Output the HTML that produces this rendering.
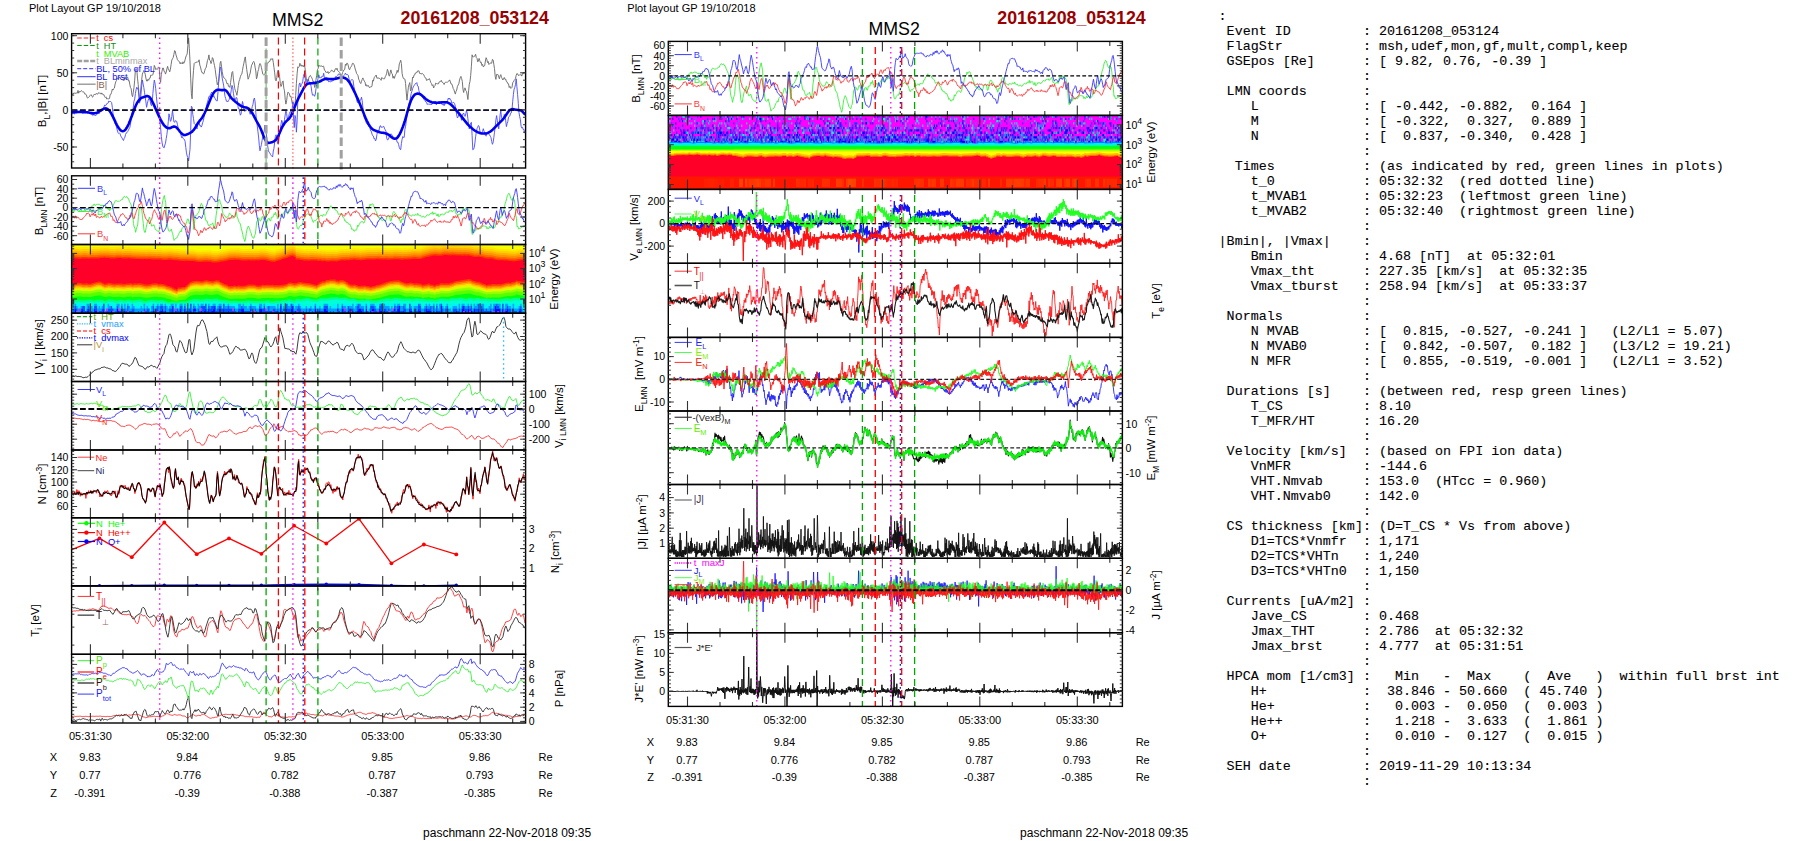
<!DOCTYPE html>
<html><head><meta charset="utf-8"><title>MMS2 20161208_053124</title>
<style>
html,body{margin:0;padding:0;background:#fff;width:1804px;height:841px;overflow:hidden}
body{position:relative;font-family:"Liberation Sans",sans-serif}
pre{position:absolute;left:1218.6px;top:9.1px;margin:0;font-family:"Liberation Mono",monospace;font-size:13.36px;line-height:15px;color:#000;white-space:pre;-webkit-text-stroke:0.1px #000}
</style></head><body>
<svg width="1804" height="841" viewBox="0 0 1804 841" font-family="Liberation Sans, sans-serif" style="position:absolute;left:0;top:0">
<rect x="71.6" y="244.5" width="454.0" height="68.7" fill="#f4ff00"/>
<path d="M71.6 313.2V246.8h2v-.1h2v.2h2v.3h2v.1h2v-.2h2v-.1h2v.1h2v.2h2v-.3h4v.1h2v-.1h2v-.1h2v-.4h4v-.2h2v.2h4v.4h2v.1h2v.1h2v-.4h2v-.1h4v.5h2v-.2h4v-.1h2v.2h2v.3h4v.2h4v.1h2v.1h2v-.1h2v.2h2v-.2h2v.1h2v.2h4v.2h2v-.2h2v.2h2v.3h2v.1h4v-.3h4v.3h2v.2h4v.3h2v.3h2v.1h4v-.1h2v.2h4v.1h2v.1h2v.5h2v.4h2v-.1h2v-.2h2v-.1h4v.1h4v.6h2v.2h4v-.4h2v-.5h2v-.1h2v-.4h2v-.4h2v-.6h2v-.3h4v-.2h2v.1h4v.4h2v.2h2v.1h2v-.1h2v-.1h2v.2h2v-.1h2v.2h2v-.3h2v.1h2v-.4h4v.1h2v.3h2v.6h2v.6h2v.2h2v.1h2v-.9h2v-.5h2v-.6h2v-.8h2v-.6h2v-.6h2v-.7h2v-.6h2v-.5h2v.8h2v2.6h2v.1h2v.5h2v.2h2v.4h2v-.1h2v.2h2v-.3h4v.1h4v.4h2v-.2h2v.5h2v-.2h2v.5h2v-.1h2v-.2h2v-.1h2v.1h2v.1h2v-.4h2v-.4h2v-.3h2v.1h2v-.2h2v.1h2v-.4h2v-.1h2v-.2h2v.3h4v.4h2v-.3h2v-.1h2v-.3h2v-.1h8v-.2h2v-.1h2v.3h2v.1h4v-.2h2v.3h2v-.1h4v-.4h4v.1h2v.1h2v.3h2v-.4h2v.1h2v-.2h4v-.3h2v-.2h2v.2h2v.1h4v-.8h2v-.5h2v-.6h2v-.4h2v-.5h2v-.2h40v.4h2v.6h4v-.2h2v.3h2v.4h2v.7h2v.3h2v.2h2v-.1h2v.2h2v.6h2v.6h2v.2h2v.1h4v.1h2v.2h2v.2h2v.3h2v.1h2v.1h2v-.4h2v-.2h2v-.4h2v-.2h4V313.2z" fill="#ffe800"/>
<path d="M71.6 313.2V248.8h2v-.1h2v.2h2v.3h2v.1h2v-.2h2v-.1h2v.1h2v.2h2v-.3h4v.1h2v-.1h2v-.1h2v-.4h4v-.2h2v.2h4v.4h2v.1h2v.1h2v-.4h2v-.1h4v.5h2v-.2h4v-.1h2v.2h2v.3h4v.2h4v.1h2v.1h2v-.1h2v.2h2v-.2h2v.1h2v.2h4v.2h2v-.2h2v.2h2v.3h2v.1h4v-.3h4v.3h2v.2h4v.3h2v.3h2v.1h4v-.1h2v.2h4v.1h2v.1h2v.5h2v.4h2v-.1h2v-.2h2v-.1h4v.1h4v.6h2v.2h4v-.4h2v-.5h2v-.1h2v-.4h2v-.4h2v-.6h2v-.3h4v-.2h2v.1h4v.4h2v.2h2v.1h2v-.1h2v-.1h2v.2h2v-.1h2v.2h2v-.3h2v.1h2v-.4h4v.1h2v.3h2v.6h2v.6h2v.2h2v.1h2v-.9h2v-.5h2v-.6h2v-.8h2v-.6h2v-.6h2v-.7h2v-.6h2v-.5h2v.8h2v2.6h2v.1h2v.5h2v.2h2v.4h2v-.1h2v.2h2v-.3h4v.1h4v.4h2v-.2h2v.5h2v-.2h2v.5h2v-.1h2v-.2h2v-.1h2v.1h2v.1h2v-.4h2v-.4h2v-.3h2v.1h2v-.2h2v.1h2v-.4h2v-.1h2v-.2h2v.3h4v.4h2v-.3h2v-.1h2v-.3h2v-.1h8v-.2h2v-.1h2v.3h2v.1h4v-.2h2v.3h2v-.1h4v-.4h4v.1h2v.1h2v.3h2v-.4h2v.1h2v-.2h4v-.3h2v-.2h2v.2h2v.1h4v-.8h2v-.5h2v-.6h2v-.4h2v-.5h2v-.4h2v-.2h2v.1h2v.1h4v-.4h2v-.4h4v.2h2v.2h2v-.2h2v.1h2v.2h2v.1h2v-.1h2v.2h2v-.3h2v.3h2v-.1h2v.4h2v.4h2v.6h4v-.2h2v.3h2v.4h2v.7h2v.3h2v.2h2v-.1h2v.2h2v.6h2v.6h2v.2h2v.1h4v.1h2v.2h2v.2h2v.3h2v.1h2v.1h2v-.4h2v-.2h2v-.4h2v-.2h4V313.2z" fill="#ffd000"/>
<path d="M71.6 313.2V250.9h2v-.1h2v.2h2v.3h2v.1h2v-.2h2v-.1h2v.1h2v.2h2v-.3h4v.1h2v-.1h2v-.1h2v-.4h4v-.2h2v.2h4v.4h2v.1h2v.1h2v-.4h2v-.1h4v.5h2v-.2h4v-.1h2v.2h2v.3h4v.2h4v.1h2v.1h2v-.1h2v.2h2v-.2h2v.1h2v.2h4v.2h2v-.2h2v.2h2v.3h2v.1h4v-.3h4v.3h2v.2h4v.3h2v.3h2v.1h4v-.1h2v.2h4v.1h2v.1h2v.5h2v.4h2v-.1h2v-.2h2v-.1h4v.1h4v.6h2v.2h4v-.4h2v-.5h2v-.1h2v-.4h2v-.4h2v-.6h2v-.3h4v-.2h2v.1h4v.4h2v.2h2v.1h2v-.1h2v-.1h2v.2h2v-.1h2v.2h2v-.3h2v.1h2v-.4h4v.1h2v.3h2v.6h2v.6h2v.2h2v.1h2v-.9h2v-.5h2v-.6h2v-.8h2v-.6h2v-.6h2v-.7h2v-.6h2v-.5h2v.8h2v2.6h2v.1h2v.5h2v.2h2v.4h2v-.1h2v.2h2v-.3h4v.1h4v.4h2v-.2h2v.5h2v-.2h2v.5h2v-.1h2v-.2h2v-.1h2v.1h2v.1h2v-.4h2v-.4h2v-.3h2v.1h2v-.2h2v.1h2v-.4h2v-.1h2v-.2h2v.3h4v.4h2v-.3h2v-.1h2v-.3h2v-.1h8v-.2h2v-.1h2v.3h2v.1h4v-.2h2v.3h2v-.1h4v-.4h4v.1h2v.1h2v.3h2v-.4h2v.1h2v-.2h4v-.3h2v-.2h2v.2h2v.1h4v-.8h2v-.5h2v-.6h2v-.4h2v-.5h2v-.4h2v-.2h2v.1h2v.1h4v-.4h2v-.4h4v.2h2v.2h2v-.2h2v.1h2v.2h2v.1h2v-.1h2v.2h2v-.3h2v.3h2v-.1h2v.4h2v.4h2v.6h4v-.2h2v.3h2v.4h2v.7h2v.3h2v.2h2v-.1h2v.2h2v.6h2v.6h2v.2h2v.1h4v.1h2v.2h2v.2h2v.3h2v.1h2v.1h2v-.4h2v-.2h2v-.4h2v-.2h4V313.2z" fill="#ffb000"/>
<path d="M71.6 313.2V252.9h2v-.1h2v.2h2v.3h2v.1h2v-.2h2v-.1h2v.1h2v.2h2v-.3h4v.1h2v-.1h2v-.1h2v-.4h4v-.2h2v.2h4v.4h2v.1h2v.1h2v-.4h2v-.1h4v.5h2v-.2h4v-.1h2v.2h2v.3h4v.2h4v.1h2v.1h2v-.1h2v.2h2v-.2h2v.1h2v.2h4v.2h2v-.2h2v.2h2v.3h2v.1h4v-.3h4v.3h2v.2h4v.3h2v.3h2v.1h4v-.1h2v.2h4v.1h2v.1h2v.5h2v.4h2v-.1h2v-.2h2v-.1h4v.1h4v.6h2v.2h4v-.4h2v-.5h2v-.1h2v-.4h2v-.4h2v-.6h2v-.3h4v-.2h2v.1h4v.4h2v.2h2v.1h2v-.1h2v-.1h2v.2h2v-.1h2v.2h2v-.3h2v.1h2v-.4h4v.1h2v.3h2v.6h2v.6h2v.2h2v.1h2v-.9h2v-.5h2v-.6h2v-.8h2v-.6h2v-.6h2v-.7h2v-.6h2v-.5h2v.8h2v2.6h2v.1h2v.5h2v.2h2v.4h2v-.1h2v.2h2v-.3h4v.1h4v.4h2v-.2h2v.5h2v-.2h2v.5h2v-.1h2v-.2h2v-.1h2v.1h2v.1h2v-.4h2v-.4h2v-.3h2v.1h2v-.2h2v.1h2v-.4h2v-.1h2v-.2h2v.3h4v.4h2v-.3h2v-.1h2v-.3h2v-.1h8v-.2h2v-.1h2v.3h2v.1h4v-.2h2v.3h2v-.1h4v-.4h4v.1h2v.1h2v.3h2v-.4h2v.1h2v-.2h4v-.3h2v-.2h2v.2h2v.1h4v-.8h2v-.5h2v-.6h2v-.4h2v-.5h2v-.4h2v-.2h2v.1h2v.1h4v-.4h2v-.4h4v.2h2v.2h2v-.2h2v.1h2v.2h2v.1h2v-.1h2v.2h2v-.3h2v.3h2v-.1h2v.4h2v.4h2v.6h4v-.2h2v.3h2v.4h2v.7h2v.3h2v.2h2v-.1h2v.2h2v.6h2v.6h2v.2h2v.1h4v.1h2v.2h2v.2h2v.3h2v.1h2v.1h2v-.4h2v-.2h2v-.4h2v-.2h4V313.2z" fill="#ff9000"/>
<path d="M71.6 313.2V254.9h2v-.1h2v.2h2v.3h2v.1h2v-.2h2v-.1h2v.1h2v.2h2v-.3h4v.1h2v-.1h2v-.1h2v-.4h4v-.2h2v.2h4v.4h2v.1h2v.1h2v-.4h2v-.1h4v.5h2v-.2h4v-.1h2v.2h2v.3h4v.2h4v.1h2v.1h2v-.1h2v.2h2v-.2h2v.1h2v.2h4v.2h2v-.2h2v.2h2v.3h2v.1h4v-.3h4v.3h2v.2h4v.3h2v.3h2v.1h4v-.1h2v.2h4v.1h2v.1h2v.5h2v.4h2v-.1h2v-.2h2v-.1h4v.1h4v.6h2v.2h4v-.4h2v-.5h2v-.1h2v-.4h2v-.4h2v-.6h2v-.3h4v-.2h2v.1h4v.4h2v.2h2v.1h2v-.1h2v-.1h2v.2h2v-.1h2v.2h2v-.3h2v.1h2v-.4h4v.1h2v.3h2v.6h2v.6h2v.2h2v.1h2v-.9h2v-.5h2v-.6h2v-.8h2v-.6h2v-.6h2v-.7h2v-.6h2v-.5h2v.8h2v2.6h2v.1h2v.5h2v.2h2v.4h2v-.1h2v.2h2v-.3h4v.1h4v.4h2v-.2h2v.5h2v-.2h2v.5h2v-.1h2v-.2h2v-.1h2v.1h2v.1h2v-.4h2v-.4h2v-.3h2v.1h2v-.2h2v.1h2v-.4h2v-.1h2v-.2h2v.3h4v.4h2v-.3h2v-.1h2v-.3h2v-.1h8v-.2h2v-.1h2v.3h2v.1h4v-.2h2v.3h2v-.1h4v-.4h4v.1h2v.1h2v.3h2v-.4h2v.1h2v-.2h4v-.3h2v-.2h2v.2h2v.1h4v-.8h2v-.5h2v-.6h2v-.4h2v-.5h2v-.4h2v-.2h2v.1h2v.1h4v-.4h2v-.4h4v.2h2v.2h2v-.2h2v.1h2v.2h2v.1h2v-.1h2v.2h2v-.3h2v.3h2v-.1h2v.4h2v.4h2v.6h4v-.2h2v.3h2v.4h2v.7h2v.3h2v.2h2v-.1h2v.2h2v.6h2v.6h2v.2h2v.1h4v.1h2v.2h2v.2h2v.3h2v.1h2v.1h2v-.4h2v-.2h2v-.4h2v-.2h4V313.2z" fill="#ff6800"/>
<path d="M71.6 313.2V256.7h2v-.1h2v.2h2v.3h2v.1h2v-.2h2v-.1h2v.1h2v.2h2v-.3h4v.1h2v-.1h2v-.1h2v-.4h4v-.2h2v.2h4v.4h2v.1h2v.1h2v-.4h2v-.1h4v.5h2v-.2h4v-.1h2v.2h2v.3h4v.2h4v.1h2v.1h2v-.1h2v.2h2v-.2h2v.1h2v.2h4v.2h2v-.2h2v.2h2v.3h2v.1h4v-.3h4v.3h2v.2h4v.3h2v.3h2v.1h4v-.1h2v.2h4v.1h2v.1h2v.5h2v.4h2v-.1h2v-.2h2v-.1h4v.1h4v.6h2v.2h4v-.4h2v-.5h2v-.1h2v-.4h2v-.4h2v-.6h2v-.3h4v-.2h2v.1h4v.4h2v.2h2v.1h2v-.1h2v-.1h2v.2h2v-.1h2v.2h2v-.3h2v.1h2v-.4h4v.1h2v.3h2v.6h2v.6h2v.2h2v.1h2v-.9h2v-.5h2v-.6h2v-.8h2v-.6h2v-.6h2v-.7h2v-.6h2v-.5h2v.8h2v2.6h2v.1h2v.5h2v.2h2v.4h2v-.1h2v.2h2v-.3h4v.1h4v.4h2v-.2h2v.5h2v-.2h2v.5h2v-.1h2v-.2h2v-.1h2v.1h2v.1h2v-.4h2v-.4h2v-.3h2v.1h2v-.2h2v.1h2v-.4h2v-.1h2v-.2h2v.3h4v.4h2v-.3h2v-.1h2v-.3h2v-.1h8v-.2h2v-.1h2v.3h2v.1h4v-.2h2v.3h2v-.1h4v-.4h4v.1h2v.1h2v.3h2v-.4h2v.1h2v-.2h4v-.3h2v-.2h2v.2h2v.1h4v-.8h2v-.5h2v-.6h2v-.4h2v-.5h2v-.4h2v-.2h2v.1h2v.1h4v-.4h2v-.4h4v.2h2v.2h2v-.2h2v.1h2v.2h2v.1h2v-.1h2v.2h2v-.3h2v.3h2v-.1h2v.4h2v.4h2v.6h4v-.2h2v.3h2v.4h2v.7h2v.3h2v.2h2v-.1h2v.2h2v.6h2v.6h2v.2h2v.1h4v.1h2v.2h2v.2h2v.3h2v.1h2v.1h2v-.4h2v-.2h2v-.4h2v-.2h4V313.2z" fill="#ff3800"/>
<path d="M71.6 313.2V258.3h2v-.1h2v.2h2v.3h2v.1h2v-.2h2v-.1h2v.1h2v.2h2v-.3h4v.1h2v-.1h2v-.1h2v-.4h4v-.2h2v.2h4v.4h2v.1h2v.1h2v-.4h2v-.1h4v.5h2v-.2h4v-.1h2v.2h2v.3h4v.2h4v.1h2v.1h2v-.1h2v.2h2v-.2h2v.1h2v.2h4v.2h2v-.2h2v.2h2v.3h2v.1h4v-.3h4v.3h2v.2h4v.3h2v.3h2v.1h4v-.1h2v.2h4v.1h2v.1h2v.5h2v.4h2v-.1h2v-.2h2v-.1h4v.1h4v.6h2v.2h4v-.4h2v-.5h2v-.1h2v-.4h2v-.4h2v-.6h2v-.3h4v-.2h2v.1h4v.4h2v.2h2v.1h2v-.1h2v-.1h2v.2h2v-.1h2v.2h2v-.3h2v.1h2v-.4h4v.1h2v.3h2v.6h2v.6h2v.2h2v.1h2v-.9h2v-.5h2v-.6h2v-.8h2v-.6h2v-.6h2v-.7h2v-.6h2v-.5h2v.8h2v2.6h2v.1h2v.5h2v.2h2v.4h2v-.1h2v.2h2v-.3h4v.1h4v.4h2v-.2h2v.5h2v-.2h2v.5h2v-.1h2v-.2h2v-.1h2v.1h2v.1h2v-.4h2v-.4h2v-.3h2v.1h2v-.2h2v.1h2v-.4h2v-.1h2v-.2h2v.3h4v.4h2v-.3h2v-.1h2v-.3h2v-.1h8v-.2h2v-.1h2v.3h2v.1h4v-.2h2v.3h2v-.1h4v-.4h4v.1h2v.1h2v.3h2v-.4h2v.1h2v-.2h4v-.3h2v-.2h2v.2h2v.1h4v-.8h2v-.5h2v-.6h2v-.4h2v-.5h2v-.4h2v-.2h2v.1h2v.1h4v-.4h2v-.4h4v.2h2v.2h2v-.2h2v.1h2v.2h2v.1h2v-.1h2v.2h2v-.3h2v.3h2v-.1h2v.4h2v.4h2v.6h4v-.2h2v.3h2v.4h2v.7h2v.3h2v.2h2v-.1h2v.2h2v.6h2v.6h2v.2h2v.1h4v.1h2v.2h2v.2h2v.3h2v.1h2v.1h2v-.4h2v-.2h2v-.4h2v-.2h4V313.2z" fill="#ff0028"/>
<path d="M71.6 313.2V283.2h2v.4h2v-.7h2v-.1h2v.2h2v.5h2v.1h2v-.3h2v.4h4v-.6h2v-.6h2v-.6h2v-.3h2v.1h2v1h2v1h2v-.2h2v-.7h2v.3h2v.4h2v.3h2v-.4h4v.2h2v.2h2v.1h2v-.5h4v-.2h2v.6h2v-.5h2v.2h2v-.3h2v.1h2v.5h2v.5h2v.3h2v-.2h2v-.3h2v-.7h2v-.1h2v-.1h2v.9h2v-.3h2v.3h2v.3h2v1.1h2v.5h2v.5h2v1.1h2v.8h2v.9h2v-1.7h2v-.2h2v-.4h2v-.1h2v-1.3h2v-1.8h2v-1.8h2v-.7h2v-.3h2v-.3h2v.3h2v.2h4v-.6h2v-.4h2v.5h2v.3h2v.3h2v-.6h2v-.5h2v.4h2v1.3h2v1.2h2v.9h2v.6h2v1.1h2v.4h2v-.2h2v-.5h2v.5h2v-.3h2v.2h4v-.1h2v-.5h2v-.6h6v.1h2v.7h2v.3h2v-.1h2v-.9h2v.3h2v-.3h2v.1h2v.1h2v-.1h2v.4h2v-.1h2v.1h2v-.3h2v-.1h2v-.4h2v-.5h2v-1.2h2v-.2h2v.4h2v.4h2v-.4h2v-.6h2v-.4h2v.5h2v.3h2v.3h2v.1h2v.4h2v.4h2v.5h2v.6h2v-1.4h2v-1.3h2v-1h2v-.1h2v-1.1h2v-.1h2v-.6h2v.1h2v.1h2v.8h2v.4h2v-.7h4v.6h2v1.4h2v1.5h2v1h2v.2h2v-.3h2v.6h2v.8h2v-.1h4v-.4h2v.6h2v.2h2v.5h2v-.5h2v-.3h2v-.8h2v-.3h2v-.6h2v-.7h2v-.7h2v-.7h2v-.7h2v-.5h2v-.1h2v-.3h2v-.1h2v-.1h2v.9h2v.7h2v.8h2v.5h2v-.1h2v-.5h2v.3h2v.6h2v-.2h2v.3h2v.2h2v1h2v-.4h2v-.2h2v-.6h2v.9h2v.2h2v.7h2v-1h4v-1.1h4v.1h2v-.1h2v.1h2v-.6h2v-.4h2v-.9h2v-.6h2v-.2h2v-.2h2v-.4h2v-.3h2v-.3h2v-.4h2v.4h2v1.1h2v.5h2v.6h2v.1h2v.8h2v.8h2v.6h2v.9h2v-.5h2v.2h2v-.5h4v.1h2v-.1h2v.1h2v-.5h2v-.5h2v-.5h2v-.3h2v.3h2v-.6h2v-.4h2v-1.2h2v.6h2v.2h2v.5h2v.4h2V313.2z" fill="#ff3c00"/>
<path d="M71.6 313.2V284.8h2v.4h2v-.7h2v-.1h2v.2h2v.5h2v.1h2v-.3h2v.4h4v-.6h2v-.6h2v-.6h2v-.3h2v.1h2v1h2v1h2v-.2h2v-.7h2v.3h2v.4h2v.3h2v-.4h4v.2h2v.2h2v.1h2v-.5h4v-.2h2v.6h2v-.5h2v.2h2v-.3h2v.1h2v.5h2v.5h2v.3h2v-.2h2v-.3h2v-.7h2v-.1h2v-.1h2v.9h2v-.3h2v.3h2v.3h2v1.1h2v.5h2v.5h2v1.1h2v.8h2v.9h2v-1.7h2v-.2h2v-.4h2v-.1h2v-1.3h2v-1.8h2v-1.8h2v-.7h2v-.3h2v-.3h2v.3h2v.2h4v-.6h2v-.4h2v.5h2v.3h2v.3h2v-.6h2v-.5h2v.4h2v1.3h2v1.2h2v.9h2v.6h2v1.1h2v.4h2v-.2h2v-.5h2v.5h2v-.3h2v.2h4v-.1h2v-.5h2v-.6h6v.1h2v.7h2v.3h2v-.1h2v-.9h2v.3h2v-.3h2v.1h2v.1h2v-.1h2v.4h2v-.1h2v.1h2v-.3h2v-.1h2v-.4h2v-.5h2v-1.2h2v-.2h2v.4h2v.4h2v-.4h2v-.6h2v-.4h2v.5h2v.3h2v.3h2v.1h2v.4h2v.4h2v.5h2v.6h2v-1.4h2v-1.3h2v-1h2v-.1h2v-1.1h2v-.1h2v-.6h2v.1h2v.1h2v.8h2v.4h2v-.7h4v.6h2v1.4h2v1.5h2v1h2v.2h2v-.3h2v.6h2v.8h2v-.1h4v-.4h2v.6h2v.2h2v.5h2v-.5h2v-.3h2v-.8h2v-.3h2v-.6h2v-.7h2v-.7h2v-.7h2v-.7h2v-.5h2v-.1h2v-.3h2v-.1h2v-.1h2v.9h2v.7h2v.8h2v.5h2v-.1h2v-.5h2v.3h2v.6h2v-.2h2v.3h2v.2h2v1h2v-.4h2v-.2h2v-.6h2v.9h2v.2h2v.7h2v-1h4v-1.1h4v.1h2v-.1h2v.1h2v-.6h2v-.4h2v-.9h2v-.6h2v-.2h2v-.2h2v-.4h2v-.3h2v-.3h2v-.4h2v.4h2v1.1h2v.5h2v.6h2v.1h2v.8h2v.8h2v.6h2v.9h2v-.5h2v.2h2v-.5h4v.1h2v-.1h2v.1h2v-.5h2v-.5h2v-.5h2v-.3h2v.3h2v-.6h2v-.4h2v-1.2h2v.6h2v.2h2v.5h2v.4h2V313.2z" fill="#ff7800"/>
<path d="M71.6 313.2V286.4h2v.4h2v-.7h2v-.1h2v.2h2v.5h2v.1h2v-.3h2v.4h4v-.6h2v-.6h2v-.6h2v-.3h2v.1h2v1h2v1h2v-.2h2v-.7h2v.3h2v.4h2v.3h2v-.4h4v.2h2v.2h2v.1h2v-.5h4v-.2h2v.6h2v-.5h2v.2h2v-.3h2v.1h2v.5h2v.5h2v.3h2v-.2h2v-.3h2v-.7h2v-.1h2v-.1h2v.9h2v-.3h2v.3h2v.3h2v1.1h2v.5h2v.5h2v1.1h2v.8h2v.9h2v-1.7h2v-.2h2v-.4h2v-.1h2v-1.3h2v-1.8h2v-1.8h2v-.7h2v-.3h2v-.3h2v.3h2v.2h4v-.6h2v-.4h2v.5h2v.3h2v.3h2v-.6h2v-.5h2v.4h2v1.3h2v1.2h2v.9h2v.6h2v1.1h2v.4h2v-.2h2v-.5h2v.5h2v-.3h2v.2h4v-.1h2v-.5h2v-.6h6v.1h2v.7h2v.3h2v-.1h2v-.9h2v.3h2v-.3h2v.1h2v.1h2v-.1h2v.4h2v-.1h2v.1h2v-.3h2v-.1h2v-.4h2v-.5h2v-1.2h2v-.2h2v.4h2v.4h2v-.4h2v-.6h2v-.4h2v.5h2v.3h2v.3h2v.1h2v.4h2v.4h2v.5h2v.6h2v-1.4h2v-1.3h2v-1h2v-.1h2v-1.1h2v-.1h2v-.6h2v.1h2v.1h2v.8h2v.4h2v-.7h4v.6h2v1.4h2v1.5h2v1h2v.2h2v-.3h2v.6h2v.8h2v-.1h4v-.4h2v.6h2v.2h2v.5h2v-.5h2v-.3h2v-.8h2v-.3h2v-.6h2v-.7h2v-.7h2v-.7h2v-.7h2v-.5h2v-.1h2v-.3h2v-.1h2v-.1h2v.9h2v.7h2v.8h2v.5h2v-.1h2v-.5h2v.3h2v.6h2v-.2h2v.3h2v.2h2v1h2v-.4h2v-.2h2v-.6h2v.9h2v.2h2v.7h2v-1h4v-1.1h4v.1h2v-.1h2v.1h2v-.6h2v-.4h2v-.9h2v-.6h2v-.2h2v-.2h2v-.4h2v-.3h2v-.3h2v-.4h2v.4h2v1.1h2v.5h2v.6h2v.1h2v.8h2v.8h2v.6h2v.9h2v-.5h2v.2h2v-.5h4v.1h2v-.1h2v.1h2v-.5h2v-.5h2v-.5h2v-.3h2v.3h2v-.6h2v-.4h2v-1.2h2v.6h2v.2h2v.5h2v.4h2V313.2z" fill="#ffb000"/>
<path d="M71.6 313.2V287.8h2v.4h2v-.7h2v-.1h2v.2h2v.5h2v.1h2v-.3h2v.4h4v-.6h2v-.6h2v-.6h2v-.3h2v.1h2v1h2v1h2v-.2h2v-.7h2v.3h2v.4h2v.3h2v-.4h4v.2h2v.2h2v.1h2v-.5h4v-.2h2v.6h2v-.5h2v.2h2v-.3h2v.1h2v.5h2v.5h2v.3h2v-.2h2v-.3h2v-.7h2v-.1h2v-.1h2v.9h2v-.3h2v.3h2v.3h2v1.1h2v.5h2v.5h2v1.1h2v.8h2v.9h2v-1.7h2v-.2h2v-.4h2v-.1h2v-1.3h2v-1.8h2v-1.8h2v-.7h2v-.3h2v-.3h2v.3h2v.2h4v-.6h2v-.4h2v.5h2v.3h2v.3h2v-.6h2v-.5h2v.4h2v1.3h2v1.2h2v.9h2v.6h2v1.1h2v.4h2v-.2h2v-.5h2v.5h2v-.3h2v.2h4v-.1h2v-.5h2v-.6h6v.1h2v.7h2v.3h2v-.1h2v-.9h2v.3h2v-.3h2v.1h2v.1h2v-.1h2v.4h2v-.1h2v.1h2v-.3h2v-.1h2v-.4h2v-.5h2v-1.2h2v-.2h2v.4h2v.4h2v-.4h2v-.6h2v-.4h2v.5h2v.3h2v.3h2v.1h2v.4h2v.4h2v.5h2v.6h2v-1.4h2v-1.3h2v-1h2v-.1h2v-1.1h2v-.1h2v-.6h2v.1h2v.1h2v.8h2v.4h2v-.7h4v.6h2v1.4h2v1.5h2v1h2v.2h2v-.3h2v.6h2v.8h2v-.1h4v-.4h2v.6h2v.2h2v.5h2v-.5h2v-.3h2v-.8h2v-.3h2v-.6h2v-.7h2v-.7h2v-.7h2v-.7h2v-.5h2v-.1h2v-.3h2v-.1h2v-.1h2v.9h2v.7h2v.8h2v.5h2v-.1h2v-.5h2v.3h2v.6h2v-.2h2v.3h2v.2h2v1h2v-.4h2v-.2h2v-.6h2v.9h2v.2h2v.7h2v-1h4v-1.1h4v.1h2v-.1h2v.1h2v-.6h2v-.4h2v-.9h2v-.6h2v-.2h2v-.2h2v-.4h2v-.3h2v-.3h2v-.4h2v.4h2v1.1h2v.5h2v.6h2v.1h2v.8h2v.8h2v.6h2v.9h2v-.5h2v.2h2v-.5h4v.1h2v-.1h2v.1h2v-.5h2v-.5h2v-.5h2v-.3h2v.3h2v-.6h2v-.4h2v-1.2h2v.6h2v.2h2v.5h2v.4h2V313.2z" fill="#ffe000"/>
<path d="M71.6 313.2V289.2h2v.4h2v-.7h2v-.1h2v.2h2v.5h2v.1h2v-.3h2v.4h4v-.6h2v-.6h2v-.6h2v-.3h2v.1h2v1h2v1h2v-.2h2v-.7h2v.3h2v.4h2v.3h2v-.4h4v.2h2v.2h2v.1h2v-.5h4v-.2h2v.6h2v-.5h2v.2h2v-.3h2v.1h2v.5h2v.5h2v.3h2v-.2h2v-.3h2v-.7h2v-.1h2v-.1h2v.9h2v-.3h2v.3h2v.3h2v1.1h2v.5h2v.5h2v1.1h2v.8h2v.9h2v-1.7h2v-.2h2v-.4h2v-.1h2v-1.3h2v-1.8h2v-1.8h2v-.7h2v-.3h2v-.3h2v.3h2v.2h4v-.6h2v-.4h2v.5h2v.3h2v.3h2v-.6h2v-.5h2v.4h2v1.3h2v1.2h2v.9h2v.6h2v1.1h2v.4h2v-.2h2v-.5h2v.5h2v-.3h2v.2h4v-.1h2v-.5h2v-.6h6v.1h2v.7h2v.3h2v-.1h2v-.9h2v.3h2v-.3h2v.1h2v.1h2v-.1h2v.4h2v-.1h2v.1h2v-.3h2v-.1h2v-.4h2v-.5h2v-1.2h2v-.2h2v.4h2v.4h2v-.4h2v-.6h2v-.4h2v.5h2v.3h2v.3h2v.1h2v.4h2v.4h2v.5h2v.6h2v-1.4h2v-1.3h2v-1h2v-.1h2v-1.1h2v-.1h2v-.6h2v.1h2v.1h2v.8h2v.4h2v-.7h4v.6h2v1.4h2v1.5h2v1h2v.2h2v-.3h2v.6h2v.8h2v-.1h4v-.4h2v.6h2v.2h2v.5h2v-.5h2v-.3h2v-.8h2v-.3h2v-.6h2v-.7h2v-.7h2v-.7h2v-.7h2v-.5h2v-.1h2v-.3h2v-.1h2v-.1h2v.9h2v.7h2v.8h2v.5h2v-.1h2v-.5h2v.3h2v.6h2v-.2h2v.3h2v.2h2v1h2v-.4h2v-.2h2v-.6h2v.9h2v.2h2v.7h2v-1h4v-1.1h4v.1h2v-.1h2v.1h2v-.6h2v-.4h2v-.9h2v-.6h2v-.2h2v-.2h2v-.4h2v-.3h2v-.3h2v-.4h2v.4h2v1.1h2v.5h2v.6h2v.1h2v.8h2v.8h2v.6h2v.9h2v-.5h2v.2h2v-.5h4v.1h2v-.1h2v.1h2v-.5h2v-.5h2v-.5h2v-.3h2v.3h2v-.6h2v-.4h2v-1.2h2v.6h2v.2h2v.5h2v.4h2V313.2z" fill="#d8ff00"/>
<path d="M71.6 313.2V290.8h2v.3h2v-.6h4v.1h2v.4h2v.1h2v-.3h2v.3h4v-.4h2v-.5h2v-.4h2v-.3h4v.8h2v.8h2v-.1h2v-.6h2v.3h2v.3h2v.2h2v-.2h2v-.1h2v.2h2v.2h4v-.4h4v-.2h2v.6h2v-.4h2v.1h2v-.2h4v.5h2v.4h2v.2h2v-.2h2v-.3h2v-.4h2v-.1h2v-.1h2v.6h2v-.2h2v.3h2v.2h2v.9h2v.4h2v.4h2v.9h2v.6h2v.7h2v-1.3h2v-.2h2v-.3h4v-1.2h2v-1.4h2v-1.4h2v-.5h2v-.3h2v-.2h2v.2h2v.2h4v-.5h2v-.3h2v.4h2v.2h2v.2h2v-.5h2v-.4h2v.4h2v1h2v1h2v.7h2v.5h2v.8h2v.4h2v-.2h2v-.4h2v.4h2v-.3h2v.2h6v-.5h2v-.4h6v.1h2v.5h2v.3h2v-.1h2v-.7h2v.2h2v-.2h4v.1h2v-.1h2v.4h2v-.1h2v.1h2v-.3h2v-.1h2v-.3h2v-.4h2v-1h2v-.1h2v.3h2v.4h2v-.4h2v-.5h2v-.3h2v.4h2v.2h2v.3h2v.1h2v.3h2v.3h2v.4h2v.5h2v-1.1h2v-1h2v-.9h2v-.1h2v-.8h2v-.1h2v-.5h2v.1h2v.1h2v.7h2v.3h2v-.7h2v.1h2v.4h2v1.2h2v1.2h2v.8h2v.2h2v-.3h2v.5h2v.6h2v-.1h4v-.3h2v.5h2v.1h2v.5h2v-.5h2v-.2h2v-.6h2v-.3h2v-.5h2v-.5h2v-.6h2v-.5h2v-.6h2v-.4h4v-.3h2v-.1h2v-.1h2v.7h2v.6h2v.7h2v.4h2v-.1h2v-.4h2v.2h2v.5h2v-.1h2v.2h2v.1h2v.9h2v-.4h2v-.1h2v-.5h2v.7h2v.1h2v.6h2v-.8h4v-.9h4v.1h6v-.5h2v-.3h2v-.7h2v-.5h2v-.1h2v-.2h2v-.3h2v-.2h2v-.3h2v-.3h2v.3h2v.9h2v.4h2v.5h4v.6h2v.7h2v.5h2v.7h2v-.4h2v.2h2v-.4h8v.1h2v-.4h2v-.5h2v-.4h2v-.2h2v.3h2v-.5h2v-.4h2v-.9h2v.5h2v.2h2v.4h2v.2h2V313.2z" fill="#98ff00"/>
<path d="M71.6 313.2V293.2h2v.3h2v-.6h4v.1h2v.4h2v.1h2v-.3h2v.3h4v-.4h2v-.5h2v-.4h2v-.3h4v.8h2v.8h2v-.1h2v-.6h2v.3h2v.3h2v.2h2v-.2h2v-.1h2v.2h2v.2h4v-.4h4v-.2h2v.6h2v-.4h2v.1h2v-.2h4v.5h2v.4h2v.2h2v-.2h2v-.3h2v-.4h2v-.1h2v-.1h2v.6h2v-.2h2v.3h2v.2h2v.9h2v.4h2v.4h2v.9h2v.6h2v.7h2v-1.3h2v-.2h2v-.3h4v-1.2h2v-1.4h2v-1.4h2v-.5h2v-.3h2v-.2h2v.2h2v.2h4v-.5h2v-.3h2v.4h2v.2h2v.2h2v-.5h2v-.4h2v.4h2v1h2v1h2v.7h2v.5h2v.8h2v.4h2v-.2h2v-.4h2v.4h2v-.3h2v.2h6v-.5h2v-.4h6v.1h2v.5h2v.3h2v-.1h2v-.7h2v.2h2v-.2h4v.1h2v-.1h2v.4h2v-.1h2v.1h2v-.3h2v-.1h2v-.3h2v-.4h2v-1h2v-.1h2v.3h2v.4h2v-.4h2v-.5h2v-.3h2v.4h2v.2h2v.3h2v.1h2v.3h2v.3h2v.4h2v.5h2v-1.1h2v-1h2v-.9h2v-.1h2v-.8h2v-.1h2v-.5h2v.1h2v.1h2v.7h2v.3h2v-.7h2v.1h2v.4h2v1.2h2v1.2h2v.8h2v.2h2v-.3h2v.5h2v.6h2v-.1h4v-.3h2v.5h2v.1h2v.5h2v-.5h2v-.2h2v-.6h2v-.3h2v-.5h2v-.5h2v-.6h2v-.5h2v-.6h2v-.4h4v-.3h2v-.1h2v-.1h2v.7h2v.6h2v.7h2v.4h2v-.1h2v-.4h2v.2h2v.5h2v-.1h2v.2h2v.1h2v.9h2v-.4h2v-.1h2v-.5h2v.7h2v.1h2v.6h2v-.8h4v-.9h4v.1h6v-.5h2v-.3h2v-.7h2v-.5h2v-.1h2v-.2h2v-.3h2v-.2h2v-.3h2v-.3h2v.3h2v.9h2v.4h2v.5h4v.6h2v.7h2v.5h2v.7h2v-.4h2v.2h2v-.4h8v.1h2v-.4h2v-.5h2v-.4h2v-.2h2v.3h2v-.5h2v-.4h2v-.9h2v.5h2v.2h2v.4h2v.2h2V313.2z" fill="#58ff00"/>
<path d="M71.6 313.2V296.7h2v.3h2v-.6h4v.1h2v.4h2v.1h2v-.3h2v.3h4v-.4h2v-.5h2v-.4h2v-.3h4v.8h2v.8h2v-.1h2v-.6h2v.3h2v.3h2v.2h2v-.2h2v-.1h2v.2h2v.2h4v-.4h4v-.2h2v.6h2v-.4h2v.1h2v-.2h4v.5h2v.4h2v.2h2v-.2h2v-.3h2v-.4h2v-.1h2v-.1h2v.6h2v-.2h2v.3h2v.2h2v.9h2v.4h2v.4h2v.9h2v.6h2v.7h2v-1.3h2v-.2h2v-.3h4v-1.2h2v-1.4h2v-1.4h2v-.5h2v-.3h2v-.2h2v.2h2v.2h4v-.5h2v-.3h2v.4h2v.2h2v.2h2v-.5h2v-.4h2v.4h2v1h2v1h2v.7h2v.5h2v.8h2v.4h2v-.2h2v-.4h2v.4h2v-.3h2v.2h6v-.5h2v-.4h6v.1h2v.5h2v.3h2v-.1h2v-.7h2v.2h2v-.2h4v.1h2v-.1h2v.4h2v-.1h2v.1h2v-.3h2v-.1h2v-.3h2v-.4h2v-1h2v-.1h2v.3h2v.4h2v-.4h2v-.5h2v-.3h2v.4h2v.2h2v.3h2v.1h2v.3h2v.3h2v.4h2v.5h2v-1.1h2v-1h2v-.9h2v-.1h2v-.8h2v-.1h2v-.5h2v.1h2v.1h2v.7h2v.3h2v-.7h2v.1h2v.4h2v1.2h2v1.2h2v.8h2v.2h2v-.3h2v.5h2v.6h2v-.1h4v-.3h2v.5h2v.1h2v.5h2v-.5h2v-.2h2v-.6h2v-.3h2v-.5h2v-.5h2v-.6h2v-.5h2v-.6h2v-.4h4v-.3h2v-.1h2v-.1h2v.7h2v.6h2v.7h2v.4h2v-.1h2v-.4h2v.2h2v.5h2v-.1h2v.2h2v.1h2v.9h2v-.4h2v-.1h2v-.5h2v.7h2v.1h2v.6h2v-.8h4v-.9h4v.1h6v-.5h2v-.3h2v-.7h2v-.5h2v-.1h2v-.2h2v-.3h2v-.2h2v-.3h2v-.3h2v.3h2v.9h2v.4h2v.5h4v.6h2v.7h2v.5h2v.7h2v-.4h2v.2h2v-.4h8v.1h2v-.4h2v-.5h2v-.4h2v-.2h2v.3h2v-.5h2v-.4h2v-.9h2v.5h2v.2h2v.4h2v.2h2V313.2z" fill="#00ff10"/>
<path d="M71.6 313.2V299.7h2v.5h2v-.2h2v-.3h2v.5h2v.1h4v-.2h2v-.3h2v-.3h2v.7h2v.3h2v-.7h6v.3h2v.9h2v-.4h2v-1.3h2v.2h2v.2h2v.6h2v.5h2v-.5h2v-.6h2v.3h2v.8h2v-.9h2v-.2h2v.4h2v.4h2v-.2h2v-.3h2v-.3h2v-.2h2v1.1h2v.7h2v-.4h2v-.6h2v-.6h4v.5h4v.3h2v-.4h2v.1h2v.5h2v.7h2v.8h2v-.3h2v-.4h2v.3h2v.4h2v-.8h2v.1h2v-.2h2v.1h2v-.2h2v-.7h2v-.6h2v-.6h2v-.3h4v.3h2v.2h2v.1h2v-.7h2v-.1h2v.2h2v-.1h2v.4h2v-.6h2v-.1h2v.8h2v.4h2v.2h2v.3h4v.5h2v.2h2v.1h2v-.4h2v.2h2v.3h4v-.2h2v.2h2v-.6h2v-.2h2v.6h2v-.1h2v.1h4v-.1h2v.3h2v-.1h4v-.7h2v.1h2v.9h2v.1h2v-.2h2v-.8h2v.3h2v.3h2v-1.1h2v.1h2v.1h2v-1h2v.2h2v.9h2v.3h2v-1.9h2v.4h2v.3h2v-.4h2v-.4h2v-.3h2v-.1h2v.7h2v.5h4v.4h2v-.7h2v-.8h2v.1h2v.1h2v-.2h2v-.1h2v-.6h4v-.2h2v-.3h2v.6h2v.2h4v-.3h2v.3h2v.8h2v.2h2v-.4h4v1.2h2v.5h2v-.5h2v-.1h2v.3h2v-.7h2v-.2h2v1.2h2v.1h2v.2h2v-.1h2v-.5h2v-.5h2v-.1h2v-.5h2v-.5h2v.2h2v.4h2v-.3h2v-.7h4v.4h2v.2h2v.3h4v-.3h2v.2h2v.1h2v.5h2v-.5h2v-.6h2v.6h2v.2h2v-.2h2v.3h2v.6h2v-.4h4v.2h2v.4h2v-.4h2v-.2h2v-.9h2v.3h2v.1h2v.1h2v.3h2v-.7h2v-.2h2v-.1h4v-.1h2v-.5h2v.4h2v.7h2v.1h2v-.8h2v-.3h2v.8h2v.1h2v-.6h2v.1h2v.7h4v-.4h2v.1h2v.5h2v.3h2v-.4h2v.3h2v.3h2v-.2h4v-.4h2v-.4h2v-.2h2v.3h2v.4h2v-.7h2v-.3h2v-.3h2v.6h2v-.4h2v-.3h2v.5h2V313.2z" fill="#00ff90"/>
<path d="M71.6 313.2V302.1h2v.5h2v-.2h2v-.3h2v.5h2v.1h4v-.2h2v-.3h2v-.3h2v.7h2v.3h2v-.7h6v.3h2v.9h2v-.4h2v-1.3h2v.2h2v.2h2v.6h2v.5h2v-.5h2v-.6h2v.3h2v.8h2v-.9h2v-.2h2v.4h2v.4h2v-.2h2v-.3h2v-.3h2v-.2h2v1.1h2v.7h2v-.4h2v-.6h2v-.6h4v.5h4v.3h2v-.4h2v.1h2v.5h2v.7h2v.8h2v-.3h2v-.4h2v.3h2v.4h2v-.8h2v.1h2v-.2h2v.1h2v-.2h2v-.7h2v-.6h2v-.6h2v-.3h4v.3h2v.2h2v.1h2v-.7h2v-.1h2v.2h2v-.1h2v.4h2v-.6h2v-.1h2v.8h2v.4h2v.2h2v.3h4v.5h2v.2h2v.1h2v-.4h2v.2h2v.3h4v-.2h2v.2h2v-.6h2v-.2h2v.6h2v-.1h2v.1h4v-.1h2v.3h2v-.1h4v-.7h2v.1h2v.9h2v.1h2v-.2h2v-.8h2v.3h2v.3h2v-1.1h2v.1h2v.1h2v-1h2v.2h2v.9h2v.3h2v-1.9h2v.4h2v.3h2v-.4h2v-.4h2v-.3h2v-.1h2v.7h2v.5h4v.4h2v-.7h2v-.8h2v.1h2v.1h2v-.2h2v-.1h2v-.6h4v-.2h2v-.3h2v.6h2v.2h4v-.3h2v.3h2v.8h2v.2h2v-.4h4v1.2h2v.5h2v-.5h2v-.1h2v.3h2v-.7h2v-.2h2v1.2h2v.1h2v.2h2v-.1h2v-.5h2v-.5h2v-.1h2v-.5h2v-.5h2v.2h2v.4h2v-.3h2v-.7h4v.4h2v.2h2v.3h4v-.3h2v.2h2v.1h2v.5h2v-.5h2v-.6h2v.6h2v.2h2v-.2h2v.3h2v.6h2v-.4h4v.2h2v.4h2v-.4h2v-.2h2v-.9h2v.3h2v.1h2v.1h2v.3h2v-.7h2v-.2h2v-.1h4v-.1h2v-.5h2v.4h2v.7h2v.1h2v-.8h2v-.3h2v.8h2v.1h2v-.6h2v.1h2v.7h4v-.4h2v.1h2v.5h2v.3h2v-.4h2v.3h2v.3h2v-.2h4v-.4h2v-.4h2v-.2h2v.3h2v.4h2v-.7h2v-.3h2v-.3h2v.6h2v-.4h2v-.3h2v.5h2V313.2z" fill="#00ffd8"/>
<path d="M71.6 303.7h1.5v2.4h-1.5zM85.1 303.7h1.5v2.4h-1.5zM89.6 303.7h1.5v2.4h-1.5zM91.1 303.7h1.5v2.4h-1.5zM100.1 303.7h1.5v2.4h-1.5zM104.6 303.7h1.5v2.4h-1.5zM106.1 303.7h1.5v2.4h-1.5zM113.6 303.7h1.5v2.4h-1.5zM119.6 303.7h1.5v2.4h-1.5zM125.6 303.7h1.5v2.4h-1.5zM134.6 303.7h1.5v2.4h-1.5zM136.1 303.7h1.5v2.4h-1.5zM139.1 303.7h1.5v2.4h-1.5zM142.1 303.7h1.5v2.4h-1.5zM149.6 303.7h1.5v2.4h-1.5zM151.1 303.7h1.5v2.4h-1.5zM167.6 303.7h1.5v2.4h-1.5zM178.1 303.7h1.5v2.4h-1.5zM182.6 303.7h1.5v2.4h-1.5zM185.6 303.7h1.5v2.4h-1.5zM187.1 303.7h1.5v2.4h-1.5zM191.6 303.7h1.5v2.4h-1.5zM196.1 303.7h1.5v2.4h-1.5zM206.6 303.7h1.5v2.4h-1.5zM215.6 303.7h1.5v2.4h-1.5zM235.1 303.7h1.5v2.4h-1.5zM244.1 303.7h1.5v2.4h-1.5zM245.6 303.7h1.5v2.4h-1.5zM247.1 303.7h1.5v2.4h-1.5zM253.1 303.7h1.5v2.4h-1.5zM256.1 303.7h1.5v2.4h-1.5zM265.1 303.7h1.5v2.4h-1.5zM275.6 303.7h1.5v2.4h-1.5zM278.6 303.7h1.5v2.4h-1.5zM281.6 303.7h1.5v2.4h-1.5zM302.6 303.7h1.5v2.4h-1.5zM304.1 303.7h1.5v2.4h-1.5zM307.1 303.7h1.5v2.4h-1.5zM308.6 303.7h1.5v2.4h-1.5zM313.1 303.7h1.5v2.4h-1.5zM317.6 303.7h1.5v2.4h-1.5zM320.6 303.7h1.5v2.4h-1.5zM322.1 303.7h1.5v2.4h-1.5zM329.6 303.7h1.5v2.4h-1.5zM331.1 303.7h1.5v2.4h-1.5zM335.6 303.7h1.5v2.4h-1.5zM340.1 303.7h1.5v2.4h-1.5zM353.6 303.7h1.5v2.4h-1.5zM367.1 303.7h1.5v2.4h-1.5zM377.6 303.7h1.5v2.4h-1.5zM382.1 303.7h1.5v2.4h-1.5zM389.6 303.7h1.5v2.4h-1.5zM401.6 303.7h1.5v2.4h-1.5zM406.1 303.7h1.5v2.4h-1.5zM407.6 303.7h1.5v2.4h-1.5zM412.1 303.7h1.5v2.4h-1.5zM421.1 303.7h1.5v2.4h-1.5zM422.6 303.7h1.5v2.4h-1.5zM434.6 303.7h1.5v2.4h-1.5zM443.6 303.7h1.5v2.4h-1.5zM448.1 303.7h1.5v2.4h-1.5zM451.1 303.7h1.5v2.4h-1.5zM460.1 303.7h1.5v2.4h-1.5zM469.1 303.7h1.5v2.4h-1.5zM472.1 303.7h1.5v2.4h-1.5zM479.6 303.7h1.5v2.4h-1.5zM487.1 303.7h1.5v2.4h-1.5zM491.6 303.7h1.5v2.4h-1.5zM500.6 303.7h1.5v2.4h-1.5zM503.6 303.7h1.5v2.4h-1.5zM515.6 303.7h1.5v2.4h-1.5zM517.1 303.7h1.5v2.4h-1.5zM521.6 303.7h1.5v2.4h-1.5zM523.1 303.7h1.5v2.4h-1.5zM265.1 306.1h1.5v2.4h-1.5zM320.6 306.1h1.5v2.4h-1.5zM377.6 306.1h1.5v2.4h-1.5zM389.6 306.1h1.5v2.4h-1.5zM407.6 306.1h1.5v2.4h-1.5zM434.6 306.1h1.5v2.4h-1.5z" fill="#00ffc0"/>
<path d="M73.1 303.7h1.5v2.4h-1.5zM76.1 303.7h1.5v2.4h-1.5zM77.6 303.7h1.5v2.4h-1.5zM79.1 303.7h1.5v2.4h-1.5zM80.6 303.7h1.5v2.4h-1.5zM82.1 303.7h1.5v2.4h-1.5zM83.6 303.7h1.5v2.4h-1.5zM92.6 303.7h1.5v2.4h-1.5zM97.1 303.7h1.5v2.4h-1.5zM98.6 303.7h1.5v2.4h-1.5zM101.6 303.7h1.5v2.4h-1.5zM109.1 303.7h1.5v2.4h-1.5zM110.6 303.7h1.5v2.4h-1.5zM112.1 303.7h1.5v2.4h-1.5zM115.1 303.7h1.5v2.4h-1.5zM122.6 303.7h1.5v2.4h-1.5zM128.6 303.7h1.5v2.4h-1.5zM130.1 303.7h1.5v2.4h-1.5zM133.1 303.7h1.5v2.4h-1.5zM137.6 303.7h1.5v2.4h-1.5zM140.6 303.7h1.5v2.4h-1.5zM145.1 303.7h1.5v2.4h-1.5zM146.6 303.7h1.5v2.4h-1.5zM148.1 303.7h1.5v2.4h-1.5zM154.1 303.7h1.5v2.4h-1.5zM155.6 303.7h1.5v2.4h-1.5zM158.6 303.7h1.5v2.4h-1.5zM163.1 303.7h1.5v2.4h-1.5zM166.1 303.7h1.5v2.4h-1.5zM169.1 303.7h1.5v2.4h-1.5zM173.6 303.7h1.5v2.4h-1.5zM176.6 303.7h1.5v2.4h-1.5zM188.6 303.7h1.5v2.4h-1.5zM194.6 303.7h1.5v2.4h-1.5zM199.1 303.7h1.5v2.4h-1.5zM203.6 303.7h1.5v2.4h-1.5zM209.6 303.7h1.5v2.4h-1.5zM211.1 303.7h1.5v2.4h-1.5zM217.1 303.7h1.5v2.4h-1.5zM221.6 303.7h1.5v2.4h-1.5zM224.6 303.7h1.5v2.4h-1.5zM226.1 303.7h1.5v2.4h-1.5zM229.1 303.7h1.5v2.4h-1.5zM230.6 303.7h1.5v2.4h-1.5zM232.1 303.7h1.5v2.4h-1.5zM233.6 303.7h1.5v2.4h-1.5zM236.6 303.7h1.5v2.4h-1.5zM241.1 303.7h1.5v2.4h-1.5zM248.6 303.7h1.5v2.4h-1.5zM251.6 303.7h1.5v2.4h-1.5zM254.6 303.7h1.5v2.4h-1.5zM257.6 303.7h1.5v2.4h-1.5zM262.1 303.7h1.5v2.4h-1.5zM266.6 303.7h1.5v2.4h-1.5zM268.1 303.7h1.5v2.4h-1.5zM269.6 303.7h1.5v2.4h-1.5zM271.1 303.7h1.5v2.4h-1.5zM272.6 303.7h1.5v2.4h-1.5zM274.1 303.7h1.5v2.4h-1.5zM283.1 303.7h1.5v2.4h-1.5zM284.6 303.7h1.5v2.4h-1.5zM287.6 303.7h1.5v2.4h-1.5zM289.1 303.7h1.5v2.4h-1.5zM293.6 303.7h1.5v2.4h-1.5zM295.1 303.7h1.5v2.4h-1.5zM296.6 303.7h1.5v2.4h-1.5zM299.6 303.7h1.5v2.4h-1.5zM301.1 303.7h1.5v2.4h-1.5zM305.6 303.7h1.5v2.4h-1.5zM310.1 303.7h1.5v2.4h-1.5zM311.6 303.7h1.5v2.4h-1.5zM316.1 303.7h1.5v2.4h-1.5zM319.1 303.7h1.5v2.4h-1.5zM328.1 303.7h1.5v2.4h-1.5zM332.6 303.7h1.5v2.4h-1.5zM334.1 303.7h1.5v2.4h-1.5zM338.6 303.7h1.5v2.4h-1.5zM343.1 303.7h1.5v2.4h-1.5zM344.6 303.7h1.5v2.4h-1.5zM346.1 303.7h1.5v2.4h-1.5zM347.6 303.7h1.5v2.4h-1.5zM349.1 303.7h1.5v2.4h-1.5zM350.6 303.7h1.5v2.4h-1.5zM355.1 303.7h1.5v2.4h-1.5zM361.1 303.7h1.5v2.4h-1.5zM362.6 303.7h1.5v2.4h-1.5zM364.1 303.7h1.5v2.4h-1.5zM368.6 303.7h1.5v2.4h-1.5zM374.6 303.7h1.5v2.4h-1.5zM376.1 303.7h1.5v2.4h-1.5zM385.1 303.7h1.5v2.4h-1.5zM386.6 303.7h1.5v2.4h-1.5zM388.1 303.7h1.5v2.4h-1.5zM391.1 303.7h1.5v2.4h-1.5zM392.6 303.7h1.5v2.4h-1.5zM395.6 303.7h1.5v2.4h-1.5zM400.1 303.7h1.5v2.4h-1.5zM410.6 303.7h1.5v2.4h-1.5zM413.6 303.7h1.5v2.4h-1.5zM415.1 303.7h1.5v2.4h-1.5zM416.6 303.7h1.5v2.4h-1.5zM424.1 303.7h1.5v2.4h-1.5zM427.1 303.7h1.5v2.4h-1.5zM430.1 303.7h1.5v2.4h-1.5zM431.6 303.7h1.5v2.4h-1.5zM437.6 303.7h1.5v2.4h-1.5zM442.1 303.7h1.5v2.4h-1.5zM445.1 303.7h1.5v2.4h-1.5zM449.6 303.7h1.5v2.4h-1.5zM452.6 303.7h1.5v2.4h-1.5zM454.1 303.7h1.5v2.4h-1.5zM455.6 303.7h1.5v2.4h-1.5zM457.1 303.7h1.5v2.4h-1.5zM464.6 303.7h1.5v2.4h-1.5zM466.1 303.7h1.5v2.4h-1.5zM475.1 303.7h1.5v2.4h-1.5zM484.1 303.7h1.5v2.4h-1.5zM485.6 303.7h1.5v2.4h-1.5zM488.6 303.7h1.5v2.4h-1.5zM508.1 303.7h1.5v2.4h-1.5zM509.6 303.7h1.5v2.4h-1.5zM511.1 303.7h1.5v2.4h-1.5zM514.1 303.7h1.5v2.4h-1.5zM518.6 303.7h1.5v2.4h-1.5zM524.6 303.7h1v2.4h-1zM71.6 306.1h1.5v2.4h-1.5zM77.6 306.1h1.5v2.4h-1.5zM79.1 306.1h1.5v2.4h-1.5zM85.1 306.1h1.5v2.4h-1.5zM89.6 306.1h1.5v2.4h-1.5zM92.6 306.1h1.5v2.4h-1.5zM97.1 306.1h1.5v2.4h-1.5zM100.1 306.1h1.5v2.4h-1.5zM104.6 306.1h1.5v2.4h-1.5zM106.1 306.1h1.5v2.4h-1.5zM112.1 306.1h1.5v2.4h-1.5zM113.6 306.1h1.5v2.4h-1.5zM115.1 306.1h1.5v2.4h-1.5zM119.6 306.1h1.5v2.4h-1.5zM122.6 306.1h1.5v2.4h-1.5zM125.6 306.1h1.5v2.4h-1.5zM130.1 306.1h1.5v2.4h-1.5zM134.6 306.1h1.5v2.4h-1.5zM136.1 306.1h1.5v2.4h-1.5zM137.6 306.1h1.5v2.4h-1.5zM139.1 306.1h1.5v2.4h-1.5zM142.1 306.1h1.5v2.4h-1.5zM145.1 306.1h1.5v2.4h-1.5zM148.1 306.1h1.5v2.4h-1.5zM149.6 306.1h1.5v2.4h-1.5zM154.1 306.1h1.5v2.4h-1.5zM167.6 306.1h1.5v2.4h-1.5zM173.6 306.1h1.5v2.4h-1.5zM176.6 306.1h1.5v2.4h-1.5zM178.1 306.1h1.5v2.4h-1.5zM182.6 306.1h1.5v2.4h-1.5zM185.6 306.1h1.5v2.4h-1.5zM187.1 306.1h1.5v2.4h-1.5zM188.6 306.1h1.5v2.4h-1.5zM191.6 306.1h1.5v2.4h-1.5zM196.1 306.1h1.5v2.4h-1.5zM206.6 306.1h1.5v2.4h-1.5zM215.6 306.1h1.5v2.4h-1.5zM221.6 306.1h1.5v2.4h-1.5zM235.1 306.1h1.5v2.4h-1.5zM236.6 306.1h1.5v2.4h-1.5zM247.1 306.1h1.5v2.4h-1.5zM256.1 306.1h1.5v2.4h-1.5zM257.6 306.1h1.5v2.4h-1.5zM262.1 306.1h1.5v2.4h-1.5zM275.6 306.1h1.5v2.4h-1.5zM278.6 306.1h1.5v2.4h-1.5zM281.6 306.1h1.5v2.4h-1.5zM284.6 306.1h1.5v2.4h-1.5zM293.6 306.1h1.5v2.4h-1.5zM301.1 306.1h1.5v2.4h-1.5zM302.6 306.1h1.5v2.4h-1.5zM304.1 306.1h1.5v2.4h-1.5zM307.1 306.1h1.5v2.4h-1.5zM308.6 306.1h1.5v2.4h-1.5zM311.6 306.1h1.5v2.4h-1.5zM313.1 306.1h1.5v2.4h-1.5zM316.1 306.1h1.5v2.4h-1.5zM317.6 306.1h1.5v2.4h-1.5zM322.1 306.1h1.5v2.4h-1.5zM328.1 306.1h1.5v2.4h-1.5zM331.1 306.1h1.5v2.4h-1.5zM332.6 306.1h1.5v2.4h-1.5zM334.1 306.1h1.5v2.4h-1.5zM335.6 306.1h1.5v2.4h-1.5zM338.6 306.1h1.5v2.4h-1.5zM340.1 306.1h1.5v2.4h-1.5zM346.1 306.1h1.5v2.4h-1.5zM353.6 306.1h1.5v2.4h-1.5zM364.1 306.1h1.5v2.4h-1.5zM367.1 306.1h1.5v2.4h-1.5zM368.6 306.1h1.5v2.4h-1.5zM376.1 306.1h1.5v2.4h-1.5zM392.6 306.1h1.5v2.4h-1.5zM406.1 306.1h1.5v2.4h-1.5zM412.1 306.1h1.5v2.4h-1.5zM421.1 306.1h1.5v2.4h-1.5zM422.6 306.1h1.5v2.4h-1.5zM437.6 306.1h1.5v2.4h-1.5zM443.6 306.1h1.5v2.4h-1.5zM448.1 306.1h1.5v2.4h-1.5zM449.6 306.1h1.5v2.4h-1.5zM451.1 306.1h1.5v2.4h-1.5zM457.1 306.1h1.5v2.4h-1.5zM460.1 306.1h1.5v2.4h-1.5zM472.1 306.1h1.5v2.4h-1.5zM479.6 306.1h1.5v2.4h-1.5zM484.1 306.1h1.5v2.4h-1.5zM485.6 306.1h1.5v2.4h-1.5zM487.1 306.1h1.5v2.4h-1.5zM491.6 306.1h1.5v2.4h-1.5zM500.6 306.1h1.5v2.4h-1.5zM503.6 306.1h1.5v2.4h-1.5zM511.1 306.1h1.5v2.4h-1.5zM514.1 306.1h1.5v2.4h-1.5zM515.6 306.1h1.5v2.4h-1.5zM517.1 306.1h1.5v2.4h-1.5zM521.6 306.1h1.5v2.4h-1.5zM523.1 306.1h1.5v2.4h-1.5zM85.1 308.5h1.5v2.4h-1.5zM104.6 308.5h1.5v2.4h-1.5zM149.6 308.5h1.5v2.4h-1.5zM364.1 308.5h1.5v2.4h-1.5zM367.1 308.5h1.5v2.4h-1.5zM412.1 308.5h1.5v2.4h-1.5zM451.1 308.5h1.5v2.4h-1.5zM479.6 308.5h1.5v2.4h-1.5zM523.1 308.5h1.5v2.4h-1.5z" fill="#00f0ff"/>
<path d="M74.6 303.7h1.5v2.4h-1.5zM86.6 303.7h1.5v2.4h-1.5zM88.1 303.7h1.5v2.4h-1.5zM94.1 303.7h1.5v2.4h-1.5zM95.6 303.7h1.5v2.4h-1.5zM107.6 303.7h1.5v2.4h-1.5zM116.6 303.7h1.5v2.4h-1.5zM118.1 303.7h1.5v2.4h-1.5zM121.1 303.7h1.5v2.4h-1.5zM124.1 303.7h1.5v2.4h-1.5zM127.1 303.7h1.5v2.4h-1.5zM131.6 303.7h1.5v2.4h-1.5zM143.6 303.7h1.5v2.4h-1.5zM152.6 303.7h1.5v2.4h-1.5zM157.1 303.7h1.5v2.4h-1.5zM160.1 303.7h1.5v2.4h-1.5zM161.6 303.7h1.5v2.4h-1.5zM164.6 303.7h1.5v2.4h-1.5zM170.6 303.7h1.5v2.4h-1.5zM172.1 303.7h1.5v2.4h-1.5zM175.1 303.7h1.5v2.4h-1.5zM179.6 303.7h1.5v2.4h-1.5zM181.1 303.7h1.5v2.4h-1.5zM184.1 303.7h1.5v2.4h-1.5zM193.1 303.7h1.5v2.4h-1.5zM197.6 303.7h1.5v2.4h-1.5zM200.6 303.7h1.5v2.4h-1.5zM202.1 303.7h1.5v2.4h-1.5zM208.1 303.7h1.5v2.4h-1.5zM212.6 303.7h1.5v2.4h-1.5zM214.1 303.7h1.5v2.4h-1.5zM218.6 303.7h1.5v2.4h-1.5zM220.1 303.7h1.5v2.4h-1.5zM227.6 303.7h1.5v2.4h-1.5zM238.1 303.7h1.5v2.4h-1.5zM239.6 303.7h1.5v2.4h-1.5zM242.6 303.7h1.5v2.4h-1.5zM250.1 303.7h1.5v2.4h-1.5zM259.1 303.7h1.5v2.4h-1.5zM260.6 303.7h1.5v2.4h-1.5zM263.6 303.7h1.5v2.4h-1.5zM277.1 303.7h1.5v2.4h-1.5zM292.1 303.7h1.5v2.4h-1.5zM298.1 303.7h1.5v2.4h-1.5zM314.6 303.7h1.5v2.4h-1.5zM323.6 303.7h1.5v2.4h-1.5zM325.1 303.7h1.5v2.4h-1.5zM326.6 303.7h1.5v2.4h-1.5zM337.1 303.7h1.5v2.4h-1.5zM341.6 303.7h1.5v2.4h-1.5zM352.1 303.7h1.5v2.4h-1.5zM356.6 303.7h1.5v2.4h-1.5zM359.6 303.7h1.5v2.4h-1.5zM365.6 303.7h1.5v2.4h-1.5zM370.1 303.7h1.5v2.4h-1.5zM371.6 303.7h1.5v2.4h-1.5zM373.1 303.7h1.5v2.4h-1.5zM379.1 303.7h1.5v2.4h-1.5zM383.6 303.7h1.5v2.4h-1.5zM394.1 303.7h1.5v2.4h-1.5zM397.1 303.7h1.5v2.4h-1.5zM398.6 303.7h1.5v2.4h-1.5zM403.1 303.7h1.5v2.4h-1.5zM404.6 303.7h1.5v2.4h-1.5zM419.6 303.7h1.5v2.4h-1.5zM425.6 303.7h1.5v2.4h-1.5zM428.6 303.7h1.5v2.4h-1.5zM433.1 303.7h1.5v2.4h-1.5zM436.1 303.7h1.5v2.4h-1.5zM439.1 303.7h1.5v2.4h-1.5zM446.6 303.7h1.5v2.4h-1.5zM458.6 303.7h1.5v2.4h-1.5zM461.6 303.7h1.5v2.4h-1.5zM463.1 303.7h1.5v2.4h-1.5zM467.6 303.7h1.5v2.4h-1.5zM470.6 303.7h1.5v2.4h-1.5zM473.6 303.7h1.5v2.4h-1.5zM476.6 303.7h1.5v2.4h-1.5zM481.1 303.7h1.5v2.4h-1.5zM482.6 303.7h1.5v2.4h-1.5zM490.1 303.7h1.5v2.4h-1.5zM493.1 303.7h1.5v2.4h-1.5zM494.6 303.7h1.5v2.4h-1.5zM497.6 303.7h1.5v2.4h-1.5zM499.1 303.7h1.5v2.4h-1.5zM505.1 303.7h1.5v2.4h-1.5zM506.6 303.7h1.5v2.4h-1.5zM512.6 303.7h1.5v2.4h-1.5zM520.1 303.7h1.5v2.4h-1.5zM73.1 306.1h1.5v2.4h-1.5zM76.1 306.1h1.5v2.4h-1.5zM80.6 306.1h1.5v2.4h-1.5zM86.6 306.1h1.5v2.4h-1.5zM91.1 306.1h1.5v2.4h-1.5zM98.6 306.1h1.5v2.4h-1.5zM101.6 306.1h1.5v2.4h-1.5zM107.6 306.1h1.5v2.4h-1.5zM109.1 306.1h1.5v2.4h-1.5zM118.1 306.1h1.5v2.4h-1.5zM124.1 306.1h1.5v2.4h-1.5zM128.6 306.1h1.5v2.4h-1.5zM131.6 306.1h1.5v2.4h-1.5zM133.1 306.1h1.5v2.4h-1.5zM140.6 306.1h1.5v2.4h-1.5zM143.6 306.1h1.5v2.4h-1.5zM146.6 306.1h1.5v2.4h-1.5zM151.1 306.1h1.5v2.4h-1.5zM155.6 306.1h1.5v2.4h-1.5zM158.6 306.1h1.5v2.4h-1.5zM163.1 306.1h1.5v2.4h-1.5zM166.1 306.1h1.5v2.4h-1.5zM169.1 306.1h1.5v2.4h-1.5zM170.6 306.1h1.5v2.4h-1.5zM175.1 306.1h1.5v2.4h-1.5zM194.6 306.1h1.5v2.4h-1.5zM197.6 306.1h1.5v2.4h-1.5zM199.1 306.1h1.5v2.4h-1.5zM209.6 306.1h1.5v2.4h-1.5zM217.1 306.1h1.5v2.4h-1.5zM224.6 306.1h1.5v2.4h-1.5zM226.1 306.1h1.5v2.4h-1.5zM229.1 306.1h1.5v2.4h-1.5zM230.6 306.1h1.5v2.4h-1.5zM232.1 306.1h1.5v2.4h-1.5zM233.6 306.1h1.5v2.4h-1.5zM238.1 306.1h1.5v2.4h-1.5zM239.6 306.1h1.5v2.4h-1.5zM242.6 306.1h1.5v2.4h-1.5zM244.1 306.1h1.5v2.4h-1.5zM245.6 306.1h1.5v2.4h-1.5zM248.6 306.1h1.5v2.4h-1.5zM251.6 306.1h1.5v2.4h-1.5zM253.1 306.1h1.5v2.4h-1.5zM254.6 306.1h1.5v2.4h-1.5zM260.6 306.1h1.5v2.4h-1.5zM266.6 306.1h1.5v2.4h-1.5zM269.6 306.1h1.5v2.4h-1.5zM271.1 306.1h1.5v2.4h-1.5zM272.6 306.1h1.5v2.4h-1.5zM274.1 306.1h1.5v2.4h-1.5zM277.1 306.1h1.5v2.4h-1.5zM283.1 306.1h1.5v2.4h-1.5zM287.6 306.1h1.5v2.4h-1.5zM289.1 306.1h1.5v2.4h-1.5zM295.1 306.1h1.5v2.4h-1.5zM296.6 306.1h1.5v2.4h-1.5zM299.6 306.1h1.5v2.4h-1.5zM305.6 306.1h1.5v2.4h-1.5zM310.1 306.1h1.5v2.4h-1.5zM319.1 306.1h1.5v2.4h-1.5zM329.6 306.1h1.5v2.4h-1.5zM337.1 306.1h1.5v2.4h-1.5zM343.1 306.1h1.5v2.4h-1.5zM344.6 306.1h1.5v2.4h-1.5zM349.1 306.1h1.5v2.4h-1.5zM350.6 306.1h1.5v2.4h-1.5zM352.1 306.1h1.5v2.4h-1.5zM355.1 306.1h1.5v2.4h-1.5zM359.6 306.1h1.5v2.4h-1.5zM361.1 306.1h1.5v2.4h-1.5zM362.6 306.1h1.5v2.4h-1.5zM374.6 306.1h1.5v2.4h-1.5zM382.1 306.1h1.5v2.4h-1.5zM383.6 306.1h1.5v2.4h-1.5zM385.1 306.1h1.5v2.4h-1.5zM386.6 306.1h1.5v2.4h-1.5zM388.1 306.1h1.5v2.4h-1.5zM391.1 306.1h1.5v2.4h-1.5zM395.6 306.1h1.5v2.4h-1.5zM400.1 306.1h1.5v2.4h-1.5zM401.6 306.1h1.5v2.4h-1.5zM404.6 306.1h1.5v2.4h-1.5zM410.6 306.1h1.5v2.4h-1.5zM413.6 306.1h1.5v2.4h-1.5zM415.1 306.1h1.5v2.4h-1.5zM416.6 306.1h1.5v2.4h-1.5zM424.1 306.1h1.5v2.4h-1.5zM427.1 306.1h1.5v2.4h-1.5zM428.6 306.1h1.5v2.4h-1.5zM431.6 306.1h1.5v2.4h-1.5zM439.1 306.1h1.5v2.4h-1.5zM442.1 306.1h1.5v2.4h-1.5zM445.1 306.1h1.5v2.4h-1.5zM452.6 306.1h1.5v2.4h-1.5zM454.1 306.1h1.5v2.4h-1.5zM455.6 306.1h1.5v2.4h-1.5zM458.6 306.1h1.5v2.4h-1.5zM464.6 306.1h1.5v2.4h-1.5zM466.1 306.1h1.5v2.4h-1.5zM469.1 306.1h1.5v2.4h-1.5zM473.6 306.1h1.5v2.4h-1.5zM475.1 306.1h1.5v2.4h-1.5zM476.6 306.1h1.5v2.4h-1.5zM482.6 306.1h1.5v2.4h-1.5zM488.6 306.1h1.5v2.4h-1.5zM490.1 306.1h1.5v2.4h-1.5zM493.1 306.1h1.5v2.4h-1.5zM499.1 306.1h1.5v2.4h-1.5zM505.1 306.1h1.5v2.4h-1.5zM508.1 306.1h1.5v2.4h-1.5zM509.6 306.1h1.5v2.4h-1.5zM512.6 306.1h1.5v2.4h-1.5zM518.6 306.1h1.5v2.4h-1.5zM524.6 306.1h1v2.4h-1zM71.6 308.5h1.5v2.4h-1.5zM77.6 308.5h1.5v2.4h-1.5zM89.6 308.5h1.5v2.4h-1.5zM91.1 308.5h1.5v2.4h-1.5zM92.6 308.5h1.5v2.4h-1.5zM97.1 308.5h1.5v2.4h-1.5zM98.6 308.5h1.5v2.4h-1.5zM100.1 308.5h1.5v2.4h-1.5zM113.6 308.5h1.5v2.4h-1.5zM115.1 308.5h1.5v2.4h-1.5zM119.6 308.5h1.5v2.4h-1.5zM122.6 308.5h1.5v2.4h-1.5zM125.6 308.5h1.5v2.4h-1.5zM128.6 308.5h1.5v2.4h-1.5zM130.1 308.5h1.5v2.4h-1.5zM134.6 308.5h1.5v2.4h-1.5zM136.1 308.5h1.5v2.4h-1.5zM137.6 308.5h1.5v2.4h-1.5zM139.1 308.5h1.5v2.4h-1.5zM140.6 308.5h1.5v2.4h-1.5zM142.1 308.5h1.5v2.4h-1.5zM145.1 308.5h1.5v2.4h-1.5zM151.1 308.5h1.5v2.4h-1.5zM154.1 308.5h1.5v2.4h-1.5zM158.6 308.5h1.5v2.4h-1.5zM163.1 308.5h1.5v2.4h-1.5zM166.1 308.5h1.5v2.4h-1.5zM167.6 308.5h1.5v2.4h-1.5zM173.6 308.5h1.5v2.4h-1.5zM178.1 308.5h1.5v2.4h-1.5zM182.6 308.5h1.5v2.4h-1.5zM185.6 308.5h1.5v2.4h-1.5zM187.1 308.5h1.5v2.4h-1.5zM191.6 308.5h1.5v2.4h-1.5zM196.1 308.5h1.5v2.4h-1.5zM199.1 308.5h1.5v2.4h-1.5zM206.6 308.5h1.5v2.4h-1.5zM215.6 308.5h1.5v2.4h-1.5zM235.1 308.5h1.5v2.4h-1.5zM236.6 308.5h1.5v2.4h-1.5zM244.1 308.5h1.5v2.4h-1.5zM245.6 308.5h1.5v2.4h-1.5zM247.1 308.5h1.5v2.4h-1.5zM248.6 308.5h1.5v2.4h-1.5zM251.6 308.5h1.5v2.4h-1.5zM253.1 308.5h1.5v2.4h-1.5zM256.1 308.5h1.5v2.4h-1.5zM257.6 308.5h1.5v2.4h-1.5zM266.6 308.5h1.5v2.4h-1.5zM269.6 308.5h1.5v2.4h-1.5zM271.1 308.5h1.5v2.4h-1.5zM275.6 308.5h1.5v2.4h-1.5zM278.6 308.5h1.5v2.4h-1.5zM281.6 308.5h1.5v2.4h-1.5zM293.6 308.5h1.5v2.4h-1.5zM295.1 308.5h1.5v2.4h-1.5zM301.1 308.5h1.5v2.4h-1.5zM302.6 308.5h1.5v2.4h-1.5zM304.1 308.5h1.5v2.4h-1.5zM307.1 308.5h1.5v2.4h-1.5zM311.6 308.5h1.5v2.4h-1.5zM313.1 308.5h1.5v2.4h-1.5zM316.1 308.5h1.5v2.4h-1.5zM317.6 308.5h1.5v2.4h-1.5zM320.6 308.5h1.5v2.4h-1.5zM322.1 308.5h1.5v2.4h-1.5zM328.1 308.5h1.5v2.4h-1.5zM329.6 308.5h1.5v2.4h-1.5zM331.1 308.5h1.5v2.4h-1.5zM332.6 308.5h1.5v2.4h-1.5zM334.1 308.5h1.5v2.4h-1.5zM335.6 308.5h1.5v2.4h-1.5zM338.6 308.5h1.5v2.4h-1.5zM340.1 308.5h1.5v2.4h-1.5zM346.1 308.5h1.5v2.4h-1.5zM353.6 308.5h1.5v2.4h-1.5zM355.1 308.5h1.5v2.4h-1.5zM368.6 308.5h1.5v2.4h-1.5zM376.1 308.5h1.5v2.4h-1.5zM377.6 308.5h1.5v2.4h-1.5zM382.1 308.5h1.5v2.4h-1.5zM386.6 308.5h1.5v2.4h-1.5zM389.6 308.5h1.5v2.4h-1.5zM391.1 308.5h1.5v2.4h-1.5zM395.6 308.5h1.5v2.4h-1.5zM400.1 308.5h1.5v2.4h-1.5zM401.6 308.5h1.5v2.4h-1.5zM406.1 308.5h1.5v2.4h-1.5zM407.6 308.5h1.5v2.4h-1.5zM416.6 308.5h1.5v2.4h-1.5zM421.1 308.5h1.5v2.4h-1.5zM422.6 308.5h1.5v2.4h-1.5zM431.6 308.5h1.5v2.4h-1.5zM434.6 308.5h1.5v2.4h-1.5zM437.6 308.5h1.5v2.4h-1.5zM439.1 308.5h1.5v2.4h-1.5zM443.6 308.5h1.5v2.4h-1.5zM448.1 308.5h1.5v2.4h-1.5zM449.6 308.5h1.5v2.4h-1.5zM457.1 308.5h1.5v2.4h-1.5zM460.1 308.5h1.5v2.4h-1.5zM472.1 308.5h1.5v2.4h-1.5zM484.1 308.5h1.5v2.4h-1.5zM487.1 308.5h1.5v2.4h-1.5zM488.6 308.5h1.5v2.4h-1.5zM491.6 308.5h1.5v2.4h-1.5zM500.6 308.5h1.5v2.4h-1.5zM503.6 308.5h1.5v2.4h-1.5zM511.1 308.5h1.5v2.4h-1.5zM514.1 308.5h1.5v2.4h-1.5zM515.6 308.5h1.5v2.4h-1.5zM517.1 308.5h1.5v2.4h-1.5zM521.6 308.5h1.5v2.4h-1.5zM71.6 310.9h1.5v2.3h-1.5zM77.6 310.9h1.5v2.3h-1.5zM79.1 310.9h1.5v2.3h-1.5zM89.6 310.9h1.5v2.3h-1.5zM92.6 310.9h1.5v2.3h-1.5zM113.6 310.9h1.5v2.3h-1.5zM134.6 310.9h1.5v2.3h-1.5zM136.1 310.9h1.5v2.3h-1.5zM139.1 310.9h1.5v2.3h-1.5zM142.1 310.9h1.5v2.3h-1.5zM149.6 310.9h1.5v2.3h-1.5zM166.1 310.9h1.5v2.3h-1.5zM167.6 310.9h1.5v2.3h-1.5zM173.6 310.9h1.5v2.3h-1.5zM182.6 310.9h1.5v2.3h-1.5zM191.6 310.9h1.5v2.3h-1.5zM196.1 310.9h1.5v2.3h-1.5zM236.6 310.9h1.5v2.3h-1.5zM257.6 310.9h1.5v2.3h-1.5zM278.6 310.9h1.5v2.3h-1.5zM283.1 310.9h1.5v2.3h-1.5zM304.1 310.9h1.5v2.3h-1.5zM307.1 310.9h1.5v2.3h-1.5zM310.1 310.9h1.5v2.3h-1.5zM313.1 310.9h1.5v2.3h-1.5zM328.1 310.9h1.5v2.3h-1.5zM331.1 310.9h1.5v2.3h-1.5zM334.1 310.9h1.5v2.3h-1.5zM335.6 310.9h1.5v2.3h-1.5zM340.1 310.9h1.5v2.3h-1.5zM346.1 310.9h1.5v2.3h-1.5zM353.6 310.9h1.5v2.3h-1.5zM364.1 310.9h1.5v2.3h-1.5zM368.6 310.9h1.5v2.3h-1.5zM389.6 310.9h1.5v2.3h-1.5zM406.1 310.9h1.5v2.3h-1.5zM407.6 310.9h1.5v2.3h-1.5zM412.1 310.9h1.5v2.3h-1.5zM421.1 310.9h1.5v2.3h-1.5zM422.6 310.9h1.5v2.3h-1.5zM431.6 310.9h1.5v2.3h-1.5zM434.6 310.9h1.5v2.3h-1.5zM443.6 310.9h1.5v2.3h-1.5zM448.1 310.9h1.5v2.3h-1.5zM449.6 310.9h1.5v2.3h-1.5zM451.1 310.9h1.5v2.3h-1.5zM460.1 310.9h1.5v2.3h-1.5zM479.6 310.9h1.5v2.3h-1.5zM491.6 310.9h1.5v2.3h-1.5zM500.6 310.9h1.5v2.3h-1.5zM511.1 310.9h1.5v2.3h-1.5zM517.1 310.9h1.5v2.3h-1.5zM521.6 310.9h1.5v2.3h-1.5zM523.1 310.9h1.5v2.3h-1.5zM524.6 310.9h1v2.3h-1z" fill="#00a0ff"/>
<path d="M103.1 303.7h1.5v2.4h-1.5zM190.1 303.7h1.5v2.4h-1.5zM205.1 303.7h1.5v2.4h-1.5zM223.1 303.7h1.5v2.4h-1.5zM280.1 303.7h1.5v2.4h-1.5zM286.1 303.7h1.5v2.4h-1.5zM290.6 303.7h1.5v2.4h-1.5zM358.1 303.7h1.5v2.4h-1.5zM380.6 303.7h1.5v2.4h-1.5zM409.1 303.7h1.5v2.4h-1.5zM418.1 303.7h1.5v2.4h-1.5zM440.6 303.7h1.5v2.4h-1.5zM478.1 303.7h1.5v2.4h-1.5zM496.1 303.7h1.5v2.4h-1.5zM502.1 303.7h1.5v2.4h-1.5zM74.6 306.1h1.5v2.4h-1.5zM82.1 306.1h1.5v2.4h-1.5zM83.6 306.1h1.5v2.4h-1.5zM88.1 306.1h1.5v2.4h-1.5zM94.1 306.1h1.5v2.4h-1.5zM95.6 306.1h1.5v2.4h-1.5zM103.1 306.1h1.5v2.4h-1.5zM110.6 306.1h1.5v2.4h-1.5zM116.6 306.1h1.5v2.4h-1.5zM121.1 306.1h1.5v2.4h-1.5zM127.1 306.1h1.5v2.4h-1.5zM152.6 306.1h1.5v2.4h-1.5zM157.1 306.1h1.5v2.4h-1.5zM160.1 306.1h1.5v2.4h-1.5zM161.6 306.1h1.5v2.4h-1.5zM164.6 306.1h1.5v2.4h-1.5zM179.6 306.1h1.5v2.4h-1.5zM181.1 306.1h1.5v2.4h-1.5zM184.1 306.1h1.5v2.4h-1.5zM190.1 306.1h1.5v2.4h-1.5zM193.1 306.1h1.5v2.4h-1.5zM200.6 306.1h1.5v2.4h-1.5zM202.1 306.1h1.5v2.4h-1.5zM203.6 306.1h1.5v2.4h-1.5zM205.1 306.1h1.5v2.4h-1.5zM208.1 306.1h1.5v2.4h-1.5zM211.1 306.1h1.5v2.4h-1.5zM212.6 306.1h1.5v2.4h-1.5zM218.6 306.1h1.5v2.4h-1.5zM220.1 306.1h1.5v2.4h-1.5zM223.1 306.1h1.5v2.4h-1.5zM227.6 306.1h1.5v2.4h-1.5zM241.1 306.1h1.5v2.4h-1.5zM250.1 306.1h1.5v2.4h-1.5zM259.1 306.1h1.5v2.4h-1.5zM263.6 306.1h1.5v2.4h-1.5zM268.1 306.1h1.5v2.4h-1.5zM286.1 306.1h1.5v2.4h-1.5zM290.6 306.1h1.5v2.4h-1.5zM298.1 306.1h1.5v2.4h-1.5zM314.6 306.1h1.5v2.4h-1.5zM323.6 306.1h1.5v2.4h-1.5zM325.1 306.1h1.5v2.4h-1.5zM326.6 306.1h1.5v2.4h-1.5zM341.6 306.1h1.5v2.4h-1.5zM347.6 306.1h1.5v2.4h-1.5zM356.6 306.1h1.5v2.4h-1.5zM358.1 306.1h1.5v2.4h-1.5zM365.6 306.1h1.5v2.4h-1.5zM370.1 306.1h1.5v2.4h-1.5zM371.6 306.1h1.5v2.4h-1.5zM373.1 306.1h1.5v2.4h-1.5zM379.1 306.1h1.5v2.4h-1.5zM380.6 306.1h1.5v2.4h-1.5zM394.1 306.1h1.5v2.4h-1.5zM397.1 306.1h1.5v2.4h-1.5zM403.1 306.1h1.5v2.4h-1.5zM409.1 306.1h1.5v2.4h-1.5zM418.1 306.1h1.5v2.4h-1.5zM419.6 306.1h1.5v2.4h-1.5zM425.6 306.1h1.5v2.4h-1.5zM430.1 306.1h1.5v2.4h-1.5zM433.1 306.1h1.5v2.4h-1.5zM436.1 306.1h1.5v2.4h-1.5zM446.6 306.1h1.5v2.4h-1.5zM461.6 306.1h1.5v2.4h-1.5zM467.6 306.1h1.5v2.4h-1.5zM470.6 306.1h1.5v2.4h-1.5zM478.1 306.1h1.5v2.4h-1.5zM481.1 306.1h1.5v2.4h-1.5zM496.1 306.1h1.5v2.4h-1.5zM497.6 306.1h1.5v2.4h-1.5zM502.1 306.1h1.5v2.4h-1.5zM506.6 306.1h1.5v2.4h-1.5zM520.1 306.1h1.5v2.4h-1.5zM73.1 308.5h1.5v2.4h-1.5zM76.1 308.5h1.5v2.4h-1.5zM80.6 308.5h1.5v2.4h-1.5zM83.6 308.5h1.5v2.4h-1.5zM86.6 308.5h1.5v2.4h-1.5zM95.6 308.5h1.5v2.4h-1.5zM101.6 308.5h1.5v2.4h-1.5zM107.6 308.5h1.5v2.4h-1.5zM109.1 308.5h1.5v2.4h-1.5zM110.6 308.5h1.5v2.4h-1.5zM112.1 308.5h1.5v2.4h-1.5zM124.1 308.5h1.5v2.4h-1.5zM127.1 308.5h1.5v2.4h-1.5zM131.6 308.5h1.5v2.4h-1.5zM133.1 308.5h1.5v2.4h-1.5zM143.6 308.5h1.5v2.4h-1.5zM146.6 308.5h1.5v2.4h-1.5zM148.1 308.5h1.5v2.4h-1.5zM152.6 308.5h1.5v2.4h-1.5zM155.6 308.5h1.5v2.4h-1.5zM157.1 308.5h1.5v2.4h-1.5zM160.1 308.5h1.5v2.4h-1.5zM164.6 308.5h1.5v2.4h-1.5zM169.1 308.5h1.5v2.4h-1.5zM170.6 308.5h1.5v2.4h-1.5zM176.6 308.5h1.5v2.4h-1.5zM181.1 308.5h1.5v2.4h-1.5zM188.6 308.5h1.5v2.4h-1.5zM190.1 308.5h1.5v2.4h-1.5zM197.6 308.5h1.5v2.4h-1.5zM202.1 308.5h1.5v2.4h-1.5zM203.6 308.5h1.5v2.4h-1.5zM209.6 308.5h1.5v2.4h-1.5zM211.1 308.5h1.5v2.4h-1.5zM217.1 308.5h1.5v2.4h-1.5zM221.6 308.5h1.5v2.4h-1.5zM224.6 308.5h1.5v2.4h-1.5zM226.1 308.5h1.5v2.4h-1.5zM227.6 308.5h1.5v2.4h-1.5zM229.1 308.5h1.5v2.4h-1.5zM230.6 308.5h1.5v2.4h-1.5zM233.6 308.5h1.5v2.4h-1.5zM238.1 308.5h1.5v2.4h-1.5zM239.6 308.5h1.5v2.4h-1.5zM254.6 308.5h1.5v2.4h-1.5zM262.1 308.5h1.5v2.4h-1.5zM263.6 308.5h1.5v2.4h-1.5zM268.1 308.5h1.5v2.4h-1.5zM272.6 308.5h1.5v2.4h-1.5zM274.1 308.5h1.5v2.4h-1.5zM277.1 308.5h1.5v2.4h-1.5zM283.1 308.5h1.5v2.4h-1.5zM284.6 308.5h1.5v2.4h-1.5zM287.6 308.5h1.5v2.4h-1.5zM289.1 308.5h1.5v2.4h-1.5zM296.6 308.5h1.5v2.4h-1.5zM298.1 308.5h1.5v2.4h-1.5zM299.6 308.5h1.5v2.4h-1.5zM305.6 308.5h1.5v2.4h-1.5zM308.6 308.5h1.5v2.4h-1.5zM310.1 308.5h1.5v2.4h-1.5zM319.1 308.5h1.5v2.4h-1.5zM326.6 308.5h1.5v2.4h-1.5zM343.1 308.5h1.5v2.4h-1.5zM347.6 308.5h1.5v2.4h-1.5zM349.1 308.5h1.5v2.4h-1.5zM350.6 308.5h1.5v2.4h-1.5zM352.1 308.5h1.5v2.4h-1.5zM356.6 308.5h1.5v2.4h-1.5zM361.1 308.5h1.5v2.4h-1.5zM362.6 308.5h1.5v2.4h-1.5zM370.1 308.5h1.5v2.4h-1.5zM374.6 308.5h1.5v2.4h-1.5zM380.6 308.5h1.5v2.4h-1.5zM383.6 308.5h1.5v2.4h-1.5zM385.1 308.5h1.5v2.4h-1.5zM388.1 308.5h1.5v2.4h-1.5zM403.1 308.5h1.5v2.4h-1.5zM404.6 308.5h1.5v2.4h-1.5zM410.6 308.5h1.5v2.4h-1.5zM413.6 308.5h1.5v2.4h-1.5zM415.1 308.5h1.5v2.4h-1.5zM419.6 308.5h1.5v2.4h-1.5zM424.1 308.5h1.5v2.4h-1.5zM427.1 308.5h1.5v2.4h-1.5zM428.6 308.5h1.5v2.4h-1.5zM430.1 308.5h1.5v2.4h-1.5zM433.1 308.5h1.5v2.4h-1.5zM436.1 308.5h1.5v2.4h-1.5zM442.1 308.5h1.5v2.4h-1.5zM445.1 308.5h1.5v2.4h-1.5zM446.6 308.5h1.5v2.4h-1.5zM452.6 308.5h1.5v2.4h-1.5zM454.1 308.5h1.5v2.4h-1.5zM455.6 308.5h1.5v2.4h-1.5zM458.6 308.5h1.5v2.4h-1.5zM464.6 308.5h1.5v2.4h-1.5zM466.1 308.5h1.5v2.4h-1.5zM469.1 308.5h1.5v2.4h-1.5zM470.6 308.5h1.5v2.4h-1.5zM475.1 308.5h1.5v2.4h-1.5zM476.6 308.5h1.5v2.4h-1.5zM482.6 308.5h1.5v2.4h-1.5zM485.6 308.5h1.5v2.4h-1.5zM490.1 308.5h1.5v2.4h-1.5zM493.1 308.5h1.5v2.4h-1.5zM505.1 308.5h1.5v2.4h-1.5zM508.1 308.5h1.5v2.4h-1.5zM509.6 308.5h1.5v2.4h-1.5zM512.6 308.5h1.5v2.4h-1.5zM518.6 308.5h1.5v2.4h-1.5zM524.6 308.5h1v2.4h-1zM73.1 310.9h1.5v2.3h-1.5zM83.6 310.9h1.5v2.3h-1.5zM85.1 310.9h1.5v2.3h-1.5zM91.1 310.9h1.5v2.3h-1.5zM98.6 310.9h1.5v2.3h-1.5zM100.1 310.9h1.5v2.3h-1.5zM101.6 310.9h1.5v2.3h-1.5zM106.1 310.9h1.5v2.3h-1.5zM107.6 310.9h1.5v2.3h-1.5zM109.1 310.9h1.5v2.3h-1.5zM115.1 310.9h1.5v2.3h-1.5zM119.6 310.9h1.5v2.3h-1.5zM122.6 310.9h1.5v2.3h-1.5zM125.6 310.9h1.5v2.3h-1.5zM128.6 310.9h1.5v2.3h-1.5zM130.1 310.9h1.5v2.3h-1.5zM131.6 310.9h1.5v2.3h-1.5zM133.1 310.9h1.5v2.3h-1.5zM137.6 310.9h1.5v2.3h-1.5zM140.6 310.9h1.5v2.3h-1.5zM145.1 310.9h1.5v2.3h-1.5zM146.6 310.9h1.5v2.3h-1.5zM148.1 310.9h1.5v2.3h-1.5zM151.1 310.9h1.5v2.3h-1.5zM154.1 310.9h1.5v2.3h-1.5zM155.6 310.9h1.5v2.3h-1.5zM158.6 310.9h1.5v2.3h-1.5zM163.1 310.9h1.5v2.3h-1.5zM169.1 310.9h1.5v2.3h-1.5zM170.6 310.9h1.5v2.3h-1.5zM176.6 310.9h1.5v2.3h-1.5zM178.1 310.9h1.5v2.3h-1.5zM181.1 310.9h1.5v2.3h-1.5zM185.6 310.9h1.5v2.3h-1.5zM187.1 310.9h1.5v2.3h-1.5zM188.6 310.9h1.5v2.3h-1.5zM194.6 310.9h1.5v2.3h-1.5zM197.6 310.9h1.5v2.3h-1.5zM199.1 310.9h1.5v2.3h-1.5zM202.1 310.9h1.5v2.3h-1.5zM206.6 310.9h1.5v2.3h-1.5zM209.6 310.9h1.5v2.3h-1.5zM215.6 310.9h1.5v2.3h-1.5zM217.1 310.9h1.5v2.3h-1.5zM221.6 310.9h1.5v2.3h-1.5zM224.6 310.9h1.5v2.3h-1.5zM226.1 310.9h1.5v2.3h-1.5zM229.1 310.9h1.5v2.3h-1.5zM230.6 310.9h1.5v2.3h-1.5zM232.1 310.9h1.5v2.3h-1.5zM233.6 310.9h1.5v2.3h-1.5zM235.1 310.9h1.5v2.3h-1.5zM239.6 310.9h1.5v2.3h-1.5zM244.1 310.9h1.5v2.3h-1.5zM245.6 310.9h1.5v2.3h-1.5zM247.1 310.9h1.5v2.3h-1.5zM248.6 310.9h1.5v2.3h-1.5zM250.1 310.9h1.5v2.3h-1.5zM253.1 310.9h1.5v2.3h-1.5zM256.1 310.9h1.5v2.3h-1.5zM262.1 310.9h1.5v2.3h-1.5zM263.6 310.9h1.5v2.3h-1.5zM265.1 310.9h1.5v2.3h-1.5zM266.6 310.9h1.5v2.3h-1.5zM268.1 310.9h1.5v2.3h-1.5zM269.6 310.9h1.5v2.3h-1.5zM271.1 310.9h1.5v2.3h-1.5zM274.1 310.9h1.5v2.3h-1.5zM275.6 310.9h1.5v2.3h-1.5zM281.6 310.9h1.5v2.3h-1.5zM284.6 310.9h1.5v2.3h-1.5zM287.6 310.9h1.5v2.3h-1.5zM289.1 310.9h1.5v2.3h-1.5zM293.6 310.9h1.5v2.3h-1.5zM298.1 310.9h1.5v2.3h-1.5zM299.6 310.9h1.5v2.3h-1.5zM302.6 310.9h1.5v2.3h-1.5zM305.6 310.9h1.5v2.3h-1.5zM308.6 310.9h1.5v2.3h-1.5zM311.6 310.9h1.5v2.3h-1.5zM316.1 310.9h1.5v2.3h-1.5zM317.6 310.9h1.5v2.3h-1.5zM320.6 310.9h1.5v2.3h-1.5zM322.1 310.9h1.5v2.3h-1.5zM329.6 310.9h1.5v2.3h-1.5zM332.6 310.9h1.5v2.3h-1.5zM337.1 310.9h1.5v2.3h-1.5zM338.6 310.9h1.5v2.3h-1.5zM343.1 310.9h1.5v2.3h-1.5zM344.6 310.9h1.5v2.3h-1.5zM349.1 310.9h1.5v2.3h-1.5zM355.1 310.9h1.5v2.3h-1.5zM362.6 310.9h1.5v2.3h-1.5zM367.1 310.9h1.5v2.3h-1.5zM373.1 310.9h1.5v2.3h-1.5zM374.6 310.9h1.5v2.3h-1.5zM376.1 310.9h1.5v2.3h-1.5zM382.1 310.9h1.5v2.3h-1.5zM385.1 310.9h1.5v2.3h-1.5zM386.6 310.9h1.5v2.3h-1.5zM391.1 310.9h1.5v2.3h-1.5zM392.6 310.9h1.5v2.3h-1.5zM394.1 310.9h1.5v2.3h-1.5zM395.6 310.9h1.5v2.3h-1.5zM400.1 310.9h1.5v2.3h-1.5zM401.6 310.9h1.5v2.3h-1.5zM404.6 310.9h1.5v2.3h-1.5zM413.6 310.9h1.5v2.3h-1.5zM416.6 310.9h1.5v2.3h-1.5zM424.1 310.9h1.5v2.3h-1.5zM437.6 310.9h1.5v2.3h-1.5zM439.1 310.9h1.5v2.3h-1.5zM442.1 310.9h1.5v2.3h-1.5zM445.1 310.9h1.5v2.3h-1.5zM452.6 310.9h1.5v2.3h-1.5zM454.1 310.9h1.5v2.3h-1.5zM457.1 310.9h1.5v2.3h-1.5zM458.6 310.9h1.5v2.3h-1.5zM466.1 310.9h1.5v2.3h-1.5zM472.1 310.9h1.5v2.3h-1.5zM475.1 310.9h1.5v2.3h-1.5zM476.6 310.9h1.5v2.3h-1.5zM482.6 310.9h1.5v2.3h-1.5zM484.1 310.9h1.5v2.3h-1.5zM485.6 310.9h1.5v2.3h-1.5zM487.1 310.9h1.5v2.3h-1.5zM488.6 310.9h1.5v2.3h-1.5zM508.1 310.9h1.5v2.3h-1.5zM509.6 310.9h1.5v2.3h-1.5zM512.6 310.9h1.5v2.3h-1.5zM514.1 310.9h1.5v2.3h-1.5zM515.6 310.9h1.5v2.3h-1.5z" fill="#0050ff"/>
<path d="M172.1 306.1h1.5v2.4h-1.5zM214.1 306.1h1.5v2.4h-1.5zM280.1 306.1h1.5v2.4h-1.5zM292.1 306.1h1.5v2.4h-1.5zM398.6 306.1h1.5v2.4h-1.5zM440.6 306.1h1.5v2.4h-1.5zM463.1 306.1h1.5v2.4h-1.5zM494.6 306.1h1.5v2.4h-1.5zM74.6 308.5h1.5v2.4h-1.5zM82.1 308.5h1.5v2.4h-1.5zM88.1 308.5h1.5v2.4h-1.5zM94.1 308.5h1.5v2.4h-1.5zM103.1 308.5h1.5v2.4h-1.5zM116.6 308.5h1.5v2.4h-1.5zM121.1 308.5h1.5v2.4h-1.5zM161.6 308.5h1.5v2.4h-1.5zM172.1 308.5h1.5v2.4h-1.5zM179.6 308.5h1.5v2.4h-1.5zM184.1 308.5h1.5v2.4h-1.5zM193.1 308.5h1.5v2.4h-1.5zM194.6 308.5h1.5v2.4h-1.5zM205.1 308.5h1.5v2.4h-1.5zM208.1 308.5h1.5v2.4h-1.5zM212.6 308.5h1.5v2.4h-1.5zM214.1 308.5h1.5v2.4h-1.5zM218.6 308.5h1.5v2.4h-1.5zM220.1 308.5h1.5v2.4h-1.5zM223.1 308.5h1.5v2.4h-1.5zM241.1 308.5h1.5v2.4h-1.5zM242.6 308.5h1.5v2.4h-1.5zM250.1 308.5h1.5v2.4h-1.5zM259.1 308.5h1.5v2.4h-1.5zM260.6 308.5h1.5v2.4h-1.5zM280.1 308.5h1.5v2.4h-1.5zM286.1 308.5h1.5v2.4h-1.5zM290.6 308.5h1.5v2.4h-1.5zM292.1 308.5h1.5v2.4h-1.5zM314.6 308.5h1.5v2.4h-1.5zM323.6 308.5h1.5v2.4h-1.5zM325.1 308.5h1.5v2.4h-1.5zM337.1 308.5h1.5v2.4h-1.5zM341.6 308.5h1.5v2.4h-1.5zM358.1 308.5h1.5v2.4h-1.5zM359.6 308.5h1.5v2.4h-1.5zM365.6 308.5h1.5v2.4h-1.5zM371.6 308.5h1.5v2.4h-1.5zM373.1 308.5h1.5v2.4h-1.5zM379.1 308.5h1.5v2.4h-1.5zM394.1 308.5h1.5v2.4h-1.5zM397.1 308.5h1.5v2.4h-1.5zM398.6 308.5h1.5v2.4h-1.5zM409.1 308.5h1.5v2.4h-1.5zM418.1 308.5h1.5v2.4h-1.5zM425.6 308.5h1.5v2.4h-1.5zM440.6 308.5h1.5v2.4h-1.5zM461.6 308.5h1.5v2.4h-1.5zM463.1 308.5h1.5v2.4h-1.5zM467.6 308.5h1.5v2.4h-1.5zM473.6 308.5h1.5v2.4h-1.5zM478.1 308.5h1.5v2.4h-1.5zM481.1 308.5h1.5v2.4h-1.5zM494.6 308.5h1.5v2.4h-1.5zM496.1 308.5h1.5v2.4h-1.5zM497.6 308.5h1.5v2.4h-1.5zM499.1 308.5h1.5v2.4h-1.5zM502.1 308.5h1.5v2.4h-1.5zM506.6 308.5h1.5v2.4h-1.5zM520.1 308.5h1.5v2.4h-1.5zM74.6 310.9h1.5v2.3h-1.5zM80.6 310.9h1.5v2.3h-1.5zM82.1 310.9h1.5v2.3h-1.5zM86.6 310.9h1.5v2.3h-1.5zM88.1 310.9h1.5v2.3h-1.5zM94.1 310.9h1.5v2.3h-1.5zM95.6 310.9h1.5v2.3h-1.5zM103.1 310.9h1.5v2.3h-1.5zM110.6 310.9h1.5v2.3h-1.5zM116.6 310.9h1.5v2.3h-1.5zM118.1 310.9h1.5v2.3h-1.5zM121.1 310.9h1.5v2.3h-1.5zM124.1 310.9h1.5v2.3h-1.5zM152.6 310.9h1.5v2.3h-1.5zM160.1 310.9h1.5v2.3h-1.5zM161.6 310.9h1.5v2.3h-1.5zM164.6 310.9h1.5v2.3h-1.5zM172.1 310.9h1.5v2.3h-1.5zM175.1 310.9h1.5v2.3h-1.5zM179.6 310.9h1.5v2.3h-1.5zM184.1 310.9h1.5v2.3h-1.5zM190.1 310.9h1.5v2.3h-1.5zM193.1 310.9h1.5v2.3h-1.5zM200.6 310.9h1.5v2.3h-1.5zM203.6 310.9h1.5v2.3h-1.5zM205.1 310.9h1.5v2.3h-1.5zM208.1 310.9h1.5v2.3h-1.5zM211.1 310.9h1.5v2.3h-1.5zM212.6 310.9h1.5v2.3h-1.5zM214.1 310.9h1.5v2.3h-1.5zM218.6 310.9h1.5v2.3h-1.5zM220.1 310.9h1.5v2.3h-1.5zM223.1 310.9h1.5v2.3h-1.5zM227.6 310.9h1.5v2.3h-1.5zM238.1 310.9h1.5v2.3h-1.5zM241.1 310.9h1.5v2.3h-1.5zM242.6 310.9h1.5v2.3h-1.5zM259.1 310.9h1.5v2.3h-1.5zM260.6 310.9h1.5v2.3h-1.5zM277.1 310.9h1.5v2.3h-1.5zM280.1 310.9h1.5v2.3h-1.5zM286.1 310.9h1.5v2.3h-1.5zM290.6 310.9h1.5v2.3h-1.5zM292.1 310.9h1.5v2.3h-1.5zM295.1 310.9h1.5v2.3h-1.5zM314.6 310.9h1.5v2.3h-1.5zM319.1 310.9h1.5v2.3h-1.5zM323.6 310.9h1.5v2.3h-1.5zM325.1 310.9h1.5v2.3h-1.5zM326.6 310.9h1.5v2.3h-1.5zM341.6 310.9h1.5v2.3h-1.5zM347.6 310.9h1.5v2.3h-1.5zM352.1 310.9h1.5v2.3h-1.5zM356.6 310.9h1.5v2.3h-1.5zM358.1 310.9h1.5v2.3h-1.5zM359.6 310.9h1.5v2.3h-1.5zM361.1 310.9h1.5v2.3h-1.5zM365.6 310.9h1.5v2.3h-1.5zM370.1 310.9h1.5v2.3h-1.5zM379.1 310.9h1.5v2.3h-1.5zM380.6 310.9h1.5v2.3h-1.5zM383.6 310.9h1.5v2.3h-1.5zM397.1 310.9h1.5v2.3h-1.5zM398.6 310.9h1.5v2.3h-1.5zM403.1 310.9h1.5v2.3h-1.5zM409.1 310.9h1.5v2.3h-1.5zM410.6 310.9h1.5v2.3h-1.5zM415.1 310.9h1.5v2.3h-1.5zM418.1 310.9h1.5v2.3h-1.5zM419.6 310.9h1.5v2.3h-1.5zM425.6 310.9h1.5v2.3h-1.5zM427.1 310.9h1.5v2.3h-1.5zM428.6 310.9h1.5v2.3h-1.5zM430.1 310.9h1.5v2.3h-1.5zM433.1 310.9h1.5v2.3h-1.5zM436.1 310.9h1.5v2.3h-1.5zM440.6 310.9h1.5v2.3h-1.5zM446.6 310.9h1.5v2.3h-1.5zM455.6 310.9h1.5v2.3h-1.5zM461.6 310.9h1.5v2.3h-1.5zM464.6 310.9h1.5v2.3h-1.5zM467.6 310.9h1.5v2.3h-1.5zM470.6 310.9h1.5v2.3h-1.5zM473.6 310.9h1.5v2.3h-1.5zM478.1 310.9h1.5v2.3h-1.5zM481.1 310.9h1.5v2.3h-1.5zM490.1 310.9h1.5v2.3h-1.5zM494.6 310.9h1.5v2.3h-1.5zM496.1 310.9h1.5v2.3h-1.5zM499.1 310.9h1.5v2.3h-1.5zM502.1 310.9h1.5v2.3h-1.5zM505.1 310.9h1.5v2.3h-1.5zM506.6 310.9h1.5v2.3h-1.5zM518.6 310.9h1.5v2.3h-1.5zM520.1 310.9h1.5v2.3h-1.5z" fill="#0010ff"/>
<path d="M79.1 308.5h1.5v2.4h-1.5zM106.1 308.5h1.5v2.4h-1.5zM118.1 308.5h1.5v2.4h-1.5zM175.1 308.5h1.5v2.4h-1.5zM200.6 308.5h1.5v2.4h-1.5zM232.1 308.5h1.5v2.4h-1.5zM265.1 308.5h1.5v2.4h-1.5zM344.6 308.5h1.5v2.4h-1.5zM392.6 308.5h1.5v2.4h-1.5zM76.1 310.9h1.5v2.3h-1.5zM97.1 310.9h1.5v2.3h-1.5zM104.6 310.9h1.5v2.3h-1.5zM112.1 310.9h1.5v2.3h-1.5zM127.1 310.9h1.5v2.3h-1.5zM143.6 310.9h1.5v2.3h-1.5zM157.1 310.9h1.5v2.3h-1.5zM251.6 310.9h1.5v2.3h-1.5zM254.6 310.9h1.5v2.3h-1.5zM272.6 310.9h1.5v2.3h-1.5zM296.6 310.9h1.5v2.3h-1.5zM301.1 310.9h1.5v2.3h-1.5zM350.6 310.9h1.5v2.3h-1.5zM371.6 310.9h1.5v2.3h-1.5zM377.6 310.9h1.5v2.3h-1.5zM388.1 310.9h1.5v2.3h-1.5zM463.1 310.9h1.5v2.3h-1.5zM469.1 310.9h1.5v2.3h-1.5zM493.1 310.9h1.5v2.3h-1.5zM497.6 310.9h1.5v2.3h-1.5zM503.6 310.9h1.5v2.3h-1.5z" fill="#ff00ff"/>
<rect x="668.3" y="115.4" width="454.1" height="74.0" fill="#ff00ff"/>
<path d="M669.3 115.4h1v2.31h-1zM682.3 115.4h2v2.31h-2zM725.3 115.4h1v2.31h-1zM731.3 115.4h1v2.31h-1zM758.3 115.4h1v2.31h-1zM773.3 115.4h1v2.31h-1zM799.3 115.4h1v2.31h-1zM807.3 115.4h1v2.31h-1zM819.3 115.4h1v2.31h-1zM835.3 115.4h1v2.31h-1zM839.3 115.4h2v2.31h-2zM842.3 115.4h1v2.31h-1zM845.3 115.4h1v2.31h-1zM853.3 115.4h1v2.31h-1zM860.3 115.4h1v2.31h-1zM894.3 115.4h1v2.31h-1zM905.3 115.4h1v2.31h-1zM907.3 115.4h1v2.31h-1zM918.3 115.4h1v2.31h-1zM921.3 115.4h1v2.31h-1zM931.3 115.4h1v2.31h-1zM935.3 115.4h1v2.31h-1zM939.3 115.4h1v2.31h-1zM964.3 115.4h1v2.31h-1zM967.3 115.4h1v2.31h-1zM996.3 115.4h1v2.31h-1zM1023.3 115.4h1v2.31h-1zM1027.3 115.4h1v2.31h-1zM1042.3 115.4h1v2.31h-1zM1044.3 115.4h1v2.31h-1zM1052.3 115.4h1v2.31h-1zM1072.3 115.4h1v2.31h-1zM1086.3 115.4h1v2.31h-1zM1099.3 115.4h1v2.31h-1zM1101.3 115.4h1v2.31h-1zM1110.3 115.4h1v2.31h-1zM1118.3 115.4h2v2.31h-2zM686.3 117.7h1v2.31h-1zM689.3 117.7h1v2.31h-1zM715.3 117.7h1v2.31h-1zM727.3 117.7h1v2.31h-1zM729.3 117.7h1v2.31h-1zM732.3 117.7h1v2.31h-1zM742.3 117.7h1v2.31h-1zM749.3 117.7h1v2.31h-1zM758.3 117.7h1v2.31h-1zM767.3 117.7h1v2.31h-1zM788.3 117.7h3v2.31h-3zM806.3 117.7h1v2.31h-1zM808.3 117.7h1v2.31h-1zM812.3 117.7h1v2.31h-1zM823.3 117.7h1v2.31h-1zM828.3 117.7h2v2.31h-2zM837.3 117.7h1v2.31h-1zM844.3 117.7h1v2.31h-1zM882.3 117.7h3v2.31h-3zM889.3 117.7h1v2.31h-1zM895.3 117.7h1v2.31h-1zM897.3 117.7h1v2.31h-1zM905.3 117.7h1v2.31h-1zM916.3 117.7h1v2.31h-1zM942.3 117.7h1v2.31h-1zM950.3 117.7h1v2.31h-1zM954.3 117.7h1v2.31h-1zM956.3 117.7h1v2.31h-1zM963.3 117.7h1v2.31h-1zM989.3 117.7h1v2.31h-1zM1019.3 117.7h1v2.31h-1zM1040.3 117.7h1v2.31h-1zM1043.3 117.7h1v2.31h-1zM1063.3 117.7h1v2.31h-1zM1070.3 117.7h1v2.31h-1zM1089.3 117.7h1v2.31h-1zM1091.3 117.7h1v2.31h-1zM1110.3 117.7h1v2.31h-1zM1114.3 117.7h1v2.31h-1zM669.3 120.0h1v2.31h-1zM683.3 120.0h1v2.31h-1zM694.3 120.0h1v2.31h-1zM702.3 120.0h2v2.31h-2zM709.3 120.0h1v2.31h-1zM713.3 120.0h1v2.31h-1zM775.3 120.0h1v2.31h-1zM779.3 120.0h1v2.31h-1zM839.3 120.0h1v2.31h-1zM872.3 120.0h1v2.31h-1zM878.3 120.0h1v2.31h-1zM887.3 120.0h1v2.31h-1zM889.3 120.0h1v2.31h-1zM895.3 120.0h1v2.31h-1zM902.3 120.0h1v2.31h-1zM907.3 120.0h1v2.31h-1zM916.3 120.0h2v2.31h-2zM931.3 120.0h1v2.31h-1zM954.3 120.0h1v2.31h-1zM970.3 120.0h1v2.31h-1zM984.3 120.0h1v2.31h-1zM996.3 120.0h2v2.31h-2zM1034.3 120.0h1v2.31h-1zM1047.3 120.0h1v2.31h-1zM1063.3 120.0h1v2.31h-1zM1078.3 120.0h1v2.31h-1zM1096.3 120.0h1v2.31h-1zM689.3 122.3h1v2.31h-1zM691.3 122.3h1v2.31h-1zM698.3 122.3h1v2.31h-1zM702.3 122.3h1v2.31h-1zM708.3 122.3h1v2.31h-1zM719.3 122.3h1v2.31h-1zM721.3 122.3h1v2.31h-1zM724.3 122.3h1v2.31h-1zM753.3 122.3h1v2.31h-1zM759.3 122.3h1v2.31h-1zM791.3 122.3h1v2.31h-1zM827.3 122.3h1v2.31h-1zM835.3 122.3h2v2.31h-2zM849.3 122.3h1v2.31h-1zM867.3 122.3h1v2.31h-1zM889.3 122.3h2v2.31h-2zM905.3 122.3h1v2.31h-1zM915.3 122.3h1v2.31h-1zM918.3 122.3h1v2.31h-1zM929.3 122.3h1v2.31h-1zM943.3 122.3h1v2.31h-1zM960.3 122.3h1v2.31h-1zM964.3 122.3h1v2.31h-1zM983.3 122.3h1v2.31h-1zM990.3 122.3h1v2.31h-1zM1011.3 122.3h1v2.31h-1zM1014.3 122.3h1v2.31h-1zM1016.3 122.3h1v2.31h-1zM1031.3 122.3h1v2.31h-1zM1036.3 122.3h1v2.31h-1zM1044.3 122.3h1v2.31h-1zM1054.3 122.3h1v2.31h-1zM1066.3 122.3h1v2.31h-1zM1073.3 122.3h1v2.31h-1zM1077.3 122.3h1v2.31h-1zM1083.3 122.3h1v2.31h-1zM694.3 124.6h1v2.31h-1zM718.3 124.6h1v2.31h-1zM725.3 124.6h1v2.31h-1zM736.3 124.6h1v2.31h-1zM760.3 124.6h1v2.31h-1zM767.3 124.6h2v2.31h-2zM782.3 124.6h1v2.31h-1zM785.3 124.6h1v2.31h-1zM794.3 124.6h1v2.31h-1zM797.3 124.6h1v2.31h-1zM812.3 124.6h1v2.31h-1zM816.3 124.6h1v2.31h-1zM818.3 124.6h1v2.31h-1zM825.3 124.6h1v2.31h-1zM830.3 124.6h1v2.31h-1zM832.3 124.6h1v2.31h-1zM837.3 124.6h1v2.31h-1zM849.3 124.6h1v2.31h-1zM857.3 124.6h1v2.31h-1zM861.3 124.6h1v2.31h-1zM863.3 124.6h1v2.31h-1zM876.3 124.6h1v2.31h-1zM878.3 124.6h1v2.31h-1zM881.3 124.6h1v2.31h-1zM889.3 124.6h1v2.31h-1zM905.3 124.6h1v2.31h-1zM922.3 124.6h1v2.31h-1zM927.3 124.6h1v2.31h-1zM931.3 124.6h1v2.31h-1zM940.3 124.6h1v2.31h-1zM947.3 124.6h1v2.31h-1zM957.3 124.6h1v2.31h-1zM962.3 124.6h1v2.31h-1zM967.3 124.6h1v2.31h-1zM972.3 124.6h1v2.31h-1zM992.3 124.6h2v2.31h-2zM1012.3 124.6h1v2.31h-1zM1017.3 124.6h1v2.31h-1zM1036.3 124.6h1v2.31h-1zM1038.3 124.6h1v2.31h-1zM1043.3 124.6h1v2.31h-1zM1076.3 124.6h1v2.31h-1zM1081.3 124.6h1v2.31h-1zM1094.3 124.6h1v2.31h-1zM1103.3 124.6h1v2.31h-1zM1114.3 124.6h1v2.31h-1zM727.3 127.0h3v2.31h-3zM737.3 127.0h1v2.31h-1zM749.3 127.0h1v2.31h-1zM760.3 127.0h1v2.31h-1zM763.3 127.0h1v2.31h-1zM767.3 127.0h1v2.31h-1zM796.3 127.0h1v2.31h-1zM802.3 127.0h1v2.31h-1zM809.3 127.0h1v2.31h-1zM819.3 127.0h1v2.31h-1zM828.3 127.0h1v2.31h-1zM832.3 127.0h1v2.31h-1zM842.3 127.0h1v2.31h-1zM845.3 127.0h1v2.31h-1zM863.3 127.0h1v2.31h-1zM877.3 127.0h1v2.31h-1zM879.3 127.0h1v2.31h-1zM889.3 127.0h2v2.31h-2zM894.3 127.0h1v2.31h-1zM896.3 127.0h1v2.31h-1zM900.3 127.0h1v2.31h-1zM904.3 127.0h1v2.31h-1zM914.3 127.0h1v2.31h-1zM932.3 127.0h1v2.31h-1zM946.3 127.0h1v2.31h-1zM971.3 127.0h2v2.31h-2zM978.3 127.0h1v2.31h-1zM988.3 127.0h1v2.31h-1zM991.3 127.0h1v2.31h-1zM1020.3 127.0h1v2.31h-1zM1024.3 127.0h1v2.31h-1zM1035.3 127.0h1v2.31h-1zM1038.3 127.0h1v2.31h-1zM1041.3 127.0h2v2.31h-2zM1060.3 127.0h1v2.31h-1zM1093.3 127.0h1v2.31h-1zM1106.3 127.0h1v2.31h-1zM673.3 129.3h1v2.31h-1zM698.3 129.3h1v2.31h-1zM703.3 129.3h1v2.31h-1zM721.3 129.3h1v2.31h-1zM739.3 129.3h1v2.31h-1zM745.3 129.3h2v2.31h-2zM748.3 129.3h1v2.31h-1zM755.3 129.3h1v2.31h-1zM776.3 129.3h1v2.31h-1zM795.3 129.3h1v2.31h-1zM803.3 129.3h1v2.31h-1zM808.3 129.3h1v2.31h-1zM810.3 129.3h1v2.31h-1zM821.3 129.3h1v2.31h-1zM829.3 129.3h1v2.31h-1zM831.3 129.3h1v2.31h-1zM834.3 129.3h1v2.31h-1zM846.3 129.3h2v2.31h-2zM854.3 129.3h1v2.31h-1zM865.3 129.3h1v2.31h-1zM868.3 129.3h1v2.31h-1zM884.3 129.3h1v2.31h-1zM889.3 129.3h1v2.31h-1zM932.3 129.3h1v2.31h-1zM938.3 129.3h1v2.31h-1zM972.3 129.3h1v2.31h-1zM980.3 129.3h1v2.31h-1zM998.3 129.3h1v2.31h-1zM1015.3 129.3h2v2.31h-2zM1039.3 129.3h1v2.31h-1zM1060.3 129.3h1v2.31h-1zM1064.3 129.3h1v2.31h-1zM1072.3 129.3h1v2.31h-1zM1112.3 129.3h1v2.31h-1zM1118.3 129.3h1v2.31h-1zM1122.3 129.3h0.1v2.31h-0.1zM668.3 131.6h1v2.31h-1zM670.3 131.6h1v2.31h-1zM686.3 131.6h2v2.31h-2zM696.3 131.6h1v2.31h-1zM702.3 131.6h1v2.31h-1zM708.3 131.6h2v2.31h-2zM712.3 131.6h1v2.31h-1zM736.3 131.6h1v2.31h-1zM749.3 131.6h1v2.31h-1zM759.3 131.6h1v2.31h-1zM766.3 131.6h1v2.31h-1zM775.3 131.6h1v2.31h-1zM786.3 131.6h1v2.31h-1zM796.3 131.6h1v2.31h-1zM802.3 131.6h2v2.31h-2zM831.3 131.6h2v2.31h-2zM861.3 131.6h1v2.31h-1zM876.3 131.6h1v2.31h-1zM879.3 131.6h1v2.31h-1zM887.3 131.6h1v2.31h-1zM892.3 131.6h1v2.31h-1zM897.3 131.6h1v2.31h-1zM903.3 131.6h2v2.31h-2zM926.3 131.6h1v2.31h-1zM935.3 131.6h1v2.31h-1zM947.3 131.6h1v2.31h-1zM950.3 131.6h1v2.31h-1zM971.3 131.6h1v2.31h-1zM974.3 131.6h1v2.31h-1zM986.3 131.6h1v2.31h-1zM1001.3 131.6h1v2.31h-1zM1004.3 131.6h1v2.31h-1zM1006.3 131.6h1v2.31h-1zM1021.3 131.6h1v2.31h-1zM1023.3 131.6h1v2.31h-1zM1033.3 131.6h1v2.31h-1zM1056.3 131.6h1v2.31h-1zM1059.3 131.6h1v2.31h-1zM1077.3 131.6h1v2.31h-1zM1084.3 131.6h1v2.31h-1zM1093.3 131.6h1v2.31h-1zM1099.3 131.6h1v2.31h-1zM1115.3 131.6h1v2.31h-1zM677.3 133.9h1v2.31h-1zM688.3 133.9h1v2.31h-1zM690.3 133.9h1v2.31h-1zM706.3 133.9h1v2.31h-1zM730.3 133.9h2v2.31h-2zM734.3 133.9h1v2.31h-1zM742.3 133.9h2v2.31h-2zM745.3 133.9h1v2.31h-1zM750.3 133.9h2v2.31h-2zM756.3 133.9h1v2.31h-1zM765.3 133.9h1v2.31h-1zM767.3 133.9h1v2.31h-1zM781.3 133.9h1v2.31h-1zM785.3 133.9h1v2.31h-1zM793.3 133.9h1v2.31h-1zM798.3 133.9h1v2.31h-1zM812.3 133.9h2v2.31h-2zM815.3 133.9h1v2.31h-1zM817.3 133.9h1v2.31h-1zM831.3 133.9h1v2.31h-1zM838.3 133.9h1v2.31h-1zM841.3 133.9h1v2.31h-1zM845.3 133.9h1v2.31h-1zM853.3 133.9h1v2.31h-1zM856.3 133.9h1v2.31h-1zM867.3 133.9h1v2.31h-1zM877.3 133.9h1v2.31h-1zM885.3 133.9h1v2.31h-1zM889.3 133.9h1v2.31h-1zM893.3 133.9h1v2.31h-1zM895.3 133.9h1v2.31h-1zM913.3 133.9h1v2.31h-1zM915.3 133.9h1v2.31h-1zM924.3 133.9h1v2.31h-1zM940.3 133.9h1v2.31h-1zM968.3 133.9h1v2.31h-1zM982.3 133.9h1v2.31h-1zM994.3 133.9h1v2.31h-1zM998.3 133.9h2v2.31h-2zM1007.3 133.9h1v2.31h-1zM1009.3 133.9h1v2.31h-1zM1021.3 133.9h1v2.31h-1zM1039.3 133.9h1v2.31h-1zM1045.3 133.9h1v2.31h-1zM1050.3 133.9h1v2.31h-1zM1067.3 133.9h1v2.31h-1zM1071.3 133.9h1v2.31h-1zM1088.3 133.9h1v2.31h-1zM1094.3 133.9h1v2.31h-1zM1097.3 133.9h1v2.31h-1zM1104.3 133.9h1v2.31h-1zM1111.3 133.9h1v2.31h-1zM681.3 136.2h1v2.31h-1zM687.3 136.2h1v2.31h-1zM699.3 136.2h1v2.31h-1zM701.3 136.2h1v2.31h-1zM703.3 136.2h1v2.31h-1zM705.3 136.2h1v2.31h-1zM708.3 136.2h1v2.31h-1zM712.3 136.2h1v2.31h-1zM722.3 136.2h1v2.31h-1zM728.3 136.2h1v2.31h-1zM738.3 136.2h1v2.31h-1zM746.3 136.2h1v2.31h-1zM757.3 136.2h1v2.31h-1zM764.3 136.2h1v2.31h-1zM800.3 136.2h1v2.31h-1zM810.3 136.2h1v2.31h-1zM824.3 136.2h1v2.31h-1zM830.3 136.2h1v2.31h-1zM834.3 136.2h1v2.31h-1zM839.3 136.2h1v2.31h-1zM845.3 136.2h1v2.31h-1zM869.3 136.2h1v2.31h-1zM891.3 136.2h2v2.31h-2zM897.3 136.2h1v2.31h-1zM908.3 136.2h1v2.31h-1zM914.3 136.2h1v2.31h-1zM921.3 136.2h1v2.31h-1zM929.3 136.2h1v2.31h-1zM947.3 136.2h1v2.31h-1zM957.3 136.2h1v2.31h-1zM960.3 136.2h1v2.31h-1zM968.3 136.2h1v2.31h-1zM976.3 136.2h1v2.31h-1zM990.3 136.2h1v2.31h-1zM1000.3 136.2h1v2.31h-1zM1003.3 136.2h1v2.31h-1zM1007.3 136.2h1v2.31h-1zM1010.3 136.2h1v2.31h-1zM1016.3 136.2h1v2.31h-1zM1026.3 136.2h1v2.31h-1zM1037.3 136.2h1v2.31h-1zM1041.3 136.2h1v2.31h-1zM1047.3 136.2h1v2.31h-1zM1050.3 136.2h1v2.31h-1zM1065.3 136.2h1v2.31h-1zM1069.3 136.2h1v2.31h-1zM1087.3 136.2h1v2.31h-1zM1091.3 136.2h1v2.31h-1zM1097.3 136.2h1v2.31h-1zM1101.3 136.2h1v2.31h-1zM1112.3 136.2h1v2.31h-1zM1118.3 136.2h1v2.31h-1zM670.3 138.5h1v2.31h-1zM675.3 138.5h1v2.31h-1zM680.3 138.5h1v2.31h-1zM690.3 138.5h1v2.31h-1zM701.3 138.5h1v2.31h-1zM725.3 138.5h1v2.31h-1zM727.3 138.5h1v2.31h-1zM732.3 138.5h1v2.31h-1zM737.3 138.5h1v2.31h-1zM740.3 138.5h1v2.31h-1zM743.3 138.5h1v2.31h-1zM749.3 138.5h1v2.31h-1zM762.3 138.5h2v2.31h-2zM767.3 138.5h2v2.31h-2zM773.3 138.5h1v2.31h-1zM783.3 138.5h1v2.31h-1zM792.3 138.5h1v2.31h-1zM797.3 138.5h2v2.31h-2zM800.3 138.5h1v2.31h-1zM807.3 138.5h1v2.31h-1zM817.3 138.5h2v2.31h-2zM835.3 138.5h1v2.31h-1zM837.3 138.5h1v2.31h-1zM857.3 138.5h2v2.31h-2zM863.3 138.5h1v2.31h-1zM867.3 138.5h1v2.31h-1zM884.3 138.5h1v2.31h-1zM890.3 138.5h1v2.31h-1zM905.3 138.5h1v2.31h-1zM913.3 138.5h1v2.31h-1zM918.3 138.5h1v2.31h-1zM933.3 138.5h1v2.31h-1zM942.3 138.5h1v2.31h-1zM944.3 138.5h1v2.31h-1zM952.3 138.5h1v2.31h-1zM965.3 138.5h2v2.31h-2zM978.3 138.5h1v2.31h-1zM986.3 138.5h1v2.31h-1zM988.3 138.5h1v2.31h-1zM992.3 138.5h1v2.31h-1zM1010.3 138.5h1v2.31h-1zM1012.3 138.5h1v2.31h-1zM1015.3 138.5h1v2.31h-1zM1017.3 138.5h1v2.31h-1zM1020.3 138.5h1v2.31h-1zM1035.3 138.5h1v2.31h-1zM1043.3 138.5h1v2.31h-1zM1046.3 138.5h1v2.31h-1zM1062.3 138.5h2v2.31h-2zM1075.3 138.5h1v2.31h-1zM1084.3 138.5h1v2.31h-1zM1088.3 138.5h1v2.31h-1zM1093.3 138.5h1v2.31h-1zM1103.3 138.5h3v2.31h-3zM1109.3 138.5h1v2.31h-1zM1114.3 138.5h1v2.31h-1zM668.3 140.8h2v2.31h-2zM677.3 140.8h1v2.31h-1zM682.3 140.8h1v2.31h-1zM690.3 140.8h3v2.31h-3zM694.3 140.8h2v2.31h-2zM697.3 140.8h1v2.31h-1zM699.3 140.8h1v2.31h-1zM701.3 140.8h3v2.31h-3zM710.3 140.8h1v2.31h-1zM715.3 140.8h1v2.31h-1zM728.3 140.8h1v2.31h-1zM734.3 140.8h4v2.31h-4zM739.3 140.8h1v2.31h-1zM748.3 140.8h4v2.31h-4zM754.3 140.8h1v2.31h-1zM764.3 140.8h1v2.31h-1zM774.3 140.8h1v2.31h-1zM776.3 140.8h2v2.31h-2zM779.3 140.8h1v2.31h-1zM787.3 140.8h1v2.31h-1zM792.3 140.8h1v2.31h-1zM794.3 140.8h1v2.31h-1zM800.3 140.8h1v2.31h-1zM802.3 140.8h1v2.31h-1zM806.3 140.8h1v2.31h-1zM820.3 140.8h1v2.31h-1zM822.3 140.8h1v2.31h-1zM827.3 140.8h1v2.31h-1zM829.3 140.8h1v2.31h-1zM831.3 140.8h1v2.31h-1zM833.3 140.8h2v2.31h-2zM853.3 140.8h1v2.31h-1zM855.3 140.8h1v2.31h-1zM862.3 140.8h1v2.31h-1zM864.3 140.8h1v2.31h-1zM866.3 140.8h1v2.31h-1zM871.3 140.8h1v2.31h-1zM880.3 140.8h1v2.31h-1zM896.3 140.8h1v2.31h-1zM910.3 140.8h1v2.31h-1zM914.3 140.8h1v2.31h-1zM920.3 140.8h1v2.31h-1zM922.3 140.8h1v2.31h-1zM936.3 140.8h1v2.31h-1zM938.3 140.8h1v2.31h-1zM941.3 140.8h1v2.31h-1zM947.3 140.8h1v2.31h-1zM957.3 140.8h1v2.31h-1zM970.3 140.8h1v2.31h-1zM982.3 140.8h1v2.31h-1zM985.3 140.8h1v2.31h-1zM990.3 140.8h1v2.31h-1zM992.3 140.8h1v2.31h-1zM996.3 140.8h1v2.31h-1zM1003.3 140.8h1v2.31h-1zM1014.3 140.8h1v2.31h-1zM1016.3 140.8h1v2.31h-1zM1018.3 140.8h1v2.31h-1zM1022.3 140.8h1v2.31h-1zM1024.3 140.8h1v2.31h-1zM1026.3 140.8h1v2.31h-1zM1031.3 140.8h1v2.31h-1zM1039.3 140.8h1v2.31h-1zM1045.3 140.8h2v2.31h-2zM1049.3 140.8h4v2.31h-4zM1067.3 140.8h1v2.31h-1zM1071.3 140.8h1v2.31h-1zM1073.3 140.8h2v2.31h-2zM1077.3 140.8h1v2.31h-1zM1085.3 140.8h1v2.31h-1zM1087.3 140.8h1v2.31h-1zM1090.3 140.8h2v2.31h-2zM1097.3 140.8h1v2.31h-1zM1103.3 140.8h2v2.31h-2zM1111.3 140.8h1v2.31h-1zM1113.3 140.8h1v2.31h-1zM1119.3 140.8h1v2.31h-1z" fill="#00f0ff"/>
<path d="M670.3 115.4h1v2.31h-1zM684.3 115.4h1v2.31h-1zM737.3 115.4h1v2.31h-1zM756.3 115.4h1v2.31h-1zM785.3 115.4h1v2.31h-1zM792.3 115.4h1v2.31h-1zM794.3 115.4h1v2.31h-1zM886.3 115.4h1v2.31h-1zM897.3 115.4h1v2.31h-1zM961.3 115.4h1v2.31h-1zM1004.3 115.4h1v2.31h-1zM762.3 117.7h2v2.31h-2zM848.3 117.7h1v2.31h-1zM873.3 117.7h1v2.31h-1zM901.3 117.7h1v2.31h-1zM964.3 117.7h1v2.31h-1zM993.3 117.7h1v2.31h-1zM1001.3 117.7h1v2.31h-1zM1010.3 117.7h1v2.31h-1zM1027.3 117.7h1v2.31h-1zM1077.3 117.7h1v2.31h-1zM1108.3 117.7h1v2.31h-1zM685.3 120.0h1v2.31h-1zM715.3 120.0h1v2.31h-1zM832.3 120.0h1v2.31h-1zM861.3 120.0h1v2.31h-1zM884.3 120.0h1v2.31h-1zM999.3 120.0h1v2.31h-1zM1065.3 120.0h1v2.31h-1zM746.3 122.3h1v2.31h-1zM808.3 122.3h1v2.31h-1zM826.3 122.3h1v2.31h-1zM828.3 122.3h1v2.31h-1zM970.3 122.3h1v2.31h-1zM1084.3 122.3h1v2.31h-1zM704.3 124.6h1v2.31h-1zM714.3 124.6h1v2.31h-1zM741.3 124.6h1v2.31h-1zM749.3 124.6h1v2.31h-1zM833.3 124.6h1v2.31h-1zM935.3 124.6h1v2.31h-1zM948.3 124.6h1v2.31h-1zM987.3 124.6h1v2.31h-1zM989.3 124.6h1v2.31h-1zM1061.3 124.6h1v2.31h-1zM1065.3 124.6h1v2.31h-1zM1119.3 124.6h1v2.31h-1zM782.3 127.0h1v2.31h-1zM786.3 127.0h1v2.31h-1zM801.3 127.0h1v2.31h-1zM810.3 127.0h1v2.31h-1zM815.3 127.0h1v2.31h-1zM915.3 127.0h1v2.31h-1zM977.3 127.0h1v2.31h-1zM1018.3 127.0h1v2.31h-1zM1117.3 127.0h1v2.31h-1zM714.3 129.3h1v2.31h-1zM763.3 129.3h1v2.31h-1zM769.3 129.3h1v2.31h-1zM772.3 129.3h1v2.31h-1zM794.3 129.3h1v2.31h-1zM848.3 129.3h1v2.31h-1zM925.3 129.3h1v2.31h-1zM956.3 129.3h1v2.31h-1zM1038.3 129.3h1v2.31h-1zM1068.3 129.3h1v2.31h-1zM1114.3 129.3h1v2.31h-1zM751.3 131.6h1v2.31h-1zM833.3 131.6h1v2.31h-1zM836.3 131.6h1v2.31h-1zM847.3 131.6h1v2.31h-1zM900.3 131.6h1v2.31h-1zM943.3 131.6h1v2.31h-1zM1009.3 131.6h1v2.31h-1zM1054.3 131.6h1v2.31h-1zM1092.3 131.6h1v2.31h-1zM1097.3 131.6h1v2.31h-1zM675.3 133.9h1v2.31h-1zM709.3 133.9h1v2.31h-1zM822.3 133.9h1v2.31h-1zM846.3 133.9h1v2.31h-1zM1032.3 133.9h1v2.31h-1zM1089.3 133.9h1v2.31h-1zM1095.3 133.9h1v2.31h-1zM670.3 136.2h1v2.31h-1zM752.3 136.2h1v2.31h-1zM773.3 136.2h1v2.31h-1zM795.3 136.2h1v2.31h-1zM842.3 136.2h1v2.31h-1zM885.3 136.2h2v2.31h-2zM911.3 136.2h1v2.31h-1zM915.3 136.2h1v2.31h-1zM941.3 136.2h1v2.31h-1zM967.3 136.2h1v2.31h-1zM1023.3 136.2h2v2.31h-2zM1086.3 136.2h1v2.31h-1zM674.3 138.5h1v2.31h-1zM687.3 138.5h1v2.31h-1zM692.3 138.5h1v2.31h-1zM713.3 138.5h1v2.31h-1zM733.3 138.5h1v2.31h-1zM746.3 138.5h1v2.31h-1zM754.3 138.5h1v2.31h-1zM759.3 138.5h1v2.31h-1zM782.3 138.5h1v2.31h-1zM795.3 138.5h1v2.31h-1zM814.3 138.5h1v2.31h-1zM831.3 138.5h1v2.31h-1zM903.3 138.5h1v2.31h-1zM946.3 138.5h1v2.31h-1zM954.3 138.5h1v2.31h-1zM967.3 138.5h2v2.31h-2zM1009.3 138.5h1v2.31h-1zM1018.3 138.5h1v2.31h-1zM1050.3 138.5h1v2.31h-1zM1070.3 138.5h1v2.31h-1zM1086.3 138.5h1v2.31h-1zM1097.3 138.5h1v2.31h-1zM1116.3 138.5h1v2.31h-1zM1121.3 138.5h1v2.31h-1zM670.3 140.8h1v2.31h-1zM686.3 140.8h1v2.31h-1zM698.3 140.8h1v2.31h-1zM711.3 140.8h1v2.31h-1zM723.3 140.8h1v2.31h-1zM726.3 140.8h1v2.31h-1zM763.3 140.8h1v2.31h-1zM773.3 140.8h1v2.31h-1zM811.3 140.8h2v2.31h-2zM819.3 140.8h1v2.31h-1zM824.3 140.8h1v2.31h-1zM860.3 140.8h1v2.31h-1zM872.3 140.8h1v2.31h-1zM884.3 140.8h1v2.31h-1zM889.3 140.8h1v2.31h-1zM916.3 140.8h1v2.31h-1zM918.3 140.8h1v2.31h-1zM942.3 140.8h1v2.31h-1zM945.3 140.8h1v2.31h-1zM955.3 140.8h1v2.31h-1zM965.3 140.8h1v2.31h-1zM979.3 140.8h1v2.31h-1zM986.3 140.8h1v2.31h-1zM1012.3 140.8h2v2.31h-2zM1020.3 140.8h1v2.31h-1zM1029.3 140.8h1v2.31h-1zM1037.3 140.8h1v2.31h-1zM1059.3 140.8h1v2.31h-1zM1079.3 140.8h1v2.31h-1zM1093.3 140.8h1v2.31h-1zM1107.3 140.8h1v2.31h-1z" fill="#00ff80"/>
<path d="M676.3 115.4h1v2.31h-1zM688.3 115.4h1v2.31h-1zM700.3 115.4h1v2.31h-1zM720.3 115.4h1v2.31h-1zM727.3 115.4h1v2.31h-1zM741.3 115.4h1v2.31h-1zM743.3 115.4h1v2.31h-1zM768.3 115.4h1v2.31h-1zM771.3 115.4h1v2.31h-1zM804.3 115.4h1v2.31h-1zM837.3 115.4h1v2.31h-1zM874.3 115.4h1v2.31h-1zM877.3 115.4h1v2.31h-1zM883.3 115.4h1v2.31h-1zM908.3 115.4h1v2.31h-1zM925.3 115.4h2v2.31h-2zM962.3 115.4h1v2.31h-1zM1009.3 115.4h1v2.31h-1zM1028.3 115.4h1v2.31h-1zM1033.3 115.4h2v2.31h-2zM1043.3 115.4h1v2.31h-1zM1046.3 115.4h1v2.31h-1zM1048.3 115.4h1v2.31h-1zM1055.3 115.4h1v2.31h-1zM1075.3 115.4h1v2.31h-1zM1084.3 115.4h1v2.31h-1zM1104.3 115.4h1v2.31h-1zM1107.3 115.4h1v2.31h-1zM672.3 117.7h1v2.31h-1zM681.3 117.7h1v2.31h-1zM712.3 117.7h1v2.31h-1zM714.3 117.7h1v2.31h-1zM728.3 117.7h1v2.31h-1zM731.3 117.7h1v2.31h-1zM736.3 117.7h1v2.31h-1zM759.3 117.7h2v2.31h-2zM772.3 117.7h1v2.31h-1zM797.3 117.7h1v2.31h-1zM804.3 117.7h1v2.31h-1zM809.3 117.7h1v2.31h-1zM820.3 117.7h1v2.31h-1zM836.3 117.7h1v2.31h-1zM845.3 117.7h1v2.31h-1zM856.3 117.7h1v2.31h-1zM865.3 117.7h1v2.31h-1zM906.3 117.7h1v2.31h-1zM925.3 117.7h1v2.31h-1zM945.3 117.7h1v2.31h-1zM973.3 117.7h1v2.31h-1zM983.3 117.7h1v2.31h-1zM997.3 117.7h2v2.31h-2zM1005.3 117.7h1v2.31h-1zM1012.3 117.7h1v2.31h-1zM1014.3 117.7h1v2.31h-1zM1030.3 117.7h1v2.31h-1zM1060.3 117.7h1v2.31h-1zM1065.3 117.7h1v2.31h-1zM1074.3 117.7h1v2.31h-1zM1122.3 117.7h0.1v2.31h-0.1zM682.3 120.0h1v2.31h-1zM704.3 120.0h1v2.31h-1zM725.3 120.0h1v2.31h-1zM728.3 120.0h1v2.31h-1zM760.3 120.0h1v2.31h-1zM823.3 120.0h1v2.31h-1zM827.3 120.0h1v2.31h-1zM838.3 120.0h1v2.31h-1zM896.3 120.0h1v2.31h-1zM900.3 120.0h1v2.31h-1zM926.3 120.0h1v2.31h-1zM948.3 120.0h1v2.31h-1zM953.3 120.0h1v2.31h-1zM962.3 120.0h1v2.31h-1zM1004.3 120.0h1v2.31h-1zM1042.3 120.0h1v2.31h-1zM1045.3 120.0h1v2.31h-1zM1052.3 120.0h1v2.31h-1zM1055.3 120.0h1v2.31h-1zM1097.3 120.0h1v2.31h-1zM675.3 122.3h1v2.31h-1zM755.3 122.3h1v2.31h-1zM795.3 122.3h1v2.31h-1zM799.3 122.3h1v2.31h-1zM824.3 122.3h1v2.31h-1zM829.3 122.3h1v2.31h-1zM837.3 122.3h1v2.31h-1zM840.3 122.3h1v2.31h-1zM862.3 122.3h1v2.31h-1zM865.3 122.3h2v2.31h-2zM870.3 122.3h1v2.31h-1zM872.3 122.3h1v2.31h-1zM902.3 122.3h1v2.31h-1zM940.3 122.3h1v2.31h-1zM962.3 122.3h1v2.31h-1zM1037.3 122.3h1v2.31h-1zM1055.3 122.3h1v2.31h-1zM1080.3 122.3h1v2.31h-1zM1094.3 122.3h1v2.31h-1zM1098.3 122.3h1v2.31h-1zM1103.3 122.3h1v2.31h-1zM1109.3 122.3h2v2.31h-2zM701.3 124.6h1v2.31h-1zM712.3 124.6h1v2.31h-1zM757.3 124.6h1v2.31h-1zM777.3 124.6h1v2.31h-1zM796.3 124.6h1v2.31h-1zM811.3 124.6h1v2.31h-1zM819.3 124.6h1v2.31h-1zM827.3 124.6h1v2.31h-1zM840.3 124.6h1v2.31h-1zM855.3 124.6h1v2.31h-1zM883.3 124.6h1v2.31h-1zM912.3 124.6h1v2.31h-1zM934.3 124.6h1v2.31h-1zM936.3 124.6h1v2.31h-1zM941.3 124.6h1v2.31h-1zM944.3 124.6h1v2.31h-1zM955.3 124.6h1v2.31h-1zM963.3 124.6h1v2.31h-1zM968.3 124.6h1v2.31h-1zM978.3 124.6h1v2.31h-1zM983.3 124.6h1v2.31h-1zM998.3 124.6h1v2.31h-1zM1031.3 124.6h1v2.31h-1zM1044.3 124.6h1v2.31h-1zM1052.3 124.6h1v2.31h-1zM1056.3 124.6h1v2.31h-1zM1110.3 124.6h1v2.31h-1zM1113.3 124.6h1v2.31h-1zM675.3 127.0h1v2.31h-1zM690.3 127.0h1v2.31h-1zM696.3 127.0h1v2.31h-1zM702.3 127.0h1v2.31h-1zM713.3 127.0h1v2.31h-1zM716.3 127.0h1v2.31h-1zM720.3 127.0h1v2.31h-1zM734.3 127.0h1v2.31h-1zM751.3 127.0h1v2.31h-1zM754.3 127.0h1v2.31h-1zM762.3 127.0h1v2.31h-1zM764.3 127.0h1v2.31h-1zM770.3 127.0h1v2.31h-1zM774.3 127.0h1v2.31h-1zM777.3 127.0h1v2.31h-1zM784.3 127.0h1v2.31h-1zM788.3 127.0h1v2.31h-1zM797.3 127.0h2v2.31h-2zM822.3 127.0h1v2.31h-1zM829.3 127.0h2v2.31h-2zM833.3 127.0h2v2.31h-2zM837.3 127.0h2v2.31h-2zM843.3 127.0h1v2.31h-1zM849.3 127.0h1v2.31h-1zM852.3 127.0h1v2.31h-1zM859.3 127.0h1v2.31h-1zM867.3 127.0h1v2.31h-1zM878.3 127.0h1v2.31h-1zM881.3 127.0h2v2.31h-2zM895.3 127.0h1v2.31h-1zM897.3 127.0h1v2.31h-1zM933.3 127.0h1v2.31h-1zM935.3 127.0h1v2.31h-1zM947.3 127.0h1v2.31h-1zM949.3 127.0h2v2.31h-2zM959.3 127.0h1v2.31h-1zM964.3 127.0h1v2.31h-1zM980.3 127.0h1v2.31h-1zM986.3 127.0h1v2.31h-1zM1001.3 127.0h1v2.31h-1zM1004.3 127.0h1v2.31h-1zM1006.3 127.0h1v2.31h-1zM1015.3 127.0h1v2.31h-1zM1026.3 127.0h1v2.31h-1zM1028.3 127.0h1v2.31h-1zM1030.3 127.0h1v2.31h-1zM1040.3 127.0h1v2.31h-1zM1053.3 127.0h1v2.31h-1zM1055.3 127.0h2v2.31h-2zM1059.3 127.0h1v2.31h-1zM1061.3 127.0h1v2.31h-1zM1064.3 127.0h1v2.31h-1zM1069.3 127.0h1v2.31h-1zM1073.3 127.0h1v2.31h-1zM1087.3 127.0h2v2.31h-2zM1095.3 127.0h2v2.31h-2zM1101.3 127.0h1v2.31h-1zM1115.3 127.0h1v2.31h-1zM1118.3 127.0h1v2.31h-1zM680.3 129.3h1v2.31h-1zM683.3 129.3h1v2.31h-1zM687.3 129.3h1v2.31h-1zM704.3 129.3h1v2.31h-1zM708.3 129.3h1v2.31h-1zM710.3 129.3h1v2.31h-1zM716.3 129.3h1v2.31h-1zM719.3 129.3h1v2.31h-1zM730.3 129.3h1v2.31h-1zM750.3 129.3h1v2.31h-1zM766.3 129.3h1v2.31h-1zM770.3 129.3h1v2.31h-1zM777.3 129.3h1v2.31h-1zM785.3 129.3h2v2.31h-2zM789.3 129.3h1v2.31h-1zM809.3 129.3h1v2.31h-1zM812.3 129.3h1v2.31h-1zM818.3 129.3h1v2.31h-1zM822.3 129.3h1v2.31h-1zM833.3 129.3h1v2.31h-1zM835.3 129.3h1v2.31h-1zM842.3 129.3h1v2.31h-1zM850.3 129.3h2v2.31h-2zM880.3 129.3h2v2.31h-2zM885.3 129.3h1v2.31h-1zM892.3 129.3h1v2.31h-1zM895.3 129.3h1v2.31h-1zM905.3 129.3h1v2.31h-1zM910.3 129.3h2v2.31h-2zM914.3 129.3h1v2.31h-1zM916.3 129.3h3v2.31h-3zM922.3 129.3h1v2.31h-1zM927.3 129.3h1v2.31h-1zM929.3 129.3h2v2.31h-2zM940.3 129.3h1v2.31h-1zM948.3 129.3h1v2.31h-1zM954.3 129.3h2v2.31h-2zM965.3 129.3h2v2.31h-2zM975.3 129.3h1v2.31h-1zM979.3 129.3h1v2.31h-1zM993.3 129.3h1v2.31h-1zM997.3 129.3h1v2.31h-1zM1001.3 129.3h1v2.31h-1zM1003.3 129.3h1v2.31h-1zM1005.3 129.3h1v2.31h-1zM1009.3 129.3h2v2.31h-2zM1013.3 129.3h1v2.31h-1zM1018.3 129.3h2v2.31h-2zM1023.3 129.3h1v2.31h-1zM1028.3 129.3h1v2.31h-1zM1034.3 129.3h1v2.31h-1zM1048.3 129.3h3v2.31h-3zM1061.3 129.3h1v2.31h-1zM1065.3 129.3h3v2.31h-3zM1069.3 129.3h1v2.31h-1zM1079.3 129.3h1v2.31h-1zM1087.3 129.3h1v2.31h-1zM1089.3 129.3h2v2.31h-2zM1092.3 129.3h1v2.31h-1zM1098.3 129.3h1v2.31h-1zM1103.3 129.3h2v2.31h-2zM1108.3 129.3h1v2.31h-1zM1117.3 129.3h1v2.31h-1zM1121.3 129.3h1v2.31h-1zM681.3 131.6h1v2.31h-1zM683.3 131.6h2v2.31h-2zM695.3 131.6h1v2.31h-1zM697.3 131.6h2v2.31h-2zM700.3 131.6h1v2.31h-1zM713.3 131.6h1v2.31h-1zM719.3 131.6h3v2.31h-3zM723.3 131.6h1v2.31h-1zM726.3 131.6h2v2.31h-2zM730.3 131.6h1v2.31h-1zM739.3 131.6h1v2.31h-1zM743.3 131.6h1v2.31h-1zM746.3 131.6h1v2.31h-1zM756.3 131.6h1v2.31h-1zM763.3 131.6h1v2.31h-1zM771.3 131.6h1v2.31h-1zM783.3 131.6h1v2.31h-1zM797.3 131.6h1v2.31h-1zM810.3 131.6h1v2.31h-1zM812.3 131.6h1v2.31h-1zM814.3 131.6h1v2.31h-1zM817.3 131.6h2v2.31h-2zM823.3 131.6h1v2.31h-1zM825.3 131.6h1v2.31h-1zM827.3 131.6h1v2.31h-1zM829.3 131.6h1v2.31h-1zM837.3 131.6h3v2.31h-3zM842.3 131.6h1v2.31h-1zM855.3 131.6h1v2.31h-1zM857.3 131.6h1v2.31h-1zM862.3 131.6h3v2.31h-3zM866.3 131.6h1v2.31h-1zM871.3 131.6h1v2.31h-1zM878.3 131.6h1v2.31h-1zM883.3 131.6h2v2.31h-2zM890.3 131.6h1v2.31h-1zM902.3 131.6h1v2.31h-1zM908.3 131.6h1v2.31h-1zM913.3 131.6h1v2.31h-1zM920.3 131.6h1v2.31h-1zM922.3 131.6h1v2.31h-1zM937.3 131.6h1v2.31h-1zM945.3 131.6h2v2.31h-2zM952.3 131.6h2v2.31h-2zM956.3 131.6h1v2.31h-1zM963.3 131.6h1v2.31h-1zM966.3 131.6h1v2.31h-1zM969.3 131.6h1v2.31h-1zM980.3 131.6h2v2.31h-2zM984.3 131.6h1v2.31h-1zM996.3 131.6h1v2.31h-1zM999.3 131.6h2v2.31h-2zM1013.3 131.6h2v2.31h-2zM1020.3 131.6h1v2.31h-1zM1025.3 131.6h1v2.31h-1zM1027.3 131.6h1v2.31h-1zM1029.3 131.6h1v2.31h-1zM1034.3 131.6h3v2.31h-3zM1040.3 131.6h1v2.31h-1zM1042.3 131.6h1v2.31h-1zM1051.3 131.6h2v2.31h-2zM1058.3 131.6h1v2.31h-1zM1064.3 131.6h3v2.31h-3zM1070.3 131.6h1v2.31h-1zM1075.3 131.6h1v2.31h-1zM1082.3 131.6h2v2.31h-2zM1088.3 131.6h1v2.31h-1zM1100.3 131.6h1v2.31h-1zM1108.3 131.6h2v2.31h-2zM1111.3 131.6h1v2.31h-1zM1113.3 131.6h1v2.31h-1zM1120.3 131.6h1v2.31h-1zM671.3 133.9h1v2.31h-1zM674.3 133.9h1v2.31h-1zM679.3 133.9h1v2.31h-1zM681.3 133.9h1v2.31h-1zM686.3 133.9h1v2.31h-1zM689.3 133.9h1v2.31h-1zM692.3 133.9h1v2.31h-1zM700.3 133.9h1v2.31h-1zM704.3 133.9h1v2.31h-1zM718.3 133.9h1v2.31h-1zM720.3 133.9h1v2.31h-1zM722.3 133.9h1v2.31h-1zM724.3 133.9h2v2.31h-2zM735.3 133.9h1v2.31h-1zM739.3 133.9h1v2.31h-1zM749.3 133.9h1v2.31h-1zM760.3 133.9h1v2.31h-1zM763.3 133.9h1v2.31h-1zM768.3 133.9h1v2.31h-1zM770.3 133.9h1v2.31h-1zM777.3 133.9h1v2.31h-1zM779.3 133.9h1v2.31h-1zM787.3 133.9h3v2.31h-3zM794.3 133.9h1v2.31h-1zM796.3 133.9h2v2.31h-2zM799.3 133.9h1v2.31h-1zM804.3 133.9h1v2.31h-1zM806.3 133.9h1v2.31h-1zM811.3 133.9h1v2.31h-1zM818.3 133.9h1v2.31h-1zM833.3 133.9h1v2.31h-1zM849.3 133.9h1v2.31h-1zM861.3 133.9h1v2.31h-1zM863.3 133.9h1v2.31h-1zM871.3 133.9h1v2.31h-1zM873.3 133.9h2v2.31h-2zM886.3 133.9h1v2.31h-1zM892.3 133.9h1v2.31h-1zM894.3 133.9h1v2.31h-1zM897.3 133.9h1v2.31h-1zM902.3 133.9h1v2.31h-1zM908.3 133.9h1v2.31h-1zM916.3 133.9h1v2.31h-1zM918.3 133.9h2v2.31h-2zM928.3 133.9h2v2.31h-2zM947.3 133.9h2v2.31h-2zM951.3 133.9h1v2.31h-1zM955.3 133.9h2v2.31h-2zM958.3 133.9h2v2.31h-2zM961.3 133.9h2v2.31h-2zM970.3 133.9h1v2.31h-1zM972.3 133.9h1v2.31h-1zM986.3 133.9h1v2.31h-1zM991.3 133.9h2v2.31h-2zM1000.3 133.9h1v2.31h-1zM1006.3 133.9h1v2.31h-1zM1008.3 133.9h1v2.31h-1zM1010.3 133.9h1v2.31h-1zM1012.3 133.9h1v2.31h-1zM1026.3 133.9h1v2.31h-1zM1030.3 133.9h2v2.31h-2zM1038.3 133.9h1v2.31h-1zM1042.3 133.9h1v2.31h-1zM1051.3 133.9h1v2.31h-1zM1054.3 133.9h1v2.31h-1zM1068.3 133.9h1v2.31h-1zM1072.3 133.9h1v2.31h-1zM1086.3 133.9h1v2.31h-1zM1090.3 133.9h1v2.31h-1zM1102.3 133.9h2v2.31h-2zM1117.3 133.9h1v2.31h-1zM669.3 136.2h1v2.31h-1zM673.3 136.2h1v2.31h-1zM675.3 136.2h1v2.31h-1zM679.3 136.2h1v2.31h-1zM682.3 136.2h2v2.31h-2zM685.3 136.2h1v2.31h-1zM690.3 136.2h1v2.31h-1zM692.3 136.2h1v2.31h-1zM694.3 136.2h1v2.31h-1zM698.3 136.2h1v2.31h-1zM706.3 136.2h1v2.31h-1zM710.3 136.2h2v2.31h-2zM718.3 136.2h1v2.31h-1zM727.3 136.2h1v2.31h-1zM733.3 136.2h1v2.31h-1zM736.3 136.2h1v2.31h-1zM739.3 136.2h1v2.31h-1zM742.3 136.2h1v2.31h-1zM758.3 136.2h1v2.31h-1zM761.3 136.2h1v2.31h-1zM768.3 136.2h1v2.31h-1zM770.3 136.2h3v2.31h-3zM778.3 136.2h1v2.31h-1zM784.3 136.2h1v2.31h-1zM789.3 136.2h1v2.31h-1zM792.3 136.2h2v2.31h-2zM796.3 136.2h1v2.31h-1zM798.3 136.2h1v2.31h-1zM803.3 136.2h2v2.31h-2zM808.3 136.2h2v2.31h-2zM815.3 136.2h1v2.31h-1zM819.3 136.2h2v2.31h-2zM822.3 136.2h1v2.31h-1zM826.3 136.2h3v2.31h-3zM831.3 136.2h1v2.31h-1zM833.3 136.2h1v2.31h-1zM838.3 136.2h1v2.31h-1zM843.3 136.2h1v2.31h-1zM848.3 136.2h1v2.31h-1zM850.3 136.2h1v2.31h-1zM852.3 136.2h1v2.31h-1zM856.3 136.2h2v2.31h-2zM864.3 136.2h3v2.31h-3zM871.3 136.2h1v2.31h-1zM876.3 136.2h1v2.31h-1zM880.3 136.2h2v2.31h-2zM883.3 136.2h1v2.31h-1zM888.3 136.2h2v2.31h-2zM893.3 136.2h3v2.31h-3zM899.3 136.2h1v2.31h-1zM901.3 136.2h1v2.31h-1zM905.3 136.2h2v2.31h-2zM910.3 136.2h1v2.31h-1zM913.3 136.2h1v2.31h-1zM928.3 136.2h1v2.31h-1zM939.3 136.2h1v2.31h-1zM944.3 136.2h1v2.31h-1zM950.3 136.2h1v2.31h-1zM956.3 136.2h1v2.31h-1zM962.3 136.2h1v2.31h-1zM964.3 136.2h2v2.31h-2zM970.3 136.2h1v2.31h-1zM978.3 136.2h1v2.31h-1zM980.3 136.2h1v2.31h-1zM982.3 136.2h1v2.31h-1zM984.3 136.2h1v2.31h-1zM986.3 136.2h3v2.31h-3zM993.3 136.2h1v2.31h-1zM1002.3 136.2h1v2.31h-1zM1005.3 136.2h2v2.31h-2zM1014.3 136.2h2v2.31h-2zM1017.3 136.2h2v2.31h-2zM1028.3 136.2h1v2.31h-1zM1033.3 136.2h4v2.31h-4zM1044.3 136.2h1v2.31h-1zM1046.3 136.2h1v2.31h-1zM1049.3 136.2h1v2.31h-1zM1057.3 136.2h1v2.31h-1zM1059.3 136.2h2v2.31h-2zM1067.3 136.2h1v2.31h-1zM1077.3 136.2h2v2.31h-2zM1090.3 136.2h1v2.31h-1zM1093.3 136.2h1v2.31h-1zM1096.3 136.2h1v2.31h-1zM1098.3 136.2h1v2.31h-1zM1104.3 136.2h1v2.31h-1zM1110.3 136.2h2v2.31h-2zM1115.3 136.2h1v2.31h-1zM1117.3 136.2h1v2.31h-1zM1121.3 136.2h1.1v2.31h-1.1zM671.3 138.5h3v2.31h-3zM676.3 138.5h2v2.31h-2zM683.3 138.5h2v2.31h-2zM686.3 138.5h1v2.31h-1zM691.3 138.5h1v2.31h-1zM693.3 138.5h2v2.31h-2zM696.3 138.5h2v2.31h-2zM700.3 138.5h1v2.31h-1zM705.3 138.5h1v2.31h-1zM715.3 138.5h1v2.31h-1zM726.3 138.5h1v2.31h-1zM729.3 138.5h1v2.31h-1zM731.3 138.5h1v2.31h-1zM734.3 138.5h3v2.31h-3zM738.3 138.5h2v2.31h-2zM742.3 138.5h1v2.31h-1zM747.3 138.5h1v2.31h-1zM750.3 138.5h1v2.31h-1zM753.3 138.5h1v2.31h-1zM761.3 138.5h1v2.31h-1zM765.3 138.5h1v2.31h-1zM769.3 138.5h4v2.31h-4zM785.3 138.5h2v2.31h-2zM788.3 138.5h1v2.31h-1zM794.3 138.5h1v2.31h-1zM799.3 138.5h1v2.31h-1zM801.3 138.5h1v2.31h-1zM808.3 138.5h1v2.31h-1zM810.3 138.5h2v2.31h-2zM813.3 138.5h1v2.31h-1zM815.3 138.5h2v2.31h-2zM820.3 138.5h1v2.31h-1zM823.3 138.5h1v2.31h-1zM827.3 138.5h2v2.31h-2zM839.3 138.5h2v2.31h-2zM845.3 138.5h1v2.31h-1zM849.3 138.5h1v2.31h-1zM852.3 138.5h1v2.31h-1zM855.3 138.5h2v2.31h-2zM860.3 138.5h1v2.31h-1zM866.3 138.5h1v2.31h-1zM872.3 138.5h1v2.31h-1zM874.3 138.5h1v2.31h-1zM876.3 138.5h1v2.31h-1zM882.3 138.5h2v2.31h-2zM885.3 138.5h1v2.31h-1zM887.3 138.5h3v2.31h-3zM891.3 138.5h1v2.31h-1zM895.3 138.5h3v2.31h-3zM908.3 138.5h1v2.31h-1zM912.3 138.5h1v2.31h-1zM914.3 138.5h3v2.31h-3zM926.3 138.5h3v2.31h-3zM931.3 138.5h1v2.31h-1zM937.3 138.5h1v2.31h-1zM950.3 138.5h2v2.31h-2zM955.3 138.5h1v2.31h-1zM960.3 138.5h2v2.31h-2zM970.3 138.5h1v2.31h-1zM974.3 138.5h1v2.31h-1zM980.3 138.5h2v2.31h-2zM983.3 138.5h2v2.31h-2zM987.3 138.5h1v2.31h-1zM990.3 138.5h1v2.31h-1zM996.3 138.5h1v2.31h-1zM998.3 138.5h1v2.31h-1zM1008.3 138.5h1v2.31h-1zM1011.3 138.5h1v2.31h-1zM1013.3 138.5h1v2.31h-1zM1023.3 138.5h5v2.31h-5zM1029.3 138.5h2v2.31h-2zM1037.3 138.5h1v2.31h-1zM1045.3 138.5h1v2.31h-1zM1047.3 138.5h1v2.31h-1zM1054.3 138.5h3v2.31h-3zM1058.3 138.5h1v2.31h-1zM1064.3 138.5h2v2.31h-2zM1068.3 138.5h1v2.31h-1zM1072.3 138.5h1v2.31h-1zM1079.3 138.5h1v2.31h-1zM1081.3 138.5h1v2.31h-1zM1083.3 138.5h1v2.31h-1zM1085.3 138.5h1v2.31h-1zM1092.3 138.5h1v2.31h-1zM1095.3 138.5h2v2.31h-2zM1099.3 138.5h1v2.31h-1zM1106.3 138.5h2v2.31h-2zM1117.3 138.5h3v2.31h-3zM1122.3 138.5h0.1v2.31h-0.1zM671.3 140.8h1v2.31h-1zM674.3 140.8h3v2.31h-3zM678.3 140.8h2v2.31h-2zM685.3 140.8h1v2.31h-1zM687.3 140.8h1v2.31h-1zM693.3 140.8h1v2.31h-1zM696.3 140.8h1v2.31h-1zM705.3 140.8h2v2.31h-2zM714.3 140.8h1v2.31h-1zM718.3 140.8h1v2.31h-1zM721.3 140.8h1v2.31h-1zM727.3 140.8h1v2.31h-1zM731.3 140.8h1v2.31h-1zM741.3 140.8h1v2.31h-1zM744.3 140.8h2v2.31h-2zM747.3 140.8h1v2.31h-1zM752.3 140.8h2v2.31h-2zM755.3 140.8h1v2.31h-1zM761.3 140.8h1v2.31h-1zM771.3 140.8h1v2.31h-1zM775.3 140.8h1v2.31h-1zM778.3 140.8h1v2.31h-1zM780.3 140.8h3v2.31h-3zM788.3 140.8h2v2.31h-2zM791.3 140.8h1v2.31h-1zM795.3 140.8h5v2.31h-5zM804.3 140.8h1v2.31h-1zM810.3 140.8h1v2.31h-1zM813.3 140.8h2v2.31h-2zM821.3 140.8h1v2.31h-1zM828.3 140.8h1v2.31h-1zM836.3 140.8h1v2.31h-1zM838.3 140.8h2v2.31h-2zM841.3 140.8h5v2.31h-5zM848.3 140.8h2v2.31h-2zM851.3 140.8h1v2.31h-1zM856.3 140.8h2v2.31h-2zM861.3 140.8h1v2.31h-1zM865.3 140.8h1v2.31h-1zM868.3 140.8h3v2.31h-3zM873.3 140.8h1v2.31h-1zM879.3 140.8h1v2.31h-1zM881.3 140.8h1v2.31h-1zM883.3 140.8h1v2.31h-1zM888.3 140.8h1v2.31h-1zM891.3 140.8h2v2.31h-2zM899.3 140.8h1v2.31h-1zM902.3 140.8h1v2.31h-1zM904.3 140.8h1v2.31h-1zM906.3 140.8h2v2.31h-2zM909.3 140.8h1v2.31h-1zM911.3 140.8h1v2.31h-1zM919.3 140.8h1v2.31h-1zM925.3 140.8h4v2.31h-4zM930.3 140.8h1v2.31h-1zM932.3 140.8h3v2.31h-3zM946.3 140.8h1v2.31h-1zM950.3 140.8h1v2.31h-1zM952.3 140.8h1v2.31h-1zM954.3 140.8h1v2.31h-1zM956.3 140.8h1v2.31h-1zM959.3 140.8h6v2.31h-6zM966.3 140.8h1v2.31h-1zM969.3 140.8h1v2.31h-1zM971.3 140.8h2v2.31h-2zM974.3 140.8h1v2.31h-1zM984.3 140.8h1v2.31h-1zM989.3 140.8h1v2.31h-1zM993.3 140.8h1v2.31h-1zM999.3 140.8h4v2.31h-4zM1005.3 140.8h1v2.31h-1zM1008.3 140.8h1v2.31h-1zM1017.3 140.8h1v2.31h-1zM1019.3 140.8h1v2.31h-1zM1035.3 140.8h1v2.31h-1zM1043.3 140.8h1v2.31h-1zM1047.3 140.8h1v2.31h-1zM1053.3 140.8h1v2.31h-1zM1056.3 140.8h2v2.31h-2zM1061.3 140.8h1v2.31h-1zM1064.3 140.8h1v2.31h-1zM1068.3 140.8h1v2.31h-1zM1070.3 140.8h1v2.31h-1zM1075.3 140.8h1v2.31h-1zM1081.3 140.8h1v2.31h-1zM1083.3 140.8h1v2.31h-1zM1088.3 140.8h2v2.31h-2zM1092.3 140.8h1v2.31h-1zM1099.3 140.8h1v2.31h-1zM1105.3 140.8h1v2.31h-1zM1110.3 140.8h1v2.31h-1zM1116.3 140.8h1v2.31h-1zM1118.3 140.8h1v2.31h-1zM1122.3 140.8h0.1v2.31h-0.1z" fill="#0000ff"/>
<path d="M685.3 115.4h1v2.31h-1zM697.3 115.4h1v2.31h-1zM732.3 115.4h1v2.31h-1zM753.3 115.4h1v2.31h-1zM757.3 115.4h1v2.31h-1zM777.3 115.4h1v2.31h-1zM879.3 115.4h1v2.31h-1zM889.3 115.4h1v2.31h-1zM914.3 115.4h1v2.31h-1zM927.3 115.4h1v2.31h-1zM1005.3 115.4h2v2.31h-2zM1010.3 115.4h1v2.31h-1zM1036.3 115.4h1v2.31h-1zM1045.3 115.4h1v2.31h-1zM1056.3 115.4h1v2.31h-1zM1088.3 115.4h1v2.31h-1zM1102.3 115.4h1v2.31h-1zM1108.3 115.4h1v2.31h-1zM678.3 117.7h1v2.31h-1zM691.3 117.7h1v2.31h-1zM707.3 117.7h1v2.31h-1zM721.3 117.7h1v2.31h-1zM756.3 117.7h1v2.31h-1zM761.3 117.7h1v2.31h-1zM783.3 117.7h1v2.31h-1zM824.3 117.7h1v2.31h-1zM852.3 117.7h1v2.31h-1zM860.3 117.7h1v2.31h-1zM887.3 117.7h1v2.31h-1zM903.3 117.7h1v2.31h-1zM935.3 117.7h1v2.31h-1zM939.3 117.7h1v2.31h-1zM941.3 117.7h1v2.31h-1zM984.3 117.7h1v2.31h-1zM1006.3 117.7h1v2.31h-1zM1018.3 117.7h1v2.31h-1zM1023.3 117.7h1v2.31h-1zM1068.3 117.7h1v2.31h-1zM1084.3 117.7h1v2.31h-1zM1116.3 117.7h1v2.31h-1zM679.3 120.0h1v2.31h-1zM756.3 120.0h1v2.31h-1zM761.3 120.0h1v2.31h-1zM765.3 120.0h1v2.31h-1zM796.3 120.0h1v2.31h-1zM800.3 120.0h1v2.31h-1zM809.3 120.0h1v2.31h-1zM941.3 120.0h1v2.31h-1zM951.3 120.0h1v2.31h-1zM979.3 120.0h1v2.31h-1zM1083.3 120.0h1v2.31h-1zM1093.3 120.0h1v2.31h-1zM1122.3 120.0h0.1v2.31h-0.1zM671.3 122.3h1v2.31h-1zM696.3 122.3h2v2.31h-2zM704.3 122.3h1v2.31h-1zM733.3 122.3h1v2.31h-1zM769.3 122.3h1v2.31h-1zM777.3 122.3h1v2.31h-1zM782.3 122.3h1v2.31h-1zM797.3 122.3h1v2.31h-1zM812.3 122.3h1v2.31h-1zM839.3 122.3h1v2.31h-1zM845.3 122.3h1v2.31h-1zM854.3 122.3h3v2.31h-3zM938.3 122.3h1v2.31h-1zM954.3 122.3h1v2.31h-1zM959.3 122.3h1v2.31h-1zM999.3 122.3h1v2.31h-1zM1006.3 122.3h1v2.31h-1zM1022.3 122.3h1v2.31h-1zM1030.3 122.3h1v2.31h-1zM1034.3 122.3h1v2.31h-1zM1039.3 122.3h1v2.31h-1zM1052.3 122.3h1v2.31h-1zM1056.3 122.3h1v2.31h-1zM1079.3 122.3h1v2.31h-1zM1091.3 122.3h1v2.31h-1zM1100.3 122.3h1v2.31h-1zM1102.3 122.3h1v2.31h-1zM672.3 124.6h1v2.31h-1zM682.3 124.6h1v2.31h-1zM719.3 124.6h1v2.31h-1zM727.3 124.6h1v2.31h-1zM754.3 124.6h1v2.31h-1zM762.3 124.6h1v2.31h-1zM834.3 124.6h1v2.31h-1zM839.3 124.6h1v2.31h-1zM841.3 124.6h1v2.31h-1zM852.3 124.6h1v2.31h-1zM859.3 124.6h1v2.31h-1zM949.3 124.6h1v2.31h-1zM956.3 124.6h1v2.31h-1zM966.3 124.6h1v2.31h-1zM1011.3 124.6h1v2.31h-1zM1037.3 124.6h1v2.31h-1zM1063.3 124.6h1v2.31h-1zM1066.3 124.6h1v2.31h-1zM1069.3 124.6h1v2.31h-1zM1083.3 124.6h1v2.31h-1zM1090.3 124.6h1v2.31h-1zM1102.3 124.6h1v2.31h-1zM1105.3 124.6h1v2.31h-1zM1117.3 124.6h1v2.31h-1zM1122.3 124.6h0.1v2.31h-0.1zM678.3 127.0h1v2.31h-1zM700.3 127.0h2v2.31h-2zM703.3 127.0h1v2.31h-1zM705.3 127.0h1v2.31h-1zM707.3 127.0h2v2.31h-2zM739.3 127.0h1v2.31h-1zM753.3 127.0h1v2.31h-1zM773.3 127.0h1v2.31h-1zM779.3 127.0h1v2.31h-1zM794.3 127.0h1v2.31h-1zM804.3 127.0h2v2.31h-2zM808.3 127.0h1v2.31h-1zM823.3 127.0h1v2.31h-1zM839.3 127.0h1v2.31h-1zM841.3 127.0h1v2.31h-1zM851.3 127.0h1v2.31h-1zM855.3 127.0h2v2.31h-2zM864.3 127.0h1v2.31h-1zM875.3 127.0h1v2.31h-1zM883.3 127.0h2v2.31h-2zM899.3 127.0h1v2.31h-1zM906.3 127.0h1v2.31h-1zM921.3 127.0h1v2.31h-1zM930.3 127.0h1v2.31h-1zM962.3 127.0h2v2.31h-2zM990.3 127.0h1v2.31h-1zM992.3 127.0h1v2.31h-1zM997.3 127.0h1v2.31h-1zM1003.3 127.0h1v2.31h-1zM1012.3 127.0h1v2.31h-1zM1021.3 127.0h1v2.31h-1zM1023.3 127.0h1v2.31h-1zM1051.3 127.0h1v2.31h-1zM1058.3 127.0h1v2.31h-1zM1068.3 127.0h1v2.31h-1zM1074.3 127.0h1v2.31h-1zM1086.3 127.0h1v2.31h-1zM1094.3 127.0h1v2.31h-1zM1097.3 127.0h1v2.31h-1zM1100.3 127.0h1v2.31h-1zM1107.3 127.0h1v2.31h-1zM1113.3 127.0h1v2.31h-1zM1120.3 127.0h1v2.31h-1zM684.3 129.3h1v2.31h-1zM696.3 129.3h1v2.31h-1zM707.3 129.3h1v2.31h-1zM720.3 129.3h1v2.31h-1zM733.3 129.3h1v2.31h-1zM759.3 129.3h1v2.31h-1zM782.3 129.3h1v2.31h-1zM787.3 129.3h1v2.31h-1zM792.3 129.3h1v2.31h-1zM802.3 129.3h1v2.31h-1zM811.3 129.3h1v2.31h-1zM820.3 129.3h1v2.31h-1zM824.3 129.3h1v2.31h-1zM858.3 129.3h1v2.31h-1zM860.3 129.3h1v2.31h-1zM867.3 129.3h1v2.31h-1zM875.3 129.3h1v2.31h-1zM886.3 129.3h1v2.31h-1zM894.3 129.3h1v2.31h-1zM908.3 129.3h2v2.31h-2zM920.3 129.3h2v2.31h-2zM931.3 129.3h1v2.31h-1zM941.3 129.3h1v2.31h-1zM947.3 129.3h1v2.31h-1zM958.3 129.3h1v2.31h-1zM969.3 129.3h1v2.31h-1zM978.3 129.3h1v2.31h-1zM990.3 129.3h2v2.31h-2zM1011.3 129.3h1v2.31h-1zM1026.3 129.3h1v2.31h-1zM1047.3 129.3h1v2.31h-1zM1078.3 129.3h1v2.31h-1zM1080.3 129.3h1v2.31h-1zM1083.3 129.3h1v2.31h-1zM1088.3 129.3h1v2.31h-1zM1095.3 129.3h1v2.31h-1zM676.3 131.6h1v2.31h-1zM685.3 131.6h1v2.31h-1zM691.3 131.6h3v2.31h-3zM701.3 131.6h1v2.31h-1zM704.3 131.6h1v2.31h-1zM710.3 131.6h1v2.31h-1zM716.3 131.6h3v2.31h-3zM732.3 131.6h1v2.31h-1zM734.3 131.6h1v2.31h-1zM740.3 131.6h1v2.31h-1zM767.3 131.6h1v2.31h-1zM784.3 131.6h1v2.31h-1zM813.3 131.6h1v2.31h-1zM819.3 131.6h1v2.31h-1zM834.3 131.6h1v2.31h-1zM850.3 131.6h1v2.31h-1zM853.3 131.6h1v2.31h-1zM869.3 131.6h1v2.31h-1zM872.3 131.6h1v2.31h-1zM938.3 131.6h1v2.31h-1zM954.3 131.6h1v2.31h-1zM962.3 131.6h1v2.31h-1zM965.3 131.6h1v2.31h-1zM978.3 131.6h1v2.31h-1zM991.3 131.6h1v2.31h-1zM994.3 131.6h1v2.31h-1zM997.3 131.6h1v2.31h-1zM1028.3 131.6h1v2.31h-1zM1043.3 131.6h1v2.31h-1zM1057.3 131.6h1v2.31h-1zM1074.3 131.6h1v2.31h-1zM1081.3 131.6h1v2.31h-1zM1091.3 131.6h1v2.31h-1zM1106.3 131.6h1v2.31h-1zM1118.3 131.6h1v2.31h-1zM669.3 133.9h1v2.31h-1zM683.3 133.9h1v2.31h-1zM703.3 133.9h1v2.31h-1zM705.3 133.9h1v2.31h-1zM716.3 133.9h1v2.31h-1zM719.3 133.9h1v2.31h-1zM727.3 133.9h1v2.31h-1zM732.3 133.9h1v2.31h-1zM753.3 133.9h1v2.31h-1zM769.3 133.9h1v2.31h-1zM791.3 133.9h1v2.31h-1zM820.3 133.9h1v2.31h-1zM824.3 133.9h1v2.31h-1zM830.3 133.9h1v2.31h-1zM835.3 133.9h1v2.31h-1zM852.3 133.9h1v2.31h-1zM865.3 133.9h1v2.31h-1zM887.3 133.9h1v2.31h-1zM900.3 133.9h1v2.31h-1zM903.3 133.9h2v2.31h-2zM926.3 133.9h1v2.31h-1zM932.3 133.9h1v2.31h-1zM941.3 133.9h2v2.31h-2zM945.3 133.9h1v2.31h-1zM960.3 133.9h1v2.31h-1zM965.3 133.9h1v2.31h-1zM975.3 133.9h1v2.31h-1zM980.3 133.9h1v2.31h-1zM984.3 133.9h1v2.31h-1zM987.3 133.9h1v2.31h-1zM990.3 133.9h1v2.31h-1zM1002.3 133.9h1v2.31h-1zM1013.3 133.9h1v2.31h-1zM1017.3 133.9h1v2.31h-1zM1023.3 133.9h2v2.31h-2zM1027.3 133.9h1v2.31h-1zM1048.3 133.9h2v2.31h-2zM1062.3 133.9h1v2.31h-1zM1096.3 133.9h1v2.31h-1zM674.3 136.2h1v2.31h-1zM677.3 136.2h2v2.31h-2zM680.3 136.2h1v2.31h-1zM684.3 136.2h1v2.31h-1zM700.3 136.2h1v2.31h-1zM707.3 136.2h1v2.31h-1zM709.3 136.2h1v2.31h-1zM713.3 136.2h1v2.31h-1zM716.3 136.2h1v2.31h-1zM719.3 136.2h1v2.31h-1zM726.3 136.2h1v2.31h-1zM732.3 136.2h1v2.31h-1zM734.3 136.2h1v2.31h-1zM737.3 136.2h1v2.31h-1zM743.3 136.2h3v2.31h-3zM747.3 136.2h4v2.31h-4zM754.3 136.2h1v2.31h-1zM759.3 136.2h1v2.31h-1zM763.3 136.2h1v2.31h-1zM765.3 136.2h3v2.31h-3zM775.3 136.2h1v2.31h-1zM779.3 136.2h2v2.31h-2zM786.3 136.2h1v2.31h-1zM794.3 136.2h1v2.31h-1zM806.3 136.2h1v2.31h-1zM816.3 136.2h2v2.31h-2zM829.3 136.2h1v2.31h-1zM832.3 136.2h1v2.31h-1zM836.3 136.2h1v2.31h-1zM840.3 136.2h1v2.31h-1zM844.3 136.2h1v2.31h-1zM846.3 136.2h1v2.31h-1zM860.3 136.2h1v2.31h-1zM863.3 136.2h1v2.31h-1zM867.3 136.2h2v2.31h-2zM870.3 136.2h1v2.31h-1zM875.3 136.2h1v2.31h-1zM882.3 136.2h1v2.31h-1zM884.3 136.2h1v2.31h-1zM887.3 136.2h1v2.31h-1zM898.3 136.2h1v2.31h-1zM900.3 136.2h1v2.31h-1zM902.3 136.2h1v2.31h-1zM909.3 136.2h1v2.31h-1zM918.3 136.2h1v2.31h-1zM925.3 136.2h2v2.31h-2zM932.3 136.2h1v2.31h-1zM934.3 136.2h1v2.31h-1zM937.3 136.2h1v2.31h-1zM953.3 136.2h2v2.31h-2zM959.3 136.2h1v2.31h-1zM971.3 136.2h1v2.31h-1zM975.3 136.2h1v2.31h-1zM979.3 136.2h1v2.31h-1zM989.3 136.2h1v2.31h-1zM992.3 136.2h1v2.31h-1zM995.3 136.2h1v2.31h-1zM998.3 136.2h1v2.31h-1zM1001.3 136.2h1v2.31h-1zM1009.3 136.2h1v2.31h-1zM1012.3 136.2h2v2.31h-2zM1019.3 136.2h1v2.31h-1zM1027.3 136.2h1v2.31h-1zM1029.3 136.2h2v2.31h-2zM1042.3 136.2h2v2.31h-2zM1045.3 136.2h1v2.31h-1zM1048.3 136.2h1v2.31h-1zM1063.3 136.2h1v2.31h-1zM1076.3 136.2h1v2.31h-1zM1079.3 136.2h1v2.31h-1zM1083.3 136.2h1v2.31h-1zM1092.3 136.2h1v2.31h-1zM1094.3 136.2h1v2.31h-1zM1099.3 136.2h2v2.31h-2zM1103.3 136.2h1v2.31h-1zM1107.3 136.2h1v2.31h-1zM1109.3 136.2h1v2.31h-1zM1114.3 136.2h1v2.31h-1zM1120.3 136.2h1v2.31h-1zM668.3 138.5h1v2.31h-1zM698.3 138.5h2v2.31h-2zM704.3 138.5h1v2.31h-1zM709.3 138.5h1v2.31h-1zM712.3 138.5h1v2.31h-1zM717.3 138.5h3v2.31h-3zM722.3 138.5h3v2.31h-3zM741.3 138.5h1v2.31h-1zM755.3 138.5h1v2.31h-1zM757.3 138.5h1v2.31h-1zM760.3 138.5h1v2.31h-1zM774.3 138.5h1v2.31h-1zM776.3 138.5h1v2.31h-1zM780.3 138.5h2v2.31h-2zM796.3 138.5h1v2.31h-1zM805.3 138.5h2v2.31h-2zM812.3 138.5h1v2.31h-1zM821.3 138.5h1v2.31h-1zM833.3 138.5h1v2.31h-1zM836.3 138.5h1v2.31h-1zM838.3 138.5h1v2.31h-1zM841.3 138.5h2v2.31h-2zM844.3 138.5h1v2.31h-1zM846.3 138.5h2v2.31h-2zM850.3 138.5h1v2.31h-1zM854.3 138.5h1v2.31h-1zM862.3 138.5h1v2.31h-1zM868.3 138.5h1v2.31h-1zM871.3 138.5h1v2.31h-1zM875.3 138.5h1v2.31h-1zM880.3 138.5h1v2.31h-1zM893.3 138.5h1v2.31h-1zM898.3 138.5h1v2.31h-1zM900.3 138.5h1v2.31h-1zM902.3 138.5h1v2.31h-1zM906.3 138.5h1v2.31h-1zM911.3 138.5h1v2.31h-1zM917.3 138.5h1v2.31h-1zM919.3 138.5h1v2.31h-1zM921.3 138.5h1v2.31h-1zM923.3 138.5h3v2.31h-3zM932.3 138.5h1v2.31h-1zM935.3 138.5h1v2.31h-1zM941.3 138.5h1v2.31h-1zM947.3 138.5h3v2.31h-3zM953.3 138.5h1v2.31h-1zM956.3 138.5h2v2.31h-2zM959.3 138.5h1v2.31h-1zM963.3 138.5h1v2.31h-1zM971.3 138.5h1v2.31h-1zM973.3 138.5h1v2.31h-1zM975.3 138.5h1v2.31h-1zM989.3 138.5h1v2.31h-1zM995.3 138.5h1v2.31h-1zM1003.3 138.5h1v2.31h-1zM1031.3 138.5h1v2.31h-1zM1034.3 138.5h1v2.31h-1zM1036.3 138.5h1v2.31h-1zM1040.3 138.5h1v2.31h-1zM1042.3 138.5h1v2.31h-1zM1044.3 138.5h1v2.31h-1zM1060.3 138.5h1v2.31h-1zM1071.3 138.5h1v2.31h-1zM1073.3 138.5h1v2.31h-1zM1076.3 138.5h1v2.31h-1zM1087.3 138.5h1v2.31h-1zM1090.3 138.5h2v2.31h-2zM1108.3 138.5h1v2.31h-1zM1112.3 138.5h1v2.31h-1zM1120.3 138.5h1v2.31h-1zM672.3 140.8h1v2.31h-1zM683.3 140.8h2v2.31h-2zM688.3 140.8h1v2.31h-1zM707.3 140.8h1v2.31h-1zM709.3 140.8h1v2.31h-1zM724.3 140.8h2v2.31h-2zM738.3 140.8h1v2.31h-1zM740.3 140.8h1v2.31h-1zM743.3 140.8h1v2.31h-1zM746.3 140.8h1v2.31h-1zM757.3 140.8h1v2.31h-1zM765.3 140.8h1v2.31h-1zM768.3 140.8h2v2.31h-2zM783.3 140.8h3v2.31h-3zM801.3 140.8h1v2.31h-1zM808.3 140.8h1v2.31h-1zM816.3 140.8h2v2.31h-2zM823.3 140.8h1v2.31h-1zM825.3 140.8h1v2.31h-1zM830.3 140.8h1v2.31h-1zM837.3 140.8h1v2.31h-1zM840.3 140.8h1v2.31h-1zM846.3 140.8h1v2.31h-1zM854.3 140.8h1v2.31h-1zM858.3 140.8h1v2.31h-1zM867.3 140.8h1v2.31h-1zM876.3 140.8h3v2.31h-3zM882.3 140.8h1v2.31h-1zM894.3 140.8h1v2.31h-1zM898.3 140.8h1v2.31h-1zM901.3 140.8h1v2.31h-1zM905.3 140.8h1v2.31h-1zM912.3 140.8h2v2.31h-2zM915.3 140.8h1v2.31h-1zM935.3 140.8h1v2.31h-1zM937.3 140.8h1v2.31h-1zM944.3 140.8h1v2.31h-1zM958.3 140.8h1v2.31h-1zM977.3 140.8h1v2.31h-1zM981.3 140.8h1v2.31h-1zM983.3 140.8h1v2.31h-1zM988.3 140.8h1v2.31h-1zM998.3 140.8h1v2.31h-1zM1004.3 140.8h1v2.31h-1zM1006.3 140.8h1v2.31h-1zM1011.3 140.8h1v2.31h-1zM1015.3 140.8h1v2.31h-1zM1023.3 140.8h1v2.31h-1zM1025.3 140.8h1v2.31h-1zM1032.3 140.8h1v2.31h-1zM1036.3 140.8h1v2.31h-1zM1038.3 140.8h1v2.31h-1zM1041.3 140.8h1v2.31h-1zM1055.3 140.8h1v2.31h-1zM1060.3 140.8h1v2.31h-1zM1096.3 140.8h1v2.31h-1zM1100.3 140.8h1v2.31h-1zM1106.3 140.8h1v2.31h-1zM1112.3 140.8h1v2.31h-1zM1115.3 140.8h1v2.31h-1zM1120.3 140.8h2v2.31h-2z" fill="#0048ff"/>
<path d="M715.3 115.4h1v2.31h-1zM722.3 115.4h1v2.31h-1zM806.3 115.4h1v2.31h-1zM813.3 115.4h1v2.31h-1zM858.3 115.4h1v2.31h-1zM952.3 115.4h1v2.31h-1zM981.3 115.4h1v2.31h-1zM983.3 115.4h1v2.31h-1zM990.3 115.4h1v2.31h-1zM999.3 115.4h1v2.31h-1zM1002.3 115.4h1v2.31h-1zM1053.3 115.4h1v2.31h-1zM1061.3 115.4h1v2.31h-1zM1079.3 115.4h1v2.31h-1zM695.3 117.7h1v2.31h-1zM743.3 117.7h1v2.31h-1zM773.3 117.7h1v2.31h-1zM781.3 117.7h1v2.31h-1zM794.3 117.7h1v2.31h-1zM807.3 117.7h1v2.31h-1zM879.3 117.7h1v2.31h-1zM951.3 117.7h1v2.31h-1zM980.3 117.7h1v2.31h-1zM985.3 117.7h1v2.31h-1zM1013.3 117.7h1v2.31h-1zM1071.3 117.7h1v2.31h-1zM706.3 120.0h1v2.31h-1zM727.3 120.0h1v2.31h-1zM738.3 120.0h1v2.31h-1zM835.3 120.0h1v2.31h-1zM848.3 120.0h1v2.31h-1zM863.3 120.0h1v2.31h-1zM867.3 120.0h1v2.31h-1zM944.3 120.0h1v2.31h-1zM956.3 120.0h1v2.31h-1zM965.3 120.0h1v2.31h-1zM1009.3 120.0h1v2.31h-1zM1025.3 120.0h1v2.31h-1zM1116.3 120.0h1v2.31h-1zM709.3 122.3h1v2.31h-1zM728.3 122.3h1v2.31h-1zM736.3 122.3h1v2.31h-1zM786.3 122.3h1v2.31h-1zM789.3 122.3h1v2.31h-1zM811.3 122.3h1v2.31h-1zM813.3 122.3h1v2.31h-1zM901.3 122.3h1v2.31h-1zM927.3 122.3h1v2.31h-1zM975.3 122.3h1v2.31h-1zM995.3 122.3h1v2.31h-1zM1000.3 122.3h1v2.31h-1zM1042.3 122.3h1v2.31h-1zM1061.3 122.3h1v2.31h-1zM1067.3 122.3h1v2.31h-1zM1074.3 122.3h1v2.31h-1zM1081.3 122.3h1v2.31h-1zM1104.3 122.3h1v2.31h-1zM673.3 124.6h1v2.31h-1zM705.3 124.6h1v2.31h-1zM786.3 124.6h1v2.31h-1zM799.3 124.6h1v2.31h-1zM909.3 124.6h1v2.31h-1zM1040.3 124.6h2v2.31h-2zM1051.3 124.6h1v2.31h-1zM1055.3 124.6h1v2.31h-1zM1087.3 124.6h1v2.31h-1zM1096.3 124.6h1v2.31h-1zM681.3 127.0h1v2.31h-1zM697.3 127.0h2v2.31h-2zM710.3 127.0h1v2.31h-1zM714.3 127.0h1v2.31h-1zM722.3 127.0h1v2.31h-1zM731.3 127.0h1v2.31h-1zM750.3 127.0h1v2.31h-1zM771.3 127.0h2v2.31h-2zM789.3 127.0h1v2.31h-1zM817.3 127.0h1v2.31h-1zM821.3 127.0h1v2.31h-1zM827.3 127.0h1v2.31h-1zM835.3 127.0h1v2.31h-1zM848.3 127.0h1v2.31h-1zM866.3 127.0h1v2.31h-1zM874.3 127.0h1v2.31h-1zM880.3 127.0h1v2.31h-1zM885.3 127.0h1v2.31h-1zM901.3 127.0h1v2.31h-1zM908.3 127.0h1v2.31h-1zM917.3 127.0h1v2.31h-1zM919.3 127.0h1v2.31h-1zM931.3 127.0h1v2.31h-1zM955.3 127.0h1v2.31h-1zM974.3 127.0h1v2.31h-1zM982.3 127.0h1v2.31h-1zM1013.3 127.0h2v2.31h-2zM1016.3 127.0h1v2.31h-1zM1033.3 127.0h1v2.31h-1zM1062.3 127.0h2v2.31h-2zM1070.3 127.0h1v2.31h-1zM1098.3 127.0h1v2.31h-1zM689.3 129.3h1v2.31h-1zM694.3 129.3h1v2.31h-1zM697.3 129.3h1v2.31h-1zM726.3 129.3h1v2.31h-1zM735.3 129.3h1v2.31h-1zM775.3 129.3h1v2.31h-1zM784.3 129.3h1v2.31h-1zM796.3 129.3h1v2.31h-1zM805.3 129.3h1v2.31h-1zM807.3 129.3h1v2.31h-1zM816.3 129.3h1v2.31h-1zM826.3 129.3h1v2.31h-1zM830.3 129.3h1v2.31h-1zM843.3 129.3h1v2.31h-1zM873.3 129.3h1v2.31h-1zM879.3 129.3h1v2.31h-1zM913.3 129.3h1v2.31h-1zM951.3 129.3h1v2.31h-1zM999.3 129.3h1v2.31h-1zM1004.3 129.3h1v2.31h-1zM1033.3 129.3h1v2.31h-1zM1059.3 129.3h1v2.31h-1zM1093.3 129.3h1v2.31h-1zM1120.3 129.3h1v2.31h-1zM694.3 131.6h1v2.31h-1zM699.3 131.6h1v2.31h-1zM707.3 131.6h1v2.31h-1zM711.3 131.6h1v2.31h-1zM752.3 131.6h1v2.31h-1zM754.3 131.6h1v2.31h-1zM761.3 131.6h1v2.31h-1zM773.3 131.6h2v2.31h-2zM778.3 131.6h1v2.31h-1zM792.3 131.6h1v2.31h-1zM822.3 131.6h1v2.31h-1zM841.3 131.6h1v2.31h-1zM856.3 131.6h1v2.31h-1zM874.3 131.6h1v2.31h-1zM880.3 131.6h1v2.31h-1zM929.3 131.6h1v2.31h-1zM933.3 131.6h1v2.31h-1zM955.3 131.6h1v2.31h-1zM958.3 131.6h1v2.31h-1zM960.3 131.6h1v2.31h-1zM968.3 131.6h1v2.31h-1zM976.3 131.6h1v2.31h-1zM987.3 131.6h1v2.31h-1zM1018.3 131.6h1v2.31h-1zM1030.3 131.6h1v2.31h-1zM1041.3 131.6h1v2.31h-1zM1053.3 131.6h1v2.31h-1zM1096.3 131.6h1v2.31h-1zM1117.3 131.6h1v2.31h-1zM707.3 133.9h1v2.31h-1zM729.3 133.9h1v2.31h-1zM738.3 133.9h1v2.31h-1zM740.3 133.9h1v2.31h-1zM761.3 133.9h1v2.31h-1zM782.3 133.9h1v2.31h-1zM805.3 133.9h1v2.31h-1zM809.3 133.9h1v2.31h-1zM828.3 133.9h1v2.31h-1zM836.3 133.9h1v2.31h-1zM850.3 133.9h1v2.31h-1zM859.3 133.9h1v2.31h-1zM869.3 133.9h1v2.31h-1zM880.3 133.9h1v2.31h-1zM890.3 133.9h1v2.31h-1zM907.3 133.9h1v2.31h-1zM925.3 133.9h1v2.31h-1zM939.3 133.9h1v2.31h-1zM952.3 133.9h1v2.31h-1zM973.3 133.9h2v2.31h-2zM989.3 133.9h1v2.31h-1zM1004.3 133.9h2v2.31h-2zM1020.3 133.9h1v2.31h-1zM1022.3 133.9h1v2.31h-1zM1064.3 133.9h1v2.31h-1zM1069.3 133.9h1v2.31h-1zM1122.3 133.9h0.1v2.31h-0.1zM689.3 136.2h1v2.31h-1zM691.3 136.2h1v2.31h-1zM693.3 136.2h1v2.31h-1zM696.3 136.2h2v2.31h-2zM704.3 136.2h1v2.31h-1zM725.3 136.2h1v2.31h-1zM731.3 136.2h1v2.31h-1zM751.3 136.2h1v2.31h-1zM769.3 136.2h1v2.31h-1zM774.3 136.2h1v2.31h-1zM777.3 136.2h1v2.31h-1zM781.3 136.2h1v2.31h-1zM791.3 136.2h1v2.31h-1zM799.3 136.2h1v2.31h-1zM805.3 136.2h1v2.31h-1zM807.3 136.2h1v2.31h-1zM814.3 136.2h1v2.31h-1zM818.3 136.2h1v2.31h-1zM825.3 136.2h1v2.31h-1zM849.3 136.2h1v2.31h-1zM859.3 136.2h1v2.31h-1zM861.3 136.2h1v2.31h-1zM872.3 136.2h1v2.31h-1zM874.3 136.2h1v2.31h-1zM877.3 136.2h1v2.31h-1zM890.3 136.2h1v2.31h-1zM896.3 136.2h1v2.31h-1zM916.3 136.2h1v2.31h-1zM938.3 136.2h1v2.31h-1zM949.3 136.2h1v2.31h-1zM958.3 136.2h1v2.31h-1zM963.3 136.2h1v2.31h-1zM966.3 136.2h1v2.31h-1zM969.3 136.2h1v2.31h-1zM977.3 136.2h1v2.31h-1zM981.3 136.2h1v2.31h-1zM991.3 136.2h1v2.31h-1zM1021.3 136.2h1v2.31h-1zM1025.3 136.2h1v2.31h-1zM1032.3 136.2h1v2.31h-1zM1038.3 136.2h1v2.31h-1zM1040.3 136.2h1v2.31h-1zM1051.3 136.2h1v2.31h-1zM1055.3 136.2h1v2.31h-1zM1058.3 136.2h1v2.31h-1zM1070.3 136.2h1v2.31h-1zM1074.3 136.2h2v2.31h-2zM1081.3 136.2h2v2.31h-2zM1088.3 136.2h2v2.31h-2zM678.3 138.5h1v2.31h-1zM688.3 138.5h1v2.31h-1zM695.3 138.5h1v2.31h-1zM702.3 138.5h2v2.31h-2zM706.3 138.5h1v2.31h-1zM721.3 138.5h1v2.31h-1zM744.3 138.5h1v2.31h-1zM751.3 138.5h2v2.31h-2zM764.3 138.5h1v2.31h-1zM775.3 138.5h1v2.31h-1zM784.3 138.5h1v2.31h-1zM787.3 138.5h1v2.31h-1zM789.3 138.5h2v2.31h-2zM809.3 138.5h1v2.31h-1zM824.3 138.5h2v2.31h-2zM829.3 138.5h1v2.31h-1zM834.3 138.5h1v2.31h-1zM843.3 138.5h1v2.31h-1zM851.3 138.5h1v2.31h-1zM853.3 138.5h1v2.31h-1zM859.3 138.5h1v2.31h-1zM861.3 138.5h1v2.31h-1zM865.3 138.5h1v2.31h-1zM870.3 138.5h1v2.31h-1zM879.3 138.5h1v2.31h-1zM881.3 138.5h1v2.31h-1zM904.3 138.5h1v2.31h-1zM909.3 138.5h1v2.31h-1zM920.3 138.5h1v2.31h-1zM934.3 138.5h1v2.31h-1zM936.3 138.5h1v2.31h-1zM939.3 138.5h2v2.31h-2zM943.3 138.5h1v2.31h-1zM964.3 138.5h1v2.31h-1zM969.3 138.5h1v2.31h-1zM976.3 138.5h1v2.31h-1zM994.3 138.5h1v2.31h-1zM1000.3 138.5h2v2.31h-2zM1005.3 138.5h1v2.31h-1zM1021.3 138.5h1v2.31h-1zM1032.3 138.5h2v2.31h-2zM1039.3 138.5h1v2.31h-1zM1052.3 138.5h1v2.31h-1zM1059.3 138.5h1v2.31h-1zM1077.3 138.5h1v2.31h-1zM1080.3 138.5h1v2.31h-1zM1098.3 138.5h1v2.31h-1zM689.3 140.8h1v2.31h-1zM700.3 140.8h1v2.31h-1zM713.3 140.8h1v2.31h-1zM720.3 140.8h1v2.31h-1zM722.3 140.8h1v2.31h-1zM729.3 140.8h1v2.31h-1zM732.3 140.8h1v2.31h-1zM742.3 140.8h1v2.31h-1zM756.3 140.8h1v2.31h-1zM758.3 140.8h3v2.31h-3zM766.3 140.8h1v2.31h-1zM770.3 140.8h1v2.31h-1zM790.3 140.8h1v2.31h-1zM793.3 140.8h1v2.31h-1zM809.3 140.8h1v2.31h-1zM815.3 140.8h1v2.31h-1zM818.3 140.8h1v2.31h-1zM832.3 140.8h1v2.31h-1zM835.3 140.8h1v2.31h-1zM850.3 140.8h1v2.31h-1zM863.3 140.8h1v2.31h-1zM874.3 140.8h2v2.31h-2zM886.3 140.8h2v2.31h-2zM893.3 140.8h1v2.31h-1zM895.3 140.8h1v2.31h-1zM900.3 140.8h1v2.31h-1zM908.3 140.8h1v2.31h-1zM923.3 140.8h2v2.31h-2zM929.3 140.8h1v2.31h-1zM940.3 140.8h1v2.31h-1zM943.3 140.8h1v2.31h-1zM948.3 140.8h2v2.31h-2zM953.3 140.8h1v2.31h-1zM967.3 140.8h2v2.31h-2zM976.3 140.8h1v2.31h-1zM980.3 140.8h1v2.31h-1zM994.3 140.8h2v2.31h-2zM1009.3 140.8h2v2.31h-2zM1027.3 140.8h2v2.31h-2zM1033.3 140.8h2v2.31h-2zM1042.3 140.8h1v2.31h-1zM1054.3 140.8h1v2.31h-1zM1058.3 140.8h1v2.31h-1zM1062.3 140.8h2v2.31h-2zM1065.3 140.8h2v2.31h-2zM1069.3 140.8h1v2.31h-1zM1072.3 140.8h1v2.31h-1zM1080.3 140.8h1v2.31h-1zM1082.3 140.8h1v2.31h-1zM1084.3 140.8h1v2.31h-1zM1095.3 140.8h1v2.31h-1zM1102.3 140.8h1v2.31h-1zM1109.3 140.8h1v2.31h-1z" fill="#0098ff"/>
<path d="M668.3 189.4V142.5h2v-.4h2v-.1h4v.1h2v.2h2v.1h2v-.4h2v-.1h2v.2h2v-.1h2v.4h2v.4h2v-.3h2v-.6h2v.1h4v-.2h2v.5h2v-.3h2v-.3h4v1h2v.1h2v-.7h2v.4h2v.2h4v-.5h2v-.8h2v1.6h2v.3h2v-1.2h2v.1h2v.4h2v-.4h2v-.3h2v.4h2v.1h2v.1h2v-.4h2v-.4h2v-.6h2v.6h2v.4h2v-.5h2v1h4v-.3h2v.1h4v.1h2v-.4h2v.4h2v.1h2v-.9h4v.6h2v-.3h2v.1h2v.6h2v.5h2v-.5h2v-.5h2v-.3h2v-.4h2v.6h2v.3h2v-.1h2v-.1h2v-.2h2v-.1h2v.3h2v.3h2v.1h2v.2h2v.2h2v-1h2v-.6h2v.6h2v-.1h2v.5h2v.4h2v-.4h2v-.2h2v.5h2v-.2h2v-.5h2v.4h2v.3h2v.2h2v-.1h2v-.2h2v-.3h2v-.6h2v.2h2v-.6h2v.2h2v1.2h2v-.1h2v-.4h2v.3h2v.1h2v-.1h2v.8h2v-.1h2v-.4h2v-.1h2v-.2h2v-.1h2v-.1h2v.3h2v-.6h2v-.4h2v.7h2v-.1h2v-.3h2v.1h2v.1h2v.6h2v.3h2v-.1h2v-.8h4v.4h2v.4h2v-.9h2v-.4h2v.1h2v.1h2v.8h2v-.1h2v.2h2v-.1h2v-.5h4v.6h2v-.1h2v-.4h2v-.4h2v.4h2v.2h2v-.6h8v.8h2v.3h2v.1h2v.2h2v-.8h2v-.3h2v.8h2v.6h2v-1h2v-1.2h2v.6h2v.4h2v-.5h2v.2h2v.1h2v-.9h2v.3h2v.8h2v.2h2v.2h2v-.1h2v-.4h2v-.3h2v-.5h2v.1h2v.9h2v.4h2v.3h2v-.2h2v-1.3h2v.3h2v.9h2v-.6h2v-.9h2v.4h2v.8h2v-.4h2v-.4h2v.1h2v-.2h2v-.2h2v.4h2v.3h2v-.2h2v-.8h2v.8h2v.6h2v-.6h2v-.1h2v.2h2v-.2h2v-.1h2v.5h2v.3h2v-.3h2v-.6h2v.3h2v.9h2v-.4h2v-.6h2v.3h4v.4h4v-.2h2v.1h2v-.3h2v-.2h2v-.3h2v-.1h2v.3h2v.1h2v.5h2v.2h2v-.1h2v.2h2v-.9h2v-.2h2v.7h2v-.1h2v-.5h2v.3h0.1V189.4z" fill="#0080ff"/>
<path d="M668.3 189.4V143.4h2v-.3h8v.1h2v.1h2v-.2h8v.2h2v.2h2v-.2h2v-.3h2v.1h4v-.1h2v.2h2v-.1h2v-.1h4v.4h2v.1h2v-.4h2v.2h2v.1h2v.1h2v-.3h2v-.4h2v.8h2v.2h2v-.6h4v.2h2v-.2h2v-.1h2v.2h4v.1h2v-.3h2v-.1h2v-.3h2v.3h2v.1h2v-.2h2v.5h4v-.2h2v.1h6v-.2h2v.3h4v-.5h4v.3h2v-.1h2v.1h2v.3h2v.2h2v-.2h2v-.3h2v-.2h2v-.1h2v.3h2v.1h4v-.1h2v-.1h2v-.1h2v.2h2v.2h4v.1h2v.1h2v-.5h2v-.3h2v.3h4v.2h2v.2h2v-.2h2v-.1h2v.2h4v-.3h2v.2h2v.1h2v.1h4v-.1h2v-.2h2v-.2h4v-.2h4v.6h4v-.2h2v.2h6v.3h4v-.2h2v-.1h2v-.1h6v.1h2v-.3h2v-.2h2v.4h2v-.1h2v-.1h4v.1h2v.2h2v.2h2v-.1h2v-.3h2v-.1h2v.2h2v.2h2v-.4h2v-.2h2v.1h4v.4h8v-.2h4v.3h2v-.1h2v-.2h2v-.2h2v.2h2v.1h2v-.3h8v.4h2v.2h4v.1h2v-.4h2v-.2h2v.4h2v.3h2v-.4h2v-.7h2v.3h2v.2h2v-.2h2v.1h4v-.4h2v.1h2v.4h2v.1h2v.2h2v-.1h2v-.2h2v-.1h2v-.3h2v.1h2v.4h2v.2h2v.2h2v-.2h2v-.6h2v.1h2v.5h2v-.3h2v-.5h2v.3h2v.4h2v-.3h2v-.1h4v-.1h2v-.1h2v.2h2v.2h2v-.2h2v-.3h2v.4h2v.2h2v-.3h4v.1h2v-.1h4v.2h2v.1h2v-.1h2v-.3h2v.2h2v.4h2v-.2h2v-.3h2v.1h4v.3h2v-.1h6v-.1h2v-.1h2v-.2h4v.1h4v.3h2v.1h2v-.1h2v.2h2v-.5h2v-.1h2v.4h2v-.1h2v-.2h2v.1h0.1V189.4z" fill="#00e8ff"/>
<path d="M668.3 189.4V144.9h2v-.1h2v-.1h4v.1h6v-.1h4v.1h2v-.1h2v.1h2v.2h2v-.1h2v-.2h8v.1h4v-.1h4v.2h2v.1h2v-.2h2v.1h4v.1h2v-.2h2v-.2h2v.4h2v.1h2v-.3h4v.1h2v-.1h2v-.1h2v.1h2v.1h4v-.1h2v-.1h2v-.2h2v.2h2v.1h2v-.2h2v.3h4v-.1h4v.1h4v-.1h2v.1h4v-.3h4v.2h2v-.1h2v.1h2v.2h2v.1h2v-.1h2v-.2h2v-.1h2v-.1h2v.2h2v.1h2v-.1h4v-.1h4v.1h2v.1h4v.1h4v-.3h2v-.1h2v.1h4v.1h2v.2h2v-.1h2v-.1h2v.1h4v-.2h2v.2h4v.1h4v-.1h2v-.1h2v-.1h4v-.2h2v.1h2v.3h4v-.1h2v.1h6v.2h4v-.1h2v-.1h6v-.1h2v.1h2v-.1h2v-.2h2v.2h4v-.1h4v.1h2v.1h2v.1h4v-.2h4v.1h2v.1h2v-.3h2v-.1h2v.1h4v.2h8v-.1h4v.2h2v-.1h2v-.1h2v-.1h2v.1h2v.1h2v-.2h8v.2h2v.1h4v.1h2v-.2h2v-.1h2v.2h2v.2h2v-.3h2v-.4h2v.2h2v.1h2v-.1h4v.1h2v-.3h2v.1h2v.2h2v.1h2v.1h2v-.1h2v-.1h2v-.1h2v-.1h4v.3h2v.1h2v.1h2v-.1h2v-.4h2v.1h2v.3h2v-.2h2v-.3h2v.2h2v.2h2v-.1h2v-.1h4v-.1h4v.1h2v.1h2v-.1h2v-.2h2v.2h2v.2h2v-.2h10v.1h2v.1h2v-.1h2v-.2h2v.1h2v.3h2v-.1h2v-.2h2v.1h4v.1h4v-.1h2v.1h2v-.1h2v-.1h2v-.1h4v.1h4v.2h6v.1h2v-.3h2v-.1h2v.2h4v-.1h2.1V189.4z" fill="#00ffb0"/>
<path d="M668.3 189.4V145.8h454.1V189.4z" fill="#00ff20"/>
<path d="M668.3 189.4V148.9h66v-.2h388.1V189.4z" fill="#50ff00"/>
<path d="M668.3 189.4V149.9h66v-.2h388.1V189.4z" fill="#b8ff00"/>
<path d="M668.3 189.4V150.9h66v.6h388.1V189.4z" fill="#ffff00"/>
<path d="M668.3 189.4V153.1h2v.3h4v-.4h2v-.2h6v-.2h2v.2h2v-.1h2v-.4h2v.3h2v.1h2v-.2h2v-.4h2v.3h2v.5h2v-.2h2v.1h2v.1h2v-.3h2v.4h2v.1h2v-.3h2v.6h2v-.4h2v-.4h2v-.1h2v.3h2v.1h2v-.5h2v.4h2v.8h2v-.7h2v.4h2v.5h2v.4h2v.4h2v-.8h2v-.4h2v-.1h2v.1h2v.2h2v.2h4v-.5h2v-.2h2v.7h2v.5h2v-.4h2v-.3h6v-.3h2v.2h2v.2h2v-.2h2v-.5h4v.9h2v-.6h4v.7h2v-.6h2v-.5h2v.4h2v.5h2v.4h2v.4h2v.1h2v.6h2v-1.1h2v-.8h2v-.2h2v-.4h4v.6h2v-.1h2v-.6h2v.6h2v.3h2v.4h2v.4h2v-.4h2v.2h2v.1h2v.3h2v1h2v.2h2v-.3h2v-.2h2v.2h2v.3h2v-1h2v-1.4h2v-.1h2v.1h2v-.1h2v-.1h2v-.3h2v.2h2v.7h2v-.1h2v-.1h4v.4h2v-.1h2v-.8h2v-.3h2v.5h2v.5h2v.1h2v.1h2v.1h2v-.4h6v-.3h2v-.3h4v.3h2v-.5h2v.2h2v.7h2v-.6h2v-.1h2v.5h2v-.1h4v.1h2v.1h4v-.3h2v.1h2v.2h2v-.1h2v-.3h2v-.2h4v.1h2v.1h2v.2h2v-.1h6v.4h2v.3h2v-.6h2v-.1h4v-.1h4v-.1h2v-.3h2v-.4h2v.3h2v.9h2v-.2h2v-.2h2v.8h2v.9h2v.7h2v-.8h2v-.5h2v-1.1h4v.6h2v-.7h2v.2h2v.5h2v-.1h2v.1h2v-.2h2v-.3h2v-.1h2v.2h2v.6h2v.5h2v-.6h2v-.6h2v.2h2v.2h2v-.3h2v-.4h2v.6h2v.5h2v-.8h2v-.7h2v.1h2v.5h2v.3h2v-.2h2v-.4h2v.2h2v.6h4v-.2h2v.2h2v.2h2v-.4h2v.1h4v.3h2v.5h2v-.4h4v.6h2v-.6h2v-1h2v.5h2v-.4h2v-.4h6v-.2h2v-.4h2v.5h2v.4h2v.2h2v.1h2v.2h4v-.1h2v-.4h2v-.2h2v1h2v.6h2v-.6h0.1V189.4z" fill="#ffc000"/>
<path d="M668.3 189.4V154.4h2v.3h4v-.4h2v-.2h6v-.2h2v.2h2v-.1h2v-.4h2v.3h2v.1h2v-.2h2v-.4h2v.3h2v.5h2v-.2h2v.1h2v.1h2v-.3h2v.4h2v.1h2v-.3h2v.6h2v-.4h2v-.4h2v-.1h2v.3h2v.1h2v-.5h2v.4h2v.8h2v-.1h2v.4h2v.5h2v.4h2v.4h2v-.8h2v-.4h2v-.1h2v.1h2v.2h2v.2h4v-.5h2v-.2h2v.7h2v.5h2v-.4h2v-.3h6v-.3h2v.2h2v.2h2v-.2h2v-.5h4v.9h2v-.6h4v.7h2v-.6h2v-.5h2v.4h2v.5h2v.4h2v.4h2v.1h2v.6h2v-1.1h2v-.8h2v-.2h2v-.4h4v.6h2v-.1h2v-.6h2v.6h2v.3h2v.4h2v.4h2v-.4h2v.2h2v.1h2v.3h2v1h2v.2h2v-.3h2v-.2h2v.2h2v.3h2v-1h2v-1.4h2v-.1h2v.1h2v-.1h2v-.1h2v-.3h2v.2h2v.7h2v-.1h2v-.1h4v.4h2v-.1h2v-.8h2v-.3h2v.5h2v.5h2v.1h2v.1h2v.1h2v-.4h6v-.3h2v-.3h4v.3h2v-.5h2v.2h2v.7h2v-.6h2v-.1h2v.5h2v-.1h4v.1h2v.1h4v-.3h2v.1h2v.2h2v-.1h2v-.3h2v-.2h4v.1h2v.1h2v.2h2v-.1h6v.4h2v.3h2v-.6h2v-.1h4v-.1h4v-.1h2v-.3h2v-.4h2v.3h2v.9h2v-.2h2v-.2h2v.8h2v.9h2v.7h2v-.8h2v-.5h2v-1.1h4v.6h2v-.7h2v.2h2v.5h2v-.1h2v.1h2v-.2h2v-.3h2v-.1h2v.2h2v.6h2v.5h2v-.6h2v-.6h2v.2h2v.2h2v-.3h2v-.4h2v.6h2v.5h2v-.8h2v-.7h2v.1h2v.5h2v.3h2v-.2h2v-.4h2v.2h2v.6h4v-.2h2v.2h2v.2h2v-.4h2v.1h4v.3h2v.5h2v-.4h4v.6h2v-.6h2v-1h2v.5h2v-.4h2v-.4h6v-.2h2v-.4h2v.5h2v.4h2v.2h2v.1h2v.2h4v-.1h2v-.4h2v-.2h2v1h2v.6h2v-.6h0.1V189.4z" fill="#ff7000"/>
<path d="M668.3 189.4V155.6h2v.3h4v-.4h2v-.2h6v-.2h2v.2h2v-.1h2v-.4h2v.3h2v.1h2v-.2h2v-.4h2v.3h2v.5h2v-.2h2v.1h2v.1h2v-.3h2v.4h2v.1h2v-.3h2v.6h2v-.4h2v-.4h2v-.1h2v.3h2v.1h2v-.5h2v.4h2v.8h2v-.1h2v.4h2v.5h2v.4h2v.4h2v-.8h2v-.4h2v-.1h2v.1h2v.2h2v.2h4v-.5h2v-.2h2v.7h2v.5h2v-.4h2v-.3h6v-.3h2v.2h2v.2h2v-.2h2v-.5h4v.9h2v-.6h4v.7h2v-.6h2v-.5h2v.4h2v.5h2v.4h2v.4h2v.1h2v.6h2v-1.1h2v-.8h2v-.2h2v-.4h4v.6h2v-.1h2v-.6h2v.6h2v.3h2v.4h2v.4h2v-.4h2v.2h2v.1h2v.3h2v1h2v.2h2v-.3h2v-.2h2v.2h2v.3h2v-1h2v-1.4h2v-.1h2v.1h2v-.1h2v-.1h2v-.3h2v.2h2v.7h2v-.1h2v-.1h4v.4h2v-.1h2v-.8h2v-.3h2v.5h2v.5h2v.1h2v.1h2v.1h2v-.4h6v-.3h2v-.3h4v.3h2v-.5h2v.2h2v.7h2v-.6h2v-.1h2v.5h2v-.1h4v.1h2v.1h4v-.3h2v.1h2v.2h2v-.1h2v-.3h2v-.2h4v.1h2v.1h2v.2h2v-.1h6v.4h2v.3h2v-.6h2v-.1h4v-.1h4v-.1h2v-.3h2v-.4h2v.3h2v.9h2v-.2h2v-.2h2v.8h2v.9h2v.7h2v-.8h2v-.5h2v-1.1h4v.6h2v-.7h2v.2h2v.5h2v-.1h2v.1h2v-.2h2v-.3h2v-.1h2v.2h2v.6h2v.5h2v-.6h2v-.6h2v.2h2v.2h2v-.3h2v-.4h2v.6h2v.5h2v-.8h2v-.7h2v.1h2v.5h2v.3h2v-.2h2v-.4h2v.2h2v.6h4v-.2h2v.2h2v.2h2v-.4h2v.1h4v.3h2v.5h2v-.4h4v.6h2v-.6h2v-1h2v.5h2v-.4h2v-.4h6v-.2h2v-.4h2v.5h2v.4h2v.2h2v.1h2v.2h4v-.1h2v-.4h2v-.2h2v1h2v.6h2v-.6h0.1V189.4z" fill="#ff0028"/>
<path d="M668.3 189.4V176.6h454.1V189.4z" fill="#ff1600"/>
<rect x="739.0" y="178.6" width="4" height="8.4" fill="#ff5a00" opacity="0.62"/>
<rect x="745.0" y="178.6" width="2" height="8.4" fill="#ff5a00" opacity="0.61"/>
<rect x="747.0" y="178.6" width="2" height="8.4" fill="#ff5a00" opacity="0.30"/>
<rect x="749.0" y="178.6" width="2" height="8.4" fill="#ff5a00" opacity="0.49"/>
<rect x="751.0" y="178.6" width="2" height="8.4" fill="#ff5a00" opacity="0.47"/>
<rect x="753.0" y="178.6" width="2" height="8.4" fill="#ff5a00" opacity="0.48"/>
<rect x="755.0" y="178.6" width="2" height="8.4" fill="#ff5a00" opacity="0.55"/>
<rect x="757.0" y="178.6" width="2" height="8.4" fill="#ff5a00" opacity="0.63"/>
<rect x="759.0" y="178.6" width="2" height="8.4" fill="#ff5a00" opacity="0.52"/>
<rect x="761.0" y="178.6" width="4" height="8.4" fill="#ff5a00" opacity="0.30"/>
<rect x="765.0" y="178.6" width="2" height="8.4" fill="#ff5a00" opacity="0.44"/>
<rect x="767.0" y="178.6" width="4" height="8.4" fill="#ff5a00" opacity="0.47"/>
<rect x="773.0" y="178.6" width="2" height="8.4" fill="#ff5a00" opacity="0.51"/>
<rect x="796.0" y="178.6" width="2" height="8.4" fill="#ff5a00" opacity="0.34"/>
<rect x="798.0" y="178.6" width="2" height="8.4" fill="#ff5a00" opacity="0.30"/>
<rect x="800.0" y="178.6" width="4" height="8.4" fill="#ff5a00" opacity="0.22"/>
<rect x="804.0" y="178.6" width="2" height="8.4" fill="#ff5a00" opacity="0.28"/>
<rect x="808.0" y="178.6" width="4" height="8.4" fill="#ff5a00" opacity="0.19"/>
<rect x="812.0" y="178.6" width="2" height="8.4" fill="#ff5a00" opacity="0.22"/>
<rect x="822.0" y="178.6" width="4" height="8.4" fill="#ff5a00" opacity="0.34"/>
<rect x="826.0" y="178.6" width="4" height="8.4" fill="#ff5a00" opacity="0.33"/>
<rect x="836.0" y="178.6" width="2" height="8.4" fill="#ff5a00" opacity="0.58"/>
<rect x="838.0" y="178.6" width="4" height="8.4" fill="#ff5a00" opacity="0.51"/>
<rect x="842.0" y="178.6" width="2" height="8.4" fill="#ff5a00" opacity="0.32"/>
<rect x="846.0" y="178.6" width="2" height="8.4" fill="#ff5a00" opacity="0.52"/>
<rect x="848.0" y="178.6" width="4" height="8.4" fill="#ff5a00" opacity="0.70"/>
<rect x="852.0" y="178.6" width="4" height="8.4" fill="#ff5a00" opacity="0.64"/>
<rect x="862.0" y="178.6" width="2" height="8.4" fill="#ff5a00" opacity="0.32"/>
<rect x="874.0" y="178.6" width="2" height="8.4" fill="#ff5a00" opacity="0.39"/>
<rect x="876.0" y="178.6" width="4" height="8.4" fill="#ff5a00" opacity="0.32"/>
<rect x="880.0" y="178.6" width="4" height="8.4" fill="#ff5a00" opacity="0.41"/>
<rect x="884.0" y="178.6" width="2" height="8.4" fill="#ff5a00" opacity="0.31"/>
<rect x="886.0" y="178.6" width="2" height="8.4" fill="#ff5a00" opacity="0.21"/>
<rect x="888.0" y="178.6" width="4" height="8.4" fill="#ff5a00" opacity="0.19"/>
<rect x="892.0" y="178.6" width="2" height="8.4" fill="#ff5a00" opacity="0.25"/>
<rect x="894.0" y="178.6" width="2" height="8.4" fill="#ff5a00" opacity="0.18"/>
<rect x="896.0" y="178.6" width="2" height="8.4" fill="#ff5a00" opacity="0.23"/>
<rect x="914.0" y="178.6" width="2" height="8.4" fill="#ff5a00" opacity="0.34"/>
<rect x="916.0" y="178.6" width="4" height="8.4" fill="#ff5a00" opacity="0.40"/>
<rect x="920.0" y="178.6" width="4" height="8.4" fill="#ff5a00" opacity="0.34"/>
<rect x="928.0" y="178.6" width="2" height="8.4" fill="#ff5a00" opacity="0.50"/>
<rect x="930.0" y="178.6" width="2" height="8.4" fill="#ff5a00" opacity="0.34"/>
<rect x="932.0" y="178.6" width="4" height="8.4" fill="#ff5a00" opacity="0.44"/>
<rect x="940.0" y="178.6" width="4" height="8.4" fill="#ff5a00" opacity="0.44"/>
<rect x="950.0" y="178.6" width="2" height="8.4" fill="#ff5a00" opacity="0.44"/>
<rect x="952.0" y="178.6" width="2" height="8.4" fill="#ff5a00" opacity="0.34"/>
<rect x="954.0" y="178.6" width="2" height="8.4" fill="#ff5a00" opacity="0.28"/>
<rect x="956.0" y="178.6" width="4" height="8.4" fill="#ff5a00" opacity="0.52"/>
<rect x="960.0" y="178.6" width="4" height="8.4" fill="#ff5a00" opacity="0.51"/>
<rect x="966.0" y="178.6" width="2" height="8.4" fill="#ff5a00" opacity="0.31"/>
<rect x="968.0" y="178.6" width="2" height="8.4" fill="#ff5a00" opacity="0.26"/>
<rect x="970.0" y="178.6" width="2" height="8.4" fill="#ff5a00" opacity="0.34"/>
<rect x="972.0" y="178.6" width="2" height="8.4" fill="#ff5a00" opacity="0.52"/>
<rect x="974.0" y="178.6" width="4" height="8.4" fill="#ff5a00" opacity="0.31"/>
<rect x="978.0" y="178.6" width="2" height="8.4" fill="#ff5a00" opacity="0.36"/>
<rect x="982.0" y="178.6" width="4" height="8.4" fill="#ff5a00" opacity="0.24"/>
<rect x="988.0" y="178.6" width="2" height="8.4" fill="#ff5a00" opacity="0.50"/>
<rect x="1000.0" y="178.6" width="2" height="8.4" fill="#ff5a00" opacity="0.29"/>
<rect x="1006.0" y="178.6" width="2" height="8.4" fill="#ff5a00" opacity="0.55"/>
<rect x="1008.0" y="178.6" width="4" height="8.4" fill="#ff5a00" opacity="0.52"/>
<rect x="1012.0" y="178.6" width="2" height="8.4" fill="#ff5a00" opacity="0.36"/>
<rect x="1014.0" y="178.6" width="2" height="8.4" fill="#ff5a00" opacity="0.56"/>
<rect x="1016.0" y="178.6" width="4" height="8.4" fill="#ff5a00" opacity="0.58"/>
<rect x="1020.0" y="178.6" width="4" height="8.4" fill="#ff5a00" opacity="0.55"/>
<rect x="1024.0" y="178.6" width="2" height="8.4" fill="#ff5a00" opacity="0.28"/>
<rect x="1026.0" y="178.6" width="4" height="8.4" fill="#ff5a00" opacity="0.47"/>
<rect x="1036.0" y="178.6" width="2" height="8.4" fill="#ff5a00" opacity="0.25"/>
<rect x="1038.0" y="178.6" width="4" height="8.4" fill="#ff5a00" opacity="0.33"/>
<rect x="1042.0" y="178.6" width="2" height="8.4" fill="#ff5a00" opacity="0.36"/>
<rect x="1044.0" y="178.6" width="2" height="8.4" fill="#ff5a00" opacity="0.52"/>
<rect x="1048.0" y="178.6" width="2" height="8.4" fill="#ff5a00" opacity="0.41"/>
<rect x="1050.0" y="178.6" width="4" height="8.4" fill="#ff5a00" opacity="0.28"/>
<rect x="1056.0" y="178.6" width="2" height="8.4" fill="#ff5a00" opacity="0.55"/>
<rect x="1058.0" y="178.6" width="2" height="8.4" fill="#ff5a00" opacity="0.54"/>
<rect x="1060.0" y="178.6" width="2" height="8.4" fill="#ff5a00" opacity="0.60"/>
<rect x="1064.0" y="178.6" width="2" height="8.4" fill="#ff5a00" opacity="0.34"/>
<rect x="1066.0" y="178.6" width="4" height="8.4" fill="#ff5a00" opacity="0.56"/>
<rect x="1072.0" y="178.6" width="2" height="8.4" fill="#ff5a00" opacity="0.41"/>
<rect x="1074.0" y="178.6" width="4" height="8.4" fill="#ff5a00" opacity="0.58"/>
<rect x="1085.0" y="178.6" width="2" height="8.4" fill="#ff5a00" opacity="0.27"/>
<rect x="1087.0" y="178.6" width="2" height="8.4" fill="#ff5a00" opacity="0.38"/>
<rect x="1089.0" y="178.6" width="2" height="8.4" fill="#ff5a00" opacity="0.37"/>
<rect x="1095.0" y="178.6" width="4" height="8.4" fill="#ff5a00" opacity="0.41"/>
<rect x="1103.0" y="178.6" width="2" height="8.4" fill="#ff5a00" opacity="0.42"/>
<rect x="1105.0" y="178.6" width="2" height="8.4" fill="#ff5a00" opacity="0.21"/>
<rect x="1107.0" y="178.6" width="2" height="8.4" fill="#ff5a00" opacity="0.31"/>
<rect x="1109.0" y="178.6" width="4" height="8.4" fill="#ff5a00" opacity="0.25"/>
<rect x="1113.0" y="178.6" width="2" height="8.4" fill="#ff5a00" opacity="0.27"/>
<rect x="1115.0" y="178.6" width="2" height="8.4" fill="#ff5a00" opacity="0.33"/>
<rect x="1121.0" y="178.6" width="0.7" height="8.4" fill="#ff5a00" opacity="0.37"/>
<rect x="704.0" y="178.6" width="2" height="8.4" fill="#ff5a00" opacity="0.13"/>
<rect x="706.0" y="178.6" width="2" height="8.4" fill="#ff5a00" opacity="0.12"/>
<rect x="708.0" y="178.6" width="4" height="8.4" fill="#ff5a00" opacity="0.17"/>
<rect x="712.0" y="178.6" width="2" height="8.4" fill="#ff5a00" opacity="0.18"/>
<rect x="714.0" y="178.6" width="2" height="8.4" fill="#ff5a00" opacity="0.15"/>
<rect x="716.0" y="178.6" width="2" height="8.4" fill="#ff5a00" opacity="0.12"/>
<rect x="718.0" y="178.6" width="4" height="8.4" fill="#ff5a00" opacity="0.08"/>
<rect x="722.0" y="178.6" width="2" height="8.4" fill="#ff5a00" opacity="0.11"/>
<rect x="730.0" y="178.6" width="4" height="8.4" fill="#ff5a00" opacity="0.17"/>
<clipPath id="cl1"><rect x="71.6" y="33.7" width="454" height="134.3"/></clipPath><g clip-path="url(#cl1)">
<path d="M71.7 92.9l0.7 1.4 0.7 0 0.7 -1.4 0.7 0.3 0.7 -0.2 0.7 0.7 0.7 -0.9 0.7 0.3 0.7 -2.7 0.7 2.8 0.7 -1.7 0.7 0.4 0.7 -0.9 0.7 -0.5 0.7 1 0.7 0.8 0.7 -0.4 0.7 0.6 0.7 1.9 0.7 -0.2 0.7 0.6 0.7 2.9 0.7 0.3 0.7 -0.5 0.7 -0.6 0.7 -1.3 0.7 -0.7 0.7 -0.1 0.7 1.7 0.7 0.7 0.7 -1.7 0.7 -1.2 0.7 0.3 0.7 0 0.7 -1.2 0.7 0.6 0.7 0.2 0.7 -1.2 0.7 -0.6 0.7 1 0.7 -0.2 0.7 1 0.7 -1.3 0.7 1.3 0.7 0.7 0.7 -0.3 0.7 2.1 0.7 0.8 0.7 -0.7 0.7 2.2 0.7 -0.3 0.7 0.1 0.7 0 0.7 -0.3 0.7 -4 0.7 -0.2 0.7 -2 0.7 -3.2 0.7 1 0.7 -1.5 0.7 -0.6 0.7 -3.9 0.7 -2.4 0.7 -1.2 0.7 -2.5 0.7 0.7 0.7 -0.9 0.7 0.3 0.7 -1.1 0.7 2.1 0.7 0.3 0.7 0 0.7 0.9 0.7 0.1 0.7 0 0.7 -3.5 0.7 2 0.7 -0.6 0.7 -0.8 0.7 -0.4 0.7 3.8 0.7 -0.5 0.7 4.1 0.7 3.1 0.7 1.2 0.7 6.1 0.7 1.8 0.7 -4.5 0.7 -4.8 0.7 -7.2 0.7 -10.5 0.7 -1.1 0.7 1.3 0.7 8.2 0.7 6.3 0.7 8.3 0.7 10.5 0.7 -8.7 0.7 -8.3 0.7 -6.8 0.7 -5.3 0.7 -1.8 0.7 -1.8 0.7 1.2 0.7 2.5 0.7 3.9 0.7 2.9 0.7 0.1 0.7 -1.9 0.7 1.1 0.7 -2.1 0.7 0 0.7 -3.2 0.7 0.3 0.7 -0.2 0.7 -0.3 0.7 -3.4 0.7 -6 0.7 1.6 0.7 2.5 0.7 -0.8 0.7 0.8 0.7 -1 0.7 -1.6 0.7 0.8 0.7 11 0.7 3.7 0.7 -8.2 0.7 -2.9 0.7 -3.3 0.7 0.1 0.7 3.4 0.7 0.2 0.7 2.4 0.7 -1.9 0.7 -3.2 0.7 -2.7 0.7 2.5 0.7 1.3 0.7 1.8 0.7 -2.6 0.7 -4.7 0.7 -4.5 0.7 -1.3 0.7 -1.3 0.7 -3.1 0.7 -3.8 0.7 0.6 0.7 3.7 0.7 2.2 0.7 2.4 0.7 1.2 0.7 0.5 0.7 0.5 0.7 2.2 0.7 -1.4 0.7 0.8 0.7 0.7 0.7 -2.2 0.7 1.6 0.7 -1 0.7 -2.7 0.7 -2.7 0.7 -1.7 0.7 -1.4 0.7 -8.8 0.7 -7.2 0.7 10.4 0.7 12.8 0.7 17.7 0.7 15.1 0.7 4.9 0.7 -17.9 0.7 -10.2 0.7 -7.4 0.7 -0.7 0.7 0 0.7 -0.5 0.7 0.4 0.7 -0.8 0.7 0.1 0.7 -2 0.7 5.3 0.7 1.8 0.7 3.3 0.7 2.3 0.7 0.1 0.7 1.3 0.7 -0.3 0.7 -2.8 0.7 -2.4 0.7 -0.6 0.7 -3.7 0.7 -3.7 0.7 -1.5 0.7 -4 0.7 5.3 0.7 0.5 0.7 2.9 0.7 -2 0.7 -4 0.7 1.2 0.7 3.8 0.7 2.8 0.7 3.9 0.7 5.8 0.7 4.4 0.7 5.3 0.7 -1.9 0.7 -1.4 0.7 -8.4 0.7 -9.9 0.7 -1.9 0.7 4.9 0.7 5.4 0.7 3.9 0.7 2 0.7 0.3 0.7 1.1 0.7 0.7 0.7 2.2 0.7 2.1 0.7 -0.7 0.7 3.2 0.7 -0.2 0.7 1.3 0.7 -4.9 0.7 -5.4 0.7 -4.9 0.7 -0.8 0.7 7.4 0.7 5.1 0.7 4.8 0.7 2 0.7 1.8 0.7 2.7 0.7 -4.4 0.7 -5.4 0.7 -4.1 0.7 -2 0.7 -2.7 0.7 -1.9 0.7 -0.7 0.7 -3.8 0.7 -4 0.7 -3.2 0.7 -3.9 0.7 -2.3 0.7 6.6 0.7 5.8 0.7 4.7 0.7 5.2 0.7 -1.7 0.7 -2.3 0.7 -2.1 0.7 -4.3 0.7 -3.6 0.7 -1.2 0.7 -1.8 0.7 -0.8 0.7 1.3 0.7 4.5 0.7 3.8 0.7 7.9 0.7 -2.2 0.7 -5.2 0.7 -2.1 0.7 -4.2 0.7 -1.7 0.7 1.2 0.7 2.8 0.7 3.2 0.7 3.5 0.7 0.6 0.7 0.2 0.7 -0.7 0.7 -3 0.7 -2.9 0.7 -3.9 0.7 -1.1 0.7 -1.4 0.7 -0.3 0.7 -0.3 0.7 -2.2 0.7 -0.7 0.7 1.1 0.7 -1 0.7 3.9 0.7 5.2 0.7 5.2 0.7 6.9 0.7 1.1 0.7 -3.3 0.7 -5.9 0.7 -1.6 0.7 2.3 0.7 4.4 0.7 6.6 0.7 3.1 0.7 -1.6 0.7 -3.3 0.7 -0.7 0.7 7.3 0.7 2.6 0.7 8.4 0.7 4.9 0.7 -3.3 0.7 -5.5 0.7 -3.2 0.7 0.7 0.7 1 0.7 2.9 0.7 -0.7 0.7 2.9 0.7 4.5 0.7 -1.2 0.7 1.5 0.7 1.9 0.7 0.2 0.7 -10.4 0.7 -11.8 0.7 -9.8 0.7 -7 0.7 0.8 0.7 -1 0.7 -3.3 0.7 2.4 0.7 -0.7 0.7 1.4 0.7 -1 0.7 1.4 0.7 -1.4 0.7 1.2 0.7 5.5 0.7 5.9 0.7 3.6 0.7 0.2 0.7 -1.5 0.7 -3.2 0.7 -1 0.7 -0.7 0.7 1.4 0.7 1 0.7 1.8 0.7 2.1 0.7 0.1 0.7 5.6 0.7 -2.2 0.7 -5.8 0.7 -4 0.7 -5.7 0.7 -1.1 0.7 -3.5 0.7 1 0.7 -0.1 0.7 0.3 0.7 -0.5 0.7 1 0.7 -0.9 0.7 0.5 0.7 3.7 0.7 0.4 0.7 1.8 0.7 -0.1 0.7 0.7 0.7 -1.4 0.7 2 0.7 -0.9 0.7 -0.2 0.7 -0.9 0.7 -1.4 0.7 0.5 0.7 0.2 0.7 1.1 0.7 0 0.7 -2.1 0.7 -1.3 0.7 1 0.7 -1.3 0.7 2.4 0.7 0.8 0.7 0.3 0.7 1 0.7 2 0.7 0.2 0.7 0 0.7 -2.5 0.7 -1.2 0.7 -1.4 0.7 -0.4 0.7 -5.1 0.7 1.1 0.7 -2.2 0.7 0.1 0.7 1.9 0.7 3.6 0.7 1 0.7 -2 0.7 -0.9 0.7 -1.1 0.7 -2.4 0.7 -0.2 0.7 1 0.7 1.8 0.7 3 0.7 2 0.7 2.5 0.7 0.9 0.7 1.2 0.7 3.6 0.7 1.5 0.7 2.1 0.7 0.8 0.7 -2.3 0.7 -1.9 0.7 -1.5 0.7 1.7 0.7 1.6 0.7 0.9 0.7 3.6 0.7 -1 0.7 1.7 0.7 -1 0.7 0.3 0.7 1.7 0.7 0.3 0.7 -1 0.7 0.2 0.7 -1 0.7 -5.6 0.7 0.9 0.7 -3.4 0.7 -1 0.7 -0.9 0.7 -0.9 0.7 3.2 0.7 -0.1 0.7 -0.4 0.7 1.1 0.7 -0.5 0.7 1.1 0.7 0.9 0.7 -2.8 0.7 0.8 0.7 0.2 0.7 0.4 0.7 -0.2 0.7 -2.1 0.7 -1.3 0.7 -2.1 0.7 -3.8 0.7 1.7 0.7 4.1 0.7 1 0.7 -3.7 0.7 -2.6 0.7 3.4 0.7 0.5 0.7 4.4 0.7 -1.9 0.7 2.1 0.7 -2.5 0.7 -1.6 0.7 -1.1 0.7 -2.9 0.7 2.1 0.7 -2.5 0.7 -6 0.7 -1.7 0.7 -2 0.7 3.4 0.7 9.7 0.7 3.6 0.7 1.7 0.7 0.1 0.7 0.4 0.7 4.5 0.7 9.3 0.7 7.3 0.7 -7 0.7 -5.9 0.7 -3 0.7 -1.7 0.7 8.3 0.7 -1.2 0.7 -5.5 0.7 -7.1 0.7 0.8 0.7 -2.8 0.7 -0.2 0.7 -1.9 0.7 -0.6 0.7 0.4 0.7 -1.8 0.7 0 0.7 -0.3 0.7 2.7 0.7 0.2 0.7 -0.5 0.7 1.1 0.7 -0.7 0.7 0.6 0.7 0.7 0.7 1.9 0.7 1.1 0.7 0.2 0.7 2.5 0.7 -0.3 0.7 -1 0.7 0.3 0.7 -0.9 0.7 1.8 0.7 2.2 0.7 1.1 0.7 1.9 0.7 -0.9 0.7 3.3 0.7 -1.6 0.7 -0.8 0.7 -2.5 0.7 0.4 0.7 0.2 0.7 0.1 0.7 0 0.7 -2 0.7 0 0.7 -0.4 0.7 -1.1 0.7 2 0.7 0.1 0.7 0.7 0.7 1.4 0.7 -1.7 0.7 -0.4 0.7 -0.5 0.7 0.7 0.7 -0.8 0.7 -0.5 0.7 -0.3 0.7 -1.1 0.7 2.1 0.7 2 0.7 0 0.7 1.9 0.7 2.6 0.7 1.2 0.7 2.4 0.7 2 0.7 -2.7 0.7 -1.3 0.7 -3.6 0.7 -1.5 0.7 -1.2 0.7 -3.7 0.7 -2.2 0.7 -1.5 0.7 2.1 0.7 2.9 0.7 8.2 0.7 2.9 0.7 -4.1 0.7 -0.5 0.7 2.7 0.7 0.7 0.7 3.7 0.7 4.5 0.7 -8.6 0.7 -6.7 0.7 -2.8 0.7 -6.1 0.7 -9.1 0.7 -11.4 0.7 2.2 0.7 0 0.7 -0.7 0.7 -0.3 0.7 -1.7 0.7 3.3 0.7 0.7 0.7 3.6 0.7 -0.9 0.7 -2.6 0.7 2.3 0.7 2 0.7 -0.5 0.7 3.3 0.7 -1.1 0.7 2.5 0.7 -1 0.7 -0.3 0.7 -4.6 0.7 -3.3 0.7 1.5 0.7 3.3 0.7 -1 0.7 3 0.7 -0.7 0.7 -0.9 0.7 0.3 0.7 0 0.7 -3.8 0.7 0.5 0.7 4.3 0.7 4.4 0.7 7.9 0.7 2.9 0.7 -5 0.7 0 0.7 0.2 0.7 2.3 0.7 1.9 0.7 -2.9 0.7 -1.3 0.7 2.7 0.7 1.4 0.7 1.3 0.7 -1.7 0.7 -0.8 0.7 2 0.7 -0.4 0.7 2.5 0.7 0.2 0.7 1.9 0.7 0.1 0.7 3.7 0.7 -1.2 0.7 1.9 0.7 0 0.7 -0.9 0.7 -4.6 0.7 -0.7 0.7 -1.5 0.7 -0.8 0.7 -1.4 0.7 -3 0.7 -1.8 0.7 0.3 0.7 1.5 0.7 0.3 0.7 -0.9 0.7 0.1 0.7 -0.1 0.7 1.4 0.7 -2.8 0.7 0.4 0.7 -0.8" stroke="#6e6e6e" stroke-width="0.95" fill="none" stroke-linejoin="round" />
<path d="M71.7 113.2l0.7 0.8 0.7 -0.4 0.7 -0.1 0.7 0.6 0.7 -2.4 0.7 0.3 0.7 -0.6 0.7 0.8 0.7 0.7 0.7 -1 0.7 0.2 0.7 -2 0.7 1.7 0.7 -0.8 0.7 2.2 0.7 -0.6 0.7 0.1 0.7 -0.7 0.7 0.6 0.7 0.2 0.7 -0.7 0.7 0.1 0.7 0.4 0.7 -0.2 0.7 0.2 0.7 0.4 0.7 0 0.7 1.6 0.7 -1.4 0.7 2.3 0.7 -0.7 0.7 0.5 0.7 -0.3 0.7 0.7 0.7 -0.8 0.7 -0.3 0.7 -1.2 0.7 -0.1 0.7 0.7 0.7 -1.8 0.7 -1.5 0.7 0.5 0.7 -1.5 0.7 -0.2 0.7 -0.6 0.7 -1.7 0.7 -2.1 0.7 0.4 0.7 -0.2 0.7 -1.6 0.7 -0.2 0.7 -0.4 0.7 -2.1 0.7 0.5 0.7 -0.1 0.7 0.3 0.7 0.8 0.7 4.7 0.7 6.1 0.7 3.4 0.7 4.1 0.7 2.9 0.7 1.2 0.7 2 0.7 3 0.7 2.5 0.7 1.1 0.7 -0.6 0.7 0.7 0.7 2.3 0.7 1.1 0.7 1.1 0.7 1.6 0.7 0.8 0.7 -2.2 0.7 -1.1 0.7 -2.8 0.7 -1.5 0.7 -0.2 0.7 -1.1 0.7 -1.3 0.7 -1.5 0.7 -1.3 0.7 -3.5 0.7 -6.3 0.7 -3.3 0.7 -3.3 0.7 -4.1 0.7 -5.9 0.7 -2 0.7 -5.5 0.7 -4 0.7 -2.4 0.7 1.8 0.7 -0.4 0.7 7.6 0.7 5.6 0.7 -1 0.7 -6.6 0.7 -8.5 0.7 -5.8 0.7 4.1 0.7 3.5 0.7 4.7 0.7 4.8 0.7 4.9 0.7 5.4 0.7 -3.5 0.7 -3 0.7 -2.1 0.7 0.8 0.7 1.1 0.7 3.7 0.7 1.4 0.7 -3.9 0.7 -8.5 0.7 -7.4 0.7 -5.8 0.7 3.1 0.7 5.4 0.7 7.8 0.7 7.1 0.7 5.3 0.7 4.8 0.7 2.7 0.7 5.5 0.7 6 0.7 8.6 0.7 5.6 0.7 4 0.7 1.3 0.7 0.6 0.7 -2.8 0.7 -1.9 0.7 -4.6 0.7 -4.1 0.7 -5.9 0.7 -7.3 0.7 -7.5 0.7 3.4 0.7 4.2 0.7 -1.2 0.7 -3.8 0.7 -5.9 0.7 5.5 0.7 5.7 0.7 0.7 0.7 -1.7 0.7 0.2 0.7 0.5 0.7 3 0.7 3.3 0.7 2.6 0.7 1.4 0.7 0.5 0.7 2.5 0.7 2.9 0.7 -1.1 0.7 1.9 0.7 0.5 0.7 0.5 0.7 2 0.7 6.1 0.7 5.4 0.7 3.2 0.7 1.5 0.7 3.4 0.7 -5.8 0.7 -5.9 0.7 -18.7 0.7 -24.4 0.7 0.8 0.7 7.5 0.7 3.9 0.7 5.2 0.7 0.7 0.7 0.1 0.7 2 0.7 2.6 0.7 -4 0.7 -2.3 0.7 0.1 0.7 2.9 0.7 -0.1 0.7 1.5 0.7 -1.5 0.7 -2.8 0.7 -2 0.7 -3.4 0.7 -4.2 0.7 -2.7 0.7 -2.8 0.7 -3.4 0.7 -2.1 0.7 -2.5 0.7 -3.2 0.7 0.3 0.7 -2 0.7 -1.3 0.7 -1.3 0.7 1.3 0.7 3.3 0.7 -1.1 0.7 2.3 0.7 0.4 0.7 1.6 0.7 1 0.7 -0.1 0.7 -9.1 0.7 -10.2 0.7 -8.2 0.7 -6.2 0.7 0.4 0.7 5.5 0.7 5 0.7 3.7 0.7 3.3 0.7 5.8 0.7 5.4 0.7 2.2 0.7 2.7 0.7 0 0.7 0.8 0.7 -1.7 0.7 -0.6 0.7 -3.8 0.7 -1.7 0.7 -4.6 0.7 -4.2 0.7 1.7 0.7 6.1 0.7 4.2 0.7 2.5 0.7 -0.5 0.7 -2 0.7 0.6 0.7 4.7 0.7 5.8 0.7 0 0.7 3.8 0.7 2.9 0.7 -1.3 0.7 -7.3 0.7 -5.1 0.7 2.9 0.7 4.7 0.7 2.3 0.7 -0.3 0.7 -1.3 0.7 0.5 0.7 -1.5 0.7 0.3 0.7 1.9 0.7 1 0.7 2.3 0.7 -2.2 0.7 -2.6 0.7 -3.1 0.7 -2.1 0.7 -4.8 0.7 -1.5 0.7 3.9 0.7 10.6 0.7 8.8 0.7 3.7 0.7 6.3 0.7 5.7 0.7 8.3 0.7 5.5 0.7 -3.4 0.7 -2.7 0.7 -4.4 0.7 -3.8 0.7 -3.7 0.7 -1.1 0.7 -6.7 0.7 3.5 0.7 5.3 0.7 5.6 0.7 6.6 0.7 4.9 0.7 1.2 0.7 0.8 0.7 1.6 0.7 0.9 0.7 0.8 0.7 0.8 0.7 -6 0.7 -2.8 0.7 -6.3 0.7 -5.4 0.7 -1.7 0.7 3.1 0.7 5.1 0.7 1.3 0.7 -5.1 0.7 -5.3 0.7 -4.2 0.7 -5.3 0.7 -4.1 0.7 1.9 0.7 4.7 0.7 -1 0.7 -6.3 0.7 -4.6 0.7 -4.7 0.7 3.1 0.7 5.7 0.7 -1.9 0.7 -1 0.7 -2.6 0.7 -1.9 0.7 -0.2 0.7 3.3 0.7 -6.1 0.7 -6.7 0.7 17 0.7 8.5 0.7 -12.1 0.7 2.9 0.7 13.9 0.7 -10.4 0.7 -21.9 0.7 -8.8 0.7 -7 0.7 -1.2 0.7 4.1 0.7 -2.4 0.7 -1 0.7 -1.9 0.7 -5.1 0.7 -2.9 0.7 -0.6 0.7 7.8 0.7 2.8 0.7 -0.9 0.7 -3.3 0.7 0.2 0.7 1.9 0.7 0.9 0.7 0.4 0.7 3.6 0.7 5.3 0.7 3.4 0.7 -0.4 0.7 0.1 0.7 1.4 0.7 -2.3 0.7 -5.4 0.7 -4.5 0.7 -2.7 0.7 -3.2 0.7 -3.4 0.7 3 0.7 -0.4 0.7 0.8 0.7 -1.6 0.7 -0.3 0.7 0.2 0.7 -3.3 0.7 4.7 0.7 0 0.7 -0.6 0.7 0.4 0.7 2.8 0.7 -0.7 0.7 2 0.7 -0.3 0.7 0 0.7 0.5 0.7 -1 0.7 0.1 0.7 -0.3 0.7 -0.9 0.7 -0.3 0.7 -0.7 0.7 -2.4 0.7 0.2 0.7 -0.5 0.7 -0.7 0.7 -1.5 0.7 0.3 0.7 0.2 0.7 0.6 0.7 2 0.7 -0.8 0.7 0.6 0.7 -0.8 0.7 -0.5 0.7 -0.9 0.7 -1.6 0.7 1.3 0.7 0.1 0.7 0 0.7 0.6 0.7 3.1 0.7 3.9 0.7 -1 0.7 -0.4 0.7 -1.2 0.7 0.1 0.7 0.9 0.7 5.7 0.7 3.2 0.7 4 0.7 2 0.7 3.9 0.7 3 0.7 0.3 0.7 -1.3 0.7 1.6 0.7 -2.6 0.7 -0.4 0.7 -2.7 0.7 3.4 0.7 7.2 0.7 4.2 0.7 5.6 0.7 1.5 0.7 2.1 0.7 2 0.7 0.4 0.7 1.4 0.7 0.7 0.7 0.9 0.7 0.7 0.7 3.5 0.7 0.4 0.7 2.9 0.7 1.6 0.7 0.4 0.7 2.8 0.7 -0.4 0.7 2.4 0.7 -1.3 0.7 -4.9 0.7 -2.9 0.7 -1.9 0.7 0.8 0.7 -4 0.7 -1.1 0.7 1.9 0.7 -0.6 0.7 0.2 0.7 -0.6 0.7 0 0.7 2.4 0.7 0.9 0.7 1.6 0.7 6.5 0.7 2 0.7 -0.2 0.7 -1.7 0.7 -1.4 0.7 -1.5 0.7 -1.3 0.7 0.6 0.7 1 0.7 1.6 0.7 0.4 0.7 0.9 0.7 1.1 0.7 -0.3 0.7 0.8 0.7 2.4 0.7 -0.1 0.7 2.4 0.7 2.9 0.7 1.7 0.7 0.5 0.7 -6.2 0.7 -4.2 0.7 -2.8 0.7 1 0.7 -0.1 0.7 -8 0.7 -3.2 0.7 -5.3 0.7 -4.9 0.7 -4.4 0.7 -3.8 0.7 -4.6 0.7 -1.8 0.7 -4.3 0.7 -3.5 0.7 -2.4 0.7 -2.5 0.7 -1.8 0.7 -1.2 0.7 -1.1 0.7 -1 0.7 -0.1 0.7 -0.9 0.7 3.3 0.7 0.3 0.7 4.4 0.7 2.3 0.7 1.9 0.7 1 0.7 -0.2 0.7 2 0.7 0.3 0.7 1.2 0.7 1.1 0.7 0.5 0.7 1.4 0.7 0.4 0.7 2 0.7 -0.8 0.7 0.7 0.7 -0.2 0.7 0.4 0.7 -0.5 0.7 0.8 0.7 -1.5 0.7 0.2 0.7 -1.3 0.7 0.1 0.7 -1 0.7 2.3 0.7 1.2 0.7 -2 0.7 1 0.7 -0.8 0.7 -1.6 0.7 0.8 0.7 -0.7 0.7 1.2 0.7 1.9 0.7 -0.2 0.7 -0.5 0.7 1.7 0.7 -2.3 0.7 0.4 0.7 -0.5 0.7 -0.7 0.7 -2.2 0.7 -2.3 0.7 1.2 0.7 -1.2 0.7 1.7 0.7 0.4 0.7 3 0.7 0 0.7 -0.9 0.7 0.2 0.7 1.1 0.7 2.6 0.7 3.5 0.7 5.3 0.7 3 0.7 -1 0.7 -2.6 0.7 -0.7 0.7 3.2 0.7 0.7 0.7 2.7 0.7 -5.7 0.7 -0.5 0.7 -1.1 0.7 2.6 0.7 0.8 0.7 -2.6 0.7 -3.2 0.7 2.2 0.7 6.1 0.7 5.7 0.7 4.4 0.7 -3.7 0.7 -2.2 0.7 -0.8 0.7 13 0.7 14.5 0.7 -0.5 0.7 -1.6 0.7 -4.7 0.7 -6.2 0.7 -4.6 0.7 -3.6 0.7 -1.3 0.7 -1.8 0.7 0.9 0.7 4 0.7 3.2 0.7 -0.6 0.7 -0.9 0.7 -0.8 0.7 -2.6 0.7 2.3 0.7 2.3 0.7 2.2 0.7 0.7 0.7 -2.9 0.7 -0.1 0.7 -1.1 0.7 2.4 0.7 0.3 0.7 1.4 0.7 1.5 0.7 3.8 0.7 2.8 0.7 -1.7 0.7 -4.9 0.7 -5.5 0.7 -5.7 0.7 -6.6 0.7 -4.3 0.7 4.7 0.7 4.6 0.7 3.9 0.7 -6.4 0.7 -7.5 0.7 -4.1 0.7 6.5 0.7 2.5 0.7 1 0.7 -2.8 0.7 -3.6 0.7 2.1 0.7 4.2 0.7 5.9 0.7 -3 0.7 -2.1 0.7 -4.3 0.7 -0.6 0.7 -0.9 0.7 -2.5 0.7 -0.3 0.7 -3.8 0.7 -7.8 0.7 -6.8 0.7 -5.3 0.7 -1.9 0.7 -2.7 0.7 -5.8 0.7 8 0.7 7.5 0.7 9 0.7 9.4 0.7 4.1 0.7 3 0.7 6.5 0.7 1.7 0.7 -0.7 0.7 2.3 0.7 -0.3 0.7 3.9" stroke="#4848ff" stroke-width="0.9" fill="none" stroke-linejoin="round" />
<path d="M71.6 110.5L525.6 110.5" stroke="#4040ff" stroke-width="1.0" stroke-dasharray="5.8 2.6" fill="none" />
<path d="M71.7 112.4l1 -0.1 1 0 1 -0.1 1 0 1 -0.1 1 -0.1 1 0 1 0 1 0 1 0 1 0.1 1 0 1 0.1 1 0 1 0.1 1 0.1 1 0.1 1 0.2 1 0.2 1 0.2 1 0.2 1 0.1 1 -0.1 1 -0.2 1 -0.3 1 -0.5 1 -0.6 1 -0.5 1 -0.6 1 -0.7 1 -0.6 1 -0.5 1 -0.3 1 -0.1 1 0.2 1 0.5 1 0.9 1 1.1 1 1.5 1 1.8 1 1.9 1 2.1 1 2 1 2.2 1 2 1 1.8 1 1.6 1 1.3 1 1.1 1 0.6 1 0.2 1 -0.2 1 -0.6 1 -1.1 1 -1.5 1 -1.8 1 -2 1 -2.4 1 -2.7 1 -2.6 1 -2.8 1 -2.7 1 -2.6 1 -2.4 1 -2.1 1 -1.8 1 -1.4 1 -1.2 1 -0.9 1 -0.6 1 -0.4 1 -0.3 1 -0.3 1 -0.4 1 -0.3 1 0 1 0.4 1 0.8 1 1.3 1 1.7 1 2 1 2.1 1 2.2 1 2.3 1 2.3 1 2.3 1 2.1 1 2.1 1 2.1 1 1.9 1 1.6 1 1.5 1 1.2 1 0.9 1 0.7 1 0.5 1 0.2 1 -0.1 1 -0.4 1 -0.5 1 -0.4 1 -0.3 1 0 1 0.4 1 0.7 1 1.1 1 1.2 1 1.3 1 1.2 1 1.1 1 0.8 1 0.5 1 0.2 1 -0.2 1 -0.4 1 -0.4 1 -0.4 1 -0.5 1 -0.6 1 -0.6 1 -1 1 -1.1 1 -1.4 1 -1.7 1 -1.7 1 -1.6 1 -1.4 1 -1.4 1 -1.2 1 -1.3 1 -1.5 1 -1.7 1 -2 1 -2.2 1 -2.4 1 -2.4 1 -2.5 1 -2.5 1 -2.5 1 -2.2 1 -1.9 1 -1.6 1 -1.3 1 -0.8 1 -0.6 1 -0.3 1 0 1 0.1 1 0.1 1 0.1 1 0 1 -0.1 1 -0.1 1 0.5 1 0.9 1 1.3 1 1.5 1 1.6 1 1.4 1 1.2 1 1 1 0.9 1 0.9 1 0.9 1 0.8 1 0.8 1 0.7 1 0.8 1 0.6 1 0.6 1 0.4 1 0.3 1 0.2 1 0.2 1 0.2 1 0.5 1 0.6 1 0.8 1 1.2 1 1.5 1 1.6 1 1.8 1 2 1 1.9 1 1.9 1 1.7 1 1.7 1 1.9 1 2.1 1 2.4 1 2.6 1 2.6 1 2.5 1 1.8 1 1.2 1 0.7 1 0.3 1 -0.2 1 -0.2 1 -0.3 1 -0.3 1 -0.4 1 -0.6 1 -0.9 1 -1.2 1 -1.6 1 -2.1 1 -2.3 1 -2.4 1 -2.3 1 -1.9 1 -1.7 1 -1.5 1 -1.1 1 -1 1 -1 1 -0.8 1 -1.2 1 -1.5 1 -2 1 -2.2 1 -2.6 1 -2.6 1 -2.5 1 -2.4 1 -2.2 1 -2.1 1 -2 1 -1.9 1 -1.9 1 -1.8 1 -2 1 -1.6 1 -1.3 1 -1 1 -0.6 1 -0.2 1 -0.1 1 -0.1 1 -0.1 1 -0.1 1 -0.1 1 -0.1 1 -0.2 1 -0.2 1 -0.3 1 -0.3 1 -0.4 1 -0.5 1 -0.5 1 -0.6 1 -0.4 1 -0.4 1 -0.2 1 -0.1 1 0.1 1 0.1 1 0 1 0.1 1 0 1 0 1 0 1 -0.2 1 -0.1 1 -0.3 1 -0.3 1 -0.3 1 -0.2 1 -0.2 1 0 1 0 1 0.2 1 0.3 1 0.5 1 0.6 1 1 1 1.2 1 1.5 1 1.7 1 1.8 1 2 1 2 1 2 1 2.2 1 2.2 1 2.2 1 2.3 1 2.3 1 2.4 1 2.5 1 2.4 1 2.6 1 2.5 1 2.4 1 2.2 1 2 1 1.8 1 1.7 1 1.3 1 1.2 1 0.9 1 0.6 1 0.4 1 0.4 1 0.4 1 0.4 1 0.3 1 0.4 1 0.2 1 0.2 1 0.1 1 0.1 1 0.2 1 0.3 1 0.3 1 0.5 1 0.7 1 0.7 1 0.8 1 0.8 1 0.8 1 0.6 1 0.2 1 -0.2 1 -0.4 1 -0.9 1 -1.5 1 -1.7 1 -1.9 1 -2.4 1 -2.5 1 -2.8 1 -3 1 -3.4 1 -3.6 1 -3.6 1 -3.5 1 -3.2 1 -2.9 1 -2.3 1 -1.8 1 -1.4 1 -1.1 1 -0.6 1 -0.4 1 -0.2 1 0.2 1 0.3 1 0.5 1 0.7 1 0.9 1 0.9 1 1 1 0.9 1 0.8 1 0.6 1 0.6 1 0.5 1 0.4 1 0.4 1 0.2 1 0.1 1 0.1 1 0 1 0.1 1 0 1 -0.1 1 0 1 -0.1 1 -0.1 1 -0.1 1 -0.1 1 0 1 0 1 0.1 1 0.3 1 0.5 1 0.5 1 0.8 1 0.9 1 0.9 1 1.1 1 1.1 1 1.2 1 1.2 1 1.2 1 1.2 1 1.1 1 1.2 1 1.3 1 1.3 1 1.3 1 1.3 1 1.2 1 1.2 1 1.2 1 1 1 1 1 1 1 0.8 1 0.9 1 0.8 1 0.7 1 0.6 1 0.6 1 0.5 1 0.4 1 0.3 1 0.3 1 0.2 1 0.1 1 0 1 0 1 -0.1 1 -0.2 1 -0.3 1 -0.4 1 -0.6 1 -0.6 1 -0.8 1 -0.9 1 -1 1 -1 1 -1 1 -1 1 -1 1 -1 1 -1 1 -1 1 -1 1 -1.1 1 -1.2 1 -1.3 1 -1.4 1 -1.6 1 -1.4 1 -1.4 1 -1 1 -0.6 1 -0.4 1 -0.1 1 0.2 1 0.2 1 0.2 1 0.1 1 0.2 1 0.1 1 0.1 1 0.2 1 0.4 1 1.1 1 1.1 1 1" stroke="#0000f0" stroke-width="2.6" fill="none" stroke-linejoin="round" stroke-linecap="round"/>
<path d="M71.6 109.9L525.6 109.9" stroke="#000" stroke-width="1.5" stroke-dasharray="5.8 2.6" fill="none" />
</g>
<clipPath id="cl2"><rect x="71.6" y="175.8" width="454" height="68.7"/></clipPath><g clip-path="url(#cl2)">
<path d="M71.9 210.2l0.7 1.1 0.7 -2.4 0.7 2.7 0.7 -1.3 0.7 -0.5 0.7 0.1 0.7 -0.2 0.7 0.7 0.7 0.8 0.7 -0.2 0.7 0 0.7 -1.8 0.7 0 0.7 2.3 0.7 -0.5 0.7 0.9 0.7 -0.8 0.7 -1.7 0.7 1.5 0.7 -0.8 0.7 -0.6 0.7 -1.1 0.7 0.4 0.7 -0.5 0.7 0.5 0.7 -1 0.7 0.6 0.7 -2.3 0.7 0.4 0.7 -0.5 0.7 -1.6 0.7 -0.3 0.7 1.5 0.7 -0.5 0.7 -0.6 0.7 0.3 0.7 -0.9 0.7 0.5 0.7 -0.4 0.7 0.8 0.7 0.9 0.7 -0.8 0.7 1.2 0.7 -1.2 0.7 0.8 0.7 -0.6 0.7 1.2 0.7 0.3 0.7 0 0.7 0.6 0.7 1.8 0.7 0.7 0.7 -1.3 0.7 2.5 0.7 -2 0.7 0.1 0.7 -0.3 0.7 -0.4 0.7 -2.6 0.7 -1.9 0.7 -1.6 0.7 -1.3 0.7 -0.6 0.7 0.6 0.7 0.5 0.7 -0.4 0.7 0.4 0.7 -0.1 0.7 -0.7 0.7 -0.3 0.7 -0.8 0.7 0.2 0.7 -1.7 0.7 -1.2 0.7 -0.4 0.7 0.4 0.7 0.8 0.7 -1.1 0.7 0.6 0.7 1.4 0.7 0.2 0.7 2.6 0.7 1.3 0.7 1.3 0.7 1.7 0.7 4.5 0.7 6 0.7 7.4 0.7 3.5 0.7 1.1 0.7 4.2 0.7 -2.8 0.7 -2.6 0.7 -1.9 0.7 -8.3 0.7 -7.3 0.7 -1.9 0.7 -0.9 0.7 1.9 0.7 2.4 0.7 7 0.7 5.6 0.7 6.6 0.7 2.3 0.7 -0.2 0.7 -4.4 0.7 -3.2 0.7 -2.9 0.7 -1.1 0.7 -1.8 0.7 -1.8 0.7 4.1 0.7 2.6 0.7 2.4 0.7 -0.4 0.7 0.3 0.7 -1.3 0.7 1.6 0.7 2.5 0.7 1.1 0.7 0.3 0.7 0.8 0.7 0.6 0.7 0.3 0.7 -1.9 0.7 -4.5 0.7 -5.5 0.7 -10.2 0.7 -5.6 0.7 -3.9 0.7 -3 0.7 -1.8 0.7 3.8 0.7 3.3 0.7 12.7 0.7 5.6 0.7 6.6 0.7 3.2 0.7 0.1 0.7 0.6 0.7 -0.6 0.7 -1.7 0.7 2.7 0.7 1.9 0.7 3.8 0.7 2.9 0.7 -1.2 0.7 -0.7 0.7 -0.5 0.7 -0.1 0.7 -1.4 0.7 -1.7 0.7 -1.6 0.7 -0.7 0.7 -1.7 0.7 1.2 0.7 -3 0.7 -1.2 0.7 -0.7 0.7 -0.6 0.7 -0.6 0.7 1 0.7 -3.1 0.7 -1.9 0.7 -2.7 0.7 -0.3 0.7 2.4 0.7 2.7 0.7 -1.9 0.7 -7.1 0.7 -4.5 0.7 -1.8 0.7 9.9 0.7 10.8 0.7 -6 0.7 -6.3 0.7 -1.8 0.7 -0.1 0.7 -0.6 0.7 -1.4 0.7 -0.9 0.7 -1.9 0.7 -3.1 0.7 -2.4 0.7 -1.5 0.7 1.4 0.7 1.5 0.7 2.3 0.7 3.4 0.7 4 0.7 3.8 0.7 1.2 0.7 -0.2 0.7 2.6 0.7 1.6 0.7 1.2 0.7 -0.7 0.7 -1.1 0.7 0.5 0.7 -0.7 0.7 -1.3 0.7 2.1 0.7 1.4 0.7 2.5 0.7 -6 0.7 -7.6 0.7 -4.7 0.7 -4 0.7 -5.2 0.7 -2 0.7 0.4 0.7 2.6 0.7 1.9 0.7 1.6 0.7 5.3 0.7 2.5 0.7 0.8 0.7 1.5 0.7 0.1 0.7 1.5 0.7 -0.3 0.7 -0.2 0.7 -0.3 0.7 -1.3 0.7 -2.3 0.7 0.3 0.7 1.2 0.7 0.5 0.7 2.3 0.7 0.9 0.7 -2.1 0.7 0.2 0.7 -1.1 0.7 -2.8 0.7 -0.5 0.7 4.6 0.7 1.7 0.7 2.4 0.7 1.6 0.7 0.6 0.7 2.1 0.7 3.8 0.7 2.1 0.7 3.4 0.7 3.2 0.7 1.6 0.7 2.4 0.7 -2.5 0.7 -5.2 0.7 -4 0.7 -1.9 0.7 -2 0.7 1.3 0.7 1.5 0.7 2.9 0.7 1.4 0.7 2.9 0.7 1.1 0.7 0.9 0.7 0.3 0.7 -3 0.7 -1.1 0.7 -5.5 0.7 -7 0.7 -1.4 0.7 -2.4 0.7 0.2 0.7 0.6 0.7 2.4 0.7 -0.4 0.7 -2.4 0.7 -1.9 0.7 1 0.7 1.9 0.7 -0.1 0.7 1.7 0.7 1.6 0.7 0.6 0.7 -1.5 0.7 -2.8 0.7 -0.1 0.7 -0.3 0.7 2.5 0.7 0 0.7 -3.7 0.7 -0.2 0.7 0.3 0.7 -1.7 0.7 -2.1 0.7 1.4 0.7 -2.8 0.7 3.2 0.7 1.1 0.7 2.5 0.7 -0.8 0.7 -2.2 0.7 -1.4 0.7 0.8 0.7 0.4 0.7 1.1 0.7 -1.7 0.7 -1.7 0.7 -1.1 0.7 -1 0.7 -0.9 0.7 1.7 0.7 1.1 0.7 0.6 0.7 -0.2 0.7 -2 0.7 -0.4 0.7 -0.3 0.7 -1.8 0.7 0.3 0.7 1.1 0.7 -2.4 0.7 3.8 0.7 0.5 0.7 3.9 0.7 3.4 0.7 4.7 0.7 4.1 0.7 0.8 0.7 -0.6 0.7 -1.9 0.7 -0.7 0.7 -1 0.7 0.7 0.7 -1.7 0.7 -1.8 0.7 -2.5 0.7 -0.9 0.7 -2.2 0.7 -1.9 0.7 0 0.7 -0.4 0.7 -0.8 0.7 1 0.7 0.1 0.7 0.3 0.7 0.8 0.7 1.4 0.7 1.9 0.7 2.3 0.7 1 0.7 -1.7 0.7 -0.2 0.7 0.4 0.7 -1.2 0.7 -0.5 0.7 -0.2 0.7 -2 0.7 0 0.7 -1 0.7 -0.6 0.7 0.4 0.7 -0.5 0.7 1.1 0.7 -1.9 0.7 0.6 0.7 -0.1 0.7 0.2 0.7 -0.5 0.7 -2.7 0.7 -0.2 0.7 -1.5 0.7 -1.5 0.7 -0.8 0.7 -1.1 0.7 -1.2 0.7 1.8 0.7 0.4 0.7 0.1 0.7 -0.9 0.7 0.7 0.7 2.1 0.7 0.1 0.7 0.8 0.7 0.3 0.7 1.9 0.7 1.5 0.7 -0.1 0.7 -0.8 0.7 0.7 0.7 -0.5 0.7 1.6 0.7 1.8 0.7 0.3 0.7 1.3 0.7 2.2 0.7 -0.2 0.7 1.6 0.7 0 0.7 0 0.7 1.5 0.7 0.4 0.7 -0.3 0.7 1.6 0.7 1.6 0.7 2.3 0.7 -0.7 0.7 1.2 0.7 1.3 0.7 -0.3 0.7 -1.3 0.7 0.7 0.7 -1.1 0.7 -4 0.7 1.2 0.7 -1.6 0.7 -1 0.7 -1.6 0.7 -0.4 0.7 -0.2 0.7 -0.3 0.7 1.2 0.7 0.5 0.7 -1.2 0.7 -2.3 0.7 -4 0.7 0 0.7 -4.1 0.7 -2.5 0.7 -1.2 0.7 -0.9 0.7 -2.8 0.7 1.4 0.7 -1.4 0.7 -0.1 0.7 -0.1 0.7 1.4 0.7 3 0.7 0.6 0.7 1.8 0.7 1.5 0.7 1.4 0.7 2.5 0.7 1.5 0.7 0.9 0.7 -1.2 0.7 1.6 0.7 1.1 0.7 0.4 0.7 0.1 0.7 -0.2 0.7 -0.8 0.7 1.7 0.7 0.1 0.7 -1.8 0.7 -2.8 0.7 -0.4 0.7 0.3 0.7 -0.9 0.7 0.4 0.7 4.8 0.7 0.1 0.7 -3.6 0.7 -3.2 0.7 -2 0.7 -0.8 0.7 1.2 0.7 0.4 0.7 1.1 0.7 1.9 0.7 0.1 0.7 1.6 0.7 -0.8 0.7 3.4 0.7 0.1 0.7 2.5 0.7 -3.4 0.7 -0.7 0.7 1 0.7 -4 0.7 -3.4 0.7 -2.5 0.7 -0.5 0.7 0 0.7 0.6 0.7 2.4 0.7 2.5 0.7 0 0.7 0.3 0.7 0.8 0.7 0.3 0.7 -1.2 0.7 -0.3 0.7 0.3 0.7 0.1 0.7 0.3 0.7 -1.3 0.7 0.5 0.7 0.7 0.7 -2.1 0.7 1.8 0.7 0.6 0.7 -0.1 0.7 -0.3 0.7 1.3 0.7 0.7 0.7 -0.9 0.7 -0.1 0.7 0.1 0.7 1.1 0.7 -0.4 0.7 -1 0.7 -1 0.7 -0.3 0.7 0.5 0.7 -0.3 0.7 -0.1 0.7 -1.5 0.7 0.3 0.7 0.1 0.7 -2 0.7 2.7 0.7 -1.6 0.7 0.6 0.7 -0.7 0.7 0.9 0.7 2 0.7 0.3 0.7 -2.2 0.7 3 0.7 -0.5 0.7 -0.5 0.7 -1.8 0.7 0.5 0.7 -0.8 0.7 0.7 0.7 0.8 0.7 -1.1 0.7 -0.1 0.7 -1.3 0.7 -0.8 0.7 0.3 0.7 0.3 0.7 -0.1 0.7 -1.7 0.7 0.4 0.7 -0.2 0.7 -0.7 0.7 1.7 0.7 -0.3 0.7 -1 0.7 -0.3 0.7 -1.2 0.7 2.7 0.7 2.3 0.7 -0.2 0.7 0.9 0.7 0.3 0.7 -1.1 0.7 0.3 0.7 -1.2 0.7 1.6 0.7 -3.4 0.7 -2.1 0.7 -0.9 0.7 1.8 0.7 -1.1 0.7 -0.4 0.7 -1.2 0.7 0.8 0.7 -0.3 0.7 2.3 0.7 -0.3 0.7 2.7 0.7 4.8 0.7 5.9 0.7 8.4 0.7 2.8 0.7 -3 0.7 -2.2 0.7 1.5 0.7 0.4 0.7 -0.6 0.7 -2 0.7 0.4 0.7 -0.9 0.7 1.4 0.7 -1.6 0.7 0.4 0.7 0.7 0.7 -2 0.7 0.1 0.7 -1.3 0.7 0.1 0.7 0.1 0.7 0.2 0.7 0.2 0.7 0.1 0.7 2.4 0.7 -1.3 0.7 1.3 0.7 -0.8 0.7 -1.9 0.7 1.9 0.7 -0.9 0.7 -0.9 0.7 0.9 0.7 -0.4 0.7 1 0.7 -0.3 0.7 -1.6 0.7 -3.2 0.7 -1.6 0.7 0.4 0.7 -0.5 0.7 -2.5 0.7 0.5 0.7 -2.2 0.7 0.6 0.7 -0.5 0.7 -2.9 0.7 -2.1 0.7 -1.6 0.7 -3.7 0.7 -3.3 0.7 -1.8 0.7 -2.7 0.7 -3.1 0.7 -1.1 0.7 -1.4 0.7 0.7 0.7 2.1 0.7 2.2 0.7 1.6 0.7 0.8 0.7 -2.8 0.7 1.4 0.7 0.5 0.7 5 0.7 10.4 0.7 3.1 0.7 8.6 0.7 -0.6 0.7 2.7 0.7 -0.3 0.7 0.1 0.7 -0.8 0.7 -0.5 0.7 0.2 0.7 -1.2 0.7 0.6 0.7 -1.5 0.7 0 0.7 0.2" stroke="#38f038" stroke-width="0.9" fill="none" stroke-linejoin="round" />
<path d="M71.9 217.5l0.7 -1 0.7 -0.2 0.7 0.4 0.7 1.5 0.7 -2.4 0.7 1.9 0.7 0.5 0.7 -1 0.7 0 0.7 1.1 0.7 0.7 0.7 0.9 0.7 -0.7 0.7 0.8 0.7 -1.4 0.7 -0.1 0.7 -1.2 0.7 -0.7 0.7 -0.6 0.7 -0.7 0.7 -2 0.7 0.7 0.7 -1.1 0.7 0.4 0.7 0.7 0.7 2.9 0.7 -1.4 0.7 -1.3 0.7 -0.5 0.7 1.5 0.7 -2.3 0.7 2.2 0.7 0.9 0.7 -2 0.7 3.5 0.7 -0.7 0.7 -0.5 0.7 0.5 0.7 1 0.7 0 0.7 -0.3 0.7 -1.3 0.7 1.1 0.7 -0.2 0.7 -0.1 0.7 -1.1 0.7 0.3 0.7 -0.2 0.7 -1.5 0.7 -0.2 0.7 -0.5 0.7 -0.4 0.7 0.2 0.7 -0.8 0.7 2.2 0.7 1.7 0.7 -0.8 0.7 1.4 0.7 3.3 0.7 -1 0.7 1.2 0.7 1.5 0.7 0.2 0.7 0 0.7 -1.1 0.7 -1.2 0.7 -1.8 0.7 -1.3 0.7 -0.9 0.7 -1.8 0.7 0.5 0.7 -1.2 0.7 -0.1 0.7 1.1 0.7 0.6 0.7 1.7 0.7 0.8 0.7 -0.2 0.7 1.7 0.7 -0.2 0.7 -0.1 0.7 -0.8 0.7 -3 0.7 1.6 0.7 -2.6 0.7 -1.5 0.7 4.5 0.7 1.3 0.7 0.2 0.7 -3.2 0.7 -1.7 0.7 -2.5 0.7 -1.7 0.7 -1.7 0.7 -0.5 0.7 -3.2 0.7 0.6 0.7 -1.4 0.7 -2 0.7 2.5 0.7 2.9 0.7 3.6 0.7 3.3 0.7 1.4 0.7 3.1 0.7 0.8 0.7 0.5 0.7 1.4 0.7 -0.4 0.7 1.4 0.7 2.1 0.7 -2.5 0.7 -1 0.7 -1.1 0.7 -2.9 0.7 -3.7 0.7 -1.6 0.7 -1.5 0.7 1.9 0.7 1.3 0.7 1 0.7 1.7 0.7 2 0.7 1.8 0.7 0.1 0.7 -4.1 0.7 -0.8 0.7 4.3 0.7 1.4 0.7 -4.4 0.7 -3.1 0.7 -2.3 0.7 -0.5 0.7 4 0.7 5.6 0.7 3.3 0.7 -1.5 0.7 -2.1 0.7 -2.9 0.7 1 0.7 -1.3 0.7 1.8 0.7 1.4 0.7 0 0.7 -0.8 0.7 -1.6 0.7 -0.6 0.7 0.1 0.7 -2.1 0.7 -0.6 0.7 2.7 0.7 -2.3 0.7 1 0.7 0.9 0.7 -0.1 0.7 2.7 0.7 1.9 0.7 0.9 0.7 1.4 0.7 0.7 0.7 -0.4 0.7 2.7 0.7 0.2 0.7 1.6 0.7 3.2 0.7 2.6 0.7 -1.4 0.7 -2.8 0.7 -3.9 0.7 -7.2 0.7 -7.2 0.7 -0.9 0.7 6.7 0.7 4.9 0.7 5.2 0.7 3.2 0.7 -0.5 0.7 0.5 0.7 1.3 0.7 2.3 0.7 2.2 0.7 -1.7 0.7 -0.6 0.7 -3.2 0.7 0.8 0.7 1.7 0.7 -1.8 0.7 -0.5 0.7 -2.8 0.7 0.5 0.7 1.9 0.7 0.1 0.7 -1.3 0.7 -0.7 0.7 0.7 0.7 -1.8 0.7 0.3 0.7 -0.4 0.7 0.6 0.7 1.3 0.7 0.5 0.7 -1.4 0.7 -1.6 0.7 1.6 0.7 0.4 0.7 0.2 0.7 -2.6 0.7 -3.5 0.7 -0.2 0.7 1.5 0.7 2.2 0.7 -2.7 0.7 -4.2 0.7 -5.6 0.7 1.9 0.7 1.4 0.7 1.5 0.7 1.1 0.7 2.5 0.7 -1.4 0.7 0.1 0.7 -1.2 0.7 -1.3 0.7 -0.1 0.7 1.2 0.7 -1.8 0.7 1.1 0.7 -1.3 0.7 -1.8 0.7 0.4 0.7 1.2 0.7 0.6 0.7 -0.7 0.7 -4 0.7 -3.3 0.7 -1.6 0.7 0.7 0.7 -0.7 0.7 3.5 0.7 -0.6 0.7 0.8 0.7 -0.2 0.7 -0.8 0.7 0.9 0.7 1.1 0.7 1.8 0.7 -1.4 0.7 0 0.7 0.1 0.7 -1.1 0.7 -1.5 0.7 -0.7 0.7 -0.3 0.7 0.4 0.7 2.6 0.7 0.4 0.7 0.8 0.7 -1.7 0.7 0.1 0.7 -1.6 0.7 -0.8 0.7 0.4 0.7 2.3 0.7 -2 0.7 -0.4 0.7 1.1 0.7 -0.6 0.7 -1.1 0.7 0.8 0.7 -2.6 0.7 1.4 0.7 0.9 0.7 4 0.7 0.9 0.7 3.8 0.7 0.3 0.7 -0.9 0.7 -2 0.7 -1.2 0.7 -1.1 0.7 -0.6 0.7 -3.1 0.7 -2 0.7 1.5 0.7 -0.8 0.7 -2.1 0.7 0.3 0.7 -0.1 0.7 -0.3 0.7 -1.6 0.7 1.6 0.7 0.4 0.7 2.5 0.7 0.7 0.7 -2 0.7 -0.6 0.7 -0.9 0.7 -0.9 0.7 0.7 0.7 0.2 0.7 -1.7 0.7 -2.1 0.7 -0.9 0.7 1.2 0.7 2.2 0.7 -0.7 0.7 -2.3 0.7 -0.3 0.7 0.9 0.7 -1.9 0.7 -0.4 0.7 -0.6 0.7 0.4 0.7 -0.6 0.7 1.8 0.7 1.9 0.7 1 0.7 0.5 0.7 0.6 0.7 4 0.7 1.1 0.7 4.1 0.7 1.1 0.7 2.5 0.7 1 0.7 -1.7 0.7 -0.7 0.7 -0.3 0.7 0.5 0.7 -0.3 0.7 -1.6 0.7 -0.7 0.7 -0.3 0.7 -2.1 0.7 -2.8 0.7 -0.8 0.7 1 0.7 2.8 0.7 1.4 0.7 1.8 0.7 -1.6 0.7 1.3 0.7 -3.6 0.7 -0.4 0.7 -2.5 0.7 0.4 0.7 0 0.7 0.3 0.7 1.2 0.7 0.4 0.7 2.2 0.7 0.9 0.7 6 0.7 1.6 0.7 1.2 0.7 -0.1 0.7 4.1 0.7 -3.5 0.7 0.2 0.7 -2.8 0.7 -0.1 0.7 0.7 0.7 -0.8 0.7 -2.2 0.7 1.1 0.7 1.9 0.7 -1.2 0.7 2.9 0.7 -1.4 0.7 2 0.7 -0.4 0.7 1.2 0.7 -1.3 0.7 -0.1 0.7 -0.1 0.7 -0.9 0.7 -0.1 0.7 -1.2 0.7 -0.4 0.7 -0.4 0.7 -2.4 0.7 -0.6 0.7 -1.8 0.7 -0.4 0.7 -1.9 0.7 1 0.7 1.4 0.7 0.3 0.7 0.3 0.7 -0.2 0.7 -2.8 0.7 1.1 0.7 -0.5 0.7 -1 0.7 -1.2 0.7 1.9 0.7 0.6 0.7 2.2 0.7 -0.9 0.7 -1.8 0.7 -1 0.7 -0.3 0.7 0.1 0.7 -1 0.7 1.5 0.7 -2.2 0.7 1.1 0.7 0.5 0.7 0.5 0.7 0.2 0.7 1.6 0.7 1.5 0.7 1.1 0.7 0 0.7 0.8 0.7 1.1 0.7 0.9 0.7 -3.5 0.7 0.3 0.7 -0.5 0.7 -1.8 0.7 2.7 0.7 0.6 0.7 -1.4 0.7 0.2 0.7 0 0.7 -1.5 0.7 -0.1 0.7 -1.3 0.7 -0.1 0.7 0.2 0.7 -0.6 0.7 1.7 0.7 -0.7 0.7 -0.1 0.7 1.9 0.7 0.3 0.7 0 0.7 -0.3 0.7 -0.8 0.7 -0.2 0.7 1.3 0.7 -0.6 0.7 -0.4 0.7 0.4 0.7 -0.4 0.7 0 0.7 0.8 0.7 0.8 0.7 -0.7 0.7 -0.2 0.7 -0.5 0.7 0.6 0.7 0.7 0.7 -0.9 0.7 0.6 0.7 0.1 0.7 0.6 0.7 -1.4 0.7 -0.7 0.7 -0.9 0.7 2.9 0.7 -1.3 0.7 0.1 0.7 0.6 0.7 1.5 0.7 0.5 0.7 0 0.7 -1.7 0.7 1.3 0.7 -0.7 0.7 -1 0.7 -1.1 0.7 -1.1 0.7 0 0.7 -1.9 0.7 1.4 0.7 -0.7 0.7 0.8 0.7 1.5 0.7 1.4 0.7 1 0.7 1.2 0.7 0.8 0.7 -0.7 0.7 1.3 0.7 3.2 0.7 -2 0.7 -0.9 0.7 -1.2 0.7 2.1 0.7 0.1 0.7 2.9 0.7 0.5 0.7 -1.4 0.7 2.4 0.7 0.1 0.7 0.4 0.7 -0.5 0.7 -0.7 0.7 0.2 0.7 0.3 0.7 -0.4 0.7 -0.3 0.7 1.8 0.7 -1.3 0.7 -1.2 0.7 0.7 0.7 -0.5 0.7 -1.6 0.7 0.1 0.7 -1.3 0.7 -1.7 0.7 1.3 0.7 -0.5 0.7 -0.4 0.7 -1 0.7 -0.7 0.7 1.3 0.7 0.8 0.7 0.9 0.7 0.6 0.7 0 0.7 -0.7 0.7 0.4 0.7 -1.2 0.7 1.4 0.7 -0.2 0.7 0.3 0.7 -0.7 0.7 0.6 0.7 -1.7 0.7 1.2 0.7 0.1 0.7 0.5 0.7 -0.8 0.7 0.9 0.7 -0.7 0.7 1.3 0.7 -0.8 0.7 -0.2 0.7 -2.3 0.7 0.2 0.7 -1 0.7 -2.6 0.7 1.8 0.7 -1.7 0.7 -0.7 0.7 2.1 0.7 -0.2 0.7 -2.3 0.7 2.5 0.7 0.6 0.7 2.7 0.7 1.9 0.7 3.1 0.7 -2.6 0.7 -4.8 0.7 -0.3 0.7 -0.6 0.7 -0.3 0.7 1.5 0.7 -0.4 0.7 -3.1 0.7 -2.1 0.7 -0.3 0.7 0.1 0.7 3.7 0.7 0.6 0.7 2 0.7 1.9 0.7 1.9 0.7 -0.8 0.7 1.1 0.7 1.8 0.7 1.1 0.7 -0.4 0.7 0.7 0.7 2 0.7 0.2 0.7 -0.6 0.7 0.1 0.7 -0.8 0.7 -1.1 0.7 -0.4 0.7 -0.3 0.7 -3.1 0.7 -2 0.7 -2.5 0.7 1.7 0.7 3.6 0.7 -0.9 0.7 -0.4 0.7 -0.5 0.7 -1.8 0.7 -0.7 0.7 0.8 0.7 -2.7 0.7 2.3 0.7 -0.7 0.7 3 0.7 -0.2 0.7 -1.4 0.7 -1.1 0.7 0.5 0.7 1.1 0.7 3.8 0.7 -1.2 0.7 -1 0.7 -1.7 0.7 0.2 0.7 1.2 0.7 0.3 0.7 0.1 0.7 0.3 0.7 1.5 0.7 0.3 0.7 1.2 0.7 -0.9 0.7 -1.5 0.7 -1.7 0.7 -2 0.7 -1.1 0.7 -3.8 0.7 -1.7 0.7 2.8 0.7 1.3 0.7 1 0.7 0.4 0.7 1.3 0.7 0.6 0.7 -3.2 0.7 -2 0.7 -3.8 0.7 -2 0.7 -1.1 0.7 4.9 0.7 0.2 0.7 1.2 0.7 0.3 0.7 -2.9 0.7 -2.5 0.7 -1.8 0.7 -2.1 0.7 0.1 0.7 -1.7 0.7 -1.2 0.7 0.3" stroke="#ff3838" stroke-width="0.9" fill="none" stroke-linejoin="round" />
<path d="M71.7 209.7l0.7 0.1 0.7 -0.3 0.7 -1.6 0.7 1.8 0.7 -1.9 0.7 2.1 0.7 -0.3 0.7 0.1 0.7 -0.1 0.7 -0.5 0.7 -0.7 0.7 0 0.7 1.4 0.7 -1.5 0.7 0.3 0.7 -0.3 0.7 0.2 0.7 0.2 0.7 0.4 0.7 -0.2 0.7 0 0.7 -0.1 0.7 0.6 0.7 -0.9 0.7 1.1 0.7 1 0.7 -1.2 0.7 0.8 0.7 2.2 0.7 -2.4 0.7 -0.1 0.7 1.1 0.7 1.8 0.7 -0.1 0.7 -2.6 0.7 0.8 0.7 -0.8 0.7 -0.8 0.7 -1.4 0.7 1.7 0.7 -1.8 0.7 0.4 0.7 -0.6 0.7 0.8 0.7 -0.9 0.7 -2.2 0.7 0.1 0.7 0.3 0.7 -2.2 0.7 0.1 0.7 -0.1 0.7 -1.8 0.7 -0.3 0.7 -0.9 0.7 1.1 0.7 -0.1 0.7 1.5 0.7 2.4 0.7 3.6 0.7 2.8 0.7 3.2 0.7 0.9 0.7 1 0.7 3 0.7 1.4 0.7 1.9 0.7 -1 0.7 0.3 0.7 0 0.7 -1 0.7 2.4 0.7 1.9 0.7 -0.4 0.7 -0.9 0.7 1.3 0.7 -1.7 0.7 -0.7 0.7 -1 0.7 -0.6 0.7 -0.5 0.7 -2.4 0.7 0.1 0.7 -1 0.7 -1.1 0.7 -4.2 0.7 -0.8 0.7 -3.3 0.7 -2 0.7 -4.3 0.7 -1.6 0.7 -2.9 0.7 -4 0.7 -0.9 0.7 0.8 0.7 0.5 0.7 3.7 0.7 3.5 0.7 0.5 0.7 -3.8 0.7 -5.2 0.7 -5 0.7 4 0.7 1.6 0.7 3.1 0.7 2.8 0.7 2.7 0.7 3.8 0.7 -2.5 0.7 -1.4 0.7 -2.8 0.7 -0.4 0.7 2.8 0.7 3.6 0.7 0.7 0.7 -2.8 0.7 -6 0.7 -5 0.7 -3.7 0.7 2.9 0.7 3.7 0.7 4.6 0.7 4 0.7 3.7 0.7 3.3 0.7 0.8 0.7 3.1 0.7 4.1 0.7 6.4 0.7 4 0.7 2.8 0.7 0.1 0.7 -1 0.7 -1.1 0.7 -0.9 0.7 -1.7 0.7 -3.5 0.7 -4.3 0.7 -5.6 0.7 -3.9 0.7 2.3 0.7 2.5 0.7 -1.2 0.7 -1.7 0.7 -1 0.7 0.5 0.7 4 0.7 1.4 0.7 -2 0.7 -0.6 0.7 0.3 0.7 2.5 0.7 1.5 0.7 2.3 0.7 -0.9 0.7 2.9 0.7 0.9 0.7 0.7 0.7 1 0.7 0.3 0.7 1.4 0.7 -0.7 0.7 1.7 0.7 2.3 0.7 3.5 0.7 2.6 0.7 0.9 0.7 2.1 0.7 -4.3 0.7 -3.4 0.7 -11.3 0.7 -14.9 0.7 -1.7 0.7 6.1 0.7 4.1 0.7 3.2 0.7 0.9 0.7 -1.1 0.7 1.5 0.7 0.5 0.7 -0.6 0.7 -1.4 0.7 -0.8 0.7 0.8 0.7 0 0.7 1.4 0.7 -0.2 0.7 -2.7 0.7 -0.8 0.7 -4.8 0.7 -0.4 0.7 -0.8 0.7 -2.4 0.7 -1.1 0.7 -2.5 0.7 -2.5 0.7 -1 0.7 0.6 0.7 -2.9 0.7 0 0.7 -0.8 0.7 1.4 0.7 0.8 0.7 1.3 0.7 -0.3 0.7 2.4 0.7 -0.1 0.7 -0.2 0.7 0.2 0.7 -6.3 0.7 -5.5 0.7 -3.9 0.7 -5.3 0.7 -0.2 0.7 3.6 0.7 2.5 0.7 2.5 0.7 2 0.7 4.3 0.7 4.8 0.7 0.9 0.7 0.9 0.7 0.5 0.7 0.6 0.7 -0.3 0.7 -1.4 0.7 -2 0.7 -2.7 0.7 -1.1 0.7 -3.7 0.7 0.9 0.7 5.6 0.7 1.6 0.7 1.4 0.7 -0.9 0.7 -1 0.7 0.5 0.7 3.1 0.7 2.5 0.7 2.1 0.7 1.3 0.7 1.3 0.7 0.5 0.7 -4.8 0.7 -3.3 0.7 3 0.7 2.3 0.7 0 0.7 1.1 0.7 -0.3 0.7 0.9 0.7 -1.1 0.7 -0.9 0.7 -0.3 0.7 1.3 0.7 1.2 0.7 -1.6 0.7 -1.3 0.7 -0.6 0.7 -3.2 0.7 -2.8 0.7 -1.5 0.7 2.8 0.7 6.9 0.7 5.5 0.7 3.9 0.7 1.4 0.7 5.9 0.7 4.1 0.7 4 0.7 -1.4 0.7 -1.6 0.7 -2.5 0.7 -2.8 0.7 -2 0.7 -2.4 0.7 -4.1 0.7 2.3 0.7 3.6 0.7 4.5 0.7 3.8 0.7 2.3 0.7 1.9 0.7 0.5 0.7 0.2 0.7 0.5 0.7 1 0.7 -0.8 0.7 -1.6 0.7 -2.9 0.7 -4.8 0.7 -3.5 0.7 0.5 0.7 2.1 0.7 1.7 0.7 1.8 0.7 -3 0.7 -3.6 0.7 -3.4 0.7 -2.1 0.7 -3.7 0.7 2.1 0.7 2 0.7 0.3 0.7 -3.1 0.7 -4.7 0.7 -2 0.7 2.1 0.7 2.5 0.7 -0.2 0.7 -1.5 0.7 -1.8 0.7 -1 0.7 0.5 0.7 -0.2 0.7 -1.3 0.7 -4.4 0.7 9.6 0.7 5.5 0.7 -8.2 0.7 2.5 0.7 9.5 0.7 -7 0.7 -14.4 0.7 -5.5 0.7 -3.8 0.7 0.7 0.7 0.9 0.7 -1.1 0.7 -0.7 0.7 -1.9 0.7 -0.4 0.7 -4.8 0.7 -0.5 0.7 7.3 0.7 0.5 0.7 -1.4 0.7 0 0.7 -2.8 0.7 2.8 0.7 0.6 0.7 1.1 0.7 0.8 0.7 4 0.7 1.5 0.7 0.2 0.7 0.7 0.7 -0.4 0.7 -0.9 0.7 -4.1 0.7 -2.7 0.7 -1.2 0.7 -2.3 0.7 0 0.7 -0.8 0.7 0.5 0.7 -0.3 0.7 0.2 0.7 -0.1 0.7 -0.2 0.7 -0.1 0.7 -0.3 0.7 1.3 0.7 -0.2 0.7 0.1 0.7 1.7 0.7 0.2 0.7 0.6 0.7 0.3 0.7 -1.3 0.7 0.1 0.7 0.4 0.7 -0.2 0.7 0 0.7 -1.5 0.7 0.3 0.7 0.2 0.7 0.4 0.7 -2.6 0.7 1.6 0.7 -1.7 0.7 -1.1 0.7 1.6 0.7 -2 0.7 0.4 0.7 1.9 0.7 0.8 0.7 -0.4 0.7 -1 0.7 -1 0.7 0.7 0.7 -2 0.7 0.3 0.7 1.5 0.7 -0.4 0.7 1.9 0.7 0.9 0.7 0.4 0.7 1.5 0.7 -2.1 0.7 1.2 0.7 0 0.7 -1.1 0.7 4.4 0.7 2.2 0.7 2.4 0.7 0.8 0.7 3.4 0.7 2.7 0.7 -1.8 0.7 0.6 0.7 -0.5 0.7 -1.1 0.7 0.9 0.7 -1.6 0.7 1.3 0.7 4.6 0.7 2.7 0.7 5.7 0.7 -1.4 0.7 0.7 0.7 2.4 0.7 0.6 0.7 -0.3 0.7 0.7 0.7 1.9 0.7 0.3 0.7 1.2 0.7 1.4 0.7 0.1 0.7 2.4 0.7 0.1 0.7 1.3 0.7 -0.4 0.7 1.9 0.7 -1.6 0.7 -0.5 0.7 -3.5 0.7 0 0.7 -1.8 0.7 -0.5 0.7 -1.2 0.7 0.3 0.7 -1.8 0.7 0.8 0.7 1.8 0.7 0.1 0.7 1 0.7 0 0.7 2.1 0.7 3 0.7 1.4 0.7 -0.1 0.7 -1.1 0.7 -1.9 0.7 -0.1 0.7 -0.3 0.7 -0.7 0.7 0.6 0.7 0.2 0.7 1.8 0.7 -0.5 0.7 0.5 0.7 2 0.7 0.8 0.7 0.8 0.7 -0.1 0.7 0.3 0.7 2.2 0.7 2 0.7 -0.8 0.7 -3.5 0.7 -4 0.7 -1.8 0.7 2.6 0.7 -2.2 0.7 -4.3 0.7 -2.7 0.7 -2.3 0.7 -3.7 0.7 -1.3 0.7 -2.7 0.7 -3 0.7 -2.7 0.7 -2.1 0.7 -2.8 0.7 0.5 0.7 -2.2 0.7 -2.1 0.7 -0.6 0.7 -0.2 0.7 -0.2 0.7 0 0.7 0.8 0.7 -0.4 0.7 1.2 0.7 2 0.7 1 0.7 3.1 0.7 -0.7 0.7 0.7 0.7 0.4 0.7 -0.1 0.7 1.8 0.7 0.9 0.7 0.1 0.7 -1.7 0.7 3.4 0.7 -0.6 0.7 0 0.7 0.3 0.7 -0.1 0.7 0.7 0.7 0.4 0.7 -1.6 0.7 0.6 0.7 -0.9 0.7 0.1 0.7 0.1 0.7 0.5 0.7 0.6 0.7 -0.6 0.7 0.6 0.7 0.2 0.7 -2.3 0.7 1.3 0.7 -1 0.7 0.5 0.7 1.3 0.7 -0.4 0.7 0.1 0.7 1.7 0.7 -0.4 0.7 -0.6 0.7 1.4 0.7 -2.9 0.7 -0.9 0.7 -0.1 0.7 -1.7 0.7 0.1 0.7 0 0.7 1 0.7 1.4 0.7 0.1 0.7 -1.4 0.7 0.3 0.7 0.4 0.7 1 0.7 2.7 0.7 2.9 0.7 2 0.7 2 0.7 -1.2 0.7 -0.2 0.7 -0.2 0.7 0.9 0.7 1.2 0.7 0.2 0.7 -1.2 0.7 -2.1 0.7 0.2 0.7 -0.6 0.7 1.5 0.7 -0.5 0.7 -1.8 0.7 -0.1 0.7 4.9 0.7 3.5 0.7 3.3 0.7 -3.2 0.7 -1.5 0.7 -1.6 0.7 10.3 0.7 8 0.7 0.8 0.7 -2.6 0.7 -1.1 0.7 -4.7 0.7 -4.1 0.7 -1 0.7 -0.8 0.7 -2.1 0.7 0.9 0.7 3.4 0.7 2.3 0.7 -0.1 0.7 -1.3 0.7 -1 0.7 0.4 0.7 0.6 0.7 0 0.7 1.1 0.7 1.3 0.7 -0.8 0.7 -1.8 0.7 -1 0.7 2.2 0.7 0.3 0.7 2 0.7 -0.1 0.7 1.4 0.7 0.9 0.7 1.1 0.7 -3.9 0.7 -4.6 0.7 -2.3 0.7 -4 0.7 -3 0.7 4.4 0.7 3 0.7 1.6 0.7 -4.7 0.7 -4.7 0.7 -2.9 0.7 3.5 0.7 4.5 0.7 -2 0.7 -1.6 0.7 -1.5 0.7 1.4 0.7 3.5 0.7 3.1 0.7 -1.8 0.7 -0.3 0.7 -2.6 0.7 -2.6 0.7 -0.7 0.7 -0.2 0.7 -0.5 0.7 -2.3 0.7 -5.5 0.7 -3.8 0.7 -2.9 0.7 -1.8 0.7 -3.7 0.7 -1.1 0.7 3.6 0.7 5.2 0.7 6.4 0.7 5.8 0.7 4.3 0.7 -0.2 0.7 1.5 0.7 1.6 0.7 2.2 0.7 -0.6 0.7 2.6 0.7 1.3" stroke="#3838ff" stroke-width="0.9" fill="none" stroke-linejoin="round" />
<path d="M71.6 207.6L525.6 207.6" stroke="#000" stroke-width="1.4" stroke-dasharray="5.8 2.6" fill="none" />
</g>
<path d="M77.8 188.3L95 188.3" stroke="#3838ff" stroke-width="1.0" fill="none" />
<text x="97" y="191.6" font-size="9.3" fill="#3838ff" xml:space="preserve">B<tspan font-size="6.9" dy="3.4">L</tspan></text>
<path d="M77.8 211.4L95 211.4" stroke="#38f038" stroke-width="1.0" fill="none" />
<text x="97" y="214.7" font-size="9.3" fill="#38f038" xml:space="preserve">B<tspan font-size="6.9" dy="3.4">M</tspan></text>
<path d="M77.8 233.8L95 233.8" stroke="#ff3838" stroke-width="1.0" fill="none" />
<text x="97" y="237.1" font-size="9.3" fill="#ff3838" xml:space="preserve">B<tspan font-size="6.9" dy="3.4">N</tspan></text>
<clipPath id="cm1"><rect x="668.3" y="41.4" width="454.1" height="74"/></clipPath><g clip-path="url(#cm1)">
<path d="M668.8 78.5l0.7 1.3 0.7 -2.6 0.7 2.9 0.7 -1.4 0.7 -0.5 0.7 0 0.7 -0.1 0.7 0.7 0.7 0.9 0.7 -0.2 0.7 0 0.7 -2 0.7 0.1 0.7 2.4 0.7 -0.5 0.7 0.9 0.7 -0.8 0.7 -1.9 0.7 1.6 0.7 -0.8 0.7 -0.7 0.7 -1.1 0.7 0.3 0.7 -0.4 0.7 0.5 0.7 -1 0.7 0.5 0.7 -2.4 0.7 0.4 0.7 -0.6 0.7 -1.6 0.7 -0.4 0.7 1.6 0.7 -0.5 0.7 -0.7 0.7 0.4 0.7 -1 0.7 0.6 0.7 -0.5 0.7 0.9 0.7 0.9 0.7 -0.8 0.7 1.3 0.7 -1.3 0.7 0.9 0.7 -0.7 0.7 1.3 0.7 0.4 0.7 0 0.7 0.5 0.7 2 0.7 0.8 0.7 -1.4 0.7 2.6 0.7 -2.1 0.7 0.1 0.7 -0.3 0.7 -0.5 0.7 -2.8 0.7 -2 0.7 -1.7 0.7 -1.4 0.7 -0.6 0.7 0.6 0.7 0.5 0.7 -0.4 0.7 0.4 0.7 -0.1 0.7 -0.7 0.7 -0.4 0.7 -0.8 0.7 0.2 0.7 -1.8 0.7 -1.3 0.7 -0.5 0.7 0.5 0.7 0.8 0.7 -1.1 0.7 0.6 0.7 1.6 0.7 0.2 0.7 2.7 0.7 1.4 0.7 1.4 0.7 1.8 0.7 4.9 0.7 6.5 0.7 7.9 0.7 3.8 0.7 1.2 0.7 4.4 0.7 -3 0.7 -2.7 0.7 -2.1 0.7 -8.9 0.7 -7.8 0.7 -2.1 0.7 -1 0.7 2.1 0.7 2.5 0.7 7.5 0.7 6.1 0.7 7.1 0.7 2.5 0.7 -0.2 0.7 -4.7 0.7 -3.6 0.7 -3 0.7 -1.2 0.7 -2 0.7 -1.9 0.7 4.4 0.7 2.8 0.7 2.6 0.7 -0.5 0.7 0.3 0.7 -1.3 0.7 1.7 0.7 2.7 0.7 1.2 0.7 0.3 0.7 0.9 0.7 0.6 0.7 0.3 0.7 -2 0.7 -4.9 0.7 -5.9 0.7 -11 0.7 -5.9 0.7 -4.3 0.7 -3.1 0.7 -2 0.7 4.1 0.7 3.5 0.7 13.7 0.7 6.1 0.7 7 0.7 3.5 0.7 0.1 0.7 0.6 0.7 -0.6 0.7 -1.9 0.7 2.9 0.7 2.1 0.7 4.1 0.7 3.1 0.7 -1.3 0.7 -0.7 0.7 -0.7 0.7 0 0.7 -1.5 0.7 -1.9 0.7 -1.7 0.7 -0.7 0.7 -1.8 0.7 1.2 0.7 -3.2 0.7 -1.3 0.7 -0.7 0.7 -0.7 0.7 -0.7 0.7 1.1 0.7 -3.3 0.7 -2 0.7 -2.9 0.7 -0.3 0.7 2.5 0.7 2.9 0.7 -2 0.7 -7.6 0.7 -4.8 0.7 -2.1 0.7 10.7 0.7 11.6 0.7 -6.5 0.7 -6.7 0.7 -1.9 0.7 -0.1 0.7 -0.6 0.7 -1.6 0.7 -0.9 0.7 -2.1 0.7 -3.3 0.7 -2.6 0.7 -1.6 0.7 1.5 0.7 1.6 0.7 2.4 0.7 3.7 0.7 4.3 0.7 4.1 0.7 1.3 0.7 -0.1 0.7 2.6 0.7 1.8 0.7 1.3 0.7 -0.7 0.7 -1.3 0.7 0.6 0.7 -0.7 0.7 -1.4 0.7 2.3 0.7 1.4 0.7 2.7 0.7 -6.4 0.7 -8.3 0.7 -4.9 0.7 -4.4 0.7 -5.5 0.7 -2.2 0.7 0.4 0.7 2.9 0.7 2 0.7 1.7 0.7 5.7 0.7 2.6 0.7 1 0.7 1.6 0.7 0.1 0.7 1.5 0.7 -0.3 0.7 -0.2 0.7 -0.3 0.7 -1.5 0.7 -2.4 0.7 0.3 0.7 1.3 0.7 0.6 0.7 2.4 0.7 1 0.7 -2.3 0.7 0.3 0.7 -1.2 0.7 -3 0.7 -0.6 0.7 4.9 0.7 1.9 0.7 2.6 0.7 1.8 0.7 0.6 0.7 2.2 0.7 4.1 0.7 2.3 0.7 3.6 0.7 3.5 0.7 1.7 0.7 2.5 0.7 -2.7 0.7 -5.5 0.7 -4.4 0.7 -2 0.7 -2.1 0.7 1.4 0.7 1.6 0.7 3.1 0.7 1.6 0.7 3 0.7 1.2 0.7 1 0.7 0.3 0.7 -3.2 0.7 -1.2 0.7 -5.9 0.7 -7.6 0.7 -1.4 0.7 -2.6 0.7 0.2 0.7 0.7 0.7 2.5 0.7 -0.5 0.7 -2.5 0.7 -2 0.7 1.1 0.7 1.9 0.7 0 0.7 1.8 0.7 1.7 0.7 0.6 0.7 -1.6 0.7 -2.9 0.7 -0.2 0.7 -0.3 0.7 2.7 0.7 0 0.7 -3.9 0.7 -0.3 0.7 0.3 0.7 -1.8 0.7 -2.3 0.7 1.5 0.7 -3 0.7 3.4 0.7 1.3 0.7 2.7 0.7 -0.9 0.7 -2.4 0.7 -1.5 0.7 0.9 0.7 0.4 0.7 1.2 0.7 -1.9 0.7 -1.7 0.7 -1.2 0.7 -1.2 0.7 -0.9 0.7 1.8 0.7 1.2 0.7 0.7 0.7 -0.3 0.7 -2.1 0.7 -0.5 0.7 -0.3 0.7 -1.9 0.7 0.3 0.7 1.2 0.7 -2.5 0.7 4 0.7 0.6 0.7 4.1 0.7 3.7 0.7 5 0.7 4.4 0.7 0.9 0.7 -0.6 0.7 -2 0.7 -0.8 0.7 -1 0.7 0.6 0.7 -1.8 0.7 -1.9 0.7 -2.7 0.7 -0.9 0.7 -2.4 0.7 -2.1 0.7 0 0.7 -0.4 0.7 -0.9 0.7 1.1 0.7 0.2 0.7 0.3 0.7 0.8 0.7 1.5 0.7 2.1 0.7 2.4 0.7 1.1 0.7 -1.8 0.7 -0.2 0.7 0.4 0.7 -1.2 0.7 -0.6 0.7 -0.2 0.7 -2.2 0.7 0 0.7 -1.1 0.7 -0.6 0.7 0.4 0.7 -0.5 0.7 1.2 0.7 -2.1 0.7 0.6 0.7 -0.1 0.7 0.2 0.7 -0.5 0.7 -2.9 0.7 -0.2 0.7 -1.6 0.7 -1.6 0.7 -0.9 0.7 -1.2 0.7 -1.2 0.7 1.9 0.7 0.4 0.7 0.1 0.7 -0.9 0.7 0.7 0.7 2.3 0.7 0.1 0.7 0.8 0.7 0.4 0.7 2 0.7 1.6 0.7 -0.1 0.7 -0.8 0.7 0.7 0.7 -0.5 0.7 1.7 0.7 1.9 0.7 0.3 0.7 1.4 0.7 2.4 0.7 -0.2 0.7 1.8 0.7 -0.1 0.7 0 0.7 1.6 0.7 0.5 0.7 -0.3 0.7 1.7 0.7 1.7 0.7 2.5 0.7 -0.8 0.7 1.3 0.7 1.4 0.7 -0.4 0.7 -1.4 0.7 0.8 0.7 -1.2 0.7 -4.3 0.7 1.3 0.7 -1.7 0.7 -1 0.7 -1.8 0.7 -0.5 0.7 -0.1 0.7 -0.3 0.7 1.2 0.7 0.6 0.7 -1.3 0.7 -2.5 0.7 -4.2 0.7 -0.1 0.7 -4.4 0.7 -2.7 0.7 -1.3 0.7 -0.9 0.7 -3 0.7 1.5 0.7 -1.6 0.7 -0.1 0.7 -0.1 0.7 1.5 0.7 3.2 0.7 0.7 0.7 2 0.7 1.6 0.7 1.5 0.7 2.7 0.7 1.5 0.7 1 0.7 -1.3 0.7 1.7 0.7 1.2 0.7 0.4 0.7 0.2 0.7 -0.3 0.7 -0.8 0.7 1.8 0.7 0.1 0.7 -1.9 0.7 -3 0.7 -0.5 0.7 0.4 0.7 -1 0.7 0.4 0.7 5.2 0.7 0.1 0.7 -3.8 0.7 -3.5 0.7 -2.1 0.7 -0.9 0.7 1.2 0.7 0.5 0.7 1.2 0.7 2.1 0.7 0 0.7 1.8 0.7 -0.9 0.7 3.6 0.7 0.2 0.7 2.6 0.7 -3.6 0.7 -0.7 0.7 1 0.7 -4.3 0.7 -3.6 0.7 -2.7 0.7 -0.6 0.7 0.1 0.7 0.6 0.7 2.5 0.7 2.8 0.7 0 0.7 0.3 0.7 0.8 0.7 0.4 0.7 -1.4 0.7 -0.3 0.7 0.3 0.7 0.2 0.7 0.3 0.7 -1.4 0.7 0.5 0.7 0.7 0.7 -2.1 0.7 1.9 0.7 0.6 0.7 -0.1 0.7 -0.3 0.7 1.4 0.7 0.7 0.7 -0.9 0.7 -0.1 0.7 0 0.7 1.3 0.7 -0.5 0.7 -1.1 0.7 -1.1 0.7 -0.3 0.7 0.6 0.7 -0.4 0.7 0 0.7 -1.7 0.7 0.3 0.7 0.2 0.7 -2.2 0.7 2.9 0.7 -1.7 0.7 0.7 0.7 -0.8 0.7 0.9 0.7 2.2 0.7 0.3 0.7 -2.3 0.7 3.2 0.7 -0.5 0.7 -0.6 0.7 -1.9 0.7 0.5 0.7 -0.9 0.7 0.8 0.7 0.8 0.7 -1.1 0.7 -0.1 0.7 -1.4 0.7 -0.9 0.7 0.4 0.7 0.3 0.7 -0.2 0.7 -1.7 0.7 0.3 0.7 -0.1 0.7 -0.7 0.7 1.7 0.7 -0.3 0.7 -1.1 0.7 -0.3 0.7 -1.3 0.7 2.9 0.7 2.4 0.7 -0.2 0.7 1 0.7 0.3 0.7 -1.1 0.7 0.3 0.7 -1.3 0.7 1.7 0.7 -3.6 0.7 -2.3 0.7 -0.9 0.7 1.9 0.7 -1.2 0.7 -0.4 0.7 -1.3 0.7 0.8 0.7 -0.3 0.7 2.5 0.7 -0.3 0.7 2.9 0.7 5.2 0.7 6.3 0.7 9 0.7 3 0.7 -3.2 0.7 -2.4 0.7 1.6 0.7 0.5 0.7 -0.6 0.7 -2.3 0.7 0.5 0.7 -1 0.7 1.5 0.7 -1.7 0.7 0.5 0.7 0.6 0.7 -2 0.7 0.1 0.7 -1.4 0.7 0 0.7 0.2 0.7 0.2 0.7 0.2 0.7 0.1 0.7 2.5 0.7 -1.3 0.7 1.4 0.7 -0.8 0.7 -2.1 0.7 2.1 0.7 -1 0.7 -0.9 0.7 0.8 0.7 -0.3 0.7 1 0.7 -0.4 0.7 -1.6 0.7 -3.4 0.7 -1.8 0.7 0.4 0.7 -0.5 0.7 -2.6 0.7 0.4 0.7 -2.3 0.7 0.7 0.7 -0.6 0.7 -3.1 0.7 -2.3 0.7 -1.7 0.7 -4 0.7 -3.6 0.7 -1.8 0.7 -3 0.7 -3.3 0.7 -1.2 0.7 -1.5 0.7 0.8 0.7 2.2 0.7 2.4 0.7 1.7 0.7 0.9 0.7 -3 0.7 1.4 0.7 0.6 0.7 5.4 0.7 11.1 0.7 3.4 0.7 9.3 0.7 -0.7 0.7 2.9 0.7 -0.3 0.7 0.1 0.7 -0.9 0.7 -0.5 0.7 0.2 0.7 -1.2 0.7 0.5 0.7 -1.5 0.7 0 0.7 0.2" stroke="#38f038" stroke-width="0.9" fill="none" stroke-linejoin="round" />
<path d="M668.8 86.5l0.7 -1.1 0.7 -0.2 0.7 0.4 0.7 1.5 0.7 -2.5 0.7 2.1 0.7 0.5 0.7 -1.1 0.7 0 0.7 1.1 0.7 0.9 0.7 1 0.7 -0.8 0.7 0.8 0.7 -1.4 0.7 -0.1 0.7 -1.4 0.7 -0.7 0.7 -0.6 0.7 -0.8 0.7 -2.1 0.7 0.7 0.7 -1.2 0.7 0.4 0.7 0.8 0.7 3.1 0.7 -1.5 0.7 -1.4 0.7 -0.6 0.7 1.7 0.7 -2.4 0.7 2.2 0.7 1 0.7 -2.1 0.7 3.8 0.7 -0.8 0.7 -0.5 0.7 0.5 0.7 1 0.7 0 0.7 -0.3 0.7 -1.3 0.7 1.1 0.7 -0.2 0.7 -0.2 0.7 -1 0.7 0.3 0.7 -0.3 0.7 -1.5 0.7 -0.3 0.7 -0.5 0.7 -0.4 0.7 0.2 0.7 -0.9 0.7 2.4 0.7 1.8 0.7 -0.9 0.7 1.6 0.7 3.4 0.7 -1 0.7 1.3 0.7 1.6 0.7 0.2 0.7 0 0.7 -1.1 0.7 -1.4 0.7 -1.8 0.7 -1.5 0.7 -1 0.7 -1.9 0.7 0.5 0.7 -1.2 0.7 -0.2 0.7 1.2 0.7 0.7 0.7 1.8 0.7 0.8 0.7 -0.2 0.7 1.8 0.7 -0.1 0.7 -0.2 0.7 -0.8 0.7 -3.2 0.7 1.7 0.7 -2.8 0.7 -1.6 0.7 4.8 0.7 1.5 0.7 0.1 0.7 -3.4 0.7 -1.8 0.7 -2.7 0.7 -1.8 0.7 -1.9 0.7 -0.5 0.7 -3.5 0.7 0.7 0.7 -1.5 0.7 -2.2 0.7 2.7 0.7 3.1 0.7 3.9 0.7 3.5 0.7 1.6 0.7 3.3 0.7 0.9 0.7 0.4 0.7 1.6 0.7 -0.5 0.7 1.5 0.7 2.3 0.7 -2.7 0.7 -1 0.7 -1.3 0.7 -3 0.7 -4 0.7 -1.8 0.7 -1.5 0.7 2 0.7 1.4 0.7 1.1 0.7 1.8 0.7 2.1 0.7 2 0.7 0.1 0.7 -4.4 0.7 -0.9 0.7 4.7 0.7 1.5 0.7 -4.7 0.7 -3.4 0.7 -2.4 0.7 -0.6 0.7 4.3 0.7 6 0.7 3.6 0.7 -1.7 0.7 -2.2 0.7 -3.2 0.7 1.1 0.7 -1.4 0.7 2 0.7 1.5 0.7 0 0.7 -0.9 0.7 -1.7 0.7 -0.7 0.7 0.1 0.7 -2.2 0.7 -0.7 0.7 2.9 0.7 -2.4 0.7 1.1 0.7 0.9 0.7 -0.1 0.7 2.9 0.7 2.1 0.7 0.9 0.7 1.5 0.7 0.8 0.7 -0.4 0.7 2.9 0.7 0.2 0.7 1.7 0.7 3.4 0.7 2.8 0.7 -1.5 0.7 -3 0.7 -4.2 0.7 -7.7 0.7 -7.8 0.7 -0.9 0.7 7.2 0.7 5.3 0.7 5.5 0.7 3.5 0.7 -0.5 0.7 0.5 0.7 1.4 0.7 2.5 0.7 2.3 0.7 -1.8 0.7 -0.6 0.7 -3.5 0.7 0.8 0.7 1.9 0.7 -2 0.7 -0.5 0.7 -2.9 0.7 0.5 0.7 1.9 0.7 0.2 0.7 -1.4 0.7 -0.7 0.7 0.7 0.7 -1.9 0.7 0.3 0.7 -0.4 0.7 0.7 0.7 1.3 0.7 0.5 0.7 -1.5 0.7 -1.7 0.7 1.8 0.7 0.3 0.7 0.3 0.7 -2.9 0.7 -3.7 0.7 -0.2 0.7 1.6 0.7 2.3 0.7 -2.8 0.7 -4.5 0.7 -6.1 0.7 2.1 0.7 1.4 0.7 1.7 0.7 1.2 0.7 2.7 0.7 -1.5 0.7 0.1 0.7 -1.3 0.7 -1.4 0.7 -0.1 0.7 1.3 0.7 -1.9 0.7 1.1 0.7 -1.4 0.7 -1.9 0.7 0.4 0.7 1.3 0.7 0.7 0.7 -0.8 0.7 -4.3 0.7 -3.6 0.7 -1.7 0.7 0.7 0.7 -0.7 0.7 3.8 0.7 -0.6 0.7 0.8 0.7 -0.2 0.7 -0.9 0.7 1 0.7 1.2 0.7 2 0.7 -1.6 0.7 0.1 0.7 0 0.7 -1.2 0.7 -1.6 0.7 -0.7 0.7 -0.3 0.7 0.4 0.7 2.7 0.7 0.5 0.7 0.8 0.7 -1.8 0.7 0.1 0.7 -1.7 0.7 -0.9 0.7 0.5 0.7 2.5 0.7 -2.2 0.7 -0.5 0.7 1.3 0.7 -0.7 0.7 -1.2 0.7 0.8 0.7 -2.6 0.7 1.5 0.7 0.9 0.7 4.2 0.7 1.1 0.7 4 0.7 0.3 0.7 -0.9 0.7 -2.2 0.7 -1.2 0.7 -1.2 0.7 -0.7 0.7 -3.3 0.7 -2.2 0.7 1.7 0.7 -0.9 0.7 -2.3 0.7 0.4 0.7 -0.2 0.7 -0.3 0.7 -1.7 0.7 1.8 0.7 0.3 0.7 2.8 0.7 0.7 0.7 -2.2 0.7 -0.6 0.7 -1 0.7 -1 0.7 0.9 0.7 0.2 0.7 -1.8 0.7 -2.4 0.7 -1 0.7 1.4 0.7 2.4 0.7 -0.8 0.7 -2.5 0.7 -0.3 0.7 0.9 0.7 -1.9 0.7 -0.6 0.7 -0.6 0.7 0.5 0.7 -0.7 0.7 2 0.7 2 0.7 1.1 0.7 0.5 0.7 0.7 0.7 4.3 0.7 1.1 0.7 4.4 0.7 1.3 0.7 2.6 0.7 1.1 0.7 -1.9 0.7 -0.6 0.7 -0.4 0.7 0.6 0.7 -0.4 0.7 -1.7 0.7 -0.8 0.7 -0.3 0.7 -2.2 0.7 -3 0.7 -0.9 0.7 1 0.7 3 0.7 1.6 0.7 1.9 0.7 -1.7 0.7 1.4 0.7 -3.8 0.7 -0.6 0.7 -2.7 0.7 0.5 0.7 0 0.7 0.3 0.7 1.3 0.7 0.5 0.7 2.4 0.7 0.9 0.7 6.5 0.7 1.6 0.7 1.4 0.7 -0.1 0.7 4.4 0.7 -3.8 0.7 0.2 0.7 -3 0.7 -0.1 0.7 0.7 0.7 -0.8 0.7 -2.4 0.7 1.2 0.7 2 0.7 -1.3 0.7 3.1 0.7 -1.4 0.7 2.1 0.7 -0.4 0.7 1.2 0.7 -1.3 0.7 -0.1 0.7 -0.2 0.7 -0.9 0.7 -0.1 0.7 -1.3 0.7 -0.4 0.7 -0.5 0.7 -2.5 0.7 -0.7 0.7 -2 0.7 -0.3 0.7 -2.1 0.7 1.1 0.7 1.5 0.7 0.3 0.7 0.4 0.7 -0.3 0.7 -2.9 0.7 1.1 0.7 -0.5 0.7 -1.1 0.7 -1.3 0.7 2 0.7 0.7 0.7 2.4 0.7 -1.1 0.7 -1.9 0.7 -1 0.7 -0.4 0.7 0.1 0.7 -1 0.7 1.6 0.7 -2.4 0.7 1.2 0.7 0.6 0.7 0.5 0.7 0.2 0.7 1.8 0.7 1.5 0.7 1.2 0.7 0 0.7 0.9 0.7 1.1 0.7 1 0.7 -3.7 0.7 0.3 0.7 -0.5 0.7 -2 0.7 2.9 0.7 0.7 0.7 -1.6 0.7 0.3 0.7 0 0.7 -1.7 0.7 0 0.7 -1.4 0.7 -0.1 0.7 0.1 0.7 -0.6 0.7 1.8 0.7 -0.8 0.7 0 0.7 2 0.7 0.4 0.7 -0.1 0.7 -0.2 0.7 -0.9 0.7 -0.2 0.7 1.3 0.7 -0.6 0.7 -0.4 0.7 0.4 0.7 -0.4 0.7 0 0.7 0.9 0.7 0.8 0.7 -0.8 0.7 -0.2 0.7 -0.5 0.7 0.6 0.7 0.8 0.7 -1 0.7 0.6 0.7 0.2 0.7 0.6 0.7 -1.5 0.7 -0.7 0.7 -1 0.7 3.1 0.7 -1.4 0.7 0.1 0.7 0.7 0.7 1.6 0.7 0.6 0.7 -0.1 0.7 -1.9 0.7 1.5 0.7 -0.8 0.7 -1.1 0.7 -1.1 0.7 -1.2 0.7 0 0.7 -2 0.7 1.5 0.7 -0.8 0.7 0.8 0.7 1.6 0.7 1.6 0.7 1.1 0.7 1.2 0.7 0.9 0.7 -0.7 0.7 1.3 0.7 3.5 0.7 -2.2 0.7 -0.9 0.7 -1.3 0.7 2.2 0.7 0.2 0.7 3 0.7 0.6 0.7 -1.5 0.7 2.5 0.7 0.2 0.7 0.4 0.7 -0.5 0.7 -0.7 0.7 0.1 0.7 0.4 0.7 -0.4 0.7 -0.4 0.7 1.9 0.7 -1.3 0.7 -1.3 0.7 0.7 0.7 -0.5 0.7 -1.8 0.7 0.2 0.7 -1.5 0.7 -1.8 0.7 1.4 0.7 -0.5 0.7 -0.5 0.7 -1.1 0.7 -0.6 0.7 1.3 0.7 0.9 0.7 1 0.7 0.6 0.7 0 0.7 -0.8 0.7 0.5 0.7 -1.3 0.7 1.5 0.7 -0.3 0.7 0.3 0.7 -0.7 0.7 0.7 0.7 -1.8 0.7 1.3 0.7 0.1 0.7 0.5 0.7 -0.9 0.7 1 0.7 -0.8 0.7 1.5 0.7 -0.9 0.7 -0.2 0.7 -2.4 0.7 0.1 0.7 -1 0.7 -2.9 0.7 1.9 0.7 -1.7 0.7 -0.8 0.7 2.3 0.7 -0.3 0.7 -2.4 0.7 2.6 0.7 0.7 0.7 2.9 0.7 2 0.7 3.4 0.7 -2.8 0.7 -5.1 0.7 -0.4 0.7 -0.6 0.7 -0.3 0.7 1.5 0.7 -0.4 0.7 -3.3 0.7 -2.3 0.7 -0.2 0.7 0 0.7 4 0.7 0.7 0.7 2.1 0.7 2 0.7 2 0.7 -0.8 0.7 1.2 0.7 1.9 0.7 1.2 0.7 -0.4 0.7 0.8 0.7 2.1 0.7 0.2 0.7 -0.7 0.7 0.2 0.7 -0.9 0.7 -1.1 0.7 -0.5 0.7 -0.4 0.7 -3.3 0.7 -2.1 0.7 -2.7 0.7 1.8 0.7 3.9 0.7 -1 0.7 -0.4 0.7 -0.6 0.7 -1.9 0.7 -0.7 0.7 0.9 0.7 -2.9 0.7 2.4 0.7 -0.7 0.7 3.2 0.7 -0.3 0.7 -1.4 0.7 -1.2 0.7 0.5 0.7 1.2 0.7 4.1 0.7 -1.3 0.7 -1.1 0.7 -1.9 0.7 0.3 0.7 1.3 0.7 0.3 0.7 0.1 0.7 0.3 0.7 1.6 0.7 0.4 0.7 1.2 0.7 -0.9 0.7 -1.7 0.7 -1.7 0.7 -2.1 0.7 -1.3 0.7 -4 0.7 -1.9 0.7 3 0.7 1.5 0.7 1 0.7 0.4 0.7 1.4 0.7 0.6 0.7 -3.4 0.7 -2.1 0.7 -4.1 0.7 -2.1 0.7 -1.2 0.7 5.3 0.7 0.1 0.7 1.4 0.7 0.3 0.7 -3.1 0.7 -2.7 0.7 -2 0.7 -2.2 0.7 0 0.7 -1.7 0.7 -1.3 0.7 0.3" stroke="#ff3838" stroke-width="0.9" fill="none" stroke-linejoin="round" />
<path d="M668.6 78.1l0.7 0.1 0.7 -0.3 0.7 -1.9 0.7 2.1 0.7 -2.1 0.7 2.3 0.7 -0.3 0.7 0.1 0.7 -0.2 0.7 -0.5 0.7 -0.8 0.7 0.1 0.7 1.5 0.7 -1.6 0.7 0.3 0.7 -0.4 0.7 0.3 0.7 0.2 0.7 0.5 0.7 -0.4 0.7 0.1 0.7 -0.1 0.7 0.7 0.7 -1.1 0.7 1.3 0.7 1.1 0.7 -1.4 0.7 0.9 0.7 2.5 0.7 -2.7 0.7 -0.3 0.7 1.3 0.7 2.1 0.7 -0.1 0.7 -3 0.7 1 0.7 -0.9 0.7 -0.9 0.7 -1.6 0.7 2 0.7 -2 0.7 0.4 0.7 -0.6 0.7 0.9 0.7 -1 0.7 -2.4 0.7 0.1 0.7 0.4 0.7 -2.5 0.7 0.2 0.7 -0.1 0.7 -2.1 0.7 -0.3 0.7 -0.9 0.7 1.3 0.7 -0.2 0.7 1.7 0.7 2.6 0.7 3.8 0.7 3 0.7 3.5 0.7 1 0.7 0.9 0.7 3.4 0.7 1.5 0.7 2.1 0.7 -1.2 0.7 0.3 0.7 0 0.7 -1.3 0.7 2.7 0.7 2.2 0.7 -0.5 0.7 -1.1 0.7 1.6 0.7 -1.9 0.7 -0.8 0.7 -1 0.7 -0.7 0.7 -0.4 0.7 -2.8 0.7 0.3 0.7 -1.2 0.7 -1.1 0.7 -4.6 0.7 -0.7 0.7 -3.6 0.7 -2.1 0.7 -4.7 0.7 -1.6 0.7 -3.2 0.7 -4.4 0.7 -0.9 0.7 0.8 0.7 0.6 0.7 4 0.7 3.7 0.7 0.6 0.7 -4.1 0.7 -5.7 0.7 -5.3 0.7 4.4 0.7 1.7 0.7 3.3 0.7 3 0.7 2.9 0.7 4.1 0.7 -2.7 0.7 -1.5 0.7 -3.1 0.7 -0.4 0.7 3.1 0.7 3.9 0.7 0.6 0.7 -2.8 0.7 -6.6 0.7 -5.4 0.7 -3.9 0.7 3 0.7 4.1 0.7 4.9 0.7 4.3 0.7 4 0.7 3.6 0.7 0.8 0.7 3.3 0.7 4.3 0.7 7.1 0.7 4.3 0.7 3 0.7 0 0.7 -1.1 0.7 -1.1 0.7 -1 0.7 -1.8 0.7 -3.8 0.7 -4.6 0.7 -6.1 0.7 -4.2 0.7 2.6 0.7 2.7 0.7 -1.4 0.7 -1.7 0.7 -1 0.7 0.3 0.7 4.3 0.7 1.7 0.7 -2.3 0.7 -0.6 0.7 0.3 0.7 2.7 0.7 1.6 0.7 2.6 0.7 -1.2 0.7 3.3 0.7 0.9 0.7 0.8 0.7 1 0.7 0.3 0.7 1.6 0.7 -0.8 0.7 1.8 0.7 2.5 0.7 3.7 0.7 2.9 0.7 0.9 0.7 2.2 0.7 -4.6 0.7 -3.6 0.7 -12.2 0.7 -15.9 0.7 -1.9 0.7 6.6 0.7 4.4 0.7 3.4 0.7 1 0.7 -1.3 0.7 1.7 0.7 0.6 0.7 -0.7 0.7 -1.4 0.7 -0.9 0.7 0.8 0.7 0 0.7 1.5 0.7 -0.1 0.7 -3 0.7 -0.8 0.7 -5.3 0.7 -0.4 0.7 -0.7 0.7 -2.7 0.7 -1.2 0.7 -2.7 0.7 -2.7 0.7 -1.1 0.7 0.8 0.7 -3.3 0.7 0 0.7 -0.9 0.7 1.7 0.7 0.8 0.7 1.5 0.7 -0.4 0.7 2.7 0.7 -0.2 0.7 -0.3 0.7 0.2 0.7 -6.8 0.7 -5.8 0.7 -4.1 0.7 -5.9 0.7 -0.2 0.7 3.9 0.7 2.7 0.7 2.6 0.7 2.1 0.7 4.8 0.7 5.2 0.7 1 0.7 0.9 0.7 0.5 0.7 0.6 0.7 -0.2 0.7 -1.6 0.7 -2.1 0.7 -2.9 0.7 -1.2 0.7 -4 0.7 1 0.7 6.1 0.7 1.6 0.7 1.6 0.7 -1.1 0.7 -1 0.7 0.5 0.7 3.3 0.7 2.7 0.7 2.3 0.7 1.4 0.7 1.4 0.7 0.5 0.7 -5.2 0.7 -3.4 0.7 3.2 0.7 2.5 0.7 -0.1 0.7 1.3 0.7 -0.4 0.7 1.1 0.7 -1.2 0.7 -1.1 0.7 -0.3 0.7 1.3 0.7 1.4 0.7 -1.8 0.7 -1.4 0.7 -0.5 0.7 -3.6 0.7 -3 0.7 -1.6 0.7 3 0.7 7.4 0.7 5.9 0.7 4.3 0.7 1.4 0.7 6.5 0.7 4.4 0.7 4.1 0.7 -1.4 0.7 -1.6 0.7 -2.7 0.7 -3.1 0.7 -2.1 0.7 -2.6 0.7 -4.4 0.7 2.3 0.7 4 0.7 4.9 0.7 4.2 0.7 2.3 0.7 2.1 0.7 0.5 0.7 0.2 0.7 0.5 0.7 1.1 0.7 -0.8 0.7 -1.7 0.7 -3.1 0.7 -5.3 0.7 -3.7 0.7 0.5 0.7 2.3 0.7 1.8 0.7 1.9 0.7 -3.1 0.7 -3.9 0.7 -3.7 0.7 -2.2 0.7 -4 0.7 2.2 0.7 2.1 0.7 0.5 0.7 -3.3 0.7 -5.2 0.7 -2.2 0.7 2.3 0.7 2.8 0.7 -0.2 0.7 -1.7 0.7 -1.9 0.7 -1.2 0.7 0.6 0.7 -0.4 0.7 -1.2 0.7 -4.7 0.7 10.3 0.7 5.9 0.7 -8.9 0.7 2.7 0.7 10.3 0.7 -7.5 0.7 -15.6 0.7 -5.8 0.7 -4.1 0.7 0.7 0.7 1 0.7 -1.2 0.7 -0.7 0.7 -2 0.7 -0.4 0.7 -5.3 0.7 -0.6 0.7 8 0.7 0.4 0.7 -1.5 0.7 0 0.7 -3 0.7 3.1 0.7 0.6 0.7 1.2 0.7 0.9 0.7 4.3 0.7 1.6 0.7 0.2 0.7 0.8 0.7 -0.5 0.7 -1 0.7 -4.4 0.7 -2.9 0.7 -1.2 0.7 -2.5 0.7 0 0.7 -0.9 0.7 0.6 0.7 -0.5 0.7 0.3 0.7 0 0.7 -0.3 0.7 -0.1 0.7 -0.4 0.7 1.5 0.7 -0.3 0.7 0 0.7 2 0.7 0.2 0.7 0.7 0.7 0.3 0.7 -1.4 0.7 0 0.7 0.5 0.7 -0.2 0.7 0 0.7 -1.7 0.7 0.4 0.7 0.2 0.7 0.6 0.7 -3 0.7 1.9 0.7 -1.9 0.7 -1.3 0.7 1.9 0.7 -2.3 0.7 0.4 0.7 2.2 0.7 0.8 0.7 -0.4 0.7 -1.1 0.7 -1.1 0.7 0.8 0.7 -2.3 0.7 0.4 0.7 1.6 0.7 -0.3 0.7 2 0.7 1 0.7 0.3 0.7 1.6 0.7 -2.3 0.7 1.5 0.7 0 0.7 -1.3 0.7 4.8 0.7 2.3 0.7 2.6 0.7 0.8 0.7 3.7 0.7 3 0.7 -2.1 0.7 0.7 0.7 -0.5 0.7 -1.3 0.7 1.2 0.7 -1.9 0.7 1.5 0.7 4.9 0.7 2.8 0.7 6.4 0.7 -1.7 0.7 0.7 0.7 2.7 0.7 0.6 0.7 -0.4 0.7 0.8 0.7 2.1 0.7 0.3 0.7 1.3 0.7 1.5 0.7 0.1 0.7 2.6 0.7 0.1 0.7 1.4 0.7 -0.5 0.7 2.1 0.7 -1.7 0.7 -0.4 0.7 -3.9 0.7 0 0.7 -1.9 0.7 -0.6 0.7 -1.2 0.7 0.3 0.7 -2.1 0.7 0.9 0.7 2 0.7 0.1 0.7 1.1 0.7 0 0.7 2.2 0.7 3.2 0.7 1.6 0.7 -0.1 0.7 -1.2 0.7 -2.1 0.7 -0.1 0.7 -0.3 0.7 -0.8 0.7 0.7 0.7 0.1 0.7 2 0.7 -0.6 0.7 0.6 0.7 2.2 0.7 1 0.7 0.8 0.7 -0.2 0.7 0.3 0.7 2.5 0.7 2.1 0.7 -0.9 0.7 -3.8 0.7 -4.4 0.7 -1.9 0.7 3 0.7 -2.5 0.7 -4.6 0.7 -2.9 0.7 -2.4 0.7 -4.1 0.7 -1.4 0.7 -2.8 0.7 -3.3 0.7 -2.9 0.7 -2.2 0.7 -3.1 0.7 0.6 0.7 -2.4 0.7 -2.3 0.7 -0.7 0.7 -0.1 0.7 -0.2 0.7 0 0.7 0.9 0.7 -0.6 0.7 1.4 0.7 2.1 0.7 1 0.7 3.5 0.7 -0.8 0.7 0.8 0.7 0.4 0.7 -0.2 0.7 2.1 0.7 0.9 0.7 0.1 0.7 -2 0.7 3.9 0.7 -0.8 0.7 0 0.7 0.4 0.7 -0.1 0.7 0.7 0.7 0.5 0.7 -1.8 0.7 0.7 0.7 -1 0.7 0.1 0.7 0.1 0.7 0.6 0.7 0.7 0.7 -0.7 0.7 0.6 0.7 0.3 0.7 -2.6 0.7 1.5 0.7 -1.1 0.7 0.5 0.7 1.4 0.7 -0.5 0.7 0.2 0.7 1.9 0.7 -0.4 0.7 -0.8 0.7 1.7 0.7 -3.3 0.7 -1.1 0.7 0.1 0.7 -1.9 0.7 0.1 0.7 0 0.7 1.1 0.7 1.6 0.7 -0.1 0.7 -1.4 0.7 0.3 0.7 0.5 0.7 1.1 0.7 2.9 0.7 3.1 0.7 2.2 0.7 2.1 0.7 -1.4 0.7 -0.1 0.7 -0.2 0.7 1 0.7 1.2 0.7 0.2 0.7 -1.2 0.7 -2.3 0.7 0.2 0.7 -0.8 0.7 1.7 0.7 -0.5 0.7 -1.9 0.7 -0.1 0.7 5.3 0.7 3.7 0.7 3.6 0.7 -3.5 0.7 -1.6 0.7 -1.8 0.7 11.1 0.7 8.6 0.7 1 0.7 -2.9 0.7 -1 0.7 -5.2 0.7 -4.5 0.7 -0.9 0.7 -1 0.7 -2.2 0.7 0.8 0.7 3.9 0.7 2.4 0.7 -0.1 0.7 -1.4 0.7 -1.1 0.7 0.6 0.7 0.6 0.7 -0.1 0.7 1.1 0.7 1.5 0.7 -0.9 0.7 -2 0.7 -1.1 0.7 2.6 0.7 0.2 0.7 2.2 0.7 -0.2 0.7 1.5 0.7 0.9 0.7 1.3 0.7 -4.3 0.7 -4.9 0.7 -2.5 0.7 -4.3 0.7 -3.2 0.7 4.8 0.7 3.3 0.7 1.6 0.7 -5 0.7 -5.1 0.7 -3.1 0.7 3.7 0.7 4.9 0.7 -2.2 0.7 -1.7 0.7 -1.6 0.7 1.6 0.7 3.7 0.7 3.4 0.7 -2 0.7 -0.2 0.7 -2.9 0.7 -2.8 0.7 -0.8 0.7 -0.2 0.7 -0.5 0.7 -2.5 0.7 -6 0.7 -4 0.7 -3.1 0.7 -2 0.7 -4 0.7 -1.1 0.7 3.9 0.7 5.6 0.7 6.8 0.7 6.2 0.7 4.8 0.7 -0.4 0.7 1.6 0.7 1.7 0.7 2.5 0.7 -0.7 0.7 2.8 0.7 1.4" stroke="#3838ff" stroke-width="0.9" fill="none" stroke-linejoin="round" />
<path d="M668.3 75.8L1122.4 75.8" stroke="#000" stroke-width="1.2" stroke-dasharray="3.8 2.2" fill="none" />
</g>
<path d="M674.6 54.6L691.8 54.6" stroke="#3838ff" stroke-width="1.0" fill="none" />
<text x="693.7" y="57.9" font-size="9.3" fill="#3838ff" xml:space="preserve">B<tspan font-size="6.9" dy="3.4">L</tspan></text>
<path d="M674.6 79.4L691.8 79.4" stroke="#38f038" stroke-width="1.0" fill="none" />
<text x="693.7" y="82.7" font-size="9.3" fill="#38f038" xml:space="preserve">B<tspan font-size="6.9" dy="3.4">M</tspan></text>
<path d="M674.6 103.9L691.8 103.9" stroke="#ff3838" stroke-width="1.0" fill="none" />
<text x="693.7" y="107.2" font-size="9.3" fill="#ff3838" xml:space="preserve">B<tspan font-size="6.9" dy="3.4">N</tspan></text>
<clipPath id="cl4"><rect x="71.6" y="313.2" width="454" height="68.3"/></clipPath><g clip-path="url(#cl4)">
<path d="M71.9 376.7l1 -0.1 1 -0.2 1 0 1 -0.7 1 0.8 1 0 1 -0.1 1 0.2 1 0.1 1 0.3 1 0.7 1 0 1 -0.3 1 -0.3 1 0.3 1 -0.8 1 -1 1 -0.8 1 -1.2 1 -0.9 1 -0.7 1 -1.2 1 -0.6 1 -0.5 1 -0.1 1 -0.6 1 -0.2 1 0.2 1 -1.2 1 -0.4 1 0 1 -0.4 1 0 1 0.7 1 0.4 1 -0.2 1 0.8 1 0.1 1 0.3 1 0.9 1 0.8 1 -0.1 1 0.9 1 -0.4 1 -0.9 1 -1.2 1 -1.4 1 -1.2 1 -1.7 1 -1.4 1 -0.1 1 0.4 1 0.4 1 0.1 1 0 1 0.7 1 1.5 1 -0.5 1 -1.2 1 -0.7 1 -1.6 1 -2.5 1 -2.5 1 0.5 1 2.4 1 2.8 1 2.4 1 0.3 1 0.3 1 0.4 1 0.3 1 1.1 1 1.4 1 -0.4 1 -1.7 1 -0.5 1 0.5 1 -1.1 1 -0.6 1 -0.3 1 1.3 1 0.3 1 -0.4 1 0.9 1 1.1 1 -1.6 1 -2.1 1 -1.8 1 -3.7 1 -2.6 1 -1.8 1 -1 1 -5.5 1 -2.6 1 -1.4 1 -4.6 1 -4.8 1 -1.1 1 1.8 1 4 1 5 1 1.3 1 1 1 4.2 1 1.1 1 -3.5 1 -4.8 1 -3.4 1 1.2 1 1.5 1 3.4 1 2.4 1 3.1 1 0.9 1 -0.8 1 -6 1 -6.5 1 0 1 11.4 1 3.8 1 -2.3 1 -3.6 1 -7.8 1 -8.2 1 -5.9 1 -2 1 0.9 1 -1.7 1 -3 1 -1.5 1 0.3 1 2.2 1 2.1 1 3.7 1 3.4 1 6.1 1 6.1 1 0.7 1 -2.7 1 -0.3 1 0.1 1 -1.9 1 -0.7 1 -1 1 -1.1 1 4.7 1 3 1 1.7 1 0.8 1 0 1 -0.5 1 -0.6 1 0.1 1 -0.4 1 0.7 1 1.9 1 3.2 1 3 1 -0.9 1 -0.6 1 -1.4 1 -2.2 1 -1.8 1 -1.4 1 0.9 1 0.9 1 0 1 1.9 1 0.4 1 -0.3 1 -0.1 1 -0.4 1 -0.3 1 1.4 1 1.8 1 3.6 1 2.9 1 -0.6 1 -3.2 1 -2.1 1 1.7 1 5.3 1 2.4 1 1.2 1 -2.2 1 -3.9 1 -4.5 1 -3.5 1 -1.4 1 -0.6 1 -3.2 1 -3.2 1 -3.5 1 1 1 2.7 1 0.6 1 1.7 1 2.1 1 1.4 1 -1.2 1 -1.6 1 -2.7 1 -3.5 1 -1.3 1 6.2 1 2 1 -5.9 1 -11.2 1 3.7 1 3.1 1 3.3 1 5.4 1 5.3 1 -0.2 1 0.3 1 0.3 1 0 1 0.6 1 1.7 1 -0.6 1 1.4 1 -0.9 1 1.8 1 1.2 1 -4.4 1 -7.8 1 -6.9 1 -2.4 1 0.6 1 0.2 1 -2.2 1 0.5 1 1.7 1 -1.2 1 0.7 1 1.7 1 4 1 3.8 1 2.5 1 2 1 2.8 1 2.7 1 3.2 1 0.4 1 0.2 1 -4.3 1 -4.8 1 -3.3 1 -2.8 1 0.6 1 0.1 1 1.1 1 0.6 1 0.7 1 -1.4 1 -1.6 1 -0.2 1 0.6 1 1.8 1 0.4 1 1.3 1 -0.6 1 -0.9 1 -0.2 1 -1.3 1 0.8 1 2.5 1 2.8 1 1.2 1 -0.2 1 0.6 1 0.9 1 -2.8 1 -1.9 1 -0.6 1 -0.1 1 1.2 1 -0.6 1 -1.6 1 -1.1 1 1.2 1 1.9 1 3.3 1 2 1 0.7 1 1.3 1 -0.1 1 -0.3 1 0.4 1 0.4 1 2.7 1 3.1 1 -0.4 1 -1.2 1 -0.9 1 -1.3 1 -1 1 -2.3 1 -1.6 1 -1.3 1 0.2 1 1.1 1 1.9 1 1 1 1.1 1 1.5 1 0.6 1 0.3 1 0.2 1 1.3 1 1 1 0.4 1 -1.9 1 -2.6 1 -2.2 1 -1.8 1 0.9 1 2.1 1 1.6 1 0.7 1 0 1 -0.9 1 -1.9 1 -1.1 1 -0.7 1 -3.1 1 -3.9 1 -2.1 1 -1.8 1 1.9 1 2.7 1 2 1 1 1 1 1 1.2 1 0.3 1 0 1 0.7 1 0.1 1 0 1 -0.6 1 0.4 1 0.5 1 -0.1 1 -1.6 1 -0.9 1 -0.1 1 0.9 1 2.1 1 2.1 1 2 1 1.9 1 0.8 1 1.7 1 1.2 1 2.1 1 1.9 1 1.6 1 1.3 1 -0.6 1 -1.1 1 -2.5 1 -2.5 1 -2.7 1 -2.4 1 -1.8 1 -1.9 1 0 1 -1 1 0.5 1 1.2 1 1.7 1 1.7 1 0.8 1 1.1 1 1.5 1 1 1 -0.2 1 0.2 1 -2.1 1 -0.8 1 -2.3 1 -1.5 1 -2 1 -1.5 1 -3.6 1 -4.8 1 -3.7 1 -2.9 1 -1.8 1 -2 1 -1 1 -2.8 1 -3.6 1 -5.8 1 -2 1 -0.7 1 5.2 1 7.2 1 6.8 1 -1 1 -9.6 1 -5.2 1 4.6 1 8.1 1 0.7 1 -1.3 1 -1.8 1 -0.8 1 1.1 1 1.3 1 0.3 1 0.6 1 0.2 1 1.2 1 3.1 1 0.7 1 -1.6 1 -2.7 1 -3.2 1 -0.4 1 1.6 1 -1.5 1 -2.5 1 -2.2 1 -0.2 1 -1 1 -0.8 1 -2.1 1 -2.8 1 -2.1 1 -0.6 1 3 1 6.2 1 1.4 1 1.1 1 0.2 1 -0.1 1 0.9 1 1.6 1 1.2 1 1.1 1 -0.3 1 -1.6 1 3.2 1 2.5 1 1.9 1 0.6 1 0.2 1 -0.8 1 0 1 1.5" stroke="#333" stroke-width="0.95" fill="none" stroke-linejoin="round" />
</g>
<path d="M77 316.7L92.3 316.7" stroke="#20b020" stroke-width="1.2" stroke-dasharray="4 2" fill="none" />
<text x="93.6" y="320" font-size="9.3" fill="#60a000" xml:space="preserve">t  HT</text>
<path d="M77 323.8L92.3 323.8" stroke="#30b8ff" stroke-width="1.2" stroke-dasharray="1.2 1.2" fill="none" />
<text x="93.6" y="327.1" font-size="9.3" fill="#20a0ff" xml:space="preserve">t  vmax</text>
<path d="M77 331L92.3 331" stroke="#ff0000" stroke-width="1.2" stroke-dasharray="4 2" fill="none" />
<text x="93.6" y="334.3" font-size="9.3" fill="#ff0000" xml:space="preserve">t  cs</text>
<path d="M77 337.8L92.3 337.8" stroke="#0000ff" stroke-width="1.2" stroke-dasharray="1.2 1.2" fill="none" />
<text x="93.6" y="341.1" font-size="9.3" fill="#0000ff" xml:space="preserve">t  dvmax</text>
<path d="M77 344.8L92.3 344.8" stroke="#333" stroke-width="1.0" fill="none" />
<text x="93.6" y="348.1" font-size="9.3" fill="#b09040" xml:space="preserve">|V<tspan font-size="6.9" dy="3.4">i</tspan></text>
<clipPath id="cl5"><rect x="71.6" y="381.5" width="454" height="68.5"/></clipPath><g clip-path="url(#cl5)">
<path d="M71.9 404.1l1 -0.2 1 0.2 1 0.3 1 -0.5 1 -0.2 1 0 1 0.8 1 -0.7 1 -0.2 1 0.2 1 0.1 1 0 1 0.5 1 -0.7 1 -0.4 1 0.9 1 -0.4 1 -0.1 1 -0.3 1 -0.1 1 0.7 1 -0.9 1 0.2 1 -0.1 1 1.1 1 -0.1 1 0 1 0.7 1 0.7 1 -0.5 1 0.3 1 0.9 1 0.4 1 0.1 1 0.7 1 0.5 1 0.6 1 -0.4 1 1 1 0.1 1 0.6 1 -1.1 1 0.6 1 -0.6 1 0.1 1 -1.3 1 -0.2 1 -0.1 1 -0.2 1 -0.4 1 -0.7 1 1 1 -0.8 1 0.4 1 0.2 1 -0.3 1 0.4 1 -0.6 1 0.4 1 -0.3 1 -0.4 1 0.2 1 -0.4 1 0.4 1 -1 1 -0.7 1 0 1 0.9 1 2 1 1.1 1 0.7 1 0.4 1 1.8 1 0.1 1 0.1 1 1.3 1 -0.9 1 0.6 1 -0.6 1 -1 1 -0.3 1 -0.3 1 1.5 1 -0.9 1 -0.8 1 -1 1 -1.8 1 -1.6 1 -1.7 1 -1.9 1 -2.7 1 -2.2 1 -2.1 1 0.2 1 2.9 1 3 1 1.2 1 0.7 1 0.6 1 3.9 1 1.7 1 2.3 1 -0.4 1 -0.1 1 -3.1 1 -1.6 1 -1.9 1 -1.2 1 1.9 1 0.7 1 -0.5 1 1.4 1 1.2 1 -0.6 1 -3.1 1 -5.8 1 -5.3 1 -1.5 1 5.5 1 4.6 1 4.8 1 4 1 2.4 1 0.4 1 -1.9 1 -3.9 1 -5.1 1 -1.2 1 -0.5 1 0.6 1 3 1 3.4 1 3.5 1 1.8 1 -0.2 1 -0.1 1 -0.6 1 -0.1 1 0.1 1 0.5 1 -0.2 1 -0.3 1 -1.1 1 -1.5 1 -1.4 1 -2.9 1 -2.3 1 -2.3 1 -2 1 -1.4 1 -0.4 1 0.3 1 1.2 1 1.4 1 1.1 1 1.3 1 0.5 1 0.7 1 0.3 1 0.8 1 1 1 0.8 1 -0.2 1 0.4 1 0.4 1 -0.5 1 0.1 1 0 1 1 1 1 1 -0.2 1 0.2 1 -0.5 1 -0.3 1 0.3 1 1.3 1 0.3 1 -0.8 1 -0.8 1 0.2 1 -1.2 1 -0.8 1 -0.9 1 0.2 1 0.5 1 -1.4 1 -3.9 1 -1.7 1 1 1 3 1 2.7 1 0.7 1 -1.1 1 0.2 1 1.3 1 -2.3 1 -1.4 1 -1.6 1 -2.5 1 1.1 1 1.2 1 2.8 1 2.3 1 0.5 1 -1.3 1 -4.5 1 -6.3 1 -3.8 1 -0.6 1 1.8 1 2 1 2.3 1 2.4 1 -0.2 1 1.4 1 -0.3 1 0 1 2 1 2.1 1 1.7 1 0.3 1 -0.7 1 0.7 1 1.7 1 -0.4 1 -0.2 1 0.2 1 0.1 1 -0.5 1 1.5 1 -0.8 1 -0.4 1 -1.3 1 -1 1 -0.2 1 0.1 1 -0.3 1 -0.2 1 0.9 1 0.2 1 1.1 1 0.6 1 0.1 1 -0.5 1 1 1 -0.1 1 -0.1 1 -0.4 1 0.7 1 0.2 1 -0.6 1 -0.3 1 -0.1 1 -0.9 1 -0.6 1 0.1 1 -1.6 1 1 1 -0.2 1 -0.1 1 1.6 1 1 1 0.5 1 1.2 1 1.2 1 -0.1 1 0.3 1 -2.2 1 -4 1 0.2 1 0.8 1 2.8 1 1 1 0.8 1 0.2 1 0.3 1 0.1 1 -0.3 1 -0.6 1 0.9 1 0.7 1 1.9 1 0.8 1 0.1 1 0.6 1 0.2 1 -1.5 1 -0.9 1 -1.1 1 -0.6 1 -0.3 1 -1 1 0.2 1 -0.2 1 0.1 1 -0.8 1 -2.2 1 -0.2 1 -0.4 1 0.9 1 -0.5 1 0.4 1 -0.2 1 0.5 1 1.5 1 1.3 1 0.2 1 -1.1 1 -0.1 1 -0.4 1 0.1 1 0.2 1 -0.3 1 -0.5 1 -0.9 1 -1.7 1 -0.6 1 1.6 1 0.9 1 1.3 1 0 1 -0.1 1 -2.2 1 -2.8 1 -2.1 1 -1.3 1 -1.7 1 0 1 -1.3 1 1.1 1 2 1 0.7 1 0.5 1 -1 1 -1 1 -0.2 1 1.2 1 -1.2 1 -0.4 1 -0.2 1 0.5 1 -1.1 1 0.9 1 0.8 1 -0.6 1 1.3 1 1 1 1.1 1 -0.3 1 0.7 1 -0.5 1 1.6 1 0.3 1 -0.1 1 0.8 1 -0.3 1 1.1 1 1.1 1 0.7 1 1.2 1 1.6 1 1.1 1 0.5 1 0.4 1 1.5 1 -0.1 1 0.7 1 0.4 1 0.5 1 0.3 1 0.3 1 -0.5 1 -0.5 1 0 1 -0.8 1 -1.4 1 -0.5 1 -2.3 1 -1.9 1 -2 1 -2 1 -2.2 1 -1.6 1 -1.6 1 -1 1 -1.1 1 -1.6 1 -2.3 1 -1.3 1 -0.8 1 -0.4 1 0 1 -0.6 1 -0.9 1 -2 1 -1.6 1 -1.3 1 1.5 1 4.5 1 5.1 1 0.3 1 -0.7 1 -1.5 1 0 1 1.3 1 -0.9 1 -1 1 -0.2 1 1.9 1 1.5 1 1.2 1 1.9 1 1 1 0.9 1 -0.6 1 -0.4 1 0.9 1 0 1 1.1 1 0.3 1 -2.6 1 0 1 2.7 1 1.7 1 1.4 1 -0.6 1 0.1 1 1.4 1 0.6 1 1 1 0.7 1 -0.2 1 -1.3 1 -3 1 -2.5 1 -2 1 -2.2 1 -0.5 1 2.3 1 1.5 1 0.1 1 0.4 1 -1.2 1 -1 1 4.1 1 3 1 -0.6 1 -1.1 1 -2.1 1 -0.9 1 -0.4 1 -0.7" stroke="#38f038" stroke-width="0.9" fill="none" stroke-linejoin="round" />
<path d="M71.9 417.9l1 0.2 1 0 1 0.1 1 0.2 1 0.2 1 0 1 0.1 1 -0.2 1 0.6 1 -0.1 1 0.5 1 0.2 1 -0.8 1 1 1 -0.5 1 0 1 0.3 1 0.3 1 0.4 1 0.7 1 -1.1 1 0.5 1 0.3 1 -0.1 1 -0.1 1 0.6 1 0.2 1 0.3 1 -0.2 1 0.3 1 -0.6 1 -0.1 1 -0.8 1 -0.6 1 1 1 -0.2 1 0.1 1 -0.1 1 0.1 1 0.2 1 0.5 1 -0.2 1 0.5 1 0.5 1 0.6 1 1.3 1 0 1 1.7 1 0.2 1 0.5 1 -0.2 1 0.3 1 0.2 1 -1.1 1 -0.1 1 -0.4 1 0 1 0 1 0.5 1 0.7 1 0.6 1 0.6 1 1.2 1 0.7 1 -1.1 1 -1 1 -1.7 1 -0.5 1 -0.1 1 -0.5 1 -0.3 1 -0.7 1 0 1 0.3 1 0.4 1 0.1 1 -0.2 1 0.4 1 0.1 1 0.8 1 -1 1 -0.3 1 0.2 1 -0.5 1 0.1 1 0.4 1 0.5 1 1.3 1 1.7 1 0.4 1 1 1 -0.5 1 0 1 2.1 1 2.7 1 2.1 1 1.4 1 1 1 -0.5 1 -1.1 1 -1.3 1 -1.8 1 0.9 1 -1.7 1 -1 1 1.2 1 2.1 1 1.6 1 -1.3 1 -0.6 1 -1 1 -1.4 1 -0.2 1 -1.4 1 1.1 1 -0.4 1 -1.3 1 -1 1 -0.2 1 1.3 1 2.4 1 3.1 1 3.3 1 2.5 1 1.2 1 0 1 0.2 1 0 1 1.8 1 0.7 1 -0.1 1 -0.3 1 -1.9 1 -1.4 1 -2.6 1 -2.4 1 -2 1 0.4 1 1.1 1 -0.1 1 0.5 1 -0.7 1 1.7 1 0.5 1 -1.1 1 -1.2 1 -2 1 -1 1 -0.4 1 -0.3 1 0.1 1 -1.1 1 0.5 1 0.2 1 0.2 1 -0.7 1 -1.2 1 -0.3 1 0.8 1 0.8 1 1.1 1 1.2 1 -0.1 1 1.2 1 -0.8 1 -0.4 1 -0.5 1 -0.3 1 0.1 1 -0.3 1 -0.5 1 -0.6 1 0.3 1 -0.2 1 -0.5 1 -1.8 1 -1.1 1 -1.1 1 0.6 1 1.4 1 -1 1 -1.6 1 -0.3 1 -0.5 1 0.7 1 0.6 1 -1.1 1 0.5 1 0.5 1 1.4 1 1.3 1 2.9 1 3.1 1 -0.2 1 -0.5 1 -1.2 1 -2.3 1 -2.2 1 -1.4 1 -1 1 -0.3 1 -2.6 1 2 1 2.3 1 0.7 1 0.1 1 -0.4 1 -1.4 1 0 1 -0.6 1 -0.2 1 1.9 1 1.4 1 0.8 1 0.3 1 1 1 0.3 1 -0.7 1 0.7 1 -1 1 0.5 1 -0.9 1 0.1 1 0.8 1 0.3 1 1.8 1 1.7 1 -0.4 1 1.4 1 -0.8 1 0 1 -0.2 1 0.1 1 0.1 1 -0.4 1 -0.7 1 -2.2 1 -0.4 1 -2 1 0.2 1 -0.7 1 -0.7 1 -0.5 1 0 1 0.2 1 1.7 1 1.3 1 1.5 1 0.8 1 0.9 1 -0.9 1 -1.2 1 -0.3 1 0 1 0.1 1 -0.5 1 -0.1 1 0.6 1 -1.1 1 0.8 1 -0.9 1 1.1 1 0.2 1 0.6 1 0.2 1 -0.6 1 -1 1 -1.1 1 -0.5 1 -0.6 1 1 1 -0.6 1 -0.7 1 1.2 1 -0.1 1 0.6 1 1 1 0.5 1 0.6 1 -0.6 1 -1.1 1 -0.6 1 -0.7 1 -0.7 1 0.2 1 -0.4 1 1 1 0.2 1 0 1 0 1 -0.8 1 -0.5 1 -0.8 1 0.7 1 0.5 1 -0.4 1 0.4 1 0.5 1 0.6 1 -0.2 1 -0.1 1 -1.1 1 -1.4 1 0.5 1 -0.1 1 0.1 1 0.5 1 -0.3 1 0.2 1 -0.3 1 -1 1 -0.1 1 0.3 1 0.6 1 0 1 0.3 1 -0.1 1 0.5 1 -0.8 1 -0.1 1 -0.1 1 -0.3 1 0.2 1 0.7 1 1.4 1 -0.6 1 0.6 1 0.4 1 -0.4 1 -0.1 1 -1.3 1 -0.3 1 0 1 -0.6 1 0.8 1 -0.1 1 0.5 1 0.8 1 0.4 1 0.6 1 -0.6 1 -0.7 1 -0.2 1 1.1 1 0.7 1 1 1 -0.4 1 -1 1 -0.3 1 -1 1 -1.6 1 0.1 1 -1 1 -0.4 1 -0.7 1 -0.8 1 -0.2 1 -0.5 1 -0.2 1 0.2 1 0.9 1 0.7 1 1 1 0.9 1 0.9 1 -0.4 1 1.3 1 -0.3 1 0.7 1 0 1 -0.3 1 -0.8 1 -0.8 1 0.1 1 -0.5 1 0.4 1 -0.3 1 0 1 -0.1 1 -0.1 1 0.6 1 0.4 1 0.7 1 0.1 1 0.6 1 0.1 1 1.3 1 0.7 1 2 1 0.8 1 0.2 1 1.1 1 0.7 1 1.9 1 0.8 1 -0.3 1 -1.2 1 -0.5 1 -1.1 1 -0.6 1 1.5 1 1.8 1 0.6 1 -0.5 1 -2 1 -0.3 1 -0.2 1 0.8 1 0.9 1 0.5 1 0 1 -0.4 1 -0.4 1 -0.9 1 0 1 -1.1 1 0.3 1 1.1 1 1.4 1 0.3 1 0.4 1 -0.2 1 0.8 1 1 1 1.7 1 0.9 1 -0.1 1 1.5 1 1.8 1 0.4 1 0.7 1 -1.9 1 -1.5 1 -1.1 1 -1.5 1 -2.1 1 -0.4 1 1 1 -0.3 1 -0.6 1 -0.1 1 -0.4 1 -0.1 1 -0.3 1 -0.5 1 -0.3 1 -1.2 1 0.2 1 -0.5 1 0.1 1 0.2 1 -0.6" stroke="#ff3838" stroke-width="0.9" fill="none" stroke-linejoin="round" />
<path d="M71.9 413.4l1 0 1 0.7 1 -0.3 1 0.2 1 0.7 1 0.4 1 0.2 1 0.2 1 -0.2 1 0 1 0.4 1 0.2 1 -0.1 1 -0.1 1 0.2 1 0.2 1 -0.3 1 0.3 1 -0.2 1 1 1 -0.3 1 -0.1 1 0.4 1 -0.1 1 0 1 0.4 1 0.2 1 1.4 1 -1.2 1 -0.3 1 1.2 1 -0.4 1 0.1 1 1 1 -0.8 1 -0.2 1 0.3 1 -0.5 1 0.4 1 -1 1 -0.4 1 -0.1 1 -0.6 1 -2.1 1 -0.3 1 -0.8 1 -0.3 1 -0.9 1 -0.6 1 0.2 1 -0.5 1 -0.9 1 -1.2 1 0.1 1 -0.5 1 0.9 1 -0.6 1 -0.1 1 0.9 1 0.6 1 0.2 1 1.3 1 0.6 1 -0.5 1 0.1 1 -1.2 1 -1.2 1 -0.8 1 -1.4 1 -0.3 1 -1.4 1 -0.5 1 1.1 1 -0.2 1 0 1 0.4 1 0.5 1 0.6 1 -0.5 1 -0.1 1 -1.6 1 -1.3 1 -0.6 1 1.1 1 2.6 1 1.4 1 0.8 1 0.9 1 0.5 1 0 1 2.3 1 1.7 1 2.7 1 1.8 1 -1.2 1 0.3 1 0.7 1 -1.4 1 -2.1 1 -2.9 1 -3.1 1 -1.2 1 -1.5 1 -1.5 1 -0.1 1 0.8 1 0.2 1 -0.4 1 0.9 1 -0.3 1 0.7 1 -0.3 1 1.2 1 0.7 1 2.5 1 2.8 1 3.9 1 1.4 1 -4.8 1 -4.1 1 -0.9 1 -0.3 1 1.7 1 3 1 1.3 1 -1.8 1 -1.6 1 1.2 1 1.4 1 1.1 1 -1.2 1 -2.2 1 -4.6 1 -2.9 1 -1.4 1 -0.2 1 1.4 1 -0.4 1 -0.6 1 -0.1 1 -1 1 -0.3 1 -0.6 1 0.4 1 0.9 1 0.3 1 0.4 1 2.8 1 2.6 1 0.1 1 -2.6 1 -1.7 1 -1.9 1 0.9 1 -0.2 1 0.2 1 1 1 -0.9 1 0 1 1.3 1 0.5 1 0 1 0.5 1 0.2 1 -0.4 1 -0.1 1 0.4 1 0.4 1 0.3 1 1.5 1 1.3 1 2.6 1 4 1 -2.8 1 -1.5 1 1 1 0.8 1 1.7 1 1.1 1 0.6 1 -0.5 1 -0.8 1 -0.9 1 0.5 1 0 1 1.5 1 4.2 1 1.2 1 2.3 1 0.6 1 0.2 1 -1.7 1 -1.6 1 -0.9 1 -1.3 1 0.7 1 1.4 1 0.6 1 1.2 1 1.3 1 1.2 1 4.2 1 0.9 1 -1.5 1 -3.5 1 -2.1 1 4.1 1 2.1 1 0.5 1 -1.3 1 -1.6 1 -3.6 1 -3.2 1 -3 1 -2.4 1 -3.5 1 -1.4 1 -1 1 -0.3 1 0 1 -0.1 1 -0.4 1 -1 1 -2.3 1 -6.1 1 -5.7 1 -1.7 1 -0.8 1 0.2 1 0.3 1 -0.6 1 -1.4 1 0.4 1 0.7 1 0.6 1 1.1 1 0.9 1 0.5 1 0.8 1 0.6 1 1.1 1 1.5 1 1 1 1.7 1 0.3 1 -0.5 1 -2 1 -1 1 0.2 1 -0.6 1 -0.4 1 -1 1 -0.7 1 -1.5 1 0 1 -0.6 1 -0.5 1 1.4 1 0.6 1 0.6 1 0.3 1 -0.1 1 0.1 1 0.5 1 0.1 1 0.4 1 -0.6 1 0 1 1.1 1 1.2 1 0.2 1 -0.5 1 -1.4 1 -0.9 1 0.1 1 0.6 1 0.1 1 -0.6 1 -0.3 1 0 1 0.6 1 0.3 1 2.1 1 2.1 1 1.2 1 1 1 0.7 1 0.4 1 1.5 1 0.3 1 1.7 1 0.9 1 1.5 1 1.5 1 0.8 1 1.3 1 1.6 1 1.4 1 0.5 1 1.2 1 0.6 1 0.5 1 -0.1 1 0.3 1 -2.5 1 -1.2 1 -0.6 1 -0.1 1 -0.2 1 -0.2 1 0.4 1 0.9 1 1.3 1 0.7 1 1.9 1 0.5 1 -0.6 1 -0.9 1 -0.4 1 -0.6 1 0.7 1 1.1 1 -0.5 1 -0.5 1 0.3 1 0.9 1 1.3 1 0.5 1 0.8 1 0.2 1 0.9 1 -1.9 1 0 1 -1.1 1 -1.2 1 -2.4 1 -2.3 1 -2.2 1 -1 1 -1.9 1 -1.1 1 -0.7 1 -1.8 1 -0.2 1 1.3 1 1.9 1 1.8 1 1.8 1 0.2 1 0.9 1 -0.8 1 -0.7 1 1.5 1 0.7 1 -0.7 1 -1.2 1 -1.1 1 -1.1 1 -1.5 1 -0.2 1 -1.2 1 -0.7 1 -1 1 -0.2 1 -1 1 -1.1 1 1 1 0.3 1 0.3 1 0.2 1 0.6 1 0.3 1 0.7 1 0.9 1 0.7 1 0.6 1 0.7 1 -0.5 1 -0.5 1 -1.2 1 -0.2 1 -1.1 1 -0.2 1 -0.3 1 1.4 1 -0.1 1 1.3 1 0.6 1 0.7 1 0 1 0.2 1 -0.6 1 0.4 1 1.2 1 3.9 1 -3.1 1 -1.1 1 0.8 1 -2.7 1 -1.3 1 2.5 1 4.7 1 3.5 1 -3.1 1 -3.7 1 -2.5 1 0.2 1 -1.2 1 -1 1 0.5 1 -0.8 1 -0.6 1 0.5 1 2.2 1 1.8 1 1.3 1 1.4 1 0.4 1 0.1 1 -0.8 1 0 1 -0.7 1 -2.2 1 -3.9 1 -1.7 1 -0.2 1 2.4 1 1.1 1 0.6 1 0.9 1 1 1 1.3 1 0.7 1 3.3 1 0.9 1 0.2 1 -0.9 1 -1.3 1 -0.4 1 -0.5 1 -0.1 1 -1.1 1 -0.4 1 -6.6 1 0.1 1 2.6 1 1.1 1 1.3 1 -0.6 1 0.3 1 0.2 1 0.8" stroke="#3838ff" stroke-width="0.9" fill="none" stroke-linejoin="round" />
<path d="M71.6 409.1L525.6 409.1" stroke="#000" stroke-width="2.0" stroke-dasharray="5.8 2.6" fill="none" />
</g>
<path d="M77.6 389.5L94.9 389.5" stroke="#3838ff" stroke-width="1.0" fill="none" />
<text x="96.1" y="392.8" font-size="9.3" fill="#2020ff" xml:space="preserve">V<tspan font-size="6.9" dy="3.4">L</tspan></text>
<text x="96.1" y="407.2" font-size="9.3" fill="#60e000" xml:space="preserve">V<tspan font-size="6.9" dy="3.4">M</tspan></text>
<text x="96.1" y="421.2" font-size="9.3" fill="#ff2000" xml:space="preserve">V<tspan font-size="6.9" dy="3.4">N</tspan></text>
<clipPath id="cl6"><rect x="71.6" y="450" width="454" height="67.8"/></clipPath><g clip-path="url(#cl6)">
<path d="M71.9 493l0.7 -1.5 0.7 2.8 0.7 -1.5 0.7 -1.4 0.7 2.6 0.7 -0.1 0.7 -4.3 0.7 1.2 0.7 3.5 0.7 -3.7 0.7 1.6 0.7 4.1 0.7 -3.7 0.7 2.3 0.7 0.3 0.7 -2 0.7 0.7 0.7 0.3 0.7 -1.2 0.7 5.4 0.7 -5.5 0.7 1.6 0.7 -1.4 0.7 -2.5 0.7 2.7 0.7 -1.2 0.7 0 0.7 1.5 0.7 -1.4 0.7 -0.2 0.7 -1.7 0.7 0.6 0.7 0.2 0.7 0.4 0.7 1.7 0.7 -3.4 0.7 0.4 0.7 2.8 0.7 -1.1 0.7 5.1 0.7 -2.8 0.7 2.2 0.7 -1 0.7 0.9 0.7 -2.4 0.7 0.2 0.7 -3.3 0.7 2 0.7 -1.5 0.7 1 0.7 -1.8 0.7 2.1 0.7 1.1 0.7 0.4 0.7 0.2 0.7 1.7 0.7 -0.8 0.7 -2.7 0.7 0.4 0.7 0.6 0.7 -2.4 0.7 0 0.7 4.7 0.7 2.2 0.7 -0.6 0.7 -6.7 0.7 3.6 0.7 -2.9 0.7 -6 0.7 0 0.7 -0.1 0.7 2.5 0.7 -2.1 0.7 1.9 0.7 -0.4 0.7 -1.9 0.7 3.2 0.7 -0.7 0.7 0.6 0.7 -1.1 0.7 0 0.7 3.2 0.7 -0.9 0.7 -3.3 0.7 0.4 0.7 -1.9 0.7 0.6 0.7 2.1 0.7 1.3 0.7 4.8 0.7 -3 0.7 -1.6 0.7 -2.6 0.7 -1.1 0.7 -3.3 0.7 1.5 0.7 0.3 0.7 2.8 0.7 2.7 0.7 6.1 0.7 2.2 0.7 1.5 0.7 0.9 0.7 1.5 0.7 0.9 0.7 -1 0.7 -3.1 0.7 -9.1 0.7 -0.9 0.7 0.9 0.7 1.3 0.7 1.5 0.7 -0.1 0.7 -2.6 0.7 -1 0.7 0.8 0.7 -0.9 0.7 4.4 0.7 4.6 0.7 -6.4 0.7 -1 0.7 -4.2 0.7 -0.5 0.7 0.1 0.7 2.6 0.7 -3 0.7 3.5 0.7 3.7 0.7 4.8 0.7 -1.7 0.7 -3 0.7 -8.8 0.7 -2.1 0.7 -8.5 0.7 -3.2 0.7 -1.3 0.7 -0.5 0.7 4.9 0.7 -5.8 0.7 4.9 0.7 6.2 0.7 3.8 0.7 2.7 0.7 2.9 0.7 1.2 0.7 -2.5 0.7 -12.3 0.7 -4.9 0.7 8.8 0.7 0.4 0.7 1.6 0.7 -1.8 0.7 4.4 0.7 2.9 0.7 -1.6 0.7 -5.3 0.7 1.2 0.7 3 0.7 -0.9 0.7 1.6 0.7 1.4 0.7 5.4 0.7 6.6 0.7 1.6 0.7 4.8 0.7 3.6 0.7 1.3 0.7 1.9 0.7 -12 0.7 -16.6 0.7 -8.6 0.7 0.1 0.7 3.6 0.7 3.1 0.7 7.1 0.7 1.1 0.7 -1.8 0.7 1.8 0.7 -3.9 0.7 2.8 0.7 -5.3 0.7 4.2 0.7 -2.2 0.7 -4.4 0.7 1.6 0.7 1.2 0.7 -1.7 0.7 -2.7 0.7 -4.4 0.7 2.4 0.7 3.1 0.7 4.4 0.7 3.9 0.7 5.5 0.7 7.3 0.7 0.8 0.7 1.6 0.7 -1.7 0.7 -5.1 0.7 1.8 0.7 1.9 0.7 3.4 0.7 -4.3 0.7 0.1 0.7 -1.6 0.7 -0.7 0.7 -16.2 0.7 -8 0.7 7.2 0.7 12.4 0.7 5.2 0.7 -3.3 0.7 -3.9 0.7 -6 0.7 -5.2 0.7 -0.9 0.7 0.2 0.7 -5.9 0.7 3.1 0.7 -2 0.7 2.2 0.7 -2 0.7 -0.2 0.7 -1 0.7 -2.2 0.7 3.5 0.7 -1.3 0.7 -0.4 0.7 3.5 0.7 4.4 0.7 -0.1 0.7 -4.1 0.7 5.3 0.7 0.4 0.7 -4.9 0.7 1.6 0.7 0.3 0.7 5.7 0.7 0 0.7 0.1 0.7 0.9 0.7 -0.5 0.7 -0.5 0.7 5.5 0.7 1.5 0.7 4 0.7 2.2 0.7 -1.5 0.7 -2.2 0.7 -5.9 0.7 2.4 0.7 0.8 0.7 1.6 0.7 2.2 0.7 0.4 0.7 1.2 0.7 0.9 0.7 1.1 0.7 3.4 0.7 0.7 0.7 -0.6 0.7 3.9 0.7 0.6 0.7 -6.2 0.7 -6.2 0.7 2.2 0.7 1.8 0.7 -1 0.7 -1.5 0.7 -2.9 0.7 -13.6 0.7 -7 0.7 -5.5 0.7 -5.7 0.7 0.2 0.7 -3.6 0.7 10.4 0.7 10.6 0.7 4.4 0.7 9.4 0.7 3.5 0.7 5.7 0.7 -2.6 0.7 -0.7 0.7 -0.4 0.7 -7.1 0.7 -8.9 0.7 -5.7 0.7 -7 0.7 -0.3 0.7 5 0.7 5.7 0.7 9.4 0.7 4.1 0.7 -1.7 0.7 -1.8 0.7 -1.2 0.7 2.8 0.7 -0.1 0.7 0.6 0.7 -2.1 0.7 6.2 0.7 0.2 0.7 -2.6 0.7 2.2 0.7 1.6 0.7 -2.7 0.7 -0.6 0.7 2.5 0.7 -4.6 0.7 3.8 0.7 -1.4 0.7 2.3 0.7 -0.7 0.7 -0.8 0.7 3.1 0.7 -3.9 0.7 -1.1 0.7 0.1 0.7 -4.4 0.7 2.8 0.7 -14 0.7 -12.5 0.7 -4.3 0.7 14.6 0.7 1.6 0.7 -3.1 0.7 -3 0.7 3.2 0.7 -3 0.7 3.5 0.7 -4.8 0.7 2.2 0.7 -2.3 0.7 0.4 0.7 -0.8 0.7 2.1 0.7 2.3 0.7 -0.3 0.7 -0.3 0.7 6.6 0.7 0.9 0.7 0.1 0.7 -0.1 0.7 2 0.7 -1.8 0.7 1.2 0.7 -1 0.7 -1.9 0.7 1.9 0.7 6.3 0.7 -2.9 0.7 2.9 0.7 4.6 0.7 -0.9 0.7 2.6 0.7 1.7 0.7 -0.7 0.7 -0.5 0.7 -3.8 0.7 0.5 0.7 -1.4 0.7 -4.1 0.7 -1 0.7 0.7 0.7 -1.3 0.7 -0.3 0.7 1.2 0.7 2.7 0.7 -1.1 0.7 4.9 0.7 0.6 0.7 3.2 0.7 -4.8 0.7 3.2 0.7 -2.5 0.7 2.2 0.7 -2.3 0.7 -3 0.7 3.9 0.7 -1.8 0.7 -0.6 0.7 8.4 0.7 0.4 0.7 0.8 0.7 -0.6 0.7 3.3 0.7 -6.1 0.7 -0.6 0.7 -5.5 0.7 -2.4 0.7 -3 0.7 -0.8 0.7 -6.4 0.7 0.1 0.7 -3.7 0.7 1.7 0.7 -2.4 0.7 -0.7 0.7 -0.8 0.7 0.8 0.7 1 0.7 -2.7 0.7 -4.5 0.7 -1.9 0.7 -2.5 0.7 -1.6 0.7 0.2 0.7 -4.1 0.7 3.3 0.7 -1.1 0.7 0.5 0.7 1 0.7 0 0.7 2 0.7 5.9 0.7 7.3 0.7 2.5 0.7 0 0.7 -0.9 0.7 -6 0.7 0 0.7 -0.1 0.7 1.5 0.7 -3.5 0.7 -1.8 0.7 1 0.7 -1.6 0.7 2.2 0.7 -1.4 0.7 6.6 0.7 -0.5 0.7 5.9 0.7 3.2 0.7 2.7 0.7 -0.7 0.7 3.3 0.7 -0.5 0.7 4.1 0.7 -0.3 0.7 -0.1 0.7 4.1 0.7 0.5 0.7 0.9 0.7 0.2 0.7 -0.3 0.7 -0.9 0.7 2 0.7 3.6 0.7 0.5 0.7 2.9 0.7 -0.2 0.7 2.5 0.7 -0.9 0.7 6.4 0.7 1.6 0.7 1.8 0.7 -3.8 0.7 -1.4 0.7 1.4 0.7 -1.9 0.7 -3.3 0.7 -0.1 0.7 -0.5 0.7 -1.8 0.7 4.1 0.7 -3 0.7 -0.4 0.7 0.4 0.7 0 0.7 -5.9 0.7 -2.3 0.7 -3.4 0.7 -2 0.7 4 0.7 -4.2 0.7 -3.7 0.7 0.9 0.7 -1 0.7 -1.4 0.7 4.4 0.7 -3.9 0.7 1.7 0.7 1.7 0.7 5.3 0.7 2.6 0.7 3 0.7 -3.8 0.7 1.7 0.7 -1.2 0.7 1.4 0.7 1.8 0.7 0 0.7 1.5 0.7 0.9 0.7 0.7 0.7 1.4 0.7 1.4 0.7 -1.1 0.7 2.1 0.7 1.8 0.7 -0.5 0.7 1.2 0.7 -0.5 0.7 1.2 0.7 1.3 0.7 -1.4 0.7 1.1 0.7 -0.5 0.7 -4.4 0.7 3.3 0.7 3.9 0.7 -6 0.7 -0.7 0.7 1.8 0.7 -1.4 0.7 -0.9 0.7 -1 0.7 1 0.7 3.6 0.7 -6.1 0.7 3.6 0.7 -5 0.7 0.6 0.7 0.7 0.7 2.2 0.7 -2.9 0.7 1.3 0.7 0.1 0.7 0.8 0.7 0.2 0.7 1.6 0.7 0.7 0.7 2.5 0.7 3.6 0.7 -5.5 0.7 4.9 0.7 -1.4 0.7 0.4 0.7 1.5 0.7 -1.7 0.7 -0.7 0.7 -3.3 0.7 2.1 0.7 -1.7 0.7 -3.1 0.7 -1.1 0.7 -0.8 0.7 0.5 0.7 -0.2 0.7 2.2 0.7 0.4 0.7 0.2 0.7 1.1 0.7 -2.3 0.7 -7.8 0.7 -0.2 0.7 -3.9 0.7 -2.3 0.7 -0.7 0.7 2.5 0.7 3 0.7 -7.5 0.7 -10.3 0.7 8.7 0.7 2 0.7 7.4 0.7 -6.3 0.7 -6.8 0.7 -13.2 0.7 17 0.7 6.3 0.7 7.4 0.7 -13.1 0.7 -7.5 0.7 -3.8 0.7 7.4 0.7 -1.5 0.7 8 0.7 2.6 0.7 -3.2 0.7 3.3 0.7 2.4 0.7 -8.5 0.7 0.7 0.7 -7.2 0.7 -1.9 0.7 -4.4 0.7 0.1 0.7 -5.8 0.7 4.6 0.7 3.1 0.7 7.9 0.7 0.8 0.7 -4.8 0.7 -3.1 0.7 -6.8 0.7 -9.4 0.7 -0.3 0.7 -2.7 0.7 -5.4 0.7 5.5 0.7 4.8 0.7 -0.2 0.7 -0.9 0.7 -2.5 0.7 0.1 0.7 4.9 0.7 2.5 0.7 3 0.7 0.6 0.7 0 0.7 -2.7 0.7 4.3 0.7 3.8 0.7 2.8 0.7 2.2 0.7 1 0.7 7.9 0.7 -1.4 0.7 2.8 0.7 1.4 0.7 -2 0.7 -1.4 0.7 -2 0.7 0.5 0.7 2.6 0.7 0.8 0.7 4.4 0.7 0.3 0.7 4.3 0.7 -0.3 0.7 3.5 0.7 -5.9 0.7 -3 0.7 -0.7 0.7 -4.4 0.7 -3 0.7 -6.5 0.7 4.4 0.7 -0.2 0.7 0.9 0.7 -4.3 0.7 -1.6 0.7 -3.2 0.7 4.9 0.7 1.8" stroke="#ff2020" stroke-width="1.0" fill="none" stroke-linejoin="round" />
<path d="M71.9 494.5l0.7 -0.8 0.7 1.3 0.7 -1.6 0.7 -0.6 0.7 1.6 0.7 -0.1 0.7 -1.6 0.7 -0.1 0.7 2 0.7 -2.4 0.7 0.6 0.7 1.5 0.7 -0.1 0.7 0.7 0.7 -0.4 0.7 -0.7 0.7 0.3 0.7 -0.6 0.7 0.7 0.7 -0.4 0.7 -1.4 0.7 1.1 0.7 -1.1 0.7 0.5 0.7 -0.5 0.7 0.4 0.7 -2.1 0.7 2.1 0.7 -1.4 0.7 1.8 0.7 -2 0.7 0.1 0.7 -0.5 0.7 0.3 0.7 0.2 0.7 -1.1 0.7 -0.6 0.7 1.1 0.7 1.6 0.7 1.5 0.7 0.5 0.7 1.3 0.7 0.5 0.7 -1 0.7 -2.5 0.7 0.8 0.7 0 0.7 -0.8 0.7 -0.2 0.7 0.5 0.7 0.7 0.7 0 0.7 -0.6 0.7 1 0.7 -0.2 0.7 0.3 0.7 -1.2 0.7 -1.7 0.7 0.1 0.7 0.5 0.7 1.1 0.7 1.4 0.7 3 0.7 -0.4 0.7 -1.2 0.7 -2.7 0.7 -0.4 0.7 -3.7 0.7 -2.2 0.7 -0.6 0.7 -0.5 0.7 1.3 0.7 -1 0.7 2.2 0.7 0.5 0.7 -0.6 0.7 -0.3 0.7 0.9 0.7 0.9 0.7 -1 0.7 0.4 0.7 1.4 0.7 0.1 0.7 -2.6 0.7 -2.5 0.7 -2 0.7 0.9 0.7 4.3 0.7 0.2 0.7 2.6 0.7 -0.8 0.7 -1.9 0.7 -3.4 0.7 -1.7 0.7 -0.1 0.7 -0.7 0.7 1.6 0.7 1.1 0.7 3.4 0.7 6.2 0.7 2.9 0.7 1.3 0.7 0.7 0.7 1.4 0.7 1.8 0.7 -2.3 0.7 -4.7 0.7 -5.7 0.7 -1.9 0.7 1.6 0.7 -1.2 0.7 2.2 0.7 0.2 0.7 -1.4 0.7 -1.8 0.7 0.1 0.7 1.8 0.7 4.4 0.7 2.1 0.7 -5.1 0.7 -1.8 0.7 -3.8 0.7 0.3 0.7 0.6 0.7 0 0.7 -2 0.7 3.5 0.7 3.1 0.7 4.8 0.7 -2.1 0.7 -0.7 0.7 -7.1 0.7 -6.6 0.7 -5.6 0.7 -5 0.7 -0.7 0.7 -0.8 0.7 1.9 0.7 -2.6 0.7 2.6 0.7 6.9 0.7 3 0.7 3.2 0.7 3.6 0.7 2 0.7 -2 0.7 -13.2 0.7 -4.1 0.7 5.9 0.7 5 0.7 -0.4 0.7 -2.3 0.7 6.4 0.7 0.7 0.7 -1.4 0.7 -2.9 0.7 1.7 0.7 -0.1 0.7 0 0.7 3.3 0.7 1.3 0.7 4.8 0.7 4.4 0.7 4.1 0.7 3.1 0.7 2.9 0.7 4.2 0.7 -1.7 0.7 -13.1 0.7 -12.8 0.7 -7.2 0.7 -3.2 0.7 3.3 0.7 4.2 0.7 7.4 0.7 0.2 0.7 1.7 0.7 -0.8 0.7 -2.7 0.7 0.1 0.7 -2.2 0.7 3.2 0.7 -3 0.7 -1.4 0.7 -0.1 0.7 -0.3 0.7 -4 0.7 -1.7 0.7 -4.4 0.7 2 0.7 3.7 0.7 5.7 0.7 5.4 0.7 6.2 0.7 3.6 0.7 4.3 0.7 1.5 0.7 -4.3 0.7 -3.5 0.7 0.4 0.7 3.5 0.7 2.1 0.7 -2.7 0.7 -2 0.7 -0.5 0.7 -2.7 0.7 -14 0.7 -6.6 0.7 6.4 0.7 10.1 0.7 6.2 0.7 -3 0.7 -4 0.7 -6.9 0.7 -3.1 0.7 -2.6 0.7 -1.6 0.7 -0.6 0.7 0.9 0.7 -1.1 0.7 0.2 0.7 -2.1 0.7 0.4 0.7 -1 0.7 -0.5 0.7 1.8 0.7 -3.8 0.7 0.9 0.7 2.8 0.7 6.8 0.7 -1.9 0.7 -0.8 0.7 3.3 0.7 -0.1 0.7 -2.2 0.7 -2 0.7 3 0.7 0.9 0.7 2.4 0.7 1.4 0.7 0.9 0.7 -1 0.7 1 0.7 2.4 0.7 4.3 0.7 5.3 0.7 1.1 0.7 -3.1 0.7 -0.4 0.7 -5.2 0.7 0.6 0.7 0.3 0.7 2.5 0.7 1.3 0.7 -0.6 0.7 1.3 0.7 0.4 0.7 3.5 0.7 1.2 0.7 1.8 0.7 2.2 0.7 1.3 0.7 -2.1 0.7 -4 0.7 -3.6 0.7 2.8 0.7 -0.4 0.7 -4.3 0.7 1.1 0.7 -5.4 0.7 -10.3 0.7 -6.4 0.7 -4.9 0.7 -4.3 0.7 -2.7 0.7 -2.5 0.7 8.2 0.7 10.3 0.7 7.2 0.7 9.2 0.7 3.7 0.7 4.2 0.7 -2.9 0.7 2 0.7 -3.1 0.7 -4.2 0.7 -10.7 0.7 -6.3 0.7 -8 0.7 1.7 0.7 3.4 0.7 7.2 0.7 8.9 0.7 7.4 0.7 -3.5 0.7 -4.9 0.7 0 0.7 1.8 0.7 0.6 0.7 0.4 0.7 1.5 0.7 2.3 0.7 1.4 0.7 -0.6 0.7 0.1 0.7 -0.8 0.7 -0.9 0.7 0.7 0.7 -0.7 0.7 0.9 0.7 0.3 0.7 0.1 0.7 -0.1 0.7 0.2 0.7 0.5 0.7 0.3 0.7 -1.3 0.7 -2.3 0.7 -0.1 0.7 0 0.7 -3.7 0.7 -13.3 0.7 -9.3 0.7 -3.9 0.7 13 0.7 0.1 0.7 -1.8 0.7 -1.6 0.7 0.5 0.7 -0.6 0.7 0.9 0.7 -1.7 0.7 -0.5 0.7 -0.4 0.7 0.2 0.7 -0.9 0.7 0.2 0.7 3.2 0.7 0.3 0.7 1.2 0.7 2.8 0.7 2.3 0.7 1.9 0.7 -0.4 0.7 2.4 0.7 -2.8 0.7 -1.4 0.7 -0.2 0.7 -0.1 0.7 3.2 0.7 2.2 0.7 2.6 0.7 0.9 0.7 2.7 0.7 0.7 0.7 2 0.7 0.5 0.7 -0.2 0.7 -1.1 0.7 -1.1 0.7 -1.4 0.7 0.3 0.7 -2.5 0.7 -1 0.7 -0.2 0.7 -1.7 0.7 1.2 0.7 0.2 0.7 1.3 0.7 1.6 0.7 1.9 0.7 -0.4 0.7 0.8 0.7 -0.7 0.7 -0.5 0.7 0.5 0.7 0.2 0.7 -1.6 0.7 -0.4 0.7 -0.1 0.7 0.7 0.7 -0.3 0.7 4.6 0.7 3.2 0.7 1.7 0.7 0.3 0.7 -1.1 0.7 -1.9 0.7 -2 0.7 -4.5 0.7 -4.3 0.7 -2.2 0.7 0.2 0.7 -4.1 0.7 -3.1 0.7 -2.5 0.7 -2.2 0.7 -0.6 0.7 -0.6 0.7 -0.9 0.7 1.5 0.7 0.6 0.7 -2.3 0.7 -3.8 0.7 -3.4 0.7 -2.4 0.7 -0.8 0.7 0.1 0.7 -0.9 0.7 1.2 0.7 -0.4 0.7 -1.5 0.7 1.6 0.7 2 0.7 1.9 0.7 5.7 0.7 5 0.7 2.7 0.7 -1.1 0.7 -1.6 0.7 -0.8 0.7 -0.5 0.7 -1.7 0.7 -0.6 0.7 -1.3 0.7 -1.2 0.7 -1.6 0.7 0.1 0.7 0.8 0.7 -0.8 0.7 4.6 0.7 2.4 0.7 4.4 0.7 3.1 0.7 1.5 0.7 2 0.7 4.6 0.7 -0.9 0.7 2.7 0.7 0.7 0.7 -0.1 0.7 2.6 0.7 -0.1 0.7 1.5 0.7 0 0.7 1.2 0.7 -0.5 0.7 0.5 0.7 3.2 0.7 -0.1 0.7 3.4 0.7 0.7 0.7 3.1 0.7 0.9 0.7 3 0.7 2.2 0.7 -1.7 0.7 -0.1 0.7 -0.3 0.7 -1.7 0.7 -0.7 0.7 -0.6 0.7 -0.8 0.7 -0.5 0.7 -0.8 0.7 0.8 0.7 -1.2 0.7 0.3 0.7 0.3 0.7 -2.2 0.7 -1.6 0.7 -4.8 0.7 -2.4 0.7 -0.6 0.7 0 0.7 -2.3 0.7 -3.1 0.7 -1.9 0.7 -0.9 0.7 1.2 0.7 0.9 0.7 0 0.7 -0.1 0.7 2.4 0.7 2.2 0.7 4.3 0.7 1.5 0.7 -0.8 0.7 0.5 0.7 0 0.7 2 0.7 1.7 0.7 0.3 0.7 1.8 0.7 -0.1 0.7 2.2 0.7 0 0.7 0.6 0.7 0.7 0.7 -0.2 0.7 -0.7 0.7 2.2 0.7 -0.1 0.7 0.6 0.7 1.3 0.7 0.3 0.7 -0.3 0.7 -0.2 0.7 0.1 0.7 -1.6 0.7 0.8 0.7 0.8 0.7 -2.4 0.7 0.3 0.7 -0.3 0.7 -0.8 0.7 -0.5 0.7 -0.3 0.7 0.4 0.7 -0.2 0.7 -1.5 0.7 -0.1 0.7 -0.7 0.7 0.1 0.7 -0.6 0.7 0.6 0.7 0 0.7 0.1 0.7 1 0.7 0.1 0.7 1.7 0.7 0.4 0.7 2.4 0.7 -0.5 0.7 1.8 0.7 -1.6 0.7 2.5 0.7 0.1 0.7 0.1 0.7 0.6 0.7 -2.1 0.7 1 0.7 -2.2 0.7 -0.8 0.7 -1.9 0.7 -0.6 0.7 -2.2 0.7 -0.5 0.7 -0.8 0.7 1.8 0.7 0.8 0.7 1.4 0.7 1.1 0.7 -1.5 0.7 -2.6 0.7 -4.2 0.7 -4.2 0.7 -4 0.7 -1.6 0.7 1.6 0.7 0.5 0.7 3 0.7 -7.3 0.7 -8.8 0.7 7.8 0.7 2.8 0.7 6.2 0.7 -7.3 0.7 -8 0.7 -11.7 0.7 17.1 0.7 8.7 0.7 2.7 0.7 -8.9 0.7 -8.6 0.7 -5.9 0.7 6.5 0.7 3.6 0.7 7.3 0.7 0.7 0.7 0.2 0.7 0.1 0.7 1 0.7 -5.1 0.7 -2.3 0.7 -3.8 0.7 -4.7 0.7 -2.3 0.7 -2.5 0.7 -3.8 0.7 5 0.7 5.7 0.7 4.1 0.7 2.1 0.7 -7.3 0.7 -5 0.7 -3.8 0.7 -6.3 0.7 -4.3 0.7 -2 0.7 -2.9 0.7 3.4 0.7 1.3 0.7 2.5 0.7 1.1 0.7 -1.9 0.7 -0.4 0.7 3.9 0.7 2 0.7 3.5 0.7 0.3 0.7 -1.2 0.7 -0.5 0.7 2.3 0.7 4.2 0.7 2 0.7 1.5 0.7 5.7 0.7 4.8 0.7 1.8 0.7 1.3 0.7 -1.1 0.7 -1.2 0.7 -1.5 0.7 -1.5 0.7 -0.2 0.7 2.6 0.7 3 0.7 3.9 0.7 1.7 0.7 0.1 0.7 2.2 0.7 1.8 0.7 -3 0.7 -3.7 0.7 -3.8 0.7 -4.1 0.7 -1.5 0.7 -3.8 0.7 0.5 0.7 1.4 0.7 -1.4 0.7 -2 0.7 -1.2 0.7 0.2 0.7 -0.3 0.7 0.8" stroke="#1a0000" stroke-width="1.05" fill="none" stroke-linejoin="round" />
</g>
<path d="M77.6 457.2L94.2 457.2" stroke="#ff4040" stroke-width="1.0" fill="none" />
<text x="95.5" y="460.5" font-size="9.3" fill="#ff2020" xml:space="preserve">Ne</text>
<path d="M77.6 470.7L94.2 470.7" stroke="#444" stroke-width="1.0" fill="none" />
<text x="95.5" y="474" font-size="9.3" fill="#102060" xml:space="preserve">Ni</text>
<clipPath id="cl7"><rect x="71.6" y="517.8" width="454" height="68.2"/></clipPath><g clip-path="url(#cl7)">
<path d="M71.8 549.6l27.7 -11.2 32.3 18.8 32.5 -34.7 32.4 31.7 32.3 -15.8 32.4 15.4 32.7 -28.1 32.2 17.8 32.7 -24.7 32.4 44.5 32.5 -18.8 32.4 9.9" stroke="#ff0000" stroke-width="1.3" fill="none" stroke-linejoin="round" />
<circle cx="99.5" cy="538.4" r="1.9" fill="#ff0000"/>
<circle cx="131.8" cy="557.2" r="1.9" fill="#ff0000"/>
<circle cx="164.3" cy="522.5" r="1.9" fill="#ff0000"/>
<circle cx="196.7" cy="554.2" r="1.9" fill="#ff0000"/>
<circle cx="229" cy="538.4" r="1.9" fill="#ff0000"/>
<circle cx="261.4" cy="553.8" r="1.9" fill="#ff0000"/>
<circle cx="294.1" cy="525.7" r="1.9" fill="#ff0000"/>
<circle cx="326.3" cy="543.5" r="1.9" fill="#ff0000"/>
<circle cx="359" cy="518.8" r="1.9" fill="#ff0000"/>
<circle cx="391.4" cy="563.3" r="1.9" fill="#ff0000"/>
<circle cx="423.9" cy="544.5" r="1.9" fill="#ff0000"/>
<circle cx="456.3" cy="554.4" r="1.9" fill="#ff0000"/>
<path d="M71.8 586.3l27.7 0 32.3 -0.1 32.5 -0.4 32.4 0.2 32.3 0 32.4 -0.2 32.7 -0.6 32.2 -0.3 32.7 0.3 32.4 0.9 32.5 0.5 32.4 -0.8" stroke="#00c000" stroke-width="1.2" fill="none" stroke-linejoin="round" />
<path d="M71.8 585.7l27.7 0 32.3 -0.1 32.5 -0.4 32.4 0.2 32.3 0 32.4 -0.2 32.7 -0.6 32.2 -0.3 32.7 0.3 32.4 0.9 32.5 0.5 32.4 -0.8" stroke="#0000ff" stroke-width="1.6" fill="none" stroke-linejoin="round" />
<circle cx="99.5" cy="585.7" r="1.7" fill="#0000ff"/>
<circle cx="131.8" cy="585.6" r="1.7" fill="#0000ff"/>
<circle cx="164.3" cy="585.2" r="1.7" fill="#0000ff"/>
<circle cx="196.7" cy="585.4" r="1.7" fill="#0000ff"/>
<circle cx="229" cy="585.4" r="1.7" fill="#0000ff"/>
<circle cx="261.4" cy="585.2" r="1.7" fill="#0000ff"/>
<circle cx="294.1" cy="584.6" r="1.7" fill="#0000ff"/>
<circle cx="326.3" cy="584.3" r="1.7" fill="#0000ff"/>
<circle cx="359" cy="584.6" r="1.7" fill="#0000ff"/>
<circle cx="391.4" cy="585.5" r="1.7" fill="#0000ff"/>
<circle cx="423.9" cy="586" r="1.7" fill="#0000ff"/>
<circle cx="456.3" cy="585.2" r="1.7" fill="#0000ff"/>
</g>
<path d="M77.8 523.3L95 523.3" stroke="#00ff00" stroke-width="1.2" fill="none" />
<text x="96" y="526.6" font-size="9.3" fill="#00ff00" xml:space="preserve">N  He+</text>
<circle cx="86.4" cy="523.3" r="2.2" fill="#00ff00"/>
<path d="M77.8 532.6L95 532.6" stroke="#ff0000" stroke-width="1.2" fill="none" />
<text x="96" y="535.9" font-size="9.3" fill="#ff0000" xml:space="preserve">N  He++</text>
<circle cx="86.4" cy="532.6" r="2.2" fill="#ff0000"/>
<path d="M77.8 541.5L95 541.5" stroke="#0000ff" stroke-width="1.2" fill="none" />
<text x="96" y="544.8" font-size="9.3" fill="#0000ff" xml:space="preserve">N  O+</text>
<circle cx="86.4" cy="541.5" r="2.2" fill="#0000ff"/>
<clipPath id="cl8"><rect x="71.6" y="586" width="454" height="68.3"/></clipPath><g clip-path="url(#cl8)">
<path d="M71.9 611.4l1 0 1 -0.6 1 0.2 1 0 1 -0.5 1 0.3 1 -0.1 1 -0.5 1 0.2 1 -0.1 1 0.3 1 -0.4 1 -0.6 1 0.7 1 0 1 -0.4 1 -0.2 1 -0.7 1 0.5 1 -0.5 1 -0.3 1 0.4 1 0.3 1 0.4 1 0.1 1 1.2 1 -0.9 1 -1.9 1 -1.5 1 -0.6 1 0 1 -0.3 1 0.3 1 0.8 1 0 1 1.2 1 0.1 1 -0.1 1 -0.2 1 0.4 1 1.1 1 0.9 1 0 1 -0.9 1 0.4 1 1.2 1 1.4 1 0.8 1 0.3 1 0.7 1 0.3 1 -0.3 1 0.6 1 -0.5 1 0.6 1 -0.7 1 0.1 1 0.6 1 0.5 1 0.9 1 0.3 1 1.8 1 1.8 1 2.2 1 1.1 1 -0.2 1 -3.2 1 -4.5 1 -1.2 1 0.2 1 1.1 1 0.1 1 -0.5 1 1.1 1 1.6 1 1.4 1 0.9 1 1 1 2.4 1 1 1 1.7 1 0.1 1 -1.1 1 -4.9 1 -4.4 1 -0.6 1 0.5 1 0.7 1 -0.2 1 -1.1 1 1.6 1 5 1 2.3 1 2 1 -7 1 0.3 1 2.4 1 -3.9 1 -2.6 1 2.6 1 7.6 1 5.7 1 3.1 1 1.8 1 0.6 1 -3.7 1 -2 1 0.2 1 -0.6 1 -1.7 1 0.4 1 0.3 1 -0.3 1 -1.4 1 -0.1 1 0.1 1 -2.7 1 -2.3 1 -3.3 1 -3.2 1 0.1 1 2.2 1 3.9 1 2 1 2.5 1 0.7 1 -0.7 1 -1.7 1 0.4 1 2.6 1 3.5 1 3.4 1 1.4 1 -0.5 1 -4.7 1 -5 1 -3.3 1 -1.2 1 -0.6 1 -1 1 -0.3 1 1.8 1 1.7 1 2.1 1 4.6 1 2.2 1 -10.6 1 -6.9 1 -4.6 1 2.2 1 3.9 1 5.4 1 3.2 1 1.9 1 0.5 1 0.1 1 1.5 1 1.3 1 -2.1 1 -2.9 1 -3.2 1 -1.7 1 -0.8 1 -1.2 1 0.5 1 -0.9 1 0 1 0.2 1 0.9 1 1.6 1 1.9 1 1 1 1.2 1 1.5 1 1.4 1 0.5 1 -0.9 1 -1.7 1 -1.5 1 -0.4 1 -1.8 1 -3.2 1 -3.1 1 -1.9 1 1.4 1 4.8 1 5.9 1 5.4 1 4.8 1 2.1 1 2 1 1 1 -3.8 1 -9.6 1 -4.5 1 -0.9 1 3.3 1 2.8 1 2.8 1 4.2 1 3.3 1 1.2 1 -3.4 1 -4.8 1 -5 1 0.4 1 1.6 1 -2.7 1 -2.4 1 -3 1 -5.4 1 -5.4 1 -1 1 0.8 1 0.6 1 -0.5 1 -1 1 -0.7 1 0 1 2.6 1 3.3 1 5.3 1 -4.9 1 5.1 1 10.9 1 6.8 1 -3.4 1 2.5 1 4.6 1 -1.7 1 -0.3 1 0.4 1 -1.6 1 -1.2 1 -1.6 1 -1.1 1 -1.1 1 -1.2 1 -1.7 1 -2.4 1 0.5 1 0.8 1 2.1 1 1.2 1 -1.6 1 -0.6 1 -0.1 1 -1.2 1 0.4 1 -1 1 1.5 1 1.8 1 -1.3 1 -0.9 1 -0.5 1 0.6 1 0.7 1 -0.2 1 -2 1 -3 1 -1.7 1 -1.2 1 -0.6 1 -0.6 1 -1 1 -1.4 1 -2.2 1 -2.1 1 -2 1 0.9 1 2.6 1 4.7 1 3.3 1 2.8 1 2.6 1 3.3 1 2.2 1 -0.5 1 -1.9 1 -0.2 1 -1.1 1 0.7 1 1.2 1 0.3 1 0.3 1 1.5 1 1.2 1 1.7 1 0.1 1 -7.3 1 -5.5 1 -3.6 1 1.5 1 2.4 1 1 1 0.4 1 1.7 1 2.1 1 1.2 1 4.1 1 1.3 1 2.2 1 -4.1 1 -2.6 1 -2.4 1 -1.6 1 -1.2 1 -2.8 1 -2.1 1 -2.8 1 -2.4 1 -1.7 1 -2.2 1 -2.2 1 -1.8 1 -1.5 1 -0.7 1 -2.3 1 -2 1 0.5 1 0.6 1 2.3 1 1.8 1 2.4 1 0.5 1 -0.1 1 0.6 1 0.1 1 2.1 1 0.3 1 1.9 1 1.7 1 1.8 1 1.2 1 -3.6 1 -0.8 1 2.1 1 -3.2 1 -2.9 1 -0.1 1 2.2 1 3.2 1 2.3 1 0.1 1 -0.5 1 -0.8 1 0.3 1 -0.9 1 -0.7 1 -1.4 1 -1.2 1 -0.9 1 -0.2 1 -1.9 1 -2.4 1 -1.4 1 -1.3 1 -1.4 1 -0.8 1 -0.3 1 -1.8 1 -1.2 1 -0.2 1 -1.2 1 -1.8 1 -0.1 1 0.4 1 -0.4 1 -0.3 1 -0.3 1 -1 1 -0.8 1 -1.4 1 -0.5 1 -2 1 -1.8 1 -1.1 1 -0.1 1 0.3 1 1.7 1 1.3 1 3.1 1 1.5 1 -1.2 1 0 1 -1.1 1 -0.1 1 2.6 1 2.1 1 1.8 1 3.7 1 3.2 1 -0.9 1 0.6 1 5.8 1 -5.5 1 3.4 1 2.9 1 -4 1 -1.5 1 3.7 1 9.5 1 3.2 1 -1.2 1 -3 1 -1.3 1 -0.7 1 1 1 3.1 1 4 1 5.8 1 5.4 1 4.9 1 -0.4 1 -2.2 1 -0.3 1 1.2 1 1.1 1 3.9 1 5.2 1 0.7 1 -2.8 1 -5.8 1 -1.1 1 -0.9 1 -0.2 1 -2.3 1 -2.3 1 -3.3 1 -3.6 1 -2.3 1 -1.2 1 -2.2 1 -2.1 1 0.1 1 -0.5 1 -0.3 1 -0.8 1 -0.7 1 -3.3 1 -3.1 1 -3.2 1 -1.1 1 1.4 1 3.8 1 1.4 1 -2.3 1 1.6 1 2 1 -1.4 1 -0.6 1 2.3 1 6.1" stroke="#ff3030" stroke-width="0.9" fill="none" stroke-linejoin="round" />
<path d="M71.9 607l1 0.6 1 0.4 1 -0.3 1 0.4 1 0.3 1 -0.1 1 0.6 1 0.5 1 0 1 0.1 1 -0.2 1 1.2 1 -0.8 1 1 1 -0.4 1 0.3 1 0.1 1 -0.3 1 0.1 1 -0.2 1 0 1 0.1 1 -0.1 1 0.1 1 0.5 1 -0.5 1 0.6 1 -1.2 1 -0.5 1 -0.7 1 1 1 0.8 1 0 1 -0.1 1 0.4 1 0 1 -0.4 1 0 1 2 1 0.7 1 1.4 1 -1.4 1 -1.9 1 -2.1 1 -0.5 1 1.7 1 1.3 1 0.6 1 1.5 1 -0.3 1 -1.9 1 0.5 1 -0.2 1 -0.1 1 0.1 1 -0.7 1 -0.4 1 1.9 1 3 1 1.8 1 1.6 1 -0.2 1 -0.6 1 -2.1 1 -0.1 1 -1.4 1 -0.3 1 -0.4 1 -1.5 1 -3.9 1 -1 1 0.3 1 1.4 1 2.8 1 2.8 1 1.2 1 1.1 1 0.5 1 -0.7 1 0.1 1 -1.4 1 -0.4 1 1.4 1 1.3 1 1.8 1 1.8 1 -0.4 1 -0.7 1 -3.7 1 -2.6 1 -0.4 1 4.6 1 5.7 1 6.5 1 3.9 1 2.9 1 -4.8 1 -7.8 1 -6.7 1 -1.3 1 3.9 1 6 1 5.1 1 1.3 1 -3 1 -3.3 1 -3.9 1 0.9 1 0.9 1 -0.7 1 -0.6 1 -1.1 1 -1.1 1 -2.2 1 -0.9 1 2.3 1 0.3 1 -1.8 1 1.5 1 5 1 2.7 1 1.3 1 1 1 1.1 1 -0.7 1 0.5 1 1.3 1 -1.1 1 -1.6 1 1.4 1 2.1 1 -0.1 1 -2.4 1 -3.7 1 -3.1 1 -3.1 1 -2.6 1 -0.5 1 0.2 1 0.1 1 -0.8 1 2.6 1 2.2 1 2.9 1 3.2 1 0.6 1 -7.9 1 -3.3 1 -2.4 1 0.3 1 1.5 1 1 1 2.2 1 2 1 -0.6 1 -1.2 1 0.6 1 0.2 1 0 1 -0.3 1 -1.5 1 -1.2 1 -2.3 1 -1.2 1 0.2 1 0.2 1 -0.2 1 -0.7 1 0.6 1 -2.4 1 -2 1 -0.9 1 -0.9 1 -0.3 1 -0.6 1 1.4 1 0.3 1 -0.1 1 -0.1 1 1.1 1 2.8 1 -0.3 1 -4.2 1 0.6 1 3.6 1 3.5 1 5.4 1 3.4 1 -0.2 1 7 1 4.1 1 3.2 1 2.1 1 -9.7 1 -7.4 1 -2.4 1 1.1 1 0.7 1 3.4 1 8.4 1 7.4 1 -0.6 1 -3.8 1 -6.8 1 -4.6 1 -2.3 1 4 1 -1.5 1 -3.1 1 -1.9 1 -2.3 1 -4.1 1 -2.2 1 -2.5 1 -0.5 1 -0.6 1 -0.9 1 -0.2 1 -1 1 0 1 -0.1 1 1.5 1 1.6 1 5.2 1 9.4 1 9.7 1 4.5 1 3.8 1 2.5 1 -0.3 1 -1.6 1 -4 1 -5 1 -1.4 1 -1.8 1 -0.9 1 -0.8 1 -0.3 1 -1 1 -0.8 1 -0.1 1 1.6 1 1.4 1 1.1 1 -1.3 1 -1.9 1 -0.9 1 -0.3 1 0.4 1 0.1 1 -0.4 1 0.3 1 2 1 -1.1 1 0.3 1 -0.9 1 -0.2 1 -0.3 1 -0.1 1 -2.3 1 -1.6 1 -1.3 1 -0.1 1 -0.7 1 -2.2 1 -2.2 1 -2.7 1 -4.5 1 -1.6 1 -0.9 1 1.4 1 4.4 1 7.2 1 4.1 1 4 1 2.7 1 1.5 1 0.1 1 0.2 1 -0.9 1 0.5 1 3.4 1 0.1 1 -0.4 1 -1.2 1 -0.2 1 0.8 1 1.4 1 -0.7 1 -0.4 1 -2.1 1 -3 1 0.7 1 0.5 1 1.4 1 0.9 1 1.7 1 0.6 1 1.5 1 1.2 1 1.2 1 1.1 1 -2.6 1 -3 1 -2.5 1 -2.1 1 -1 1 -1.5 1 -0.9 1 -1.2 1 -0.3 1 -2.1 1 -0.1 1 -2.1 1 -2.9 1 -2.9 1 -3.8 1 -4.2 1 -3.5 1 -1 1 -0.3 1 0.6 1 0.5 1 0.7 1 0.6 1 -0.8 1 2.4 1 1.3 1 0.6 1 3.2 1 1.3 1 1.6 1 1.2 1 1.7 1 0.2 1 1.7 1 1.1 1 0.6 1 -1.7 1 -0.4 1 0.8 1 0.5 1 0.9 1 0.7 1 0.7 1 -1.5 1 -0.1 1 0.8 1 -0.7 1 -0.6 1 -0.9 1 -1.7 1 -1.4 1 -3 1 -2 1 -1.1 1 -1 1 -0.3 1 -0.1 1 -0.6 1 -0.9 1 0 1 -0.5 1 -0.3 1 -0.8 1 -0.2 1 -0.1 1 -0.7 1 -0.5 1 -1.4 1 -1.1 1 -1.5 1 -2.6 1 -2.7 1 -3.2 1 -1.5 1 -2 1 -1 1 -1.2 1 0.1 1 1 1 1.6 1 1.2 1 1.2 1 0.1 1 -0.7 1 -0.6 1 1.5 1 2 1 1.3 1 1.9 1 1 1 0.5 1 0.3 1 9.3 1 -1.4 1 -1.5 1 5.7 1 7 1 -2.2 1 0.1 1 4.4 1 2.2 1 0.9 1 -2.1 1 -1.9 1 -0.3 1 -0.1 1 1.9 1 2.5 1 3.5 1 3.9 1 3.7 1 0.9 1 0 1 0 1 -0.6 1 2.2 1 3.2 1 5.5 1 0.9 1 -3.6 1 -7.1 1 -2.2 1 1 1 2.7 1 0.4 1 0.9 1 0.8 1 -1.7 1 -1.4 1 -4.7 1 -4 1 -2.1 1 2.6 1 3 1 -1.3 1 -1.6 1 -3 1 -1.6 1 -1.8 1 -2 1 -2.1 1 -0.9 1 0.7 1 2.2 1 2.3 1 0.2 1 0.6 1 1.3 1 0.3 1 2 1 1.4" stroke="#2a2a2a" stroke-width="0.9" fill="none" stroke-linejoin="round" />
</g>
<path d="M77.6 596.4L94.2 596.4" stroke="#ff3030" stroke-width="1.0" fill="none" />
<text x="96.1" y="599.7" font-size="10" fill="#ff0000" xml:space="preserve">T</text>
<text x="101.3" y="605.2" font-size="8.5" text-anchor="start" fill="#ff3030" >||</text>
<path d="M77.6 615.2L94.2 615.2" stroke="#666" stroke-width="1.6" fill="none" />
<text x="96.1" y="618.5" font-size="10" fill="#201010" xml:space="preserve">T</text>
<text x="102" y="624.6" font-size="7.5" text-anchor="start" fill="#a06060" >⊥</text>
<clipPath id="cl9"><rect x="71.6" y="654.3" width="454" height="68.7"/></clipPath><g clip-path="url(#cl9)">
<path d="M71.9 716.4l1 0.2 1 -0.5 1 0.2 1 0.2 1 -0.2 1 0 1 0 1 -0.1 1 0 1 0.4 1 0 1 -0.2 1 0.3 1 -0.6 1 0.4 1 0 1 0.2 1 -0.3 1 -0.2 1 0.2 1 -0.2 1 0.1 1 0.1 1 -0.2 1 0 1 0.1 1 0 1 -0.2 1 0 1 0.5 1 -0.1 1 -0.1 1 0.1 1 0.2 1 -0.2 1 -0.2 1 0.3 1 -0.2 1 0.1 1 -0.1 1 -0.5 1 -0.2 1 -0.3 1 0.5 1 -0.9 1 0.8 1 -0.9 1 0.3 1 0 1 0.4 1 -0.2 1 -0.4 1 0.5 1 -0.6 1 0.5 1 -0.2 1 -0.1 1 -0.3 1 0.5 1 -0.5 1 -0.5 1 -0.1 1 0.5 1 0.2 1 -0.3 1 0.1 1 0 1 0.7 1 0.4 1 0.6 1 0.3 1 0.4 1 0.1 1 0.8 1 -0.8 1 0.2 1 -0.7 1 0.1 1 -0.1 1 -0.1 1 -0.2 1 -0.2 1 0.1 1 0.5 1 -0.5 1 0.2 1 0.2 1 0.5 1 -0.2 1 -0.9 1 -0.2 1 -0.3 1 -0.9 1 -0.3 1 -1.2 1 0.8 1 0.2 1 0.7 1 0 1 0.4 1 0.1 1 -0.7 1 -0.4 1 0.8 1 0 1 0.1 1 -0.5 1 0.3 1 0 1 0.8 1 0.2 1 0 1 0 1 1 1 0.9 1 0.1 1 -0.8 1 -1 1 -0.5 1 -0.7 1 -0.8 1 1 1 0.2 1 0.8 1 -0.4 1 -0.3 1 -0.3 1 0.5 1 -0.1 1 -1.3 1 0.1 1 -0.2 1 0.7 1 1 1 0.3 1 0.9 1 0.4 1 0.7 1 0.1 1 -0.4 1 -0.3 1 0.2 1 -0.5 1 -0.2 1 0.1 1 -0.7 1 -0.7 1 0 1 -0.7 1 0 1 -0.6 1 0.3 1 -0.5 1 -0.1 1 0.2 1 0.2 1 -0.3 1 0.4 1 -0.4 1 0 1 0 1 0.1 1 0.5 1 -0.2 1 0.6 1 -0.2 1 0.7 1 -0.6 1 0.5 1 0 1 0.1 1 0.3 1 0.4 1 0.3 1 -0.6 1 0.8 1 -0.6 1 0.6 1 -0.3 1 0 1 0.3 1 0.3 1 -0.1 1 0.2 1 0.3 1 -0.7 1 0.3 1 0 1 -1.8 1 -1.5 1 -1.2 1 -0.7 1 0.4 1 1.9 1 0.8 1 1 1 0.2 1 0.3 1 0 1 0.3 1 -0.9 1 -1 1 -0.5 1 -0.3 1 0.2 1 1.2 1 0.2 1 1.1 1 0.1 1 -0.3 1 0.2 1 0.2 1 0 1 0.1 1 0.3 1 -0.4 1 -0.5 1 0.4 1 -0.2 1 0.1 1 -0.6 1 0.7 1 -0.3 1 -1.2 1 -0.8 1 -0.5 1 -0.3 1 0.2 1 -0.3 1 -0.3 1 -0.5 1 0.3 1 0.3 1 -0.5 1 -0.1 1 0.8 1 0.1 1 0 1 0.6 1 -0.1 1 0.1 1 -0.1 1 0.6 1 -0.3 1 0 1 0.1 1 0.3 1 0 1 0.6 1 -0.1 1 0.4 1 -0.9 1 -0.6 1 -0.2 1 -0.1 1 0.4 1 0.5 1 0 1 -0.1 1 0.6 1 -0.3 1 0.4 1 0.2 1 0.1 1 0.1 1 -0.2 1 0.3 1 0.2 1 0.1 1 0.6 1 -0.2 1 -0.3 1 -0.5 1 -0.3 1 -0.4 1 -0.5 1 0 1 -0.6 1 -0.3 1 0.2 1 -0.3 1 0.1 1 -0.9 1 0 1 0 1 -0.8 1 0 1 -0.2 1 0.2 1 0.6 1 0.7 1 0.1 1 0.2 1 0.6 1 -0.5 1 -0.7 1 -0.1 1 0 1 -0.1 1 -0.4 1 -0.3 1 0.8 1 -0.1 1 0.9 1 0.3 1 0.2 1 0.6 1 0.4 1 0.2 1 0.5 1 0.3 1 0.6 1 0.1 1 -0.1 1 0.2 1 0.2 1 0.6 1 0.2 1 -0.1 1 0.2 1 -0.1 1 -0.3 1 0 1 -0.4 1 0.1 1 -0.3 1 0 1 -0.2 1 -0.2 1 -0.3 1 -0.7 1 -0.2 1 0.6 1 -0.8 1 -0.2 1 0.2 1 0.4 1 0.1 1 0.2 1 0 1 0.2 1 0.5 1 0.9 1 -0.5 1 0.9 1 -0.2 1 0.2 1 0 1 -0.1 1 0.5 1 -0.7 1 0.1 1 0.5 1 -0.1 1 0.1 1 -0.3 1 0.3 1 -0.2 1 -0.1 1 -0.2 1 -0.4 1 0.3 1 -0.1 1 0.1 1 0.3 1 -0.2 1 -0.2 1 -0.3 1 0.2 1 0.4 1 -0.1 1 0.1 1 0.1 1 0.4 1 -0.4 1 0.1 1 0.5 1 -0.5 1 0.5 1 0 1 0.2 1 -0.5 1 0.3 1 -1.1 1 0 1 -0.4 1 -0.2 1 -0.2 1 -0.5 1 -0.2 1 0.4 1 -0.2 1 -0.6 1 -0.1 1 0 1 0.5 1 0.3 1 0 1 0.5 1 -0.9 1 -0.9 1 0.1 1 -0.1 1 0.2 1 0.5 1 0.7 1 0.1 1 0.2 1 -0.4 1 -0.2 1 -0.7 1 -0.1 1 0.2 1 -0.6 1 0.6 1 -0.3 1 -0.7 1 -0.5 1 -0.6 1 -1.4 1 -0.2 1 1.2 1 -0.2 1 0.3 1 -0.4 1 0.6 1 -0.1 1 0.9 1 -0.2 1 -0.2 1 0.8 1 0.1 1 0.4 1 -0.2 1 0.2 1 0.2 1 0.3 1 -0.1 1 0.4 1 0.6 1 0.2 1 0.2 1 -0.4 1 -0.3 1 0 1 -0.1 1 -0.2 1 -0.6 1 0.1 1 -0.2 1 0.3 1 -0.2" stroke="#ff4040" stroke-width="0.9" fill="none" stroke-linejoin="round" />
<path d="M71.9 720.9l0.8 -0.7 0.8 -0.3 0.8 -0.1 0.8 0.4 0.8 0.6 0.8 -1 0.8 0.1 0.8 -0.3 0.8 -0.2 0.8 -0.3 0.8 0.7 0.8 -0.5 0.8 -0.4 0.8 -0.5 0.8 0.4 0.8 0.3 0.8 0.1 0.8 0.3 0.8 0.4 0.8 -0.4 0.8 1.2 0.8 -0.8 0.8 0.7 0.8 -0.2 0.8 -0.6 0.8 0.4 0.8 0 0.8 0.8 0.8 -0.3 0.8 -1 0.8 -0.3 0.8 0 0.8 0.3 0.8 -0.5 0.8 -0.2 0.8 2.1 0.8 -2.1 0.8 -0.8 0.8 1.7 0.8 0.2 0.8 -0.8 0.8 0.2 0.8 0.1 0.8 0.5 0.8 -0.3 0.8 -0.5 0.8 -0.3 0.8 -0.2 0.8 0.3 0.8 -0.5 0.8 -0.4 0.8 -0.3 0.8 -0.9 0.8 -0.8 0.8 -0.4 0.8 -0.8 0.8 0.7 0.8 -0.4 0.8 0.8 0.8 -0.3 0.8 0 0.8 -1.3 0.8 1 0.8 -0.4 0.8 0.5 0.8 -1.5 0.8 0.9 0.8 -0.6 0.8 1 0.8 0.5 0.8 1 0.8 -0.1 0.8 1.7 0.8 -0.5 0.8 0.6 0.8 -3.1 0.8 -1.9 0.8 -1.6 0.8 -0.2 0.8 -0.9 0.8 2 0.8 2.8 0.8 2.3 0.8 2.3 0.8 -0.4 0.8 1.1 0.8 -2.9 0.8 -2.3 0.8 -3.3 0.8 -1.9 0.8 -1.2 0.8 0.6 0.8 2.7 0.8 2.8 0.8 0.9 0.8 -0.8 0.8 -0.5 0.8 0.4 0.8 -0.6 0.8 -0.1 0.8 -0.1 0.8 -0.2 0.8 -1.6 0.8 -1.5 0.8 0.5 0.8 -0.2 0.8 -0.2 0.8 -0.1 0.8 2.9 0.8 2.9 0.8 -3.2 0.8 -1.3 0.8 -2.2 0.8 1.5 0.8 0.8 0.8 1.1 0.8 -0.4 0.8 -1.3 0.8 -1.9 0.8 -0.3 0.8 1 0.8 2.1 0.8 -1.8 0.8 -0.2 0.8 0.9 0.8 -2.6 0.8 -4.7 0.8 -0.4 0.8 -0.3 0.8 2.4 0.8 0.7 0.8 0.7 0.8 1.8 0.8 0.6 0.8 0 0.8 -0.2 0.8 0.1 0.8 -0.3 0.8 -1.1 0.8 1.4 0.8 -1.6 0.8 -1.4 0.8 -2.6 0.8 -3.9 0.8 -1.9 0.8 -2.7 0.8 8 0.8 5.7 0.8 7.7 0.8 1.2 0.8 -5.2 0.8 -0.8 0.8 -1.6 0.8 -1.3 0.8 1.9 0.8 -1.4 0.8 0.4 0.8 -1.6 0.8 1.4 0.8 0.6 0.8 1.4 0.8 0.4 0.8 -0.2 0.8 0 0.8 -0.6 0.8 1.9 0.8 -0.2 0.8 -2.5 0.8 -0.8 0.8 -1.2 0.8 -0.8 0.8 -1.5 0.8 0.7 0.8 1.7 0.8 0.6 0.8 -1.8 0.8 -0.7 0.8 0.6 0.8 1.1 0.8 1.7 0.8 1.8 0.8 3.1 0.8 0.3 0.8 -6.1 0.8 -2.9 0.8 4.3 0.8 3.2 0.8 0.7 0.8 1.2 0.8 0.5 0.8 -1 0.8 1.9 0.8 -0.9 0.8 0.9 0.8 -0.5 0.8 1.3 0.8 -0.6 0.8 0.6 0.8 -1.3 0.8 -1.3 0.8 -1.9 0.8 1.5 0.8 2.4 0.8 -0.2 0.8 0.1 0.8 0.1 0.8 -0.4 0.8 -0.1 0.8 -0.7 0.8 -1.3 0.8 -1.3 0.8 -1.2 0.8 -1.5 0.8 -0.7 0.8 -2.6 0.8 -1.1 0.8 1.1 0.8 0.2 0.8 2.1 0.8 2.6 0.8 1.3 0.8 0.8 0.8 -2.4 0.8 -1.6 0.8 -0.9 0.8 -0.6 0.8 -0.6 0.8 0 0.8 1.2 0.8 1.5 0.8 1.7 0.8 0.9 0.8 -0.6 0.8 -2 0.8 0 0.8 -0.7 0.8 2 0.8 1.8 0.8 -1.4 0.8 0.1 0.8 0 0.8 0.3 0.8 -1.7 0.8 -2.2 0.8 -0.4 0.8 -1.4 0.8 0.4 0.8 0.5 0.8 0.1 0.8 -1.1 0.8 -0.5 0.8 1.8 0.8 3.4 0.8 3.5 0.8 -0.6 0.8 -2.2 0.8 -1.1 0.8 -0.6 0.8 2.1 0.8 2.5 0.8 0.6 0.8 0.6 0.8 0.3 0.8 0.5 0.8 -0.2 0.8 -0.1 0.8 1.2 0.8 1 0.8 0.1 0.8 -1.2 0.8 0.9 0.8 0.4 0.8 -0.5 0.8 0 0.8 0.4 0.8 -0.5 0.8 -1 0.8 -0.1 0.8 -0.4 0.8 -2.2 0.8 -2.4 0.8 -1.1 0.8 -0.4 0.8 0.6 0.8 -0.6 0.8 0.7 0.8 -0.8 0.8 -0.2 0.8 1.3 0.8 0.2 0.8 1 0.8 0.9 0.8 0.4 0.8 -1 0.8 0.6 0.8 0.1 0.8 0.5 0.8 0.5 0.8 0.6 0.8 -0.1 0.8 1 0.8 0 0.8 -0.4 0.8 0.9 0.8 -1.6 0.8 0 0.8 -2.1 0.8 -0.2 0.8 -2.1 0.8 0.2 0.8 -1.6 0.8 -1.6 0.8 1.1 0.8 1.2 0.8 1 0.8 0.2 0.8 0.9 0.8 1.4 0.8 -1.1 0.8 -0.5 0.8 -0.1 0.8 0.4 0.8 0.7 0.8 -0.2 0.8 0.1 0.8 -1 0.8 0.4 0.8 -1.2 0.8 -0.2 0.8 0.5 0.8 -1.5 0.8 0 0.8 1.6 0.8 0.6 0.8 0.2 0.8 -0.3 0.8 2.2 0.8 -0.7 0.8 -1.8 0.8 0.3 0.8 -0.8 0.8 -2.1 0.8 -0.2 0.8 -1.2 0.8 0.1 0.8 2.7 0.8 0.2 0.8 -1.2 0.8 -0.2 0.8 -1 0.8 0.1 0.8 -0.3 0.8 3.1 0.8 1.6 0.8 0.9 0.8 -0.2 0.8 0.3 0.8 1.1 0.8 0.3 0.8 0.4 0.8 0 0.8 1.2 0.8 0.2 0.8 -1.2 0.8 0.7 0.8 0.6 0.8 0.4 0.8 -1.4 0.8 0.5 0.8 0.9 0.8 -0.1 0.8 0.9 0.8 -1.3 0.8 0.2 0.8 -1.3 0.8 -0.1 0.8 -0.2 0.8 -0.8 0.8 -0.9 0.8 0.1 0.8 -0.7 0.8 1.2 0.8 -1 0.8 -0.7 0.8 1 0.8 0.2 0.8 -0.2 0.8 0.3 0.8 0.4 0.8 1 0.8 -1.8 0.8 -1.6 0.8 -0.4 0.8 0.1 0.8 1.4 0.8 -0.8 0.8 -1.2 0.8 0.6 0.8 0.8 0.8 0 0.8 0 0.8 1.3 0.8 0 0.8 -0.9 0.8 -0.9 0.8 1 0.8 -2.2 0.8 -1.5 0.8 -0.8 0.8 -1 0.8 -0.7 0.8 1.5 0.8 3.9 0.8 1.5 0.8 1.7 0.8 1.8 0.8 0.5 0.8 0.5 0.8 -1 0.8 -1.3 0.8 -0.1 0.8 -0.8 0.8 -0.7 0.8 0.1 0.8 -0.4 0.8 -0.3 0.8 -1.7 0.8 0.1 0.8 0.5 0.8 -0.3 0.8 0.1 0.8 -1.3 0.8 -0.3 0.8 0.5 0.8 0.2 0.8 1.5 0.8 -1.4 0.8 1.8 0.8 0 0.8 1.3 0.8 -0.9 0.8 0.3 0.8 -0.2 0.8 0.7 0.8 0.4 0.8 0 0.8 0.2 0.8 -0.5 0.8 1.8 0.8 -0.7 0.8 -0.7 0.8 1 0.8 -0.3 0.8 -0.6 0.8 -0.2 0.8 0.1 0.8 0.1 0.8 -0.1 0.8 -0.4 0.8 0.4 0.8 -0.3 0.8 0.6 0.8 -0.6 0.8 0.3 0.8 1 0.8 0.2 0.8 -0.8 0.8 -0.1 0.8 0 0.8 -1.2 0.8 0.7 0.8 0.9 0.8 0.1 0.8 0.3 0.8 0.7 0.8 -0.3 0.8 0.2 0.8 -1 0.8 0.9 0.8 -1.7 0.8 0.9 0.8 -0.5 0.8 -0.5 0.8 -1.1 0.8 0.9 0.8 -1.5 0.8 2 0.8 0.5 0.8 1.4 0.8 -0.5 0.8 1.2 0.8 -0.2 0.8 0.6 0.8 -0.4 0.8 -1 0.8 -0.5 0.8 -1.7 0.8 -3.3 0.8 -5.5 0.8 -1.7 0.8 0.5 0.8 0.1 0.8 0.6 0.8 0 0.8 -1.4 0.8 1.1 0.8 1.5 0.8 -0.6 0.8 -1.1 0.8 1.5 0.8 0.2 0.8 1.3 0.8 1.6 0.8 0.8 0.8 -1.5 0.8 -1.1 0.8 -1 0.8 -0.6 0.8 0 0.8 1.5 0.8 -0.1 0.8 -0.5 0.8 0.7 0.8 -0.6 0.8 -0.5 0.8 0.1 0.8 1.3 0.8 3.3 0.8 2.2 0.8 0 0.8 0.4 0.8 0.3 0.8 -1.6 0.8 -0.4 0.8 1 0.8 0.1 0.8 0 0.8 1.2 0.8 -0.5 0.8 -0.3 0.8 0.4 0.8 0.6 0.8 0.9 0.8 -1.3 0.8 1 0.8 0.6 0.8 0.4 0.8 0.5 0.8 -0.3 0.8 0 0.8 -0.6 0.8 -0.7 0.8 -1.3 0.8 0.3 0.8 -1.9 0.8 0.2 0.8 0.5 0.8 1 0.8 -1 0.8 1.6 0.8 -0.6 0.8 -0.5 0.8 -0.8 0.8 1 0.8 -0.3 0.8 -0.2" stroke="#2a2a2a" stroke-width="0.9" fill="none" stroke-linejoin="round" />
<path d="M71.9 679.4l0.8 -0.2 0.8 0.9 0.8 -0.1 0.8 0.1 0.8 -0.4 0.8 0 0.8 0.7 0.8 -0.2 0.8 0.3 0.8 0.3 0.8 -0.3 0.8 -0.5 0.8 0 0.8 0.4 0.8 0 0.8 -0.2 0.8 -0.5 0.8 -0.5 0.8 -0.1 0.8 0.2 0.8 -0.3 0.8 0.5 0.8 -1.2 0.8 0.8 0.8 -0.4 0.8 0.1 0.8 -0.1 0.8 0.7 0.8 -0.7 0.8 0.8 0.8 -0.4 0.8 0.1 0.8 -0.1 0.8 -0.3 0.8 0 0.8 -0.2 0.8 -0.3 0.8 0.4 0.8 0.2 0.8 0.5 0.8 -0.3 0.8 1 0.8 0.1 0.8 -0.1 0.8 0.3 0.8 -0.1 0.8 0.7 0.8 0.3 0.8 -0.4 0.8 0.5 0.8 0.4 0.8 -0.1 0.8 -1 0.8 0.2 0.8 -0.5 0.8 -0.7 0.8 -0.6 0.8 0.3 0.8 -0.6 0.8 -0.3 0.8 0 0.8 -0.4 0.8 1.5 0.8 -1 0.8 0 0.8 0.6 0.8 -0.6 0.8 0.9 0.8 0 0.8 0 0.8 0.6 0.8 0.1 0.8 -0.3 0.8 0.7 0.8 0.3 0.8 0.2 0.8 2.5 0.8 1.8 0.8 0.9 0.8 -0.9 0.8 -2.9 0.8 -3.2 0.8 0.4 0.8 0.4 0.8 0.2 0.8 1.5 0.8 1.6 0.8 0.8 0.8 2.4 0.8 1.6 0.8 1.3 0.8 -1 0.8 -1 0.8 -1.6 0.8 -0.8 0.8 0.1 0.8 0.7 0.8 0.7 0.8 -1.7 0.8 0.4 0.8 0.6 0.8 1 0.8 1.5 0.8 0.1 0.8 -1.8 0.8 -1.4 0.8 -1.1 0.8 -1.6 0.8 -0.6 0.8 -0.3 0.8 0.1 0.8 2.2 0.8 0.9 0.8 -1.4 0.8 -1.3 0.8 0.1 0.8 -1.6 0.8 1.3 0.8 0.5 0.8 -1.9 0.8 -2.4 0.8 1 0.8 -1 0.8 -1.3 0.8 2.3 0.8 4.9 0.8 1 0.8 1.1 0.8 0.5 0.8 1.1 0.8 0.6 0.8 -1.6 0.8 0.2 0.8 -0.9 0.8 0.2 0.8 -0.8 0.8 0.3 0.8 0 0.8 -0.7 0.8 1.1 0.8 1.9 0.8 1.9 0.8 2.3 0.8 2.2 0.8 2.7 0.8 1.5 0.8 -6.5 0.8 -6.3 0.8 -4.6 0.8 -0.2 0.8 0.5 0.8 3.1 0.8 3.4 0.8 3 0.8 -0.4 0.8 -0.5 0.8 0.2 0.8 1.7 0.8 -1.7 0.8 -1.5 0.8 -0.7 0.8 0.6 0.8 0.1 0.8 -0.9 0.8 0 0.8 0.7 0.8 1.2 0.8 1.2 0.8 0.5 0.8 1.6 0.8 0.9 0.8 0.7 0.8 -2.9 0.8 -1.9 0.8 2.1 0.8 2.3 0.8 -1.8 0.8 -2 0.8 -0.9 0.8 -0.1 0.8 -2.2 0.8 -1 0.8 1.6 0.8 -2.5 0.8 -3.3 0.8 -3.8 0.8 -4 0.8 -0.5 0.8 0.6 0.8 2 0.8 1.2 0.8 1.6 0.8 -0.2 0.8 -1.3 0.8 -0.9 0.8 -0.5 0.8 -1.1 0.8 0.7 0.8 -0.2 0.8 0.4 0.8 0.1 0.8 0.1 0.8 -1 0.8 -0.4 0.8 -0.5 0.8 -0.5 0.8 0.7 0.8 1.3 0.8 0.8 0.8 1.5 0.8 1.1 0.8 0.9 0.8 1.9 0.8 1.5 0.8 2 0.8 1.3 0.8 -3 0.8 -2.5 0.8 1.3 0.8 -0.6 0.8 1.2 0.8 1.7 0.8 1.8 0.8 0.4 0.8 0.8 0.8 0.8 0.8 1 0.8 -0.9 0.8 -0.8 0.8 0.4 0.8 1.7 0.8 1.1 0.8 1.1 0.8 1.5 0.8 -1.8 0.8 -0.7 0.8 -1.8 0.8 -1.3 0.8 -0.7 0.8 -0.5 0.8 -0.9 0.8 0.1 0.8 0.3 0.8 2.5 0.8 2.3 0.8 2 0.8 1.4 0.8 0.5 0.8 0.1 0.8 -0.8 0.8 -1.9 0.8 -1.7 0.8 -2.7 0.8 -1.6 0.8 1.2 0.8 1.8 0.8 2.9 0.8 0.6 0.8 -0.4 0.8 -2.3 0.8 -1.5 0.8 -1.1 0.8 -1.5 0.8 -1.2 0.8 -0.9 0.8 -1.3 0.8 0 0.8 -1.4 0.8 -0.3 0.8 -1.3 0.8 0.7 0.8 -1.4 0.8 0 0.8 1 0.8 0.4 0.8 1.1 0.8 0.5 0.8 0.4 0.8 0.9 0.8 1.7 0.8 3.1 0.8 0.7 0.8 1.3 0.8 1.7 0.8 1.3 0.8 0.3 0.8 0.3 0.8 -1.1 0.8 -1.6 0.8 -1.6 0.8 -2.3 0.8 -1.1 0.8 -1.9 0.8 0.4 0.8 -0.5 0.8 -0.4 0.8 0.8 0.8 0.8 0.8 1.1 0.8 -0.1 0.8 1.4 0.8 -0.5 0.8 1.7 0.8 0.3 0.8 1.1 0.8 -0.4 0.8 0 0.8 1.2 0.8 1.3 0.8 0.6 0.8 0.7 0.8 0.2 0.8 -0.7 0.8 -0.8 0.8 -1.2 0.8 1.1 0.8 -1.1 0.8 -0.3 0.8 -0.5 0.8 -0.7 0.8 -0.1 0.8 -0.2 0.8 0.5 0.8 0.9 0.8 -0.6 0.8 -0.6 0.8 -0.2 0.8 -1.1 0.8 -0.8 0.8 -1.2 0.8 -1.2 0.8 -1 0.8 -0.7 0.8 -1.3 0.8 0.4 0.8 0 0.8 0.4 0.8 0.9 0.8 0.8 0.8 1.7 0.8 -0.1 0.8 1.1 0.8 0.8 0.8 0.5 0.8 -0.8 0.8 -0.8 0.8 -0.8 0.8 -0.7 0.8 -1.2 0.8 0.8 0.8 -0.7 0.8 -0.7 0.8 -1 0.8 -1.1 0.8 0.1 0.8 0.6 0.8 -1 0.8 1.1 0.8 0.3 0.8 -0.6 0.8 0.3 0.8 -0.4 0.8 0.5 0.8 0.6 0.8 -0.5 0.8 0.8 0.8 0 0.8 -1 0.8 -0.4 0.8 0.5 0.8 -0.1 0.8 0.7 0.8 1.4 0.8 1.2 0.8 1.2 0.8 2.2 0.8 1 0.8 -0.1 0.8 1.8 0.8 0.2 0.8 -1 0.8 -0.3 0.8 -0.2 0.8 0.5 0.8 -0.4 0.8 0.2 0.8 0 0.8 -0.7 0.8 0.1 0.8 -0.4 0.8 0.1 0.8 -0.2 0.8 -0.1 0.8 0.5 0.8 -0.2 0.8 -0.3 0.8 0.3 0.8 -0.7 0.8 -0.3 0.8 0 0.8 0.2 0.8 -0.6 0.8 -1.2 0.8 0.3 0.8 0.3 0.8 0.1 0.8 0 0.8 0.9 0.8 0.8 0.8 0 0.8 -0.2 0.8 -2 0.8 -2.4 0.8 -0.3 0.8 -0.1 0.8 -1 0.8 -0.2 0.8 -0.6 0.8 -0.4 0.8 0.2 0.8 -0.1 0.8 2.3 0.8 0.8 0.8 0.5 0.8 1.4 0.8 0.7 0.8 1.6 0.8 1.6 0.8 1.7 0.8 1 0.8 -0.1 0.8 1.3 0.8 0.8 0.8 -0.5 0.8 -0.3 0.8 -0.3 0.8 0.1 0.8 0.5 0.8 -0.8 0.8 0.3 0.8 -1.3 0.8 0.1 0.8 -1.1 0.8 0.3 0.8 -0.5 0.8 -1.2 0.8 -0.2 0.8 -1.2 0.8 -0.3 0.8 -1.4 0.8 -0.5 0.8 -0.9 0.8 -0.7 0.8 -1 0.8 -0.8 0.8 -0.8 0.8 0.1 0.8 -1.2 0.8 0 0.8 -0.9 0.8 -0.1 0.8 -0.4 0.8 0 0.8 -0.5 0.8 -0.2 0.8 0.1 0.8 -0.8 0.8 -0.8 0.8 -0.8 0.8 0.6 0.8 -1.7 0.8 -1.3 0.8 -0.2 0.8 -0.6 0.8 -1.1 0.8 -1.3 0.8 0.1 0.8 -1.2 0.8 -0.6 0.8 -0.6 0.8 1.8 0.8 1.1 0.8 0.3 0.8 -0.8 0.8 -1.5 0.8 -2.5 0.8 -2 0.8 -2.1 0.8 1.6 0.8 1.5 0.8 0.5 0.8 1 0.8 0.4 0.8 -0.6 0.8 0.1 0.8 2.7 0.8 -0.2 0.8 -0.6 0.8 3.4 0.8 7 0.8 -0.1 0.8 -1.7 0.8 1.1 0.8 1.6 0.8 1.3 0.8 0.7 0.8 0.1 0.8 0.3 0.8 -0.4 0.8 0 0.8 0.1 0.8 0.5 0.8 0.1 0.8 0.1 0.8 2.6 0.8 1.5 0.8 1.6 0.8 1.2 0.8 -0.5 0.8 -2.6 0.8 -1 0.8 1.7 0.8 -0.1 0.8 0.5 0.8 -0.5 0.8 -0.5 0.8 -0.6 0.8 -3.4 0.8 -1.1 0.8 1 0.8 1.2 0.8 0.6 0.8 0.7 0.8 0.1 0.8 0.3 0.8 0.1 0.8 -0.5 0.8 0.1 0.8 0.7 0.8 1.1 0.8 0 0.8 1.3 0.8 0.2 0.8 0.5 0.8 0.4 0.8 -1 0.8 -2 0.8 -0.4 0.8 0.7 0.8 1.1 0.8 -0.2 0.8 -0.1 0.8 -0.6 0.8 -0.4 0.8 -1 0.8 -1.6 0.8 -1.7 0.8 -1.5 0.8 -1.7 0.8 -0.9 0.8 -0.5 0.8 -0.5 0.8 2 0.8 0 0.8 1.2 0.8 0.4" stroke="#38f038" stroke-width="0.9" fill="none" stroke-linejoin="round" />
<path d="M71.9 674.3l0.8 0.1 0.8 -0.5 0.8 0.1 0.8 -0.1 0.8 -0.2 0.8 0.2 0.8 -0.1 0.8 0.1 0.8 -0.1 0.8 -0.1 0.8 1 0.8 -0.4 0.8 0.4 0.8 0.3 0.8 -0.2 0.8 0.2 0.8 0 0.8 -0.2 0.8 0 0.8 0.7 0.8 -0.8 0.8 -0.4 0.8 0 0.8 -0.3 0.8 -0.7 0.8 0.3 0.8 0.1 0.8 0 0.8 -0.6 0.8 0.2 0.8 0.2 0.8 -0.4 0.8 0.2 0.8 -0.6 0.8 -0.2 0.8 0.2 0.8 -0.2 0.8 0.2 0.8 0.2 0.8 0.5 0.8 -0.2 0.8 -0.1 0.8 0.8 0.8 0.4 0.8 0.2 0.8 0.5 0.8 -0.2 0.8 0.8 0.8 0.2 0.8 -1.3 0.8 -0.5 0.8 -1 0.8 0.3 0.8 -0.7 0.8 -0.6 0.8 -1 0.8 -0.1 0.8 -1 0.8 0 0.8 -1.1 0.8 0.2 0.8 -0.8 0.8 -0.6 0.8 0.3 0.8 -0.4 0.8 0.3 0.8 0.7 0.8 0.2 0.8 -0.1 0.8 1.5 0.8 0.4 0.8 0.9 0.8 0.4 0.8 0.4 0.8 0.2 0.8 1 0.8 -0.4 0.8 -0.3 0.8 -0.4 0.8 -0.6 0.8 -0.4 0.8 -0.8 0.8 0.9 0.8 1.3 0.8 0.3 0.8 1.6 0.8 0.7 0.8 -1 0.8 -0.5 0.8 0.4 0.8 -0.1 0.8 1.1 0.8 0.8 0.8 -0.1 0.8 1.2 0.8 -0.7 0.8 0.2 0.8 -0.3 0.8 -0.1 0.8 -1.6 0.8 0.3 0.8 0.7 0.8 -0.4 0.8 -2.7 0.8 -0.5 0.8 -1.9 0.8 -0.8 0.8 1.3 0.8 1.5 0.8 0.2 0.8 -0.2 0.8 0.2 0.8 -0.3 0.8 -0.1 0.8 -1.3 0.8 -0.9 0.8 -2.8 0.8 -3.6 0.8 1.1 0.8 -0.2 0.8 0.1 0.8 -1 0.8 -0.3 0.8 -0.8 0.8 1.1 0.8 2.1 0.8 -0.1 0.8 -0.5 0.8 0.6 0.8 1.4 0.8 1 0.8 -0.1 0.8 1 0.8 0.1 0.8 0.8 0.8 -0.6 0.8 0 0.8 0.4 0.8 -0.8 0.8 0.7 0.8 1.3 0.8 1.3 0.8 0.7 0.8 0.9 0.8 1 0.8 1.5 0.8 -3.2 0.8 -1.4 0.8 0.8 0.8 0.8 0.8 -0.7 0.8 -1 0.8 2.7 0.8 1.5 0.8 -0.5 0.8 -1.3 0.8 0.9 0.8 1 0.8 -0.7 0.8 -1.6 0.8 0.7 0.8 0.9 0.8 -0.5 0.8 -1.1 0.8 0.4 0.8 0.4 0.8 1.2 0.8 0.5 0.8 1 0.8 1.3 0.8 0.4 0.8 -1.4 0.8 -0.9 0.8 0.7 0.8 0.4 0.8 -1 0.8 0.4 0.8 -0.6 0.8 -0.1 0.8 -0.5 0.8 -1.3 0.8 -1.1 0.8 0.5 0.8 -1.2 0.8 -2.3 0.8 -2.9 0.8 -2.5 0.8 -1.7 0.8 0.7 0.8 1.9 0.8 0.6 0.8 1 0.8 1.6 0.8 -1.2 0.8 0.1 0.8 -1.2 0.8 -0.4 0.8 0.8 0.8 0.2 0.8 0 0.8 -1 0.8 -0.6 0.8 0.4 0.8 1 0.8 0 0.8 0.1 0.8 0.4 0.8 -0.3 0.8 1 0.8 -0.3 0.8 0.1 0.8 0.1 0.8 1.1 0.8 0.1 0.8 1 0.8 0.7 0.8 -2.3 0.8 -0.1 0.8 0.8 0.8 1.8 0.8 0.4 0.8 1.2 0.8 -0.4 0.8 0.5 0.8 -0.1 0.8 0.2 0.8 -1.2 0.8 1.3 0.8 2.5 0.8 1.5 0.8 1.2 0.8 1 0.8 0.8 0.8 -0.6 0.8 -1.3 0.8 -1.2 0.8 -1.6 0.8 -0.9 0.8 -1.3 0.8 -0.6 0.8 -0.7 0.8 0 0.8 0.7 0.8 2.2 0.8 2.2 0.8 1.3 0.8 1.3 0.8 0.6 0.8 -0.9 0.8 -2 0.8 -0.5 0.8 -0.7 0.8 -0.7 0.8 -0.3 0.8 1.2 0.8 2.6 0.8 1.4 0.8 1.4 0.8 0.9 0.8 -0.2 0.8 -0.3 0.8 -1.2 0.8 -0.6 0.8 -0.7 0.8 -0.2 0.8 -0.8 0.8 0 0.8 0.2 0.8 -0.6 0.8 -1.2 0.8 -0.5 0.8 -1.3 0.8 -1 0.8 1.2 0.8 1.7 0.8 0.7 0.8 0.3 0.8 0.9 0.8 -0.4 0.8 -1.8 0.8 -1.8 0.8 -0.5 0.8 -1.1 0.8 1.7 0.8 1.9 0.8 1.1 0.8 0.7 0.8 -0.3 0.8 -1.9 0.8 -1.5 0.8 -0.3 0.8 -1.1 0.8 -0.8 0.8 -1 0.8 -0.5 0.8 0.9 0.8 1.4 0.8 0 0.8 1.5 0.8 1.1 0.8 0.7 0.8 1.4 0.8 -0.7 0.8 0.5 0.8 -0.7 0.8 0.2 0.8 0.2 0.8 0.4 0.8 0 0.8 1.2 0.8 -0.5 0.8 0 0.8 -1.2 0.8 -0.3 0.8 0.1 0.8 -1 0.8 0.2 0.8 -0.5 0.8 -1 0.8 0.3 0.8 0.2 0.8 0.5 0.8 -0.2 0.8 1.5 0.8 0.2 0.8 -0.7 0.8 -0.9 0.8 -1.3 0.8 0.1 0.8 -1.3 0.8 -1.4 0.8 -0.7 0.8 -0.4 0.8 -0.8 0.8 1.2 0.8 1.1 0.8 0.6 0.8 0.1 0.8 0.6 0.8 -1 0.8 -0.2 0.8 -0.2 0.8 0.4 0.8 -0.4 0.8 -0.7 0.8 -0.9 0.8 -0.3 0.8 -0.9 0.8 -0.7 0.8 -0.7 0.8 -0.7 0.8 -0.3 0.8 0.4 0.8 -0.4 0.8 0.7 0.8 0 0.8 1.5 0.8 -0.1 0.8 1.2 0.8 0.2 0.8 1.2 0.8 0.3 0.8 0.1 0.8 0.6 0.8 0.8 0.8 0.4 0.8 -0.1 0.8 0.5 0.8 0.4 0.8 -0.4 0.8 -0.4 0.8 -0.1 0.8 1 0.8 0.4 0.8 0.9 0.8 1 0.8 1.4 0.8 0.6 0.8 0.7 0.8 0 0.8 -0.2 0.8 1.1 0.8 0.1 0.8 -0.2 0.8 0.7 0.8 0.2 0.8 -0.5 0.8 0.2 0.8 -0.4 0.8 -0.9 0.8 -0.3 0.8 0.6 0.8 -0.6 0.8 0.4 0.8 -0.4 0.8 -0.4 0.8 0.8 0.8 0.2 0.8 0 0.8 -0.8 0.8 -0.3 0.8 -0.6 0.8 -0.5 0.8 0.3 0.8 -0.3 0.8 -0.5 0.8 -0.2 0.8 -1.4 0.8 -1.2 0.8 -0.5 0.8 1 0.8 -0.5 0.8 1.4 0.8 0.6 0.8 -0.7 0.8 0.4 0.8 -1.8 0.8 -0.2 0.8 0.9 0.8 0.2 0.8 1.5 0.8 0.5 0.8 1 0.8 0.8 0.8 -0.2 0.8 1.7 0.8 0.8 0.8 1.1 0.8 0.5 0.8 0.3 0.8 1 0.8 0.2 0.8 0.9 0.8 0.5 0.8 -0.1 0.8 0.5 0.8 -0.1 0.8 -0.1 0.8 0.6 0.8 0 0.8 -0.1 0.8 0.8 0.8 -1.1 0.8 -0.6 0.8 -0.4 0.8 -0.6 0.8 0.1 0.8 -0.1 0.8 -1.4 0.8 -1.2 0.8 -0.8 0.8 -0.3 0.8 -0.9 0.8 -0.9 0.8 -0.8 0.8 -1.1 0.8 -0.8 0.8 -0.5 0.8 -0.4 0.8 -1.5 0.8 0.7 0.8 -0.4 0.8 0 0.8 0.3 0.8 -0.2 0.8 0 0.8 -0.3 0.8 -0.3 0.8 -0.4 0.8 -1.5 0.8 0.3 0.8 -1.7 0.8 -0.4 0.8 -1.1 0.8 -0.7 0.8 0.3 0.8 -0.8 0.8 -0.8 0.8 -0.4 0.8 -0.3 0.8 1.3 0.8 -1.2 0.8 -0.6 0.8 -2.4 0.8 -2.8 0.8 -2.2 0.8 -0.5 0.8 1.7 0.8 1 0.8 1.8 0.8 -0.1 0.8 -0.6 0.8 0.9 0.8 0.6 0.8 0.2 0.8 -2.3 0.8 -1 0.8 -1.3 0.8 -0.5 0.8 4.7 0.8 -1.6 0.8 -0.1 0.8 -0.1 0.8 1.3 0.8 1.6 0.8 1 0.8 1.2 0.8 0.4 0.8 1.1 0.8 0.1 0.8 1.1 0.8 -0.1 0.8 0.5 0.8 1 0.8 0.7 0.8 0.3 0.8 1.6 0.8 1.1 0.8 1 0.8 -0.4 0.8 -1.7 0.8 -1.6 0.8 -1.3 0.8 -0.6 0.8 -0.5 0.8 0.5 0.8 -0.5 0.8 -0.1 0.8 0.1 0.8 0.4 0.8 1.9 0.8 0.6 0.8 2.6 0.8 -0.1 0.8 0.9 0.8 0.2 0.8 -0.2 0.8 1.6 0.8 0.5 0.8 1.3 0.8 1.3 0.8 0.8 0.8 0.6 0.8 0.9 0.8 0.3 0.8 -0.5 0.8 -1 0.8 0 0.8 0.4 0.8 0.9 0.8 0.6 0.8 -1.4 0.8 -0.4 0.8 -0.4 0.8 -2.4 0.8 -3.2 0.8 -2.5 0.8 -1.4 0.8 -1.2 0.8 -1.5 0.8 -1.7 0.8 1.2 0.8 0.7 0.8 -0.3 0.8 0.8 0.8 -0.3" stroke="#3838ff" stroke-width="0.9" fill="none" stroke-linejoin="round" />
</g>
<path d="M77.6 660.7L94.2 660.7" stroke="#38f038" stroke-width="1.0" fill="none" />
<text x="96.1" y="664" font-size="10" fill="#50e000" xml:space="preserve">P<tspan font-size="7.4" dy="3.4">p</tspan></text>
<path d="M77.6 672L94.2 672" stroke="#ff5050" stroke-width="1.6" fill="none" />
<text x="96.1" y="675.3" font-size="10" fill="#ff0000" xml:space="preserve">P<tspan font-size="7.4" dy="3.4">e</tspan></text>
<path d="M77.6 683L94.2 683" stroke="#555" stroke-width="1.6" fill="none" />
<text x="96.1" y="686.3" font-size="10" fill="#301010" xml:space="preserve">P<tspan font-size="7.4" dy="3.4">b</tspan></text>
<path d="M77.6 694.1L94.2 694.1" stroke="#3838ff" stroke-width="1.0" fill="none" />
<text x="96.1" y="697.4" font-size="10" fill="#2020ff" xml:space="preserve">P<tspan font-size="7.4" dy="3.4">tot</tspan></text>
<clipPath id="cm3"><rect x="668.3" y="189.4" width="454.1" height="73.9"/></clipPath><g clip-path="url(#cm3)">
<path d="M668.8 225.5l0.5 -4.4 0.5 6.2 0.5 -5.4 0.5 3.1 0.5 -4 0.5 4.5 0.5 -2.8 0.5 1.9 0.5 -2.7 0.5 3.2 0.5 -2 0.5 7.1 0.5 -7.6 0.5 2.7 0.5 -2.4 0.5 4.7 0.5 -3.6 0.5 3.4 0.5 -4 0.5 3.2 0.5 -2.3 0.5 2.3 0.5 -2.5 0.5 2.3 0.5 -4.6 0.5 4.6 0.5 -1.7 0.5 3 0.5 -4.4 0.5 4.8 0.5 -4.5 0.5 4.9 0.5 -5.8 0.5 3.1 0.5 -2.5 0.5 3.8 0.5 -5.4 0.5 3 0.5 -1.3 0.5 2.4 0.5 -3.1 0.5 2.9 0.5 -2.1 0.5 3.5 0.5 -2.8 0.5 2.4 0.5 -2.8 0.5 2.3 0.5 -2.9 0.5 4.5 0.5 -3.4 0.5 4 0.5 -6.6 0.5 6.4 0.5 -3 0.5 4.4 0.5 -4.4 0.5 3.7 0.5 -3.3 0.5 3.7 0.5 -2.4 0.5 3 0.5 -4.8 0.5 7.9 0.5 -13.3 0.5 12.3 0.5 -9.1 0.5 11.3 0.5 -10.1 0.5 6.2 0.5 -8.5 0.5 8.4 0.5 -4.1 0.5 4.5 0.5 -6.1 0.5 4.5 0.5 -4.1 0.5 5 0.5 -4.9 0.5 5.7 0.5 -6.4 0.5 3.9 0.5 -4.7 0.5 4.4 0.5 -4.5 0.5 7.5 0.5 -14.6 0.5 11.1 0.5 -7.8 0.5 6.7 0.5 -11.7 0.5 7.1 0.5 -8.5 0.5 6.1 0.5 -4.1 0.5 8 0.5 -7.1 0.5 6.5 0.5 -4.9 0.5 5.9 0.5 -4.6 0.5 3.4 0.5 -5.6 0.5 7.8 0.5 -13 0.5 10.1 0.5 -3.6 0.5 3.6 0.5 -4.4 0.5 6.8 0.5 -6.4 0.5 5.1 0.5 -4.4 0.5 8.7 0.5 -11.8 0.5 10.6 0.5 -7 0.5 4.9 0.5 -17.1 0.5 20.7 0.5 -10.1 0.5 10.5 0.5 -7.7 0.5 6.8 0.5 -6.9 0.5 6.4 0.5 -2.6 0.5 5.4 0.5 -6 0.5 6.2 0.5 -17.1 0.5 18.7 0.5 -7.8 0.5 3.7 0.5 -6.3 0.5 3.8 0.5 -9.6 0.5 5.4 0.5 -6.9 0.5 5 0.5 -9.1 0.5 7 0.5 -5.5 0.5 5 0.5 -4.9 0.5 9 0.5 -6.1 0.5 5.5 0.5 -3.6 0.5 6.2 0.5 -5.6 0.5 3.8 0.5 -2.4 0.5 5.1 0.5 -7.8 0.5 8.1 0.5 -6.2 0.5 3.8 0.5 -5.3 0.5 5.2 0.5 -5.6 0.5 8.2 0.5 -9.1 0.5 4.8 0.5 -9.2 0.5 6 0.5 -5 0.5 9 0.5 -6.7 0.5 6.7 0.5 -4.2 0.5 7 0.5 -3.7 0.5 5.8 0.5 -5.2 0.5 8.9 0.5 -5.3 0.5 6.1 0.5 -4.3 0.5 2.9 0.5 -5.5 0.5 9 0.5 -12 0.5 12.6 0.5 -6.7 0.5 4.3 0.5 -4 0.5 3.6 0.5 -17.9 0.5 20 0.5 -5.4 0.5 5.9 0.5 -5.3 0.5 6 0.5 -4.3 0.5 7.1 0.5 -5.5 0.5 3.6 0.5 -5.7 0.5 16.7 0.5 -18.8 0.5 7.2 0.5 -8.6 0.5 2.7 0.5 -5.7 0.5 4.4 0.5 -9.2 0.5 7.2 0.5 -5.6 0.5 6.6 0.5 -4.4 0.5 8 0.5 -10 0.5 6.5 0.5 -6.4 0.5 7.9 0.5 -6.8 0.5 10 0.5 -7.6 0.5 5.4 0.5 -3.8 0.5 4.3 0.5 -6.2 0.5 6.2 0.5 -5.8 0.5 10.9 0.5 -9.1 0.5 7 0.5 -9.3 0.5 8.8 0.5 -3.9 0.5 3.1 0.5 -6.5 0.5 9.4 0.5 -9.5 0.5 12.2 0.5 -15.1 0.5 12.7 0.5 -11.6 0.5 13.4 0.5 -13.2 0.5 5.5 0.5 -4.6 0.5 4.1 0.5 -4.7 0.5 5.9 0.5 -5.2 0.5 6.9 0.5 -7.1 0.5 12.6 0.5 -8.4 0.5 7.7 0.5 -6.7 0.5 3.7 0.5 -8 0.5 9.3 0.5 -6 0.5 7.5 0.5 -7.9 0.5 9.3 0.5 -10.4 0.5 4.3 0.5 -5.2 0.5 6.7 0.5 -10.5 0.5 6.9 0.5 -9.5 0.5 5.1 0.5 -4.4 0.5 3.5 0.5 -7.9 0.5 5.5 0.5 -3.5 0.5 2.8 0.5 -4 0.5 3 0.5 -3.9 0.5 5.4 0.5 -3.3 0.5 5.7 0.5 -6.3 0.5 5.9 0.5 -5.2 0.5 7.3 0.5 -7.5 0.5 9.2 0.5 -10.9 0.5 9.1 0.5 -7.2 0.5 7.7 0.5 -3.3 0.5 4.5 0.5 -4.5 0.5 5.1 0.5 -3 0.5 3 0.5 -6.9 0.5 9.5 0.5 -10.1 0.5 9 0.5 -8.9 0.5 6.3 0.5 -11.1 0.5 12.7 0.5 -7.4 0.5 5.3 0.5 -7.7 0.5 4.8 0.5 -3.6 0.5 4.6 0.5 -6 0.5 4 0.5 -5.6 0.5 8.7 0.5 -12 0.5 7.7 0.5 -3.2 0.5 4.7 0.5 -5.2 0.5 10.1 0.5 -10.1 0.5 9.5 0.5 -6.9 0.5 5 0.5 -9.2 0.5 12 0.5 -7.1 0.5 3.7 0.5 -6.6 0.5 7.4 0.5 -9.5 0.5 6.1 0.5 -3.1 0.5 4.6 0.5 -5 0.5 4.3 0.5 -10.9 0.5 14.1 0.5 -6.4 0.5 4.2 0.5 -5.9 0.5 8.1 0.5 -4.1 0.5 7.7 0.5 -2.2 0.5 5.6 0.5 -6.1 0.5 9.2 0.5 -5.4 0.5 5.5 0.5 -8.6 0.5 4.6 0.5 -2.7 0.5 3.3 0.5 -6.7 0.5 9.1 0.5 -7.9 0.5 5.8 0.5 -4.3 0.5 3.9 0.5 -4.1 0.5 3.4 0.5 -5.4 0.5 6.5 0.5 -4.6 0.5 5.9 0.5 -5.1 0.5 5.4 0.5 -6.2 0.5 6.6 0.5 -2.4 0.5 4.2 0.5 -4.3 0.5 7.7 0.5 -7.3 0.5 11.8 0.5 -6.9 0.5 3.5 0.5 -5.5 0.5 19.7 0.5 -23.1 0.5 4.6 0.5 -11 0.5 9.4 0.5 -7.4 0.5 7.6 0.5 -4.1 0.5 8.3 0.5 -12.9 0.5 8.5 0.5 -2.9 0.5 5.7 0.5 -7.4 0.5 5.7 0.5 -7.1 0.5 11.9 0.5 -12.6 0.5 8.9 0.5 -3.5 0.5 3.2 0.5 -3.9 0.5 8.7 0.5 -6.6 0.5 6.7 0.5 -6.4 0.5 3.6 0.5 -9.2 0.5 11.8 0.5 -6.1 0.5 4.9 0.5 -5.9 0.5 5.9 0.5 -3.7 0.5 3.8 0.5 -6.6 0.5 9.9 0.5 -10.1 0.5 3.3 0.5 -3.4 0.5 2.5 0.5 -7.6 0.5 7.7 0.5 -7.2 0.5 5 0.5 -7.7 0.5 5.7 0.5 -3.5 0.5 1.6 0.5 -6.1 0.5 6.4 0.5 -5.8 0.5 4.6 0.5 -3.9 0.5 4.7 0.5 -5.8 0.5 5.4 0.5 -4.3 0.5 3.9 0.5 -4.6 0.5 7 0.5 -5.5 0.5 0.4 0.5 -7.6 0.5 3.8 0.5 -4.6 0.5 5.6 0.5 -9.7 0.5 5.7 0.5 -8.7 0.5 5.9 0.5 -13.2 0.5 11 0.5 -6.5 0.5 4.2 0.5 -2.4 0.5 4.5 0.5 -3.9 0.5 5.7 0.5 -4.4 0.5 2.8 0.5 -7 0.5 7 0.5 -6.2 0.5 4.1 0.5 -5.3 0.5 5.2 0.5 -5.2 0.5 4.6 0.5 -2.7 0.5 3.9 0.5 -7.9 0.5 8 0.5 -5.9 0.5 4.1 0.5 -2.9 0.5 5.6 0.5 -6.9 0.5 6.9 0.5 -5.7 0.5 5.6 0.5 -4.3 0.5 7.9 0.5 -1.1 0.5 6.3 0.5 -2.9 0.5 2.2 0.5 -1.9 0.5 2.7 0.5 -3.4 0.5 2 0.5 -2.7 0.5 2.2 0.5 -4.4 0.5 7.7 0.5 -8 0.5 7.4 0.5 -9.4 0.5 5.6 0.5 -4.8 0.5 10.9 0.5 -13.3 0.5 8.7 0.5 -5.5 0.5 2.4 0.5 -4.7 0.5 6.9 0.5 -5.2 0.5 3.9 0.5 -3.3 0.5 2.6 0.5 -2.6 0.5 4.3 0.5 -5.7 0.5 3.3 0.5 -2.3 0.5 3.6 0.5 -4.2 0.5 3.6 0.5 -6.5 0.5 7.8 0.5 -5.9 0.5 4.7 0.5 -4 0.5 2.9 0.5 -2.9 0.5 4.2 0.5 -5.6 0.5 4.7 0.5 -4.4 0.5 5.5 0.5 -5.7 0.5 5.3 0.5 -5.1 0.5 3.6 0.5 -1.7 0.5 1.9 0.5 -2 0.5 4 0.5 -3.3 0.5 3 0.5 -7.9 0.5 6.8 0.5 -3.5 0.5 4.1 0.5 -3.8 0.5 2.4 0.5 -3.2 0.5 4.2 0.5 -3.8 0.5 3.7 0.5 -3.3 0.5 4.9 0.5 -5.9 0.5 3.9 0.5 -3.9 0.5 4 0.5 -4.6 0.5 4.7 0.5 -3.7 0.5 3.4 0.5 -2.9 0.5 2.2 0.5 -3.5 0.5 5.3 0.5 -1.8 0.5 3.1 0.5 -4 0.5 4.5 0.5 -2.6 0.5 3.8 0.5 -2.5 0.5 3.4 0.5 -2.7 0.5 5.6 0.5 -4.3 0.5 2.7 0.5 -4.2 0.5 6.2 0.5 -4.4 0.5 5.8 0.5 -5 0.5 5 0.5 -6.8 0.5 7.3 0.5 -3.5 0.5 3.2 0.5 -3.7 0.5 5.9 0.5 -4.2 0.5 6.3 0.5 -5.3 0.5 6.9 0.5 -5.3 0.5 3.7 0.5 -4.4 0.5 4.2 0.5 -2.1 0.5 2 0.5 -1.8 0.5 6.3 0.5 -6.2 0.5 2.8 0.5 -1.8 0.5 3.3 0.5 -3.3 0.5 4 0.5 -6.6 0.5 5.4 0.5 -5.6 0.5 4.7 0.5 -3.3 0.5 4.3 0.5 -4.7 0.5 4.5 0.5 -4.6 0.5 4.4 0.5 -4.3 0.5 3 0.5 -3.3 0.5 3.2 0.5 -4.8 0.5 6.7 0.5 -4.6 0.5 3 0.5 -2.4 0.5 3.4 0.5 -2.8 0.5 2.7 0.5 -2.5 0.5 5.4 0.5 -6.6 0.5 6.3 0.5 -6.3 0.5 5.9 0.5 -6.3 0.5 5.4 0.5 -4.8 0.5 8.3 0.5 -6 0.5 5.9 0.5 -4.9 0.5 2.6 0.5 -3.6 0.5 7.8 0.5 -9.4 0.5 5 0.5 -2.7 0.5 7 0.5 -7.1 0.5 4.9 0.5 -5 0.5 5.1 0.5 -5.9 0.5 6.5 0.5 -5.8 0.5 7.1 0.5 -4.7 0.5 5.6 0.5 -5.1 0.5 2 0.5 -4.2 0.5 4.8 0.5 -6.8 0.5 4.6 0.5 -5.4 0.5 4.7 0.5 -6.3 0.5 7.4 0.5 -6.2 0.5 2.2 0.5 -4.3 0.5 1.7 0.5 -6.8 0.5 8.2 0.5 -6.7 0.5 4 0.5 -6.4 0.5 5.6 0.5 -4.6 0.5 2.4 0.5 -3 0.5 5.5 0.5 -5.2 0.5 2.4 0.5 -4.3 0.5 3.8 0.5 -2.3 0.5 1.9 0.5 -3 0.5 4.6 0.5 -4.2 0.5 3.9 0.5 -2.3 0.5 7.1 0.5 -8.2 0.5 9.1 0.5 -6.9 0.5 5.5 0.5 -4.3 0.5 2.9 0.5 -3.8 0.5 4.2 0.5 -4 0.5 7 0.5 -5 0.5 2.4 0.5 -3 0.5 4.7 0.5 -4.1 0.5 4.1 0.5 -4.9 0.5 4.9 0.5 -5.7 0.5 6.1 0.5 -6.4 0.5 5.4 0.5 -7.9 0.5 5.7 0.5 -6.8 0.5 6.8 0.5 -7.1 0.5 6.3 0.5 -3.7 0.5 1.6 0.5 -3.6 0.5 3.5 0.5 -4.4 0.5 3.8 0.5 -3.2 0.5 3 0.5 -4.4 0.5 9.6 0.5 -9 0.5 3.9 0.5 -8.2 0.5 8 0.5 -3.5 0.5 4.5 0.5 -3.6 0.5 7.5 0.5 -10 0.5 6.1 0.5 -4.7 0.5 5.7 0.5 -2.9 0.5 2.6 0.5 -2 0.5 5.5 0.5 -5.7 0.5 4.6 0.5 -4.7 0.5 6.4 0.5 -5.1 0.5 2 0.5 -2.3 0.5 2.5 0.5 -4.5 0.5 3.9 0.5 -1.9 0.5 3 0.5 -4.7 0.5 3.7 0.5 -4.2 0.5 3.3 0.5 -2.8 0.5 4 0.5 -3.9 0.5 3.8 0.5 -3.8 0.5 4 0.5 -5.8 0.5 5.2 0.5 -6.2 0.5 5.4 0.5 -2.5 0.5 3.5 0.5 -1.8 0.5 3.6 0.5 -3.7 0.5 4 0.5 -3.6 0.5 8.6 0.5 -9.8 0.5 4.7 0.5 -5.2 0.5 6.3 0.5 -8.6 0.5 4.8 0.5 -3 0.5 3.7 0.5 -3.5 0.5 6.3 0.5 -6.3 0.5 4 0.5 -2.8 0.5 4.6 0.5 -7 0.5 7.6 0.5 -3.9 0.5 4.7 0.5 -3.2 0.5 2.7 0.5 -3.3 0.5 6.6 0.5 -5.4 0.5 2 0.5 -3.6 0.5 4.6 0.5 -6.5 0.5 5.4 0.5 -4.6 0.5 4.1 0.5 -4.3 0.5 3.5 0.5 -3.7 0.5 3.4 0.5 -5.1 0.5 3.9 0.5 -4.1 0.5 4.4 0.5 -5 0.5 4.2 0.5 -9.7 0.5 8.8 0.5 -3.1 0.5 4 0.5 -3.3 0.5 2.5 0.5 -5.1 0.5 7.4 0.5 -3.7 0.5 5.4 0.5 -4.1 0.5 5 0.5 -9.7 0.5 8.4 0.5 -2.1 0.5 4.6 0.5 -5.5 0.5 2.9 0.5 -2.3 0.5 4.3 0.5 -3.8 0.5 5.1 0.5 -6.9 0.5 5.6 0.5 -5 0.5 4.2 0.5 -4.9 0.5 2.5 0.5 -5.6 0.5 5.5 0.5 -5.1 0.5 3.8 0.5 -4.4 0.5 6 0.5 -3.9 0.5 3.8 0.5 -4.6 0.5 4.4 0.5 -3.8 0.5 6.2 0.5 -2.6 0.5 4.1 0.5 -5.5 0.5 5 0.5 -3.2 0.5 7.5 0.5 -6.6 0.5 3.9 0.5 -4.6 0.5 4.8 0.5 -3.4 0.5 3.9 0.5 -3.3 0.5 3.8 0.5 -3.8 0.5 2.6 0.5 -3.4 0.5 3.1 0.5 -3.7 0.5 1.6 0.5 -3.9 0.5 2.8 0.5 -5.4 0.5 1.3 0.5 -3.6 0.5 4.3 0.5 -4.1 0.5 5.5 0.5 -4.5 0.5 4.6 0.5 -2.4 0.5 3.8 0.5 -4 0.5 4.3 0.5 -2.9 0.5 2.9 0.5 -3 0.5 3.5 0.5 -3.2 0.5 2.2 0.5 -2.6 0.5 3.1 0.5 -3.3 0.5 5.8 0.5 -6.4" stroke="#1010ff" stroke-width="1.0" fill="none" stroke-linejoin="round" />
<path d="M668.8 223.1l0.5 -2.8 0.5 5.6 0.5 -5.1 0.5 1.8 0.5 -4.8 0.5 5.8 0.5 -4.8 0.5 5.3 0.5 -6.8 0.5 4.1 0.5 -4.9 0.5 6.1 0.5 -2.7 0.5 3.2 0.5 -4.4 0.5 3.4 0.5 -2 0.5 2.7 0.5 -4.8 0.5 4.5 0.5 -3.7 0.5 4.3 0.5 -7.3 0.5 6.8 0.5 -3.9 0.5 3 0.5 -4.4 0.5 3 0.5 -2.7 0.5 2.6 0.5 -2.6 0.5 2.5 0.5 -2.6 0.5 2.7 0.5 -2.3 0.5 2.4 0.5 -3.8 0.5 5.1 0.5 -3.1 0.5 1.8 0.5 -2.2 0.5 3 0.5 -4.7 0.5 3.9 0.5 -2 0.5 1.7 0.5 -4.8 0.5 11.2 0.5 -12.4 0.5 6.8 0.5 -2.6 0.5 2.9 0.5 -5 0.5 5.6 0.5 -11 0.5 9 0.5 -1.8 0.5 2.6 0.5 -3.5 0.5 2.3 0.5 -2.1 0.5 4.6 0.5 -3.8 0.5 4.3 0.5 -6.7 0.5 5.9 0.5 -8.7 0.5 7.4 0.5 -4.2 0.5 7.3 0.5 -6.6 0.5 8.2 0.5 -7.7 0.5 10.8 0.5 -10.7 0.5 7.7 0.5 -9.6 0.5 5.5 0.5 -5.2 0.5 9.9 0.5 -10.7 0.5 9.3 0.5 -8.2 0.5 6 0.5 -5.1 0.5 7 0.5 -4.4 0.5 5.3 0.5 -2.7 0.5 3 0.5 -6.5 0.5 8.4 0.5 -7.2 0.5 3.8 0.5 -5.3 0.5 3.4 0.5 -4.3 0.5 3.7 0.5 -2.8 0.5 3.2 0.5 -4.1 0.5 4.8 0.5 -4.8 0.5 6.8 0.5 -6.6 0.5 5.8 0.5 -5.3 0.5 6.6 0.5 -6.3 0.5 5.6 0.5 -8.2 0.5 6.6 0.5 -8.2 0.5 7 0.5 -5.1 0.5 3.2 0.5 -4.1 0.5 8.9 0.5 -8.6 0.5 4.4 0.5 -4.4 0.5 3.8 0.5 -7.5 0.5 7.8 0.5 -5.6 0.5 3.2 0.5 -2.9 0.5 3.9 0.5 -2.8 0.5 4.2 0.5 -3.5 0.5 3.9 0.5 -5.4 0.5 10.9 0.5 -7.6 0.5 6.5 0.5 -5.6 0.5 7.9 0.5 -8 0.5 4.7 0.5 -6.4 0.5 8.5 0.5 -2.6 0.5 5.9 0.5 -3.4 0.5 2.9 0.5 -10.5 0.5 9.4 0.5 -4.2 0.5 2.3 0.5 -7.5 0.5 5.4 0.5 -5.1 0.5 3.2 0.5 -5.3 0.5 7.2 0.5 -7.7 0.5 2.1 0.5 -5.4 0.5 4.2 0.5 -4 0.5 4.4 0.5 -2.3 0.5 6 0.5 -8.6 0.5 7 0.5 -4.8 0.5 6.5 0.5 -5.3 0.5 2.8 0.5 -5.2 0.5 5 0.5 -6 0.5 7 0.5 -26.9 0.5 21 0.5 0.2 0.5 3.3 0.5 -4.1 0.5 2 0.5 -4.6 0.5 4 0.5 -4.4 0.5 5 0.5 -5.1 0.5 6.9 0.5 -5.2 0.5 7.2 0.5 -10.4 0.5 13.2 0.5 -5.8 0.5 5.2 0.5 -8 0.5 7.4 0.5 -6.4 0.5 8.2 0.5 -6.1 0.5 6.2 0.5 -5.9 0.5 7.2 0.5 -8.2 0.5 6.6 0.5 -3.8 0.5 5 0.5 -4.9 0.5 7.2 0.5 -5.1 0.5 5.5 0.5 -3.8 0.5 2.9 0.5 -4.1 0.5 3.9 0.5 -5.2 0.5 5.8 0.5 -9.8 0.5 9.3 0.5 -5.2 0.5 6 0.5 -8.4 0.5 6.8 0.5 -7.2 0.5 6.9 0.5 -7 0.5 8.8 0.5 -9 0.5 6.6 0.5 -6.2 0.5 4.5 0.5 -5.2 0.5 4 0.5 -7.6 0.5 6.4 0.5 -8.6 0.5 1.1 0.5 -4.6 0.5 4.1 0.5 -11.3 0.5 6.8 0.5 -1.5 0.5 11.1 0.5 -1 0.5 4.8 0.5 -7.3 0.5 9.5 0.5 -7.1 0.5 6.9 0.5 -3.3 0.5 4.1 0.5 -7 0.5 6.3 0.5 -4.8 0.5 4.3 0.5 -5.5 0.5 6.3 0.5 -6.8 0.5 8.2 0.5 -6.5 0.5 8.4 0.5 -10.4 0.5 11.4 0.5 -7.9 0.5 5 0.5 -3.4 0.5 5.9 0.5 -7.2 0.5 7.6 0.5 -5.3 0.5 6 0.5 -4.7 0.5 3.5 0.5 -3.9 0.5 5.5 0.5 -4.4 0.5 6.1 0.5 -8.1 0.5 8.5 0.5 -8.2 0.5 6.5 0.5 -10.8 0.5 15.1 0.5 -9.7 0.5 4.1 0.5 -4.3 0.5 6.7 0.5 -16.3 0.5 15.2 0.5 -8.5 0.5 8.8 0.5 -7 0.5 2.8 0.5 -5 0.5 7.1 0.5 -10.6 0.5 5.4 0.5 -10.3 0.5 6.5 0.5 -1.3 0.5 8.8 0.5 -4.7 0.5 2.9 0.5 -5.2 0.5 4.2 0.5 -6.4 0.5 5.1 0.5 -7.7 0.5 7.4 0.5 -5.3 0.5 5.2 0.5 -4.5 0.5 8 0.5 -6.8 0.5 7.6 0.5 -6.1 0.5 3.7 0.5 -5.8 0.5 7.3 0.5 -9.9 0.5 8.8 0.5 -3.5 0.5 4 0.5 -4.2 0.5 2.9 0.5 -10.7 0.5 10.5 0.5 -2.6 0.5 3.4 0.5 -4.1 0.5 3.7 0.5 -3.9 0.5 5.2 0.5 -2.7 0.5 3 0.5 -8 0.5 9.2 0.5 -6.9 0.5 7.1 0.5 -5.4 0.5 3.8 0.5 -5 0.5 5.6 0.5 -5.4 0.5 5.4 0.5 -10.1 0.5 8.5 0.5 -6.4 0.5 10.9 0.5 -11.1 0.5 10 0.5 -7.1 0.5 4.5 0.5 -7.6 0.5 15 0.5 -10.8 0.5 5.8 0.5 -4.2 0.5 5.6 0.5 -5.6 0.5 3.2 0.5 -2.9 0.5 4.5 0.5 -5.9 0.5 15.5 0.5 -15.5 0.5 7.2 0.5 -5.1 0.5 8.8 0.5 -6.8 0.5 6.3 0.5 -3.5 0.5 3.3 0.5 -7.7 0.5 3.6 0.5 -6.4 0.5 2.5 0.5 -8.6 0.5 5.4 0.5 -7.7 0.5 7.2 0.5 -9.3 0.5 7.1 0.5 -3.3 0.5 6.2 0.5 -9.8 0.5 13.8 0.5 -6.9 0.5 8.1 0.5 -16.2 0.5 14.4 0.5 -6.4 0.5 7.7 0.5 -7.2 0.5 7.7 0.5 -9.1 0.5 7.2 0.5 -6 0.5 8.1 0.5 -8.3 0.5 2 0.5 -6.6 0.5 7.8 0.5 -5.8 0.5 5.5 0.5 -5.7 0.5 8.1 0.5 -7.1 0.5 9.1 0.5 -7.4 0.5 5.7 0.5 -5.2 0.5 4.1 0.5 -8.2 0.5 5.6 0.5 -9 0.5 3.8 0.5 -4.1 0.5 2.7 0.5 -5.9 0.5 2.8 0.5 -4.1 0.5 5.5 0.5 -3.9 0.5 5.2 0.5 -2 0.5 3.3 0.5 -4.8 0.5 5.1 0.5 -5.4 0.5 6 0.5 -3 0.5 6.6 0.5 -9.2 0.5 7.9 0.5 -3.5 0.5 5.3 0.5 -6.7 0.5 9.2 0.5 -5.6 0.5 6.3 0.5 -7 0.5 8.2 0.5 -4.2 0.5 3.1 0.5 -7.6 0.5 10.4 0.5 -9.8 0.5 6.7 0.5 -12.3 0.5 13.3 0.5 -6.5 0.5 6 0.5 -7 0.5 6.7 0.5 -3.8 0.5 11 0.5 -11.4 0.5 6.4 0.5 -5.8 0.5 7 0.5 -5 0.5 5.2 0.5 -9.4 0.5 13.4 0.5 -7.7 0.5 4.6 0.5 -5 0.5 6.1 0.5 -3.7 0.5 4.4 0.5 -13.5 0.5 15.2 0.5 -7.5 0.5 7.1 0.5 -5.8 0.5 5.9 0.5 -5.3 0.5 7.8 0.5 -8.2 0.5 3.8 0.5 -5.7 0.5 6.2 0.5 -8.1 0.5 4 0.5 -2.8 0.5 3.4 0.5 -5.3 0.5 3.3 0.5 -5.2 0.5 5.9 0.5 -6.2 0.5 5 0.5 -4.3 0.5 3.8 0.5 -2.6 0.5 3.3 0.5 -5.9 0.5 7.2 0.5 -4.3 0.5 2.9 0.5 -4.5 0.5 6.8 0.5 -4.9 0.5 3.7 0.5 -3.6 0.5 4.9 0.5 -5.5 0.5 3.3 0.5 -1.7 0.5 3.2 0.5 -7.6 0.5 6.7 0.5 -5.2 0.5 4.9 0.5 -6.5 0.5 7.6 0.5 -4.6 0.5 5.1 0.5 -5.3 0.5 3.7 0.5 -2.4 0.5 3.8 0.5 -5.3 0.5 5.8 0.5 -9 0.5 11.8 0.5 -9.9 0.5 6.5 0.5 -3.5 0.5 3.9 0.5 -3.3 0.5 4 0.5 -3.7 0.5 5.6 0.5 -4.2 0.5 1.7 0.5 -3.5 0.5 5.2 0.5 -4.7 0.5 3.6 0.5 -4.7 0.5 4.5 0.5 -2.6 0.5 9.5 0.5 -9.1 0.5 2.8 0.5 -3.4 0.5 4 0.5 -3.4 0.5 5.9 0.5 -5 0.5 3.4 0.5 -2.9 0.5 4.5 0.5 -6.7 0.5 5.9 0.5 -6 0.5 5.1 0.5 -3.2 0.5 3.5 0.5 -3.5 0.5 3.6 0.5 -2.5 0.5 5.6 0.5 -7.4 0.5 6.5 0.5 -4.2 0.5 3.9 0.5 -4.8 0.5 3 0.5 -3 0.5 3.4 0.5 -4.4 0.5 3.2 0.5 -1.5 0.5 2.7 0.5 -4.4 0.5 4.5 0.5 -5 0.5 3 0.5 -3.1 0.5 4.5 0.5 -3.9 0.5 2.2 0.5 -2.6 0.5 4.8 0.5 -4.6 0.5 3.8 0.5 -3.3 0.5 2.4 0.5 -2.8 0.5 2.9 0.5 -3.4 0.5 3.2 0.5 -3.8 0.5 3.2 0.5 -2.9 0.5 4.2 0.5 -3 0.5 1.7 0.5 -2.6 0.5 2.8 0.5 -2.4 0.5 3.1 0.5 -3.7 0.5 1.6 0.5 -2.3 0.5 5.1 0.5 -5.7 0.5 4.8 0.5 -5.4 0.5 3.3 0.5 -2.1 0.5 5.1 0.5 -6.5 0.5 4.1 0.5 -2.8 0.5 4.1 0.5 -5.1 0.5 4.9 0.5 -3.8 0.5 3.1 0.5 -3.4 0.5 3.7 0.5 -5 0.5 2.9 0.5 -3.4 0.5 3.5 0.5 -5.1 0.5 5.1 0.5 -3.9 0.5 1.4 0.5 -4.7 0.5 2.7 0.5 -3.5 0.5 4.1 0.5 -1.1 0.5 4.9 0.5 -3.9 0.5 2.8 0.5 -3.5 0.5 7.1 0.5 -3.1 0.5 2.8 0.5 -2 0.5 2.3 0.5 -3.6 0.5 2.3 0.5 -4.8 0.5 1.2 0.5 -3.3 0.5 1.1 0.5 -4.3 0.5 4.1 0.5 -6.7 0.5 5.3 0.5 -4.8 0.5 3.2 0.5 -2.4 0.5 4.3 0.5 -4.7 0.5 4 0.5 -2.3 0.5 4.5 0.5 -4.5 0.5 5.1 0.5 -2.6 0.5 2.8 0.5 -3.9 0.5 6.2 0.5 -8.6 0.5 4.9 0.5 -3.5 0.5 3.3 0.5 -3.5 0.5 3.8 0.5 -5.2 0.5 6.5 0.5 -6 0.5 5.5 0.5 -3.9 0.5 4.8 0.5 -2.7 0.5 3.3 0.5 -4.2 0.5 3.3 0.5 -6 0.5 6.7 0.5 -4.5 0.5 2.7 0.5 -1.8 0.5 1.9 0.5 -8.4 0.5 8.8 0.5 -2.5 0.5 3.5 0.5 -3 0.5 2.8 0.5 -3.9 0.5 5.9 0.5 -4.8 0.5 5.6 0.5 -5.1 0.5 4.5 0.5 -3.3 0.5 2.4 0.5 -2.2 0.5 2.2 0.5 -1.7 0.5 2.9 0.5 -3.5 0.5 2.9 0.5 -2.9 0.5 5.8 0.5 -4.3 0.5 3.9 0.5 -3.4 0.5 2.5 0.5 -6.7 0.5 8.4 0.5 -3.5 0.5 2.6 0.5 -3.5 0.5 5 0.5 -4.4 0.5 5.6 0.5 -4.4 0.5 2.9 0.5 -3 0.5 3.7 0.5 -3.3 0.5 5.6 0.5 -3.7 0.5 2.2 0.5 -3.6 0.5 9.9 0.5 -9.3 0.5 3.8 0.5 -4.2 0.5 5.2 0.5 -3.6 0.5 2.8 0.5 -3.6 0.5 4.1 0.5 -4.8 0.5 7.6 0.5 -7.4 0.5 7.6 0.5 -8.3 0.5 6.9 0.5 -6.4 0.5 5.7 0.5 -5.6 0.5 5.9 0.5 -4.4 0.5 3.3 0.5 -7.5 0.5 5.9 0.5 -8.1 0.5 6.4 0.5 -8.3 0.5 10.9 0.5 -13.2 0.5 9.4 0.5 -8.3 0.5 4.4 0.5 -6.3 0.5 6.4 0.5 -4.6 0.5 3.8 0.5 -5.7 0.5 3.8 0.5 -6.4 0.5 4.2 0.5 -4.3 0.5 6.3 0.5 -9.8 0.5 8.7 0.5 -6.8 0.5 4.3 0.5 -5.4 0.5 5.8 0.5 -8.8 0.5 9.2 0.5 -9.6 0.5 4 0.5 -4.6 0.5 8.1 0.5 -9.1 0.5 6.9 0.5 -9.7 0.5 7.5 0.5 -5.6 0.5 5.5 0.5 -2 0.5 4.5 0.5 -3.6 0.5 8.8 0.5 -6 0.5 3.4 0.5 -2.2 0.5 5.6 0.5 -5.1 0.5 4.3 0.5 -3.5 0.5 5.1 0.5 -7.3 0.5 6.6 0.5 -4.5 0.5 5 0.5 -7.3 0.5 7.3 0.5 -4.6 0.5 4.5 0.5 -5 0.5 4.1 0.5 -3.9 0.5 3.6 0.5 -3.6 0.5 4.6 0.5 -5 0.5 6.4 0.5 -4.9 0.5 2.7 0.5 -1.4 0.5 4.8 0.5 -5.1 0.5 3.7 0.5 -3.7 0.5 7.1 0.5 -6.5 0.5 3.8 0.5 -2.6 0.5 3.4 0.5 -4.3 0.5 5 0.5 -3.1 0.5 2.6 0.5 -2.5 0.5 2.6 0.5 -4.4 0.5 5.5 0.5 -4 0.5 2 0.5 -3.6 0.5 3.2 0.5 -2 0.5 2.8 0.5 -2.9 0.5 6.3 0.5 -5.5 0.5 2.6 0.5 -3.4 0.5 4.4 0.5 -3.3 0.5 4 0.5 -2.7 0.5 2.5 0.5 -3 0.5 3.8 0.5 -3.9 0.5 3.8 0.5 -2.3 0.5 1.9 0.5 -3.8 0.5 3 0.5 -1.8 0.5 2 0.5 -3.9 0.5 2.8 0.5 -2.7 0.5 2.4 0.5 -2.4 0.5 3.7 0.5 -6.9 0.5 3.1 0.5 -3.2 0.5 3.5 0.5 -4 0.5 2.6 0.5 -3.3 0.5 2.8 0.5 -3.1 0.5 2.5 0.5 -2.1 0.5 3.6 0.5 -3.9 0.5 3.7 0.5 -2.7 0.5 4.4 0.5 -3.1 0.5 3.1 0.5 -3.2 0.5 4.8 0.5 -1.2 0.5 2.4 0.5 -2.3 0.5 2.5 0.5 -2.7 0.5 4.6 0.5 -4.1 0.5 4.3 0.5 -3.7 0.5 2.4 0.5 -1.8 0.5 2.5 0.5 -5.8 0.5 5.2 0.5 -3.3" stroke="#20ff20" stroke-width="1.0" fill="none" stroke-linejoin="round" />
<path d="M668.8 230.5l0.5 -3.9 0.5 3.8 0.5 -3.3 0.5 2.9 0.5 -5.2 0.5 6 0.5 -4.8 0.5 5.5 0.5 -5.8 0.5 5.6 0.5 -4.9 0.5 4.7 0.5 -3.9 0.5 5.8 0.5 -8.7 0.5 10.4 0.5 -7.7 0.5 3.6 0.5 -4.3 0.5 2.8 0.5 -3.3 0.5 6 0.5 -4.1 0.5 4.3 0.5 -5.4 0.5 2.2 0.5 -1.8 0.5 3.1 0.5 -6 0.5 4.6 0.5 -3.3 0.5 4.6 0.5 -5.6 0.5 4 0.5 -2.2 0.5 2.5 0.5 -4.8 0.5 6.1 0.5 -5.7 0.5 3.7 0.5 -5.1 0.5 8.1 0.5 -4.9 0.5 3 0.5 -2.7 0.5 3 0.5 -2.3 0.5 2.3 0.5 -3 0.5 4.4 0.5 -5.9 0.5 5.9 0.5 -5.5 0.5 5.8 0.5 -3.4 0.5 4.1 0.5 -3.3 0.5 6.5 0.5 -5.3 0.5 6.6 0.5 -7.6 0.5 11.8 0.5 -12.6 0.5 9 0.5 -7.2 0.5 3.1 0.5 -5.7 0.5 6.6 0.5 -7.4 0.5 6.4 0.5 -9.1 0.5 11 0.5 -6.6 0.5 7 0.5 -11 0.5 8.5 0.5 -5.2 0.5 10.4 0.5 -9.7 0.5 5.4 0.5 -5.8 0.5 4.2 0.5 -8.3 0.5 16.3 0.5 -17.1 0.5 7.5 0.5 -12 0.5 17.5 0.5 -7.1 0.5 7.8 0.5 -10.4 0.5 10.5 0.5 -5.8 0.5 5.3 0.5 -7.7 0.5 7.1 0.5 -6.2 0.5 6.4 0.5 -8.4 0.5 5.9 0.5 -5.3 0.5 6.3 0.5 -8 0.5 6.1 0.5 -5.7 0.5 6.9 0.5 -5.5 0.5 11.2 0.5 -15.7 0.5 8.4 0.5 -6.2 0.5 8.6 0.5 -9.8 0.5 6 0.5 -6.1 0.5 7.3 0.5 -9.7 0.5 10.2 0.5 -7 0.5 6 0.5 -5.4 0.5 7.3 0.5 -7.2 0.5 12.3 0.5 -13.2 0.5 11.1 0.5 -2.1 0.5 6 0.5 -10.9 0.5 16.7 0.5 -13.5 0.5 9.2 0.5 -7.3 0.5 3.8 0.5 -10.6 0.5 12.8 0.5 -9.2 0.5 8 0.5 -6.3 0.5 6.4 0.5 -9.6 0.5 6.3 0.5 -6.8 0.5 6.4 0.5 -5 0.5 6.3 0.5 -4.6 0.5 5 0.5 24 0.5 -22.8 0.5 -7 0.5 11 0.5 -10.9 0.5 5.3 0.5 -16.5 0.5 13.8 0.5 -8 0.5 3.5 0.5 -3.9 0.5 8.3 0.5 -11.2 0.5 12.6 0.5 -11.1 0.5 7.1 0.5 -5 0.5 7 0.5 -2.9 0.5 7.5 0.5 -10.9 0.5 11.1 0.5 -8.3 0.5 6.8 0.5 -4.8 0.5 6.1 0.5 -3.8 0.5 4.1 0.5 -6.2 0.5 7.5 0.5 -5.3 0.5 6.5 0.5 -5.1 0.5 3.9 0.5 -6.1 0.5 5.3 0.5 -5.9 0.5 6.1 0.5 -12.3 0.5 13.8 0.5 -9.6 0.5 9.7 0.5 -5.8 0.5 7.3 0.5 -7.5 0.5 8.4 0.5 -9.6 0.5 16.3 0.5 -12.1 0.5 6.6 0.5 -12 0.5 15.5 0.5 -12.9 0.5 8.6 0.5 -5.5 0.5 9.3 0.5 -14.6 0.5 7.8 0.5 -6.4 0.5 7.7 0.5 -6.6 0.5 5.7 0.5 -2.7 0.5 3.4 0.5 -9 0.5 9.8 0.5 -10.5 0.5 12.6 0.5 -7 0.5 8.7 0.5 -9.9 0.5 6.2 0.5 -7.9 0.5 12.3 0.5 -11.9 0.5 10 0.5 -7.4 0.5 4.5 0.5 -5.4 0.5 10.9 0.5 -16.2 0.5 9.5 0.5 -5.7 0.5 7.9 0.5 6.7 0.5 -10 0.5 -10.2 0.5 5.2 0.5 -7.5 0.5 9.6 0.5 -5.6 0.5 7 0.5 -8.1 0.5 11.7 0.5 -4 0.5 12 0.5 -9.4 0.5 8.4 0.5 -7.2 0.5 7.2 0.5 -5.8 0.5 4.6 0.5 -12.8 0.5 14 0.5 -8.8 0.5 6.9 0.5 -4.2 0.5 4.2 0.5 -6.8 0.5 5.8 0.5 -4.6 0.5 5.9 0.5 -5.9 0.5 8.9 0.5 -10.2 0.5 6.5 0.5 -7.9 0.5 5.6 0.5 11.2 0.5 -10.9 0.5 -10.7 0.5 13 0.5 -15.6 0.5 9.5 0.5 -6.6 0.5 7.1 0.5 -12.5 0.5 10.8 0.5 -12.3 0.5 12.2 0.5 -5.6 0.5 13 0.5 -10.9 0.5 12.5 0.5 -16.1 0.5 13.7 0.5 -7.1 0.5 6.6 0.5 -8.8 0.5 6.7 0.5 -6.3 0.5 10.5 0.5 -13.4 0.5 10.2 0.5 -6.6 0.5 3.7 0.5 -4.4 0.5 12.6 0.5 -12.5 0.5 12.5 0.5 -12.2 0.5 5.6 0.5 -5.9 0.5 1.8 0.5 -2.7 0.5 2.6 0.5 -7.4 0.5 6.5 0.5 -1.9 0.5 2.3 0.5 -4.5 0.5 5 0.5 -3.3 0.5 3.1 0.5 -3.5 0.5 4.6 0.5 -3.9 0.5 2.8 0.5 -3.2 0.5 3.2 0.5 -6.4 0.5 5.9 0.5 -2.7 0.5 2.7 0.5 -2.4 0.5 3.2 0.5 -3.2 0.5 3.1 0.5 -4.2 0.5 3.7 0.5 -4.8 0.5 5.5 0.5 -4.7 0.5 3.9 0.5 -4 0.5 7.2 0.5 -6.7 0.5 3.2 0.5 -3.1 0.5 4.6 0.5 -6.2 0.5 4.8 0.5 -4.2 0.5 5.5 0.5 -3.2 0.5 3.9 0.5 -3.8 0.5 1.7 0.5 -2.6 0.5 5.6 0.5 -7 0.5 4.7 0.5 -2.5 0.5 2 0.5 -5.3 0.5 5.2 0.5 -3.2 0.5 4.9 0.5 -4.8 0.5 3.5 0.5 -4.6 0.5 3.8 0.5 -2.8 0.5 2.3 0.5 -2.9 0.5 5.6 0.5 -4.8 0.5 5 0.5 -6.6 0.5 5.4 0.5 -5.8 0.5 4.8 0.5 -3.8 0.5 2.4 0.5 -2.1 0.5 2.1 0.5 -4.4 0.5 7.3 0.5 -6.4 0.5 5.9 0.5 -6 0.5 11.7 0.5 -10 0.5 4 0.5 -4 0.5 4.5 0.5 -2.4 0.5 3.6 0.5 -3.4 0.5 5.7 0.5 -4.4 0.5 3.4 0.5 -3.1 0.5 4.3 0.5 -3.8 0.5 4.5 0.5 -5.2 0.5 4.3 0.5 -3.8 0.5 1.9 0.5 -3.7 0.5 2.7 0.5 -3.1 0.5 3.4 0.5 -6 0.5 4.7 0.5 -6.9 0.5 5 0.5 -2.4 0.5 3.1 0.5 -3.9 0.5 4.4 0.5 -4 0.5 4.3 0.5 -3.6 0.5 2.8 0.5 -3.2 0.5 3.5 0.5 -7.5 0.5 8.9 0.5 -4.7 0.5 2.9 0.5 -2.8 0.5 4.7 0.5 -6.7 0.5 7.2 0.5 -4.5 0.5 3.5 0.5 -3 0.5 2.4 0.5 -3.2 0.5 5.2 0.5 -6 0.5 5.1 0.5 -4.1 0.5 4.7 0.5 -2.1 0.5 4.6 0.5 -5 0.5 4.4 0.5 -4.8 0.5 3.7 0.5 -12.8 0.5 10.1 0.5 -6.2 0.5 5.8 0.5 -3.4 0.5 2.6 0.5 -3.2 0.5 5.9 0.5 -4.4 0.5 3.5 0.5 -1.9 0.5 3 0.5 -3.7 0.5 4.9 0.5 -6.9 0.5 4.8 0.5 -2.8 0.5 2.5 0.5 -3.3 0.5 4.9 0.5 -5.2 0.5 2.5 0.5 -3.1 0.5 5.2 0.5 -5.5 0.5 3.4 0.5 -3.1 0.5 4.8 0.5 -4.6 0.5 3 0.5 -7.6 0.5 8.9 0.5 -4.8 0.5 2.3 0.5 -2.8 0.5 2.5 0.5 -3.2 0.5 5 0.5 -5.3 0.5 6.2 0.5 -5.5 0.5 2.1 0.5 -5.8 0.5 6 0.5 -3.2 0.5 3.7 0.5 -1.9 0.5 2.2 0.5 -5.1 0.5 7.3 0.5 -5.9 0.5 10 0.5 -7.3 0.5 4.9 0.5 -5 0.5 4.7 0.5 -1.8 0.5 2.2 0.5 -4.5 0.5 8.4 0.5 -6 0.5 2.2 0.5 -3.1 0.5 6.8 0.5 -8.2 0.5 5.1 0.5 -5.6 0.5 7.1 0.5 -7.4 0.5 5.4 0.5 -3.5 0.5 2.5 0.5 -2.2 0.5 3 0.5 -2.7 0.5 2.4 0.5 -3.4 0.5 6.2 0.5 -5.2 0.5 3.5 0.5 -4.6 0.5 3.1 0.5 -6.7 0.5 8.7 0.5 -5.8 0.5 3.4 0.5 -2.6 0.5 3.6 0.5 -4.9 0.5 4.5 0.5 -2.9 0.5 6.1 0.5 -6.8 0.5 3.4 0.5 -3.8 0.5 4.4 0.5 -4.3 0.5 5.6 0.5 -7.8 0.5 10 0.5 -8.2 0.5 5.2 0.5 -4.1 0.5 2.7 0.5 -2.8 0.5 2.4 0.5 -4.6 0.5 3.2 0.5 -3 0.5 3.5 0.5 -3 0.5 4.4 0.5 -5.5 0.5 4.8 0.5 -1.9 0.5 2.2 0.5 -3.6 0.5 4.2 0.5 -5.6 0.5 6.4 0.5 -4.7 0.5 4.3 0.5 -4.3 0.5 4.9 0.5 -5.9 0.5 4 0.5 -4 0.5 3.8 0.5 -4.7 0.5 6.9 0.5 -7.9 0.5 8.6 0.5 -6.5 0.5 11.5 0.5 -12.8 0.5 5.1 0.5 -4.5 0.5 4.7 0.5 -5.6 0.5 6.9 0.5 -5.5 0.5 6.2 0.5 -7.3 0.5 5.3 0.5 -5.3 0.5 2.1 0.5 -2.8 0.5 6.5 0.5 -7.5 0.5 7 0.5 -5.4 0.5 5.4 0.5 -7.6 0.5 6.8 0.5 -7.8 0.5 10.1 0.5 -8.7 0.5 6.3 0.5 -5.4 0.5 6.5 0.5 -6.7 0.5 8.7 0.5 -16.9 0.5 12.7 0.5 -2.7 0.5 4.6 0.5 -5.1 0.5 3.8 0.5 -5.3 0.5 3.8 0.5 -3.8 0.5 7.6 0.5 -8.5 0.5 6.4 0.5 -4 0.5 5 0.5 -4.9 0.5 4.1 0.5 -7.3 0.5 7.4 0.5 -4.4 0.5 3.6 0.5 -2.3 0.5 3.8 0.5 -4.3 0.5 5.9 0.5 -4.6 0.5 3.5 0.5 -5.8 0.5 6.1 0.5 -5 0.5 5.2 0.5 -5 0.5 8.1 0.5 -13.1 0.5 9.2 0.5 -4.5 0.5 10.1 0.5 -17.2 0.5 12.3 0.5 -3.5 0.5 4.8 0.5 -6.2 0.5 6.3 0.5 -6.8 0.5 6.8 0.5 -7.2 0.5 10.5 0.5 -12.3 0.5 10.2 0.5 -11 0.5 10.2 0.5 -5.9 0.5 4.1 0.5 -2.7 0.5 4.4 0.5 -6.6 0.5 5.6 0.5 -5.5 0.5 4.3 0.5 -2.4 0.5 5.2 0.5 -8.6 0.5 7.4 0.5 -5.3 0.5 3.4 0.5 -2.8 0.5 6.1 0.5 -7.5 0.5 3.2 0.5 -4.2 0.5 3.5 0.5 -3.1 0.5 4.9 0.5 -7.5 0.5 16.2 0.5 -15.1 0.5 7.8 0.5 -8.5 0.5 8.6 0.5 -6.7 0.5 5.8 0.5 -4.9 0.5 4.6 0.5 -4.5 0.5 5.2 0.5 -7.4 0.5 7.8 0.5 -4.8 0.5 5.4 0.5 -5.3 0.5 6.2 0.5 -7.2 0.5 5.8 0.5 -2.9 0.5 5.2 0.5 -6.9 0.5 5.7 0.5 -5.5 0.5 5.5 0.5 -8.7 0.5 7.2 0.5 -6.9 0.5 6.8 0.5 -9.3 0.5 9.6 0.5 -7.8 0.5 3.7 0.5 -3.9 0.5 7.5 0.5 -10.6 0.5 7.7 0.5 -4.9 0.5 11.9 0.5 -17.1 0.5 8.8 0.5 -7.1 0.5 4.3 0.5 -5.3 0.5 9.3 0.5 -13.7 0.5 10.7 0.5 -6.4 0.5 4.3 0.5 -5.4 0.5 9.1 0.5 -4 0.5 4.4 0.5 -5.6 0.5 5.5 0.5 -2.9 0.5 6 0.5 -4.9 0.5 4.4 0.5 -9 0.5 11.9 0.5 -8.6 0.5 6.2 0.5 -5.1 0.5 4 0.5 -13.8 0.5 17.1 0.5 -12.6 0.5 8.8 0.5 -2.9 0.5 6.3 0.5 -7.6 0.5 5.9 0.5 -4.6 0.5 6 0.5 -6.1 0.5 4.7 0.5 -8.5 0.5 8.8 0.5 -5.6 0.5 3.3 0.5 -2.5 0.5 3.6 0.5 -4.4 0.5 7.5 0.5 -8.7 0.5 6.3 0.5 -5.7 0.5 6.4 0.5 -6.7 0.5 7.5 0.5 -4.8 0.5 4.7 0.5 -4.8 0.5 7.5 0.5 -7.8 0.5 8.6 0.5 -8.4 0.5 4.8 0.5 -5 0.5 5.2 0.5 -4.7 0.5 9.4 0.5 -7.4 0.5 6.3 0.5 -7.6 0.5 8.3 0.5 -5.9 0.5 5.5 0.5 -7.2 0.5 9.4 0.5 -7.5 0.5 5.7 0.5 -3.5 0.5 4.4 0.5 -7.8 0.5 7.6 0.5 -5.2 0.5 4.7 0.5 -4.4 0.5 3.9 0.5 -6.6 0.5 9 0.5 -6.4 0.5 6.6 0.5 -6.5 0.5 3.9 0.5 -3.2 0.5 7.5 0.5 -9.5 0.5 5.2 0.5 -3.6 0.5 3.3 0.5 -3.5 0.5 5.5 0.5 -5.4 0.5 1.8 0.5 -1.6 0.5 2.1 0.5 -3.1 0.5 2.8 0.5 -4.4 0.5 5.6 0.5 -5.9 0.5 7.5 0.5 -5.5 0.5 4.3 0.5 -5.7 0.5 7.3 0.5 -5.9 0.5 2.4 0.5 -4.6 0.5 4.2 0.5 -1.7 0.5 3.2 0.5 -10.1 0.5 11.4 0.5 -5.8 0.5 6.1 0.5 -5.1 0.5 3.2 0.5 -3.4 0.5 2.3 0.5 -3.1 0.5 4.8 0.5 -5 0.5 4.1 0.5 -2.5 0.5 4.5 0.5 -4.3 0.5 2.9 0.5 -1.7 0.5 1.7 0.5 -1.7 0.5 2.6 0.5 -2.6 0.5 2.2 0.5 -1.7 0.5 4.5 0.5 -5.6 0.5 6.6 0.5 -4.7 0.5 4.1 0.5 -3.1 0.5 4.9 0.5 -6.1 0.5 6.2 0.5 -5.1 0.5 4.3 0.5 -3.7 0.5 2.4 0.5 -1.8 0.5 2 0.5 -2.1 0.5 2.6 0.5 -2.6 0.5 2.3 0.5 -3.3 0.5 5.1 0.5 -7 0.5 6 0.5 -4 0.5 1.8 0.5 -3.5 0.5 3.6 0.5 -5 0.5 5.4 0.5 -6.8 0.5 4.3 0.5 -2.8 0.5 4.8 0.5 -5.7 0.5 3.6 0.5 -3 0.5 2.5 0.5 -2.3 0.5 4.2 0.5 -5.6 0.5 3.2 0.5 -3.3 0.5 4.5 0.5 -4.4 0.5 3.1 0.5 -8 0.5 8.3 0.5 -4.6 0.5 4.3 0.5 -3.9 0.5 3.6 0.5 -5.7 0.5 4.6 0.5 -2.7" stroke="#ff1010" stroke-width="1.0" fill="none" stroke-linejoin="round" />
<path d="M668.3 223.6L1122.4 223.6" stroke="#000" stroke-width="1.2" stroke-dasharray="3.8 2.2" fill="none" />
</g>
<path d="M674.6 198.2L691.8 198.2" stroke="#3838ff" stroke-width="1.0" fill="none" />
<text x="693.7" y="201.5" font-size="9.3" fill="#2020ff" xml:space="preserve">V<tspan font-size="6.9" dy="3.4">L</tspan></text>
<path d="M674.6 214L691.8 214" stroke="#50ff50" stroke-width="1.0" fill="none" />
<text x="693.7" y="217.3" font-size="9.3" fill="#a0e020" xml:space="preserve">V<tspan font-size="6.9" dy="3.4">M</tspan></text>
<clipPath id="cm4"><rect x="668.3" y="263.3" width="454.1" height="74.1"/></clipPath><g clip-path="url(#cm4)">
<path d="M668.8 302.1l0.6 -1.2 0.5 3.4 0.6 -3.6 0.5 2.5 0.6 -2.5 0.5 3.4 0.6 -2.5 0.5 2.8 0.6 -2.8 0.5 1.8 0.6 -3.2 0.5 1.1 0.6 -1.9 0.5 1 0.6 -1.9 0.5 0.9 0.6 -2.4 0.5 2.4 0.6 -2.8 0.5 2.2 0.6 -1.2 0.5 2.9 0.6 -2.4 0.5 1.9 0.6 -1.6 0.5 1.6 0.6 -1.7 0.5 1.8 0.6 -1.6 0.5 2.5 0.6 -1.6 0.5 4.2 0.6 -3.3 0.5 1.8 0.6 -1.6 0.5 1.3 0.6 -3.1 0.5 1.6 0.6 -2 0.5 2.7 0.6 -2.8 0.5 1.3 0.6 -2.1 0.5 1.5 0.6 -1.7 0.5 1.6 0.6 -2 0.5 1.6 0.6 -1.5 0.5 3.1 0.6 -1 0.5 4.3 0.6 -1.9 0.5 2.1 0.6 -2.4 0.5 3.8 0.6 -9.8 0.5 9.8 0.6 -4 0.5 3.8 0.6 -5.2 0.5 3.5 0.6 -7.1 0.5 7 0.6 -5.5 0.5 4.6 0.6 -7.3 0.5 7 0.6 -5.2 0.5 4.9 0.6 -0.8 0.5 6.6 0.6 -0.3 0.5 2 0.6 -3.5 0.5 1.9 0.6 -4.6 0.5 4 0.6 -9.8 0.5 8.1 0.6 -4.6 0.5 3 0.6 -6.9 0.5 8.8 0.6 -8.7 0.5 4.5 0.6 -4.5 0.5 3.3 0.6 -7.4 0.5 9.4 0.6 -5 0.5 3.5 0.6 -5.7 0.5 2.3 0.6 -4.5 0.5 3.4 0.6 -2.4 0.5 1.9 0.6 -3.2 0.5 3.2 0.6 -3.7 0.5 7 0.6 -2.5 0.5 5.2 0.6 -6.8 0.5 10.2 0.6 -7.1 0.5 1.5 0.6 -11.3 0.5 11 0.6 -0.5 0.5 10.7 0.6 -5.5 0.5 7.6 0.6 -13.2 0.5 3.2 0.6 -7 0.5 1.1 0.6 -8.6 0.5 1.5 0.6 0.7 0.5 6.6 0.6 0.2 0.5 1.9 0.6 -6.2 0.5 2.1 0.6 -1.4 0.5 10 0.6 2 0.5 10.4 0.6 -5.2 0.5 5.8 0.6 -3.5 0.5 4.1 0.6 -9.6 0.5 1.4 0.6 -7.4 0.5 2.3 0.6 -4 0.5 4.1 0.6 -8.7 0.5 3.7 0.6 -3.5 0.5 1.2 0.6 -5.2 0.5 2.4 0.6 -6.8 0.5 5.1 0.6 0.3 0.5 13.5 0.6 -4.4 0.5 2 0.6 -5.4 0.5 2.9 0.6 -2.7 0.5 6.6 0.6 -2.9 0.5 3.8 0.6 -13.2 0.5 -1.8 0.6 -0.1 0.5 8.7 0.6 0.5 0.5 4.9 0.6 -5.9 0.5 3.4 0.6 -4.3 0.5 -0.8 0.6 -8 0.5 0.1 0.6 -13.2 0.5 -7.2 0.6 0.9 0.5 10.1 0.6 1 0.5 14.4 0.6 -1.9 0.5 -4.6 0.6 -6.5 0.5 3.3 0.6 -2.5 0.5 8.9 0.6 1.7 0.5 9.6 0.6 3.4 0.5 9.8 0.6 -9.6 0.5 1.5 0.6 -9.6 0.5 0.9 0.6 -10.5 0.5 6 0.6 -2.7 0.5 9.4 0.6 -2.8 0.5 1.8 0.6 -8.3 0.5 5 0.6 -7 0.5 4.4 0.6 -7.3 0.5 3.6 0.6 -1.4 0.5 8 0.6 -2.4 0.5 12 0.6 1.8 0.5 9.1 0.6 0.1 0.5 9.3 0.6 -4 0.5 4.6 0.6 -4.2 0.5 0.8 0.6 -18.8 0.5 8.4 0.6 -16.4 0.5 -0.8 0.6 -2.8 0.5 6 0.6 -2.8 0.5 9.2 0.6 -3.4 0.5 11.6 0.6 -5.8 0.5 6.1 0.6 -0.6 0.5 2.9 0.6 -4.1 0.5 0.6 0.6 -5.7 0.5 2.4 0.6 -6.2 0.5 2.2 0.6 -6.4 0.5 6.8 0.6 -5.5 0.5 2.2 0.6 -10.9 0.5 -5.8 0.6 2.3 0.5 7.6 0.6 1.5 0.5 9 0.6 -3 0.5 7.9 0.6 -2.6 0.5 10.8 0.6 -0.3 0.5 4.3 0.6 -7.7 0.5 2.9 0.6 -7.6 0.5 6.7 0.6 -4.5 0.5 3.7 0.6 -2.5 0.5 8.2 0.6 -5.4 0.5 3.8 0.6 -8 0.5 5.9 0.6 -11.4 0.5 6 0.6 0.9 0.5 7.9 0.6 -3.9 0.5 3.3 0.6 -9.6 0.5 -0.1 0.6 -8.7 0.5 -2.7 0.6 -11.1 0.5 4.8 0.6 -3.7 0.5 5.6 0.6 -5.8 0.5 1.1 0.6 -7 0.5 2.9 0.6 -3.7 0.5 3.1 0.6 -6.8 0.5 13.1 0.6 -1.3 0.5 8.3 0.6 -4.6 0.5 10.7 0.6 -8 0.5 6.7 0.6 -4.4 0.5 9.4 0.6 -7.1 0.5 3.4 0.6 -7.3 0.5 5.9 0.6 -6.8 0.5 1 0.6 -8 0.5 5.1 0.6 -6.2 0.5 5.1 0.6 -3.5 0.5 7.9 0.6 -0.3 0.5 5.8 0.6 -9.9 0.5 8 0.6 -5.9 0.5 7 0.6 -3.7 0.5 5.2 0.6 0.3 0.5 7.3 0.6 -4.3 0.5 2.4 0.6 -7.2 0.5 -0.5 0.6 -3.3 0.5 7.6 0.6 -1.9 0.5 3.9 0.6 -8.6 0.5 2.3 0.6 -7.1 0.5 9.3 0.6 1.2 0.5 7.9 0.6 -3.4 0.5 5.3 0.6 -3.5 0.5 2.9 0.6 -10.7 0.5 0.3 0.6 -7.7 0.5 3.7 0.6 -0.2 0.5 12 0.6 -3.1 0.5 9.6 0.6 -4.7 0.5 5.2 0.6 -20.1 0.5 -7.9 0.6 -15.9 0.5 5.5 0.6 -3.2 0.5 11.1 0.6 -9.5 0.5 1.2 0.6 -7 0.5 13.6 0.6 5.3 0.5 13.8 0.6 0 0.5 10.9 0.6 0.6 0.5 6.1 0.6 -1.2 0.5 3.7 0.6 -6.3 0.5 0.1 0.6 -5.4 0.5 -2.6 0.6 -10.7 0.5 -1.8 0.6 -9.1 0.5 -1.4 0.6 -7.7 0.5 3.3 0.6 -5.6 0.5 14 0.6 9 0.5 13.7 0.6 -15.8 0.5 -0.3 0.6 -8.9 0.5 8.4 0.6 -2 0.5 7.6 0.6 -9.4 0.5 12.6 0.6 -4 0.5 7.5 0.6 1.7 0.5 8.9 0.6 -7.2 0.5 5.7 0.6 -5.7 0.5 3.3 0.6 -8.2 0.5 3.2 0.6 -8 0.5 7.8 0.6 -1.5 0.5 7.9 0.6 -4.8 0.5 7.2 0.6 -2.2 0.5 3.1 0.6 -11.1 0.5 -5.7 0.6 -2.2 0.5 5.1 0.6 -2.7 0.5 3.8 0.6 -11.7 0.5 -2.6 0.6 -11.4 0.5 7.3 0.6 0 0.5 7.6 0.6 -6.3 0.5 0.8 0.6 -8.5 0.5 6.9 0.6 -2.6 0.5 6.5 0.6 -7.5 0.5 5.3 0.6 -5.8 0.5 4 0.6 -2 0.5 7.4 0.6 -3.2 0.5 3.3 0.6 -10 0.5 1 0.6 -2 0.5 6.5 0.6 -2.1 0.5 0.6 0.6 -6 0.5 0.2 0.6 -1.5 0.5 10.3 0.6 -1.2 0.5 5.8 0.6 -7.2 0.5 2.1 0.6 -6.6 0.5 9.5 0.6 -11.8 0.5 7.6 0.6 -8.3 0.5 7.9 0.6 -1.4 0.5 5.7 0.6 -2.7 0.5 2.5 0.6 -6.2 0.5 3.1 0.6 -0.8 0.5 4.5 0.6 -1.9 0.5 0.6 0.6 -11.8 0.5 -0.2 0.6 -5.9 0.5 4 0.6 -7.1 0.5 4 0.6 -6 0.5 6.6 0.6 -7.5 0.5 0 0.6 -4 0.5 5.6 0.6 -2.8 0.5 7.1 0.6 0.5 0.5 8.3 0.6 -4.7 0.5 4.9 0.6 -2.4 0.5 4.1 0.6 -2.3 0.5 7.9 0.6 -4.9 0.5 4.4 0.6 -3.2 0.5 7 0.6 -7 0.5 9.1 0.6 -2.3 0.5 8 0.6 2.3 0.5 7.9 0.6 2.7 0.5 8.5 0.6 -0.8 0.5 8.1 0.6 -16.3 0.5 -5.4 0.6 -14.5 0.5 1.6 0.6 -10 0.5 9.7 0.6 -5.4 0.5 7.2 0.6 -6.8 0.5 9.9 0.6 -2.9 0.5 2 0.6 -7.1 0.5 5.4 0.6 -7.2 0.5 3.6 0.6 -5 0.5 4.2 0.6 -3.2 0.5 4.9 0.6 -1.5 0.5 2.8 0.6 -4.7 0.5 3.7 0.6 -6.1 0.5 2.6 0.6 -9.4 0.5 3.8 0.6 -4.7 0.5 3 0.6 -4.2 0.5 11.3 0.6 -11.7 0.5 4.6 0.6 -4.8 0.5 7.1 0.6 1.7 0.5 5.9 0.6 -1 0.5 4.2 0.6 -4.5 0.5 5.1 0.6 -10 0.5 3.8 0.6 -3.9 0.5 2.1 0.6 -5 0.5 9.2 0.6 -11.8 0.5 4 0.6 -5.3 0.5 5.1 0.6 -4.8 0.5 3.7 0.6 -2.7 0.5 5.6 0.6 -3.7 0.5 9.9 0.6 -2.8 0.5 7.2 0.6 -6 0.5 4.4 0.6 -5.3 0.5 7.4 0.6 -11.5 0.5 3.4 0.6 -7.1 0.5 7.2 0.6 -6.2 0.5 5.8 0.6 -1.8 0.5 9.4 0.6 -1.5 0.5 5.7 0.6 -5.4 0.5 4.3 0.6 -4 0.5 3.3 0.6 -4.8 0.5 4.7 0.6 -1 0.5 5.9 0.6 -1.4 0.5 6.4 0.6 -1.1 0.5 6.6 0.6 -1.3 0.5 6.7 0.6 -4.4 0.5 2.6 0.6 -8.7 0.5 6.6 0.6 -3.2 0.5 6.2 0.6 -5.3 0.5 15.9 0.6 -10.1 0.5 5.7 0.6 -8.3 0.5 0.2 0.6 -4.5 0.5 3.6 0.6 -3.4 0.5 4.9 0.6 -2.8 0.5 6.2 0.6 -4.5 0.5 -4 0.6 -8.8 0.5 0.1 0.6 -6.8 0.5 4 0.6 -5.2 0.5 2.5 0.6 -6.9 0.5 -0.6 0.6 -2 0.5 7.6 0.6 -0.1 0.5 3 0.6 -4.9 0.5 1.9 0.6 -3.5 0.5 10.1 0.6 -0.8 0.5 6.7 0.6 -2.5 0.5 9.1 0.6 -5.3 0.5 4.6 0.6 -8.6 0.5 5.1 0.6 -8.6 0.5 12.9 0.6 -5.4 0.5 7.7 0.6 -6.7 0.5 6.1 0.6 -10.7 0.5 9.6 0.6 -5.7 0.5 6 0.6 -4.9 0.5 5.5 0.6 -2.6 0.5 6.2 0.6 -4.8 0.5 3.1 0.6 -2.5 0.5 4.9 0.6 -3.3 0.5 4.5 0.6 -5.7 0.5 5 0.6 -7 0.5 5.9 0.6 -5.7 0.5 5.1 0.6 -5.6 0.5 2.6 0.6 -10 0.5 0.5 0.6 -13.4 0.5 9.2 0.6 -12.4 0.5 1.9 0.6 -7.1 0.5 7.1 0.6 -4.5 0.5 9.6 0.6 -2.5 0.5 8.1 0.6 -2 0.5 1.7 0.6 -8.4 0.5 6.6 0.6 -0.6 0.5 6.9 0.6 -6.8 0.5 7 0.6 -9.6 0.5 5.2 0.6 -2.4 0.5 5 0.6 -1.3 0.5 8.7 0.6 -2.8 0.5 6.2 0.6 0 0.5 9.1 0.6 -3.6 0.5 8.1 0.6 -5.2 0.5 3.5 0.6 -8.1 0.5 0.4 0.6 -8.6 0.5 1.9 0.6 -8.5 0.5 3 0.6 -9.4 0.5 11.8 0.6 -10.8 0.5 9.7 0.6 -16.9 0.5 -5.3 0.6 -4.6 0.5 4.2 0.6 -2.9 0.5 11.4 0.6 6.1 0.5 7.9 0.6 -2.5 0.5 5 0.6 -6.3 0.5 11.2 0.6 -13.8 0.5 3.4 0.6 -11.5 0.5 1.5 0.6 0 0.5 6.5 0.6 -0.8 0.5 2.3 0.6 -11.2 0.5 1.9 0.6 1 0.5 8.4 0.6 0.9 0.5 4 0.6 -7.8 0.5 0.5 0.6 -10.3 0.5 9.3 0.6 5 0.5 11.8 0.6 -4.6 0.5 -6.3 0.6 -12.9 0.5 -2.8 0.6 -12.5 0.5 8.2 0.6 1.6 0.5 14 0.6 -2.7 0.5 2 0.6 -2.6 0.5 6.3 0.6 -0.3 0.5 7.7 0.6 -3.1 0.5 4.5 0.6 -1.1 0.5 1.8 0.6 -10.6 0.5 3.3 0.6 -10.2 0.5 5.1 0.6 -5.5 0.5 8.2 0.6 -2.5 0.5 4.7 0.6 -3.3 0.5 3 0.6 -7.4 0.5 3.1 0.6 -8 0.5 3.7 0.6 -7.2 0.5 3.1 0.6 -9 0.5 3.3 0.6 -5 0.5 6.3 0.6 -1.7 0.5 6.7 0.6 -11.8 0.5 3.7 0.6 -11.4 0.5 1.8 0.6 -1.8 0.5 7.2 0.6 -1.6 0.5 4.8 0.6 -8.5 0.5 3.9 0.6 -9 0.5 8.3 0.6 -2 0.5 6 0.6 -4.6 0.5 5.6 0.6 -8.1 0.5 6 0.6 -3.9 0.5 5.6 0.6 -0.9 0.5 4.5 0.6 -4 0.5 8.7 0.6 -8 0.5 4.5 0.6 -6.9 0.5 4.2 0.6 -5 0.5 10 0.6 1.2 0.5 8.1 0.6 -6 0.5 0.3 0.6 -6.9 0.5 3.6 0.6 1.9 0.5 10.6 0.6 0.2 0.5 7.5 0.6 -9.1 0.5 16 0.6 -11.9 0.5 -2.1 0.6 -13.2 0.5 -0.1 0.6 -8.2 0.5 0 0.6 -5.8 0.5 7.5 0.6 -2.3 0.5 7.3 0.6 -3 0.5 3.2 0.6 -3 0.5 10" stroke="#ff1818" stroke-width="0.85" fill="none" stroke-linejoin="round" />
<path d="M668.8 299.3l0.5 -1.2 0.5 -1 0.5 3.9 0.5 -3.3 0.5 4 0.5 -1.1 0.5 2.2 0.5 -2.5 0.5 0.2 0.5 -0.5 0.5 1 0.5 0.3 0.5 -0.2 0.5 -1.4 0.5 1 0.5 1.4 0.5 -1.5 0.5 -0.4 0.5 1.9 0.5 0.5 0.5 -1 0.5 0.4 0.5 1.8 0.5 -1.5 0.5 -2.7 0.5 1.8 0.5 -0.1 0.5 0.6 0.5 -1.4 0.5 -3 0.5 5.2 0.5 -4.6 0.5 2.1 0.5 -2 0.5 0.2 0.5 3.5 0.5 0.3 0.5 -1.5 0.5 -0.9 0.5 -0.1 0.5 3 0.5 0.4 0.5 -0.2 0.5 1.4 0.5 -0.7 0.5 -1.4 0.5 0.2 0.5 -0.1 0.5 -0.7 0.5 0.2 0.5 2 0.5 -1.5 0.5 3.8 0.5 -4.9 0.5 2.4 0.5 3 0.5 -3.6 0.5 0.8 0.5 4.3 0.5 -4.4 0.5 0.8 0.5 0.3 0.5 1.2 0.5 1.4 0.5 -5 0.5 1.5 0.5 -0.4 0.5 -2.5 0.5 1 0.5 0.1 0.5 1.8 0.5 -2.3 0.5 3.6 0.5 -4.8 0.5 0.4 0.5 -0.8 0.5 0.1 0.5 -0.7 0.5 0.6 0.5 -2 0.5 -1.4 0.5 1.6 0.5 0.5 0.5 -1 0.5 5.9 0.5 -1.6 0.5 3.1 0.5 2.3 0.5 -0.5 0.5 0.2 0.5 -1.7 0.5 2.8 0.5 -3.4 0.5 1.2 0.5 -4.8 0.5 -0.1 0.5 -2.9 0.5 0.3 0.5 -0.3 0.5 -2.4 0.5 3 0.5 1.9 0.5 -1.7 0.5 0.2 0.5 -0.1 0.5 1 0.5 2.1 0.5 -2.3 0.5 0.1 0.5 2.6 0.5 -1.8 0.5 0.3 0.5 1 0.5 0.6 0.5 -4.3 0.5 1 0.5 1.3 0.5 -0.8 0.5 -2.7 0.5 -1.5 0.5 -2 0.5 3.1 0.5 1.4 0.5 3.9 0.5 2.8 0.5 -0.2 0.5 1.9 0.5 0.4 0.5 0.8 0.5 -1.2 0.5 -2.7 0.5 -1 0.5 -3.1 0.5 -1.5 0.5 1.7 0.5 -5.6 0.5 5.1 0.5 4.7 0.5 0.1 0.5 5.9 0.5 6.2 0.5 3.2 0.5 2.5 0.5 -2.5 0.5 -0.3 0.5 3.7 0.5 0.6 0.5 -7.2 0.5 -0.8 0.5 -4.3 0.5 -2 0.5 0.4 0.5 1.3 0.5 -1.4 0.5 -0.7 0.5 1.8 0.5 -0.3 0.5 0.7 0.5 2.2 0.5 -1.8 0.5 -1.1 0.5 0.1 0.5 1.1 0.5 -1.3 0.5 1.3 0.5 2.9 0.5 -1.2 0.5 -2.4 0.5 0.6 0.5 1.1 0.5 -4.7 0.5 3.2 0.5 0.6 0.5 -2 0.5 -1.6 0.5 0.5 0.5 2.3 0.5 2.1 0.5 -0.9 0.5 1.5 0.5 1.7 0.5 -1.8 0.5 -2.2 0.5 -0.6 0.5 -6.1 0.5 -3.2 0.5 -1.8 0.5 -0.3 0.5 -3.1 0.5 0.4 0.5 3.2 0.5 1.7 0.5 1.8 0.5 1.3 0.5 2.3 0.5 1.4 0.5 -0.5 0.5 1.7 0.5 1 0.5 2.2 0.5 1.3 0.5 0.1 0.5 1 0.5 -1.8 0.5 -1.4 0.5 -3.9 0.5 1.1 0.5 -6.4 0.5 3 0.5 -1.2 0.5 0.8 0.5 0.8 0.5 0.1 0.5 4.9 0.5 0.2 0.5 1.1 0.5 -0.9 0.5 1.4 0.5 -2.7 0.5 1 0.5 1 0.5 2.2 0.5 0.4 0.5 -1.4 0.5 1.8 0.5 -0.8 0.5 -0.9 0.5 5.5 0.5 -0.1 0.5 2 0.5 -0.4 0.5 2.4 0.5 3.5 0.5 2.7 0.5 -12.1 0.5 -15.2 0.5 -4.9 0.5 -3.6 0.5 -0.6 0.5 0.5 0.5 2 0.5 5.5 0.5 1.2 0.5 3.1 0.5 3.5 0.5 0.4 0.5 -0.2 0.5 -0.6 0.5 -2.6 0.5 -0.9 0.5 0 0.5 0.4 0.5 3.2 0.5 -1.1 0.5 -0.7 0.5 -0.2 0.5 -2 0.5 -0.8 0.5 1.7 0.5 -0.1 0.5 2.9 0.5 -2.3 0.5 1.9 0.5 -0.6 0.5 1.3 0.5 -1.6 0.5 -4.6 0.5 -3.6 0.5 7.1 0.5 7 0.5 0 0.5 3.6 0.5 0 0.5 0.3 0.5 2.1 0.5 -2.3 0.5 -2.1 0.5 2.5 0.5 0.6 0.5 1.9 0.5 -1.9 0.5 1 0.5 2.1 0.5 -4.7 0.5 0.1 0.5 0.1 0.5 0.7 0.5 -3 0.5 -2.8 0.5 -0.8 0.5 -7.6 0.5 -3.8 0.5 3.6 0.5 -0.5 0.5 3.1 0.5 1.8 0.5 1.3 0.5 -2.5 0.5 -2 0.5 -4.7 0.5 0.4 0.5 2.9 0.5 -1.7 0.5 1.5 0.5 -2.5 0.5 3.3 0.5 0.3 0.5 -0.5 0.5 -1.5 0.5 2.2 0.5 0 0.5 -1.7 0.5 -1.1 0.5 1.6 0.5 0.2 0.5 -0.9 0.5 -0.1 0.5 -0.5 0.5 1 0.5 0 0.5 -0.4 0.5 2.2 0.5 3.2 0.5 -5.6 0.5 3.2 0.5 0.6 0.5 -0.8 0.5 -0.7 0.5 -1.2 0.5 -1 0.5 1.9 0.5 1.9 0.5 -1.6 0.5 -0.5 0.5 1.3 0.5 -1.9 0.5 1.5 0.5 -2.7 0.5 -0.3 0.5 0.9 0.5 0.3 0.5 2 0.5 3.3 0.5 3.4 0.5 -1.9 0.5 3.8 0.5 0.3 0.5 3.4 0.5 -4.5 0.5 0.6 0.5 -1.2 0.5 0.7 0.5 -0.2 0.5 2.9 0.5 0.1 0.5 -0.3 0.5 2.7 0.5 -1.4 0.5 1.4 0.5 1.1 0.5 0.9 0.5 -1.1 0.5 2 0.5 -0.3 0.5 -0.7 0.5 0.9 0.5 -1.1 0.5 1.3 0.5 -0.7 0.5 1 0.5 -2 0.5 -2.7 0.5 -1.8 0.5 -1.8 0.5 -4.1 0.5 3.6 0.5 -4.4 0.5 3.2 0.5 2.7 0.5 -3.4 0.5 -2.8 0.5 -1.5 0.5 -1 0.5 -1.9 0.5 -0.3 0.5 -0.7 0.5 2.1 0.5 4.6 0.5 -1.8 0.5 4 0.5 2.8 0.5 3.5 0.5 1.8 0.5 1.8 0.5 -1.2 0.5 1.2 0.5 -1.3 0.5 -2.6 0.5 -5.9 0.5 2.4 0.5 -6.4 0.5 -2.2 0.5 -5 0.5 -2.4 0.5 2.2 0.5 -2.4 0.5 1.4 0.5 -0.2 0.5 -0.4 0.5 0.4 0.5 1.1 0.5 -2.1 0.5 0.9 0.5 1.8 0.5 2.1 0.5 3.8 0.5 0.1 0.5 0.6 0.5 1.6 0.5 0.3 0.5 3 0.5 4.2 0.5 0.1 0.5 -1.4 0.5 5.7 0.5 -1.5 0.5 -1.1 0.5 -0.5 0.5 -0.2 0.5 -3.7 0.5 -0.6 0.5 -0.6 0.5 -3.7 0.5 0.5 0.5 -0.9 0.5 -0.5 0.5 0.4 0.5 -0.3 0.5 0.6 0.5 -1.9 0.5 4.6 0.5 2 0.5 -1.3 0.5 -1.7 0.5 -2.7 0.5 -2.2 0.5 5.1 0.5 3.4 0.5 4.6 0.5 -4.3 0.5 -0.9 0.5 -4.9 0.5 -3.2 0.5 -2.5 0.5 -0.9 0.5 -5.5 0.5 2.2 0.5 2.3 0.5 -3 0.5 0.3 0.5 -1.4 0.5 -1 0.5 -0.6 0.5 -0.9 0.5 2.3 0.5 -1 0.5 -1 0.5 1.5 0.5 -4.7 0.5 1.8 0.5 0.4 0.5 -1 0.5 -1.6 0.5 1 0.5 -1.7 0.5 1.3 0.5 2 0.5 0.8 0.5 -0.2 0.5 0.9 0.5 -1.7 0.5 -3.2 0.5 1.9 0.5 -1 0.5 -6.3 0.5 0.6 0.5 0.8 0.5 -1.4 0.5 -1.4 0.5 4.8 0.5 5.7 0.5 7.9 0.5 0.3 0.5 0.3 0.5 2.4 0.5 0.4 0.5 0.6 0.5 -4.8 0.5 3.1 0.5 0.6 0.5 -3.5 0.5 2.3 0.5 -0.7 0.5 -0.8 0.5 -4.1 0.5 3.5 0.5 -1.7 0.5 -0.7 0.5 0.5 0.5 -2.2 0.5 -0.9 0.5 1 0.5 -0.5 0.5 -0.5 0.5 2.1 0.5 -1.4 0.5 3.3 0.5 2.3 0.5 0.5 0.5 0 0.5 2.6 0.5 -0.9 0.5 1.3 0.5 -3.7 0.5 2.7 0.5 1.7 0.5 -1.6 0.5 0.1 0.5 -0.3 0.5 4 0.5 -3.8 0.5 2.6 0.5 -0.6 0.5 0.1 0.5 -2.1 0.5 -2.7 0.5 4.7 0.5 2.6 0.5 0.9 0.5 4.2 0.5 -0.2 0.5 2 0.5 -3.2 0.5 -1.4 0.5 -1.3 0.5 -1.8 0.5 -0.8 0.5 1.6 0.5 0.7 0.5 -1.1 0.5 -0.5 0.5 0.3 0.5 -1.6 0.5 -0.9 0.5 -0.8 0.5 3.7 0.5 -4.2 0.5 3 0.5 -0.3 0.5 -3.2 0.5 2 0.5 1.1 0.5 0.4 0.5 -0.8 0.5 -2.6 0.5 2.2 0.5 0 0.5 1.6 0.5 -0.5 0.5 -3 0.5 -0.3 0.5 -1.5 0.5 1.8 0.5 -1.9 0.5 -1.5 0.5 2.6 0.5 1.6 0.5 0.7 0.5 0.7 0.5 -0.5 0.5 -0.1 0.5 -0.8 0.5 2.1 0.5 0.6 0.5 -0.4 0.5 1 0.5 0.6 0.5 -2.9 0.5 3.2 0.5 0.1 0.5 1.7 0.5 -0.2 0.5 -2.5 0.5 1.1 0.5 -1 0.5 1.4 0.5 -1.7 0.5 -2.4 0.5 0.4 0.5 -2.9 0.5 4.8 0.5 -2.9 0.5 0.2 0.5 -1.7 0.5 1 0.5 -1.9 0.5 2.2 0.5 -1.5 0.5 1.1 0.5 1.3 0.5 -1.1 0.5 4 0.5 0.8 0.5 -0.5 0.5 -2.2 0.5 -1.6 0.5 -0.2 0.5 0.3 0.5 -0.3 0.5 0.4 0.5 -1.1 0.5 3.1 0.5 0 0.5 -0.1 0.5 -0.8 0.5 1.7 0.5 1.3 0.5 -1.6 0.5 3.5 0.5 3.3 0.5 0.5 0.5 3 0.5 -4.3 0.5 -4.7 0.5 -2.7 0.5 6.6 0.5 9.7 0.5 1.1 0.5 -4.5 0.5 -1.1 0.5 -1.9 0.5 -3.7 0.5 -7.5 0.5 -1.2 0.5 -0.8 0.5 -0.8 0.5 -4 0.5 1.2 0.5 0.4 0.5 2.2 0.5 0.3 0.5 7.9 0.5 2.8 0.5 4.7 0.5 2.2 0.5 2.1 0.5 -0.2 0.5 -2.3 0.5 -2.3 0.5 -3.4 0.5 -3.7 0.5 -1.5 0.5 -2.7 0.5 1.8 0.5 -1.7 0.5 -3.5 0.5 -1.6 0.5 -2.4 0.5 -4 0.5 3.8 0.5 3.4 0.5 -1.1 0.5 -1.7 0.5 -3 0.5 -0.1 0.5 0 0.5 3.1 0.5 2.5 0.5 -0.6 0.5 4.1 0.5 0.2 0.5 1.6 0.5 -3.1 0.5 -0.5 0.5 4 0.5 3 0.5 1.8 0.5 1 0.5 -0.4 0.5 2.6 0.5 -1.3 0.5 -0.9 0.5 0.3 0.5 -2.9 0.5 0.8 0.5 2.6 0.5 2.7 0.5 -1.1 0.5 2.7 0.5 0.5 0.5 1.1 0.5 -0.1 0.5 2.6 0.5 -3.9 0.5 -0.8 0.5 -2.3 0.5 0.6 0.5 5.1 0.5 0.5 0.5 1.3 0.5 -1.8 0.5 -1.1 0.5 0.5 0.5 -1.9 0.5 0.4 0.5 -0.1 0.5 -1.5 0.5 -0.8 0.5 -2.9 0.5 1.6 0.5 -4.4 0.5 5.6 0.5 -3.4 0.5 0.9 0.5 1.6 0.5 -1.3 0.5 1.5 0.5 -1.1 0.5 2 0.5 -0.1 0.5 -0.7 0.5 -0.2 0.5 2 0.5 -0.7 0.5 -1.4 0.5 0.7 0.5 1.2 0.5 -1.1 0.5 3.1 0.5 -2.8 0.5 2.6 0.5 -2.2 0.5 4.1 0.5 -0.9 0.5 0.9 0.5 0.4 0.5 -2.7 0.5 3.5 0.5 -0.5 0.5 -0.9 0.5 1.4 0.5 -0.4 0.5 0.9 0.5 1 0.5 1.6 0.5 0.7 0.5 0.5 0.5 -3.6 0.5 -3.1 0.5 1.4 0.5 -0.5 0.5 0.9 0.5 -1.8 0.5 -1.9 0.5 2.3 0.5 -0.4 0.5 1.8 0.5 0.8 0.5 -3 0.5 0.5 0.5 0.5 0.5 -0.2 0.5 2.8 0.5 -0.7 0.5 -3.3 0.5 1 0.5 -0.9 0.5 -4 0.5 1.8 0.5 0.6 0.5 -3 0.5 -1 0.5 -0.3 0.5 1.3 0.5 -0.5 0.5 -1.7 0.5 2.2 0.5 -1.8 0.5 0.6 0.5 -2.8 0.5 -2.5 0.5 -3 0.5 7.1 0.5 4.8 0.5 2.7 0.5 -4.2 0.5 -3.5 0.5 -3 0.5 -3.6 0.5 -3.6 0.5 10.1 0.5 6.5 0.5 1.6 0.5 -4.3 0.5 -3.9 0.5 5.1 0.5 -0.5 0.5 2.7 0.5 -0.6 0.5 6.7 0.5 0.2 0.5 -2.6 0.5 2.9 0.5 0.5 0.5 1.6 0.5 -0.7 0.5 4.4 0.5 -4 0.5 -2.1 0.5 -2 0.5 -3.2 0.5 -3.2 0.5 -1.4 0.5 0 0.5 1.4 0.5 -0.3 0.5 -0.8 0.5 4.7 0.5 -1 0.5 -0.6 0.5 0.7 0.5 -3.7 0.5 -1.6 0.5 -1.7 0.5 -0.4 0.5 -7.1 0.5 -0.2 0.5 -1.2 0.5 -2.9 0.5 1 0.5 -2.4 0.5 -0.4 0.5 -1.8 0.5 -3 0.5 7.3 0.5 0.4 0.5 3.2 0.5 -0.6 0.5 4.1 0.5 -2.6 0.5 -4.1 0.5 -0.1 0.5 -3.7 0.5 1.8 0.5 -0.2 0.5 2.6 0.5 3.1 0.5 -2.7 0.5 3 0.5 1.2 0.5 1.1 0.5 2.3 0.5 1.4 0.5 3.3 0.5 -0.8 0.5 6.4 0.5 2.8 0.5 -4.5 0.5 3.4 0.5 1.3 0.5 -1.2 0.5 -2 0.5 -3.4 0.5 1 0.5 -0.4 0.5 -1.9 0.5 -2.4 0.5 3.1 0.5 0.2 0.5 2.6 0.5 1.9 0.5 1.4 0.5 2 0.5 2.1 0.5 0.4 0.5 0.1 0.5 -1.9 0.5 2.3 0.5 -1.6 0.5 -7.4 0.5 -3.6 0.5 -5.4 0.5 -0.7 0.5 1.3 0.5 1.4 0.5 1.3 0.5 -1.3 0.5 0.4 0.5 -0.2 0.5 -1 0.5 0.9 0.5 -0.4 0.5 -1.6 0.5 0.5 0.5 2.9 0.5 -4.7 0.5 1.5" stroke="#181818" stroke-width="1.1" fill="none" stroke-linejoin="round" />
</g>
<path d="M674.6 271.2L691.8 271.2" stroke="#ff3030" stroke-width="1.0" fill="none" />
<text x="693.7" y="274.5" font-size="10" fill="#ff0000" xml:space="preserve">T</text>
<text x="699.2" y="279" font-size="8.5" text-anchor="start" fill="#ff3030" >||</text>
<path d="M674.6 285.5L691.8 285.5" stroke="#555" stroke-width="1.6" fill="none" />
<text x="693.7" y="288.8" font-size="10" fill="#201010" xml:space="preserve">T</text>
<text x="700.3" y="294" font-size="6" text-anchor="start" fill="#c08080" >⊥</text>
<clipPath id="cm5"><rect x="668.3" y="337.4" width="454.1" height="73.6"/></clipPath><g clip-path="url(#cm5)">
<path d="M668.8 379.6l0.6 -0.8 0.6 0.6 0.6 -0.5 0.6 0.7 0.6 -1.1 0.6 1 0.6 -1 0.6 0.7 0.6 -0.8 0.6 1.3 0.6 -1.5 0.6 1.4 0.6 -0.8 0.6 0.7 0.6 -0.9 0.6 0.7 0.6 -1.2 0.6 0.1 0.6 -1.3 0.6 1.1 0.6 -0.4 0.6 2.1 0.6 -0.8 0.6 0.9 0.6 -1.7 0.6 1.8 0.6 -1.3 0.6 1.2 0.6 -0.7 0.6 0.6 0.6 -1 0.6 1.2 0.6 -1 0.6 0.9 0.6 -1.1 0.6 1.2 0.6 -0.7 0.6 1.3 0.6 -1.9 0.6 1.4 0.6 -1.2 0.6 1.9 0.6 -1.5 0.6 1.2 0.6 -1.5 0.6 0.9 0.6 -0.9 0.6 1.1 0.6 -0.6 0.6 0.7 0.6 -0.5 0.6 0.6 0.6 -1.1 0.6 1.5 0.6 -0.9 0.6 1.4 0.6 -1.4 0.6 1.1 0.6 -0.8 0.6 0.9 0.6 -2.3 0.6 4.3 0.6 -2.3 0.6 2.5 0.6 -2.7 0.6 4.1 0.6 -4.5 0.6 3.5 0.6 -3.6 0.6 3.9 0.6 -4.9 0.6 2.4 0.6 -3.9 0.6 1.3 0.6 -3 0.6 3.6 0.6 -2.6 0.6 2.6 0.6 -7 0.6 4.9 0.6 -3 0.6 3.3 0.6 -3.3 0.6 2.9 0.6 -3.9 0.6 5 0.6 -5.1 0.6 5.2 0.6 -5.9 0.6 5.2 0.6 -7.6 0.6 11.2 0.6 -7.8 0.6 3.7 0.6 -7 0.6 6.6 0.6 -8 0.6 13 0.6 -3.8 0.6 3.3 0.6 0 0.6 7.7 0.6 -2.2 0.6 9.2 0.6 -1.3 0.6 6.4 0.6 -8.1 0.6 4.4 0.6 -7.1 0.6 0.1 0.6 -6.8 0.6 1.9 0.6 -5.3 0.6 1.5 0.6 -5.2 0.6 3.2 0.6 -9 0.6 14.1 0.6 -3.4 0.6 9.8 0.6 0.1 0.6 6.1 0.6 -3.1 0.6 -0.3 0.6 -5.2 0.6 0.6 0.6 -8.8 0.6 3.3 0.6 -8.5 0.6 7.5 0.6 -6.5 0.6 8.5 0.6 -0.3 0.6 8.3 0.6 -6.8 0.6 2.3 0.6 -3.8 0.6 3.1 0.6 -1.5 0.6 6.5 0.6 -5 0.6 5.3 0.6 -4 0.6 5.6 0.6 -1.1 0.6 1.7 0.6 -7.1 0.6 2.4 0.6 -7.3 0.6 1.1 0.6 -6.3 0.6 0.5 0.6 -4.6 0.6 2.5 0.6 0.5 0.6 9 0.6 -1.3 0.6 6.9 0.6 -1.2 0.6 8 0.6 0.2 0.6 6.4 0.6 -4.9 0.6 -0.4 0.6 -5.2 0.6 2.9 0.6 -5.6 0.6 8.8 0.6 -4.1 0.6 5.1 0.6 -6.9 0.6 4.9 0.6 -4.1 0.6 3.9 0.6 -3.9 0.6 4.5 0.6 -3.6 0.6 9.4 0.6 -1.2 0.6 2.4 0.6 -4.6 0.6 2.1 0.6 -8.5 0.6 3.6 0.6 -6 0.6 1.6 0.6 -5.2 0.6 2.4 0.6 -5.7 0.6 3.9 0.6 -2.9 0.6 2.1 0.6 -3.7 0.6 6.3 0.6 1.2 0.6 15.4 0.6 -12.4 0.6 -2.9 0.6 -5.2 0.6 1.3 0.6 -5.3 0.6 5.6 0.6 -2.7 0.6 9.8 0.6 -6.2 0.6 2.5 0.6 -5.2 0.6 2.1 0.6 -4.4 0.6 4.2 0.6 -5.1 0.6 1.8 0.6 -3.1 0.6 2 0.6 -6.6 0.6 2.8 0.6 -4.1 0.6 4.9 0.6 -1.6 0.6 3.5 0.6 -0.7 0.6 3.7 0.6 -1.7 0.6 4 0.6 -2 0.6 5.2 0.6 -4.7 0.6 5.7 0.6 -3.6 0.6 4.5 0.6 -1.8 0.6 3.4 0.6 -2.6 0.6 4.9 0.6 -2.2 0.6 4.5 0.6 -4.7 0.6 1.4 0.6 -3 0.6 0.2 0.6 -6.5 0.6 1.3 0.6 -7.1 0.6 -3.3 0.6 -5.2 0.6 3.4 0.6 -5.4 0.6 3.5 0.6 -2.6 0.6 7.4 0.6 -8.2 0.6 12.1 0.6 1.2 0.6 7.1 0.6 -3.5 0.6 2.2 0.6 -2.4 0.6 1.1 0.6 -4.9 0.6 5 0.6 -6.2 0.6 2.4 0.6 -3.7 0.6 4.4 0.6 -2.4 0.6 4.5 0.6 -0.3 0.6 6.9 0.6 -3.8 0.6 -0.3 0.6 -6.9 0.6 3.4 0.6 -6.2 0.6 4.6 0.6 -4.9 0.6 5 0.6 -2.2 0.6 3 0.6 -6.7 0.6 9.7 0.6 -3 0.6 4.9 0.6 -3 0.6 6.5 0.6 -2.8 0.6 6.4 0.6 -0.7 0.6 4.4 0.6 -1.7 0.6 0.8 0.6 -7.5 0.6 5.1 0.6 -7.7 0.6 1.7 0.6 -4.6 0.6 3.2 0.6 -1.4 0.6 4.9 0.6 -0.9 0.6 5 0.6 -3 0.6 5.2 0.6 -8.6 0.6 3.7 0.6 -6.2 0.6 2.3 0.6 -3.9 0.6 1.8 0.6 -4.1 0.6 -0.2 0.6 -2.6 0.6 2.8 0.6 -5 0.6 3.2 0.6 -4.9 0.6 4.8 0.6 -4.3 0.6 6.4 0.6 -5.5 0.6 7.6 0.6 -2.3 0.6 3.8 0.6 -3.4 0.6 5.1 0.6 -3.6 0.6 4.5 0.6 -4 0.6 1.6 0.6 -3.3 0.6 0.9 0.6 -5.6 0.6 6.1 0.6 -5.2 0.6 2.2 0.6 -6.7 0.6 4.6 0.6 -2.5 0.6 3.4 0.6 -3.3 0.6 3.6 0.6 -0.3 0.6 6.2 0.6 -2.9 0.6 7.4 0.6 -6.1 0.6 0 0.6 -3.6 0.6 1.4 0.6 -4.8 0.6 4.1 0.6 -1.9 0.6 2.9 0.6 -3.2 0.6 2.7 0.6 -6.7 0.6 2 0.6 -5.2 0.6 4.5 0.6 -4.5 0.6 4 0.6 -3.9 0.6 4.3 0.6 -5.3 0.6 5.7 0.6 -3.2 0.6 5.1 0.6 -6.3 0.6 5.3 0.6 1.9 0.6 7.5 0.6 -5.4 0.6 7.7 0.6 -4.3 0.6 4.2 0.6 -1.7 0.6 4.4 0.6 -3.5 0.6 4.9 0.6 -7.6 0.6 4.4 0.6 -5.2 0.6 3.9 0.6 -4.8 0.6 1.1 0.6 -4.8 0.6 3.4 0.6 -4.7 0.6 2.9 0.6 -4.8 0.6 2.1 0.6 -2.8 0.6 3.4 0.6 -2.8 0.6 1.3 0.6 -1.9 0.6 3.4 0.6 -4 0.6 3.8 0.6 -2.3 0.6 2.5 0.6 -1.8 0.6 2.4 0.6 -1.4 0.6 1.9 0.6 -1.8 0.6 2.3 0.6 -1.9 0.6 2.6 0.6 -1.2 0.6 2 0.6 -2.3 0.6 2.6 0.6 -2.8 0.6 2.2 0.6 -2.7 0.6 1.9 0.6 -2.6 0.6 1.7 0.6 -1.6 0.6 0.6 0.6 -1.7 0.6 2.2 0.6 -2.5 0.6 2.3 0.6 -2.7 0.6 0.9 0.6 -2.6 0.6 2.6 0.6 -1.9 0.6 1.1 0.6 -1.9 0.6 0.7 0.6 -2.3 0.6 2.3 0.6 -2.8 0.6 1.8 0.6 -2.2 0.6 1.7 0.6 -1.3 0.6 1.6 0.6 -1.8 0.6 2.8 0.6 -3.3 0.6 3.2 0.6 -2 0.6 3.5 0.6 -2.8 0.6 3.2 0.6 -1.7 0.6 3.7 0.6 -2.2 0.6 2.7 0.6 -1.3 0.6 4.2 0.6 -2.6 0.6 2.5 0.6 -0.9 0.6 2.3 0.6 -0.8 0.6 2.2 0.6 -2.6 0.6 3.3 0.6 -3.1 0.6 3.3 0.6 -2.2 0.6 3.5 0.6 -1.4 0.6 2 0.6 -2 0.6 1.3 0.6 -3 0.6 1.4 0.6 -2.9 0.6 1.2 0.6 -2.1 0.6 0.6 0.6 -5.1 0.6 3.5 0.6 -2.9 0.6 1.8 0.6 -3 0.6 1.4 0.6 -2.9 0.6 3.9 0.6 -0.4 0.6 2.4 0.6 -3.1 0.6 1.3 0.6 -3.4 0.6 1.7 0.6 -2.6 0.6 0.5 0.6 -4.6 0.6 2.1 0.6 -2 0.6 1.4 0.6 -1.8 0.6 1.2 0.6 -1.5 0.6 1.9 0.6 -0.4 0.6 1.8 0.6 -1.2 0.6 2.9 0.6 -2 0.6 4.4 0.6 -3.3 0.6 4.5 0.6 -2.8 0.6 3.2 0.6 -3.1 0.6 4.7 0.6 -2.5 0.6 2.8 0.6 -1.7 0.6 1.4 0.6 -0.7 0.6 2.4 0.6 -1.8 0.6 1.6 0.6 -2.2 0.6 1.5 0.6 -3.5 0.6 1.5 0.6 -1.7 0.6 6.2 0.6 -3.3 0.6 1.3 0.6 -4.6 0.6 3.4 0.6 0.1 0.6 5.3 0.6 -5.4 0.6 0.2 0.6 -3.8 0.6 -0.6 0.6 -4.6 0.6 4.2 0.6 -0.7 0.6 3.8 0.6 -1.3 0.6 2.9 0.6 -1 0.6 2.4 0.6 -3.1 0.6 2.6 0.6 -1.6 0.6 4 0.6 0.3 0.6 5.3 0.6 -5.7 0.6 0.4 0.6 -5.6 0.6 -0.3 0.6 -4 0.6 1.9 0.6 -2.5 0.6 4.6 0.6 -1.5 0.6 4.8 0.6 -3.7 0.6 0.9 0.6 -4.7 0.6 6 0.6 -0.9 0.6 4.2 0.6 -2.6 0.6 2 0.6 -1.1 0.6 2.3 0.6 -3.8 0.6 3.4 0.6 -3.4 0.6 1.2 0.6 -1.4 0.6 2.4 0.6 -2.6 0.6 2.1 0.6 -1.7 0.6 1.9 0.6 -3.2 0.6 2.2 0.6 -2.2 0.6 1.1 0.6 -1.9 0.6 1.8 0.6 -2 0.6 1.6 0.6 -2.6 0.6 2.5 0.6 -2.2 0.6 1.8 0.6 -3.5 0.6 2.8 0.6 -2.9 0.6 1.5 0.6 -2.1 0.6 3 0.6 -3 0.6 3.5 0.6 -3.8 0.6 1.2 0.6 -1.9 0.6 1.5 0.6 -2 0.6 1.8 0.6 -1.3 0.6 3.7 0.6 -2.6 0.6 3.2 0.6 -3.7 0.6 3.7 0.6 -4.7 0.6 2.7 0.6 -3.5 0.6 2.7 0.6 -1.7 0.6 2 0.6 -1.8 0.6 1.7 0.6 -4 0.6 4.2 0.6 -2.4 0.6 1.9 0.6 -2.2 0.6 2.5 0.6 -2.6 0.6 1.7 0.6 -2.4 0.6 3 0.6 -1.4 0.6 1.4 0.6 -1 0.6 2 0.6 -2.4 0.6 2.1 0.6 -0.9 0.6 1.7 0.6 -0.3 0.6 4.2 0.6 -2.6 0.6 5.4 0.6 -3 0.6 2.6 0.6 -1.8 0.6 3.5 0.6 0.6 0.6 5.7 0.6 -2.3 0.6 -0.8 0.6 -4.5 0.6 -0.1 0.6 -4.2 0.6 2.1 0.6 -3.5 0.6 3.4 0.6 -1.1 0.6 2.8 0.6 -2.9 0.6 -1.3 0.6 -4.2 0.6 6 0.6 -0.1 0.6 5.9 0.6 4.8 0.6 8.1 0.6 -3.5 0.6 -0.8 0.6 -3.1 0.6 3.8 0.6 -2.2 0.6 3.6 0.6 -0.7 0.6 3.2 0.6 -2.6 0.6 3.4 0.6 -5 0.6 2.1 0.6 -1.8 0.6 2.8 0.6 -1.6 0.6 0.3 0.6 -4.3 0.6 1.2 0.6 -3.9 0.6 2.5 0.6 -3.5 0.6 0.9 0.6 0.4 0.6 4 0.6 -0.4 0.6 0.6 0.6 -2.4 0.6 -0.1 0.6 -2.1 0.6 3.1 0.6 -1.7 0.6 2.5 0.6 -1.3 0.6 3.6 0.6 -2.4 0.6 1.5 0.6 -4.1 0.6 2.1 0.6 -5.1 0.6 0.3 0.6 -3 0.6 3.1 0.6 0 0.6 2.4 0.6 -5.2 0.6 0.3 0.6 -0.5 0.6 6.4 0.6 0 0.6 0.9 0.6 -6.8 0.6 1 0.6 -5.4 0.6 -0.6 0.6 -4.8 0.6 -0.9 0.6 -4.8 0.6 1.4 0.6 -8.8 0.6 0.8 0.6 -4.9 0.6 -0.3 0.6 -1.6 0.6 2.3 0.6 -1 0.6 6 0.6 2 0.6 1.6 0.6 -4 0.6 0 0.6 -0.3 0.6 4.8 0.6 -1.2 0.6 9 0.6 4.5 0.6 5.4 0.6 1.1 0.6 4 0.6 -0.7 0.6 2.2 0.6 -5.2 0.6 4.4 0.6 -2.7 0.6 0.9 0.6 -4.8 0.6 2.8 0.6 -2.9 0.6 2 0.6 -2 0.6 1.4" stroke="#2020ff" stroke-width="0.9" fill="none" stroke-linejoin="round" />
<path d="M668.8 379.5l0.6 -0.3 0.6 0.5 0.6 -0.9 0.6 1.1 0.6 -1.5 0.6 1.5 0.6 -1.5 0.6 1.5 0.6 -0.7 0.6 1.1 0.6 -1 0.6 0.5 0.6 -1.2 0.6 1.2 0.6 -1 0.6 1.1 0.6 -0.5 0.6 0.7 0.6 -1 0.6 0.8 0.6 -0.4 0.6 0.7 0.6 -1.1 0.6 1.5 0.6 -1.4 0.6 1.1 0.6 -0.8 0.6 1 0.6 -1 0.6 1 0.6 -1.1 0.6 0.7 0.6 -0.7 0.6 0.7 0.6 -0.7 0.6 1 0.6 -1 0.6 1.6 0.6 -1.5 0.6 1 0.6 -0.9 0.6 0.9 0.6 -0.5 0.6 0.9 0.6 -0.7 0.6 1.1 0.6 -1.2 0.6 1.8 0.6 -1.4 0.6 1.1 0.6 -1.5 0.6 1.3 0.6 -1.9 0.6 2 0.6 -0.6 0.6 1 0.6 -0.9 0.6 1.9 0.6 -1.3 0.6 0.7 0.6 -2.3 0.6 5.7 0.6 -5.7 0.6 4.5 0.6 -2.6 0.6 4.5 0.6 -2.2 0.6 1.2 0.6 -4.3 0.6 1.8 0.6 -4.4 0.6 2 0.6 -6.1 0.6 4.6 0.6 -7.1 0.6 3.5 0.6 -2.3 0.6 2.1 0.6 -3 0.6 6 0.6 -5.7 0.6 4.2 0.6 -2.9 0.6 3.4 0.6 -4.1 0.6 3.2 0.6 -3.4 0.6 3.8 0.6 -2.6 0.6 1.6 0.6 -4.4 0.6 6.1 0.6 -6 0.6 5 0.6 -3.1 0.6 5.5 0.6 -3.4 0.6 3.9 0.6 -3.1 0.6 5.8 0.6 -7.1 0.6 6.2 0.6 -1.9 0.6 6.9 0.6 -1.4 0.6 6.3 0.6 -6.5 0.6 9.1 0.6 -4.8 0.6 -0.1 0.6 -8.2 0.6 3.6 0.6 -4.5 0.6 3.8 0.6 -3.5 0.6 4.2 0.6 -3.4 0.6 2.5 0.6 -2.9 0.6 6 0.6 -0.6 0.6 1.7 0.6 -7.9 0.6 3 0.6 -7.8 0.6 5.3 0.6 -5.9 0.6 6.7 0.6 -4.6 0.6 6.8 0.6 -3.7 0.6 3 0.6 -2.8 0.6 6.5 0.6 -3.1 0.6 5.6 0.6 -4 0.6 2.4 0.6 -3.8 0.6 2.5 0.6 -4.7 0.6 2.9 0.6 -4.1 0.6 4.6 0.6 0.2 0.6 9.1 0.6 -11 0.6 -5 0.6 -6.2 0.6 0.6 0.6 -4 0.6 4.8 0.6 -2.2 0.6 5.4 0.6 -3.9 0.6 2.7 0.6 -2.7 0.6 2.6 0.6 -3.4 0.6 3.3 0.6 -5.2 0.6 9.8 0.6 -11.4 0.6 8.7 0.6 -3 0.6 2.4 0.6 -2 0.6 2.2 0.6 -6.4 0.6 3.3 0.6 -4.6 0.6 3.7 0.6 -5.7 0.6 3 0.6 -2.6 0.6 2.4 0.6 -2.4 0.6 1 0.6 -2.8 0.6 1.1 0.6 -4 0.6 3.5 0.6 -3.4 0.6 4.7 0.6 -3.8 0.6 3 0.6 -6.4 0.6 3.9 0.6 -2.9 0.6 2.7 0.6 -5.1 0.6 2.5 0.6 -4.3 0.6 1.4 0.6 1.3 0.6 7.8 0.6 3.9 0.6 6.5 0.6 0.2 0.6 2.8 0.6 -7.7 0.6 5.8 0.6 -4 0.6 1 0.6 -5.2 0.6 3.5 0.6 -6.3 0.6 2.7 0.6 -2 0.6 3.2 0.6 -0.6 0.6 3.5 0.6 -1.9 0.6 3.5 0.6 -1.3 0.6 3.1 0.6 -4.3 0.6 4.1 0.6 -3.7 0.6 1.2 0.6 -3.9 0.6 2.2 0.6 -2.2 0.6 3.2 0.6 -1.6 0.6 6.2 0.6 -1.7 0.6 5.8 0.6 -1 0.6 4.5 0.6 -3.5 0.6 4.8 0.6 -4.5 0.6 4.6 0.6 -5.8 0.6 3 0.6 -1.3 0.6 1.7 0.6 -1 0.6 2.2 0.6 -7.1 0.6 8.4 0.6 -2.2 0.6 3 0.6 -1.3 0.6 6.7 0.6 -2.1 0.6 4.3 0.6 -4.6 0.6 1.7 0.6 -4.9 0.6 0.7 0.6 -4.4 0.6 1.3 0.6 -3.8 0.6 3.7 0.6 -4.5 0.6 2.8 0.6 -5.2 0.6 3.8 0.6 -2.2 0.6 2.3 0.6 -0.9 0.6 5.2 0.6 -3.9 0.6 3.4 0.6 -3.9 0.6 4.7 0.6 -7.8 0.6 7.6 0.6 -5.6 0.6 5.7 0.6 -4.9 0.6 3.6 0.6 -5.1 0.6 3 0.6 -2.8 0.6 1.9 0.6 -4.2 0.6 5.3 0.6 -6.6 0.6 4.4 0.6 -5.1 0.6 2 0.6 -3.4 0.6 2.7 0.6 -1.9 0.6 2.7 0.6 -3.3 0.6 3.5 0.6 -4.8 0.6 4.8 0.6 -2.5 0.6 2.9 0.6 -3 0.6 5.1 0.6 -4.8 0.6 4.4 0.6 -2.6 0.6 4.2 0.6 -2.1 0.6 3.6 0.6 -4.5 0.6 4.4 0.6 -2.7 0.6 1.7 0.6 -5.4 0.6 5.9 0.6 -5.8 0.6 1.6 0.6 -5.6 0.6 1.5 0.6 -4.9 0.6 1.3 0.6 -8.7 0.6 5.5 0.6 -2.4 0.6 6.1 0.6 -2.3 0.6 4.4 0.6 -7 0.6 2.9 0.6 -5.3 0.6 0.2 0.6 -4.4 0.6 0.8 0.6 -2.3 0.6 4.6 0.6 -3.2 0.6 5.9 0.6 -3.7 0.6 3.2 0.6 -4.2 0.6 3.8 0.6 -3.1 0.6 2.7 0.6 -0.8 0.6 4.5 0.6 -4.7 0.6 4 0.6 -0.6 0.6 3.8 0.6 -1.3 0.6 1.8 0.6 -2.7 0.6 2.5 0.6 -4.3 0.6 4.7 0.6 -3.3 0.6 5.2 0.6 -2.1 0.6 2.7 0.6 -1.8 0.6 3.8 0.6 -4.4 0.6 3.6 0.6 -3.2 0.6 3.7 0.6 -3.3 0.6 4.1 0.6 -3.2 0.6 5.7 0.6 -5.4 0.6 4.1 0.6 -3.3 0.6 2.1 0.6 -3.4 0.6 5.7 0.6 -3.6 0.6 1 0.6 -5 0.6 0.6 0.6 -3.5 0.6 3.2 0.6 -3 0.6 9.7 0.6 2.3 0.6 5.8 0.6 -2.7 0.6 5.3 0.6 -2.9 0.6 3.5 0.6 -3.2 0.6 3.5 0.6 -6 0.6 4.1 0.6 -5.3 0.6 3.1 0.6 -6.1 0.6 4.2 0.6 -1.9 0.6 3.6 0.6 -3.1 0.6 3.7 0.6 -3.3 0.6 1.9 0.6 -1.3 0.6 1.9 0.6 -1.8 0.6 1.8 0.6 -2.2 0.6 3.1 0.6 -2.9 0.6 2.1 0.6 -2.2 0.6 2.9 0.6 -2.9 0.6 2.7 0.6 -2.7 0.6 2 0.6 -2.8 0.6 3.1 0.6 -1.6 0.6 2.7 0.6 -3.1 0.6 3.1 0.6 -4.2 0.6 3.9 0.6 -1.3 0.6 2.9 0.6 -3.7 0.6 3.1 0.6 -3.3 0.6 3.1 0.6 -2.7 0.6 2.3 0.6 -2.6 0.6 2.6 0.6 -1.4 0.6 1.4 0.6 -1.2 0.6 2.7 0.6 -3.5 0.6 3.2 0.6 -2.5 0.6 2.8 0.6 -2.1 0.6 1.9 0.6 -2 0.6 2.5 0.6 -1.7 0.6 1.6 0.6 -1.3 0.6 3.5 0.6 -4.6 0.6 2.3 0.6 -3.4 0.6 3.3 0.6 -3.3 0.6 2.1 0.6 -3 0.6 2.6 0.6 -1.3 0.6 1.3 0.6 -1.4 0.6 1.8 0.6 -1.9 0.6 2.6 0.6 -3.9 0.6 4.9 0.6 -3.2 0.6 1.8 0.6 -1.8 0.6 1.4 0.6 -1.4 0.6 1.6 0.6 -3.5 0.6 3.4 0.6 -4.5 0.6 2.7 0.6 -3.2 0.6 0.6 0.6 -3.4 0.6 1.4 0.6 -1.8 0.6 1.8 0.6 -2.6 0.6 1.4 0.6 -1.8 0.6 1 0.6 -2.1 0.6 1.8 0.6 -1.6 0.6 1.1 0.6 -2.5 0.6 2.5 0.6 -2.6 0.6 1.7 0.6 -1.8 0.6 1.6 0.6 -1.2 0.6 2.4 0.6 -3.6 0.6 2.4 0.6 -2.9 0.6 1.7 0.6 -2.6 0.6 2 0.6 -2.1 0.6 2.5 0.6 -3.5 0.6 1.7 0.6 -1.8 0.6 2.7 0.6 -4.8 0.6 3.2 0.6 -2.5 0.6 1.1 0.6 -3 0.6 3.3 0.6 -3.1 0.6 5 0.6 -2.2 0.6 1.4 0.6 -1.5 0.6 2.2 0.6 -1.3 0.6 1.3 0.6 -1.2 0.6 3 0.6 -3.4 0.6 0.7 0.6 -2.3 0.6 3.6 0.6 -3.6 0.6 2.2 0.6 -2.9 0.6 1.9 0.6 -2.8 0.6 1.3 0.6 -1.7 0.6 0.7 0.6 -2.1 0.6 2.7 0.6 -2.1 0.6 2.5 0.6 -4.1 0.6 3.1 0.6 -2.3 0.6 1.7 0.6 -2.8 0.6 1.3 0.6 -3.8 0.6 3.9 0.6 -4.1 0.6 2.6 0.6 -1 0.6 3.4 0.6 -1.6 0.6 6.2 0.6 -0.5 0.6 3.1 0.6 -0.4 0.6 5.1 0.6 -3.3 0.6 2.3 0.6 -1.8 0.6 2.9 0.6 -1.5 0.6 2.8 0.6 -2 0.6 2.4 0.6 -1 0.6 2.8 0.6 -2.1 0.6 2.1 0.6 -2.7 0.6 4.9 0.6 -2.1 0.6 2 0.6 -1.1 0.6 2.5 0.6 -1.2 0.6 2 0.6 -0.3 0.6 1.8 0.6 -1.5 0.6 2.8 0.6 -3.9 0.6 1.6 0.6 -4.3 0.6 3 0.6 -3.2 0.6 2.6 0.6 -1.8 0.6 1.3 0.6 -2.1 0.6 1.2 0.6 -2.1 0.6 2.5 0.6 -2.8 0.6 1.1 0.6 -2.5 0.6 2.6 0.6 -2.6 0.6 3.3 0.6 -3.3 0.6 1.4 0.6 -1.3 0.6 0.8 0.6 -1.4 0.6 1.2 0.6 -2.9 0.6 2.2 0.6 -5.1 0.6 4.9 0.6 -2.5 0.6 4.3 0.6 -4 0.6 1.4 0.6 -1.3 0.6 1.1 0.6 -3.1 0.6 3.9 0.6 -2.9 0.6 3 0.6 -3.5 0.6 2 0.6 -2.4 0.6 2.6 0.6 -3 0.6 3 0.6 -1.6 0.6 2.3 0.6 -1.4 0.6 1.7 0.6 -1.5 0.6 4.8 0.6 0.3 0.6 0.6 0.6 -4.2 0.6 0.7 0.6 -3.6 0.6 2.3 0.6 -3.2 0.6 3.5 0.6 -3 0.6 2.3 0.6 -3 0.6 2.3 0.6 -4.7 0.6 0.1 0.6 -3 0.6 3.3 0.6 -3.2 0.6 2.5 0.6 -1.4 0.6 2.4 0.6 -0.6 0.6 1.7 0.6 -3 0.6 2.8 0.6 -2.7 0.6 1.8 0.6 -3.1 0.6 3.3 0.6 -1.8 0.6 3.2 0.6 -2.9 0.6 2.4 0.6 -3.6 0.6 1.8 0.6 -3.8 0.6 -0.7 0.6 -3.8 0.6 -0.9 0.6 -5.1 0.6 -0.4 0.6 -5.4 0.6 3.5 0.6 0.7 0.6 3.6 0.6 0.4 0.6 4.6 0.6 -1.2 0.6 3.2 0.6 -1.3 0.6 2.8 0.6 -3.3 0.6 1.8 0.6 -5.9 0.6 4 0.6 -3.2 0.6 3.3 0.6 -2.3 0.6 0.1 0.6 -2.1 0.6 0.6 0.6 -2.6 0.6 3.8 0.6 -2.6 0.6 3.9 0.6 -0.7 0.6 5 0.6 -2.4 0.6 0.3 0.6 -3.8 0.6 1.8 0.6 -4.5 0.6 1.5 0.6 -3.6 0.6 3.4 0.6 -0.6 0.6 3.7 0.6 -2.2 0.6 5.2 0.6 -0.6 0.6 1.1 0.6 -3.4 0.6 1.4 0.6 -3.3 0.6 4.2 0.6 -1.2 0.6 4.2 0.6 -0.7 0.6 2.8 0.6 -1.2 0.6 3.1 0.6 -1 0.6 2.6 0.6 -1.6 0.6 1.8 0.6 -4.2 0.6 2.4 0.6 -1.8 0.6 2.4 0.6 -1.7 0.6 1.5 0.6 -2 0.6 3.1 0.6 -2.6 0.6 2.7 0.6 -1.4 0.6 2.6 0.6 -1.6 0.6 2.3 0.6 -2.2 0.6 3.9 0.6 0.8 0.6 4 0.6 0.5 0.6 -1.5 0.6 -6.4 0.6 1.5 0.6 -3.9 0.6 1.4 0.6 -3.7 0.6 0.7 0.6 -2.7 0.6 2 0.6 -3.2 0.6 1.2 0.6 -3.4 0.6 1.1 0.6 -1.8 0.6 1.6" stroke="#20ff20" stroke-width="0.9" fill="none" stroke-linejoin="round" />
<path d="M668.8 380.2l0.6 -1.6 0.6 2.1 0.6 -1.3 0.6 0.5 0.6 -0.7 0.6 1.1 0.6 -1.2 0.6 1.6 0.6 -3.8 0.6 3.7 0.6 -1.1 0.6 1 0.6 -1.5 0.6 1.2 0.6 -1.7 0.6 1.5 0.6 -0.5 0.6 0.7 0.6 -1 0.6 1.9 0.6 -1.7 0.6 0.8 0.6 -1.5 0.6 1.2 0.6 -0.7 0.6 0.9 0.6 -0.9 0.6 1 0.6 -1.1 0.6 1.1 0.6 -1.4 0.6 1.6 0.6 -1.3 0.6 0.9 0.6 -0.6 0.6 1.4 0.6 -2.4 0.6 1.9 0.6 -1.3 0.6 1.2 0.6 -1.1 0.6 0.8 0.6 -0.9 0.6 0.7 0.6 -0.7 0.6 0.9 0.6 -1.2 0.6 0.7 0.6 -1.5 0.6 1.9 0.6 -1.6 0.6 1.1 0.6 -0.8 0.6 0.8 0.6 -1.3 0.6 1.2 0.6 -0.9 0.6 1 0.6 -1.6 0.6 1.6 0.6 -2.6 0.6 3.8 0.6 -4.4 0.6 4.9 0.6 -5.8 0.6 3.4 0.6 -1.9 0.6 2 0.6 -5.1 0.6 5.7 0.6 -2.3 0.6 4.5 0.6 -2.6 0.6 5.4 0.6 -8.1 0.6 9.4 0.6 -6 0.6 8.3 0.6 -9.6 0.6 6.5 0.6 -5.6 0.6 4.2 0.6 -5.1 0.6 7.5 0.6 -6.1 0.6 5.5 0.6 -5.7 0.6 4.9 0.6 -13.5 0.6 11.7 0.6 -9.4 0.6 15.9 0.6 -10.7 0.6 2.9 0.6 -4.7 0.6 6 0.6 -16.8 0.6 17.2 0.6 -5.9 0.6 2.9 0.6 -4.2 0.6 2.8 0.6 -1.1 0.6 3.1 0.6 -1.3 0.6 2.4 0.6 -9.1 0.6 9 0.6 -8.1 0.6 4.9 0.6 -5.3 0.6 6.6 0.6 -2.8 0.6 3.1 0.6 -3 0.6 3.2 0.6 -2.3 0.6 6.5 0.6 -4.1 0.6 7.8 0.6 -0.5 0.6 4.4 0.6 -10.8 0.6 -6.9 0.6 -7.3 0.6 13.1 0.6 -4.5 0.6 4.1 0.6 -3.2 0.6 3.3 0.6 -1 0.6 5.6 0.6 -1.4 0.6 3 0.6 -7.5 0.6 3.1 0.6 -10 0.6 6.5 0.6 -4.6 0.6 6.2 0.6 -0.8 0.6 8.6 0.6 -8 0.6 1.6 0.6 -15.6 0.6 12.6 0.6 0.7 0.6 8.6 0.6 -5.6 0.6 5.2 0.6 -6.8 0.6 4.7 0.6 -9.4 0.6 5.9 0.6 -5.7 0.6 2.5 0.6 -5.6 0.6 4.9 0.6 -10.6 0.6 14.1 0.6 -17.8 0.6 1.1 0.6 -2.8 0.6 9.2 0.6 -1.7 0.6 9.1 0.6 -4.4 0.6 8 0.6 0.6 0.6 7.5 0.6 -4.4 0.6 0.2 0.6 -3.4 0.6 2.1 0.6 -4.7 0.6 0.9 0.6 -5 0.6 4.5 0.6 -5.7 0.6 5 0.6 -2.7 0.6 4.4 0.6 -3 0.6 3.7 0.6 -3.9 0.6 6.1 0.6 -2 0.6 7.5 0.6 -5 0.6 9.1 0.6 -8.3 0.6 5.8 0.6 -15.3 0.6 -5.2 0.6 -18.5 0.6 -8.5 0.6 11.9 0.6 16.5 0.6 5.9 0.6 5.9 0.6 -3.8 0.6 3.3 0.6 -4.2 0.6 2.8 0.6 -3.4 0.6 4.7 0.6 -6.3 0.6 4.1 0.6 -4.1 0.6 6.6 0.6 -6.7 0.6 4.1 0.6 -5.6 0.6 3.5 0.6 -4.4 0.6 7.7 0.6 -6 0.6 6.7 0.6 -8.2 0.6 8 0.6 -3.1 0.6 6.1 0.6 -4.9 0.6 6 0.6 -7.3 0.6 9.1 0.6 -11.4 0.6 9.5 0.6 -5.9 0.6 5 0.6 -5.1 0.6 5.2 0.6 -4.9 0.6 7 0.6 -7.1 0.6 9.2 0.6 -6.8 0.6 4.3 0.6 -6.6 0.6 4.4 0.6 -3.2 0.6 2.7 0.6 -7.4 0.6 7.2 0.6 -7.4 0.6 3 0.6 -8.4 0.6 6.6 0.6 -0.7 0.6 9.2 0.6 -6 0.6 6.5 0.6 -4.9 0.6 2.9 0.6 -4.3 0.6 4.2 0.6 -7.1 0.6 6.8 0.6 -6.5 0.6 7.7 0.6 -6.7 0.6 8.2 0.6 -8.2 0.6 4.4 0.6 -5.8 0.6 6.7 0.6 -7.8 0.6 5.9 0.6 -4.5 0.6 5.1 0.6 -5.5 0.6 4.2 0.6 -3.9 0.6 4.1 0.6 -3.2 0.6 2.3 0.6 -2.8 0.6 5.5 0.6 -6.4 0.6 7.1 0.6 -6.5 0.6 8.4 0.6 -12.5 0.6 6.5 0.6 -7.2 0.6 6.1 0.6 -9.1 0.6 -1.3 0.6 -7.2 0.6 12.2 0.6 -0.9 0.6 4.7 0.6 -6.2 0.6 6.8 0.6 -6.6 0.6 6 0.6 -3.4 0.6 1.8 0.6 -6.9 0.6 0 0.6 -4.3 0.6 7 0.6 -2.9 0.6 8 0.6 -5.5 0.6 0.8 0.6 -7 0.6 9 0.6 -6.5 0.6 10 0.6 -7.1 0.6 1.1 0.6 -7.3 0.6 3.5 0.6 -6.7 0.6 2.5 0.6 -2.4 0.6 6.5 0.6 -0.6 0.6 6.1 0.6 -3.2 0.6 3.5 0.6 -3 0.6 4.4 0.6 -4.2 0.6 5 0.6 -5.7 0.6 0.2 0.6 -7.7 0.6 3.1 0.6 -7.7 0.6 7.2 0.6 -3.6 0.6 3.1 0.6 -3.7 0.6 2.2 0.6 0.3 0.6 8.5 0.6 -2.3 0.6 7.7 0.6 -5.5 0.6 4.3 0.6 -10.2 0.6 -3.8 0.6 -8.1 0.6 5.5 0.6 -1.9 0.6 6.3 0.6 -4.4 0.6 6.8 0.6 -2.2 0.6 5.2 0.6 -0.6 0.6 6.7 0.6 -3.2 0.6 5.6 0.6 -2.1 0.6 6.4 0.6 -6.2 0.6 5.2 0.6 -4.2 0.6 3.5 0.6 -5.5 0.6 5 0.6 -3.1 0.6 3.6 0.6 -2.3 0.6 3.3 0.6 -3.8 0.6 5.7 0.6 -3.3 0.6 9.8 0.6 -7.9 0.6 6.3 0.6 -2.4 0.6 8.8 0.6 -5.6 0.6 7.4 0.6 -2.8 0.6 3.6 0.6 -7.4 0.6 2.7 0.6 -5.1 0.6 1.6 0.6 -9.8 0.6 6.1 0.6 -4.1 0.6 5.4 0.6 -6.6 0.6 2.7 0.6 -3.6 0.6 4.8 0.6 -3.9 0.6 4.3 0.6 -3.9 0.6 3.7 0.6 -2.8 0.6 4.6 0.6 -4.3 0.6 2.7 0.6 -2.1 0.6 2.2 0.6 -1.6 0.6 3.7 0.6 -4.3 0.6 2.6 0.6 -1.8 0.6 2.6 0.6 -4.7 0.6 2.8 0.6 -2.7 0.6 1.9 0.6 -2.9 0.6 4.8 0.6 -4.6 0.6 2.3 0.6 -2.5 0.6 1.4 0.6 -1.5 0.6 2.4 0.6 -2.8 0.6 2.4 0.6 -2.3 0.6 2.6 0.6 -1.3 0.6 1.8 0.6 -3.2 0.6 5.1 0.6 -4.2 0.6 4.4 0.6 -3.8 0.6 3.2 0.6 -2.8 0.6 3.5 0.6 -3.7 0.6 2.8 0.6 -3.6 0.6 3.2 0.6 -3.3 0.6 3 0.6 -2.9 0.6 2.4 0.6 -4 0.6 0.7 0.6 -1.3 0.6 2.3 0.6 -1.1 0.6 4.1 0.6 -4.6 0.6 5 0.6 -2.6 0.6 2.9 0.6 -1.4 0.6 1.5 0.6 -1.4 0.6 1.6 0.6 -1.9 0.6 2.4 0.6 -3.6 0.6 3.9 0.6 -1.9 0.6 3.5 0.6 -1.3 0.6 2.9 0.6 -2.4 0.6 3.1 0.6 -1.9 0.6 6 0.6 -6.4 0.6 2.5 0.6 -5.4 0.6 2.1 0.6 -5 0.6 3.7 0.6 -4 0.6 3.8 0.6 -4.9 0.6 2.3 0.6 -4 0.6 2 0.6 -4 0.6 3.9 0.6 -2.6 0.6 1.8 0.6 -2.1 0.6 2.6 0.6 -4.5 0.6 3.3 0.6 -4.2 0.6 4.1 0.6 -2.8 0.6 2.6 0.6 -2 0.6 2.9 0.6 -1.7 0.6 2.7 0.6 -1.9 0.6 2.2 0.6 -1.4 0.6 2.6 0.6 -4.5 0.6 3.7 0.6 -4.5 0.6 2.4 0.6 -1.6 0.6 1.4 0.6 -2.8 0.6 2.3 0.6 -3.4 0.6 3.4 0.6 -3.5 0.6 3.3 0.6 -2.9 0.6 3.9 0.6 -3.4 0.6 2.9 0.6 -3.4 0.6 4 0.6 -4.8 0.6 1.4 0.6 -2.6 0.6 3.8 0.6 -6.5 0.6 4.4 0.6 -3.5 0.6 2 0.6 -3.8 0.6 5.1 0.6 -5.1 0.6 6.1 0.6 -3.6 0.6 3.4 0.6 -4.2 0.6 3.9 0.6 -3.3 0.6 4.1 0.6 -2.2 0.6 8.6 0.6 -8.4 0.6 1.9 0.6 -4.2 0.6 0.8 0.6 -3.8 0.6 2.1 0.6 -3.6 0.6 1.1 0.6 -4.8 0.6 0 0.6 -3 0.6 4.2 0.6 -4.7 0.6 6.4 0.6 1.9 0.6 5.5 0.6 -2.1 0.6 5.6 0.6 -1.8 0.6 3.9 0.6 -5.2 0.6 4.9 0.6 -1.9 0.6 2.6 0.6 -1 0.6 4.4 0.6 -2.9 0.6 3.3 0.6 -3.9 0.6 4 0.6 -1.1 0.6 3.3 0.6 -3.3 0.6 2.8 0.6 -2.5 0.6 1.7 0.6 -4.1 0.6 2.5 0.6 -4.4 0.6 3.7 0.6 -3.4 0.6 3.5 0.6 -5.2 0.6 3.2 0.6 -4.1 0.6 3.8 0.6 -2.7 0.6 2.6 0.6 -3.4 0.6 2.1 0.6 -2.5 0.6 2.8 0.6 -3.1 0.6 2.9 0.6 -1.8 0.6 1.7 0.6 -3.3 0.6 4.5 0.6 -3.3 0.6 3 0.6 -2.2 0.6 2 0.6 -2.9 0.6 3.8 0.6 -2.8 0.6 3.7 0.6 -3.7 0.6 2.3 0.6 -2.4 0.6 2.7 0.6 -4 0.6 3.1 0.6 -3.1 0.6 4.4 0.6 -3.2 0.6 0.9 0.6 -1.6 0.6 2.6 0.6 -4.2 0.6 5.1 0.6 -3 0.6 4.3 0.6 -5.2 0.6 2.6 0.6 -1.8 0.6 1.8 0.6 -1.9 0.6 1.8 0.6 -1.9 0.6 3 0.6 -3.8 0.6 3.1 0.6 -2.1 0.6 3 0.6 -1.7 0.6 3.5 0.6 -3.8 0.6 3.3 0.6 -4.5 0.6 2.9 0.6 -2.8 0.6 3.4 0.6 -3.7 0.6 2 0.6 -2.9 0.6 2.5 0.6 -3.9 0.6 2 0.6 -3.6 0.6 3.6 0.6 -3.9 0.6 4.4 0.6 -2.6 0.6 2.5 0.6 -2 0.6 4 0.6 -2.5 0.6 1.8 0.6 -2.1 0.6 3.9 0.6 -5.3 0.6 0.8 0.6 -3.1 0.6 0.7 0.6 -2.2 0.6 7 0.6 1 0.6 9.2 0.6 -9.2 0.6 -2.7 0.6 -8.5 0.6 -0.4 0.6 -6.3 0.6 4.6 0.6 -1.1 0.6 5.5 0.6 -0.5 0.6 3.3 0.6 -2.1 0.6 4.9 0.6 -2.4 0.6 2.3 0.6 -1.5 0.6 1.6 0.6 -2.4 0.6 3.7 0.6 -4 0.6 6.7 0.6 -5.1 0.6 6.3 0.6 -4 0.6 0.8 0.6 -3.4 0.6 1.4 0.6 -4 0.6 2.6 0.6 -4.1 0.6 3 0.6 -3.1 0.6 1.3 0.6 -3.1 0.6 1.6 0.6 -2.6 0.6 2.1 0.6 -3.1 0.6 7 0.6 -4 0.6 6.2 0.6 -1.6 0.6 4.4 0.6 -1 0.6 3.6 0.6 -2.9 0.6 1.4 0.6 -4.6 0.6 4.9 0.6 -3 0.6 1.9 0.6 -1.8 0.6 3.6 0.6 -3.5 0.6 2.4 0.6 -3 0.6 4.9 0.6 -4.1 0.6 3.6 0.6 -2.4 0.6 3.3 0.6 -2.3 0.6 2.7 0.6 -4.9 0.6 4.1 0.6 -4.1 0.6 1.7 0.6 -2.7 0.6 3 0.6 -3.3 0.6 5.1 0.6 -5 0.6 3.7 0.6 -2.5 0.6 5.2 0.6 1.1 0.6 3.2 0.6 -4.6 0.6 0.8 0.6 -5.7 0.6 1.9 0.6 -3 0.6 2.6 0.6 -3.1 0.6 2.5 0.6 -3 0.6 2.7 0.6 -4.5 0.6 3.9 0.6 -3.3 0.6 1.5" stroke="#ff1010" stroke-width="0.9" fill="none" stroke-linejoin="round" />
<path d="M668.3 379.3L1122.4 379.3" stroke="#222" stroke-width="1.3" stroke-dasharray="3.8 2.2" fill="none" />
</g>
<path d="M674.6 342.4L691.8 342.4" stroke="#3838ff" stroke-width="1.0" fill="none" />
<text x="695.6" y="345.7" font-size="10" fill="#2020ff" xml:space="preserve">E<tspan font-size="7.4" dy="3.4">L</tspan></text>
<path d="M674.6 352.5L691.8 352.5" stroke="#50ff50" stroke-width="1.0" fill="none" />
<text x="695.6" y="355.8" font-size="10" fill="#80f000" xml:space="preserve">E<tspan font-size="7.4" dy="3.4">M</tspan></text>
<path d="M674.6 362.4L691.8 362.4" stroke="#ff3030" stroke-width="1.0" fill="none" />
<text x="695.6" y="365.7" font-size="10" fill="#ff2000" xml:space="preserve">E<tspan font-size="7.4" dy="3.4">N</tspan></text>
<clipPath id="cm6"><rect x="668.3" y="411" width="454.1" height="73.5"/></clipPath><g clip-path="url(#cm6)">
<path d="M668.8 449.8l0.6 -1.4 0.6 -0.3 0.6 0.8 0.6 0 0.6 -1.8 0.6 2.4 0.6 -1.8 0.6 2.3 0.6 -3.4 0.6 3 0.6 -1 0.6 0.1 0.6 -0.8 0.6 1 0.6 -0.4 0.6 -0.4 0.6 -1 0.6 3.3 0.6 -1.7 0.6 0.2 0.6 1 0.6 0.7 0.6 -1.4 0.6 0.5 0.6 -1.4 0.6 -1.5 0.6 1.4 0.6 -0.2 0.6 0.7 0.6 2.3 0.6 -4.7 0.6 3.6 0.6 -1.9 0.6 0.7 0.6 -0.4 0.6 0.8 0.6 -0.6 0.6 0.4 0.6 -1.2 0.6 1.7 0.6 -0.5 0.6 1 0.6 -1.5 0.6 2.2 0.6 -2.2 0.6 1 0.6 -0.7 0.6 1.8 0.6 0.1 0.6 0.9 0.6 -0.8 0.6 0 0.6 -0.8 0.6 1.8 0.6 -1.8 0.6 0.5 0.6 -2.3 0.6 4.4 0.6 -2.3 0.6 0.8 0.6 -1.9 0.6 6 0.6 -4.5 0.6 2.5 0.6 -3.4 0.6 4.7 0.6 -1.4 0.6 1.2 0.6 -3.4 0.6 1.8 0.6 -3.1 0.6 1 0.6 -7.4 0.6 2.4 0.6 -6 0.6 0.4 0.6 -6.8 0.6 3.6 0.6 -2.5 0.6 2.2 0.6 -0.7 0.6 4 0.6 -4.7 0.6 3.3 0.6 -1.5 0.6 3.7 0.6 -3.2 0.6 4.3 0.6 -1.1 0.6 0.3 0.6 -3.3 0.6 4.1 0.6 -5.5 0.6 8.6 0.6 -2.9 0.6 2.7 0.6 -0.1 0.6 3 0.6 -1.2 0.6 2.8 0.6 -3.9 0.6 4.6 0.6 -2.7 0.6 4.7 0.6 -2.3 0.6 10.2 0.6 -6.2 0.6 6.3 0.6 -2.9 0.6 1.3 0.6 -5.4 0.6 2.8 0.6 -5.1 0.6 4 0.6 -4.6 0.6 4 0.6 -1.6 0.6 5.5 0.6 -3.4 0.6 1.9 0.6 -3.1 0.6 0.2 0.6 -2.1 0.6 2.3 0.6 -7.1 0.6 0.9 0.6 -3.3 0.6 4.4 0.6 -2.3 0.6 4.4 0.6 -2.3 0.6 3.5 0.6 0.4 0.6 -0.1 0.6 -2.7 0.6 2.5 0.6 -2.3 0.6 4.1 0.6 -2.3 0.6 0.4 0.6 -2.3 0.6 -0.3 0.6 -3.4 0.6 1.1 0.6 -6.4 0.6 14.4 0.6 -4.8 0.6 -7.4 0.6 -5.9 0.6 -0.7 0.6 -3.9 0.6 3.1 0.6 -2.6 0.6 6 0.6 -4.1 0.6 2.5 0.6 -0.5 0.6 2.1 0.6 4.3 0.6 2.9 0.6 -2.5 0.6 3.1 0.6 -4 0.6 2.8 0.6 -0.7 0.6 1.6 0.6 -3 0.6 2.6 0.6 -3.6 0.6 1.8 0.6 -6.8 0.6 4 0.6 -3.8 0.6 2.1 0.6 -2.7 0.6 0.8 0.6 -2.5 0.6 2.2 0.6 -4.1 0.6 3.6 0.6 -4.3 0.6 5.2 0.6 -6 0.6 4.9 0.6 -3.8 0.6 1.8 0.6 -6.7 0.6 3.8 0.6 -2 0.6 0.1 0.6 -3.1 0.6 1.8 0.6 -5.8 0.6 3.1 0.6 0.2 0.6 8.6 0.6 5 0.6 8.8 0.6 2.4 0.6 -0.1 0.6 -4.6 0.6 4.1 0.6 -5.6 0.6 0.2 0.6 -4.1 0.6 0.4 0.6 -2.6 0.6 2.1 0.6 -3.8 0.6 4.4 0.6 -4 0.6 3.9 0.6 -5.2 0.6 6.2 0.6 -2.1 0.6 2.8 0.6 -8.8 0.6 7.8 0.6 -2.6 0.6 0.8 0.6 -3.9 0.6 2 0.6 0.6 0.6 6 0.6 -0.2 0.6 2.4 0.6 -0.6 0.6 4.1 0.6 0.4 0.6 5.1 0.6 1.2 0.6 3.8 0.6 -8.1 0.6 4.1 0.6 -5.1 0.6 0.9 0.6 -1.2 0.6 5.9 0.6 -6.7 0.6 2.5 0.6 -4.4 0.6 3.9 0.6 -0.3 0.6 2.6 0.6 -0.9 0.6 9.2 0.6 -0.7 0.6 4.8 0.6 -5.7 0.6 2 0.6 -6.9 0.6 2.1 0.6 -8.1 0.6 3.1 0.6 -5 0.6 2.3 0.6 -5.4 0.6 2.4 0.6 -2 0.6 2.9 0.6 -2.6 0.6 2.6 0.6 -0.8 0.6 3.7 0.6 -2.5 0.6 5.7 0.6 -2.2 0.6 4.3 0.6 -2.7 0.6 0.8 0.6 -4.4 0.6 2.5 0.6 -5.2 0.6 4.3 0.6 -4.3 0.6 1.7 0.6 -2.3 0.6 2.4 0.6 -5.8 0.6 3.4 0.6 -3 0.6 3 0.6 -2.9 0.6 4 0.6 -3.9 0.6 2.2 0.6 -0.5 0.6 3.6 0.6 -1.9 0.6 3.7 0.6 -3.6 0.6 0.7 0.6 -3.8 0.6 4.5 0.6 -2.9 0.6 3 0.6 -3.6 0.6 5.3 0.6 -3.8 0.6 3.3 0.6 -1.4 0.6 3.2 0.6 -2 0.6 3.9 0.6 -3.8 0.6 2.1 0.6 -7 0.6 -1.5 0.6 -7.3 0.6 1.4 0.6 -6 0.6 2 0.6 -0.9 0.6 3.7 0.6 -1 0.6 5 0.6 0.2 0.6 3.3 0.6 -3.6 0.6 2.1 0.6 -2.5 0.6 3.4 0.6 -5.3 0.6 -1.1 0.6 -5.4 0.6 -1 0.6 -4.4 0.6 2.2 0.6 1.4 0.6 4.9 0.6 -6.6 0.6 6.8 0.6 -4.2 0.6 -1.7 0.6 1.5 0.6 4.2 0.6 -0.6 0.6 4.6 0.6 -0.9 0.6 4.8 0.6 -6.8 0.6 -0.3 0.6 -3.8 0.6 3.2 0.6 -0.3 0.6 6.5 0.6 -3.8 0.6 5 0.6 -1.6 0.6 2.9 0.6 -3 0.6 2.7 0.6 -1.9 0.6 0.8 0.6 -4.3 0.6 4.3 0.6 -1.9 0.6 3.4 0.6 -2.5 0.6 3.3 0.6 -0.6 0.6 1 0.6 -2 0.6 1.6 0.6 -2 0.6 4.4 0.6 -2.6 0.6 3.8 0.6 -3.8 0.6 -2.6 0.6 -2.7 0.6 -1.2 0.6 -2.9 0.6 4.4 0.6 -3.6 0.6 11.5 0.6 6.9 0.6 1.9 0.6 -3.1 0.6 1.1 0.6 -6.2 0.6 5.1 0.6 -0.5 0.6 2.8 0.6 -3.4 0.6 4.3 0.6 -4.9 0.6 3.2 0.6 -0.9 0.6 0.1 0.6 -2.2 0.6 8.1 0.6 -8.2 0.6 1.3 0.6 -3.2 0.6 2.5 0.6 -1.5 0.6 0.9 0.6 -4 0.6 7.1 0.6 -6.7 0.6 3.4 0.6 -1.8 0.6 4.1 0.6 -4.3 0.6 4.6 0.6 1.9 0.6 2.2 0.6 0.3 0.6 -0.4 0.6 0.1 0.6 0.6 0.6 -2.9 0.6 4.6 0.6 -1.8 0.6 2.6 0.6 -4.6 0.6 3.4 0.6 -4.9 0.6 3 0.6 -1.1 0.6 -0.4 0.6 -4.6 0.6 3.7 0.6 -1.2 0.6 1 0.6 -4 0.6 5.3 0.6 -5.2 0.6 1.4 0.6 -1.5 0.6 1.6 0.6 -2.6 0.6 4.5 0.6 -3.6 0.6 3.2 0.6 -0.6 0.6 0.5 0.6 0.1 0.6 6.1 0.6 -5 0.6 6 0.6 -4 0.6 2.9 0.6 -2.1 0.6 2.1 0.6 -2.1 0.6 1.2 0.6 -1 0.6 4.9 0.6 -5.3 0.6 3 0.6 -3.9 0.6 4.2 0.6 -4.8 0.6 6 0.6 -5.4 0.6 3.7 0.6 -4.3 0.6 5 0.6 -8.5 0.6 4.2 0.6 -4.2 0.6 3 0.6 -1.9 0.6 2.6 0.6 -2 0.6 -0.6 0.6 -2.3 0.6 1.4 0.6 -1.9 0.6 -0.4 0.6 -1.6 0.6 3 0.6 -5.7 0.6 1.9 0.6 -3.1 0.6 3.4 0.6 -3.5 0.6 3.2 0.6 -1.3 0.6 3.6 0.6 -3.4 0.6 2.1 0.6 -5.8 0.6 5.2 0.6 -4.3 0.6 0.2 0.6 -0.9 0.6 4.2 0.6 -3.4 0.6 1.8 0.6 -2.5 0.6 2 0.6 -3.7 0.6 3 0.6 -4.8 0.6 4.4 0.6 -3 0.6 1.9 0.6 -9.5 0.6 5 0.6 -5.6 0.6 6.1 0.6 -2.7 0.6 2.2 0.6 1.1 0.6 2.3 0.6 -1.5 0.6 3.7 0.6 -3.2 0.6 1.6 0.6 -1.8 0.6 3.2 0.6 -4.4 0.6 4.6 0.6 -1.6 0.6 1.1 0.6 -1.1 0.6 0.5 0.6 -5.6 0.6 5.3 0.6 -0.9 0.6 -2.1 0.6 -2 0.6 2.7 0.6 -2.9 0.6 2.1 0.6 -0.9 0.6 2.7 0.6 -4.1 0.6 2.4 0.6 -1.2 0.6 0.9 0.6 -1.1 0.6 3.3 0.6 -2.3 0.6 4.1 0.6 -6.8 0.6 1 0.6 -5 0.6 3.2 0.6 -3.2 0.6 2.7 0.6 -4.9 0.6 3.5 0.6 -2.5 0.6 4.8 0.6 -1.9 0.6 6.6 0.6 -4.5 0.6 3.7 0.6 -4.8 0.6 5.3 0.6 -1.1 0.6 4.2 0.6 0 0.6 2.6 0.6 0.6 0.6 2.2 0.6 -2.7 0.6 6.3 0.6 -4.7 0.6 4.5 0.6 -3 0.6 4.7 0.6 -3.3 0.6 1.7 0.6 -0.8 0.6 0.4 0.6 -2.5 0.6 4.6 0.6 -2.2 0.6 4.3 0.6 -3.4 0.6 5.2 0.6 -1.7 0.6 0.4 0.6 -3.6 0.6 2.9 0.6 -4.1 0.6 3.5 0.6 -5.1 0.6 4.7 0.6 -2.6 0.6 2 0.6 -2.6 0.6 1.8 0.6 -6.1 0.6 4.1 0.6 -3.4 0.6 3.3 0.6 -1.2 0.6 2.7 0.6 -4.1 0.6 1.3 0.6 -2.6 0.6 2.8 0.6 -5.4 0.6 5.6 0.6 -5.4 0.6 3.1 0.6 -2.2 0.6 2.3 0.6 -3 0.6 3.9 0.6 -4.6 0.6 3.9 0.6 -2.1 0.6 3 0.6 -3.4 0.6 4.1 0.6 -3.6 0.6 3.5 0.6 -2.6 0.6 2.3 0.6 -3.8 0.6 3.5 0.6 -1.9 0.6 1.9 0.6 -3.8 0.6 3.1 0.6 -2.4 0.6 2.7 0.6 -0.7 0.6 5 0.6 -2.4 0.6 1.9 0.6 -1.3 0.6 2.6 0.6 -5 0.6 1.4 0.6 -2.9 0.6 3.5 0.6 -2.8 0.6 0.6 0.6 -3.3 0.6 1.1 0.6 -3.3 0.6 2.9 0.6 -4.6 0.6 1.6 0.6 -2 0.6 2.1 0.6 -2.8 0.6 2.3 0.6 -2.8 0.6 4.2 0.6 -4.5 0.6 4.6 0.6 -4.2 0.6 5.7 0.6 -3.4 0.6 6.8 0.6 -6.4 0.6 2.5 0.6 -1.8 0.6 2.2 0.6 -3.4 0.6 3.8 0.6 -5.2 0.6 0.8 0.6 -5.7 0.6 3.7 0.6 -3.5 0.6 1.3 0.6 -6.4 0.6 -4.7 0.6 -8.5 0.6 8.2 0.6 -1.4 0.6 5.6 0.6 -2.3 0.6 9.1 0.6 -2.5 0.6 4 0.6 -3.1 0.6 3.5 0.6 -7.7 0.6 2 0.6 -4 0.6 1.6 0.6 -1.7 0.6 3.6 0.6 -3 0.6 3 0.6 -2.6 0.6 -0.6 0.6 -2.1 0.6 4.1 0.6 -2.3 0.6 4.7 0.6 -0.4 0.6 4.7 0.6 -4.7 0.6 0.9 0.6 -6.3 0.6 2 0.6 -4.6 0.6 2.6 0.6 -3.8 0.6 4.3 0.6 1.4 0.6 4.1 0.6 -3.8 0.6 9.5 0.6 -5.2 0.6 0.6 0.6 -1.3 0.6 -1.2 0.6 -2.6 0.6 6.7 0.6 -1.2 0.6 6.6 0.6 -1 0.6 3.7 0.6 -2.1 0.6 1.3 0.6 -4 0.6 1.4 0.6 -2.2 0.6 0.1 0.6 -4.3 0.6 4 0.6 -2.2 0.6 3.4 0.6 3.2 0.6 2.6 0.6 -2.9 0.6 1.3 0.6 -0.5 0.6 2.7 0.6 -5.3 0.6 6.1 0.6 -3.5 0.6 10.9 0.6 -3.7 0.6 2.9 0.6 0.8 0.6 4.3 0.6 -4.7 0.6 0.9 0.6 -6.1 0.6 -0.7 0.6 -7.2 0.6 4.3 0.6 -6.5 0.6 1.1 0.6 -1 0.6 1.7 0.6 -4 0.6 1.5 0.6 -4 0.6 2 0.6 -3.7 0.6 1.5" stroke="#101010" stroke-width="1.1" fill="none" stroke-linejoin="round" />
<path d="M668.8 449.4l0.6 -0.8 0.6 0.5 0.6 -0.9 0.6 0.5 0.6 -1.3 0.6 1.6 0.6 -1.2 0.6 0.8 0.6 -1.1 0.6 1.4 0.6 -1.8 0.6 1.2 0.6 -0.4 0.6 0.9 0.6 -0.9 0.6 1.1 0.6 -0.5 0.6 1 0.6 -1.3 0.6 1.6 0.6 -0.8 0.6 0.9 0.6 -1.4 0.6 1.1 0.6 -1.1 0.6 0.5 0.6 -0.8 0.6 0.7 0.6 -0.7 0.6 0.8 0.6 -1.6 0.6 2.2 0.6 -1.6 0.6 1 0.6 -0.6 0.6 0.7 0.6 -0.6 0.6 1.2 0.6 -1 0.6 0.9 0.6 -1.2 0.6 1.9 0.6 -1.9 0.6 1.9 0.6 -1.7 0.6 1.2 0.6 -0.8 0.6 1.6 0.6 -0.9 0.6 1 0.6 -0.7 0.6 1.6 0.6 -1.7 0.6 1.2 0.6 -0.8 0.6 0.9 0.6 -3.2 0.6 4 0.6 -1.6 0.6 1.6 0.6 -2.9 0.6 5.3 0.6 -3.5 0.6 2.5 0.6 -1.4 0.6 2.1 0.6 -1.7 0.6 1.3 0.6 -3.1 0.6 2 0.6 -3 0.6 0.5 0.6 -5.9 0.6 0.3 0.6 -4.5 0.6 1.4 0.6 -3.5 0.6 4.5 0.6 -2.8 0.6 2.4 0.6 -1.4 0.6 3 0.6 -3.5 0.6 3.4 0.6 -1.9 0.6 3.5 0.6 -2.5 0.6 3.2 0.6 -2.4 0.6 1.4 0.6 -2.6 0.6 3.2 0.6 -4.8 0.6 4.6 0.6 -2.2 0.6 2.3 0.6 -1.1 0.6 2.8 0.6 -1.5 0.6 2.3 0.6 -1.8 0.6 2.8 0.6 -0.5 0.6 3.7 0.6 -1.7 0.6 9.6 0.6 -5.5 0.6 5.8 0.6 -3.5 0.6 0.5 0.6 -4.6 0.6 2 0.6 -4.9 0.6 4.4 0.6 -4.3 0.6 3.3 0.6 -1.6 0.6 5.5 0.6 -3.2 0.6 3.2 0.6 -3.1 0.6 1 0.6 -4.7 0.6 3.3 0.6 -5.8 0.6 -0.3 0.6 -3 0.6 3.1 0.6 -2.5 0.6 4.3 0.6 0.1 0.6 3.7 0.6 -1.6 0.6 1.3 0.6 -4.7 0.6 2.9 0.6 -1 0.6 3.9 0.6 -3.2 0.6 2.1 0.6 -3.8 0.6 -0.4 0.6 -3.4 0.6 1.6 0.6 -5.6 0.6 13.8 0.6 -0.9 0.6 -7.3 0.6 -7.4 0.6 0.6 0.6 -4.4 0.6 2.8 0.6 -2.3 0.6 5.7 0.6 -3 0.6 2.8 0.6 -2.1 0.6 4.7 0.6 -1.5 0.6 3.2 0.6 -1.5 0.6 2.7 0.6 -3.9 0.6 2.4 0.6 -1.8 0.6 3.1 0.6 -3.9 0.6 2.2 0.6 -3.1 0.6 1.1 0.6 -5.6 0.6 3.9 0.6 -4.5 0.6 2.8 0.6 -3.8 0.6 2.6 0.6 -3.4 0.6 1.6 0.6 -2.6 0.6 2.6 0.6 -3.7 0.6 3.3 0.6 -4.3 0.6 3.3 0.6 -3.1 0.6 1.2 0.6 -3.4 0.6 1.7 0.6 -2.5 0.6 0.1 0.6 -2.6 0.6 1.4 0.6 -4.3 0.6 1.3 0.6 0.5 0.6 8.2 0.6 4.4 0.6 10.5 0.6 2.1 0.6 0.7 0.6 -4.2 0.6 0.9 0.6 -3.8 0.6 -0.1 0.6 -4.7 0.6 1.6 0.6 -3.2 0.6 2.4 0.6 -3.1 0.6 3.7 0.6 -3.3 0.6 5.1 0.6 -5.1 0.6 6.7 0.6 -1.2 0.6 2.2 0.6 -8.8 0.6 8.2 0.6 -3.1 0.6 1.4 0.6 -4.4 0.6 2.5 0.6 0.3 0.6 3.4 0.6 -0.2 0.6 2.9 0.6 -1.4 0.6 4.3 0.6 -1.4 0.6 6.9 0.6 -0.4 0.6 4.6 0.6 -7 0.6 1.5 0.6 -3.1 0.6 1.8 0.6 -1.3 0.6 3.9 0.6 -5 0.6 1.4 0.6 -3.2 0.6 3.6 0.6 -0.9 0.6 4.1 0.6 -0.9 0.6 7.1 0.6 0 0.6 5.1 0.6 -5.2 0.6 1.2 0.6 -6.5 0.6 2.2 0.6 -7.5 0.6 1.9 0.6 -4.3 0.6 1.5 0.6 -3.1 0.6 2.1 0.6 -3.3 0.6 2.8 0.6 -3.8 0.6 3.2 0.6 -1 0.6 4.6 0.6 -2.5 0.6 5.7 0.6 -2.8 0.6 3.8 0.6 -2.6 0.6 1.9 0.6 -3.7 0.6 0.9 0.6 -3.6 0.6 2.2 0.6 -2.7 0.6 0.7 0.6 -2.4 0.6 2.5 0.6 -4.2 0.6 2.8 0.6 -4 0.6 3.6 0.6 -3.4 0.6 3.6 0.6 -2.4 0.6 2 0.6 -1.4 0.6 3.7 0.6 -2 0.6 4 0.6 -4.5 0.6 2.1 0.6 -5.1 0.6 4.8 0.6 -2.3 0.6 3.7 0.6 -5.4 0.6 5 0.6 -3.3 0.6 4.9 0.6 -1.6 0.6 3.2 0.6 -1.6 0.6 2.8 0.6 -4.2 0.6 2.3 0.6 -6.1 0.6 -1.9 0.6 -7.2 0.6 0.7 0.6 -4.8 0.6 1.3 0.6 -0.6 0.6 3.7 0.6 -1.6 0.6 5.8 0.6 -1.4 0.6 3.7 0.6 -3.1 0.6 2.9 0.6 -3.2 0.6 3 0.6 -5.5 0.6 -1.5 0.6 -5.6 0.6 0.4 0.6 -3.5 0.6 0.8 0.6 1.2 0.6 5 0.6 -5.8 0.6 6.5 0.6 -5.2 0.6 1 0.6 -0.5 0.6 4.7 0.6 -0.8 0.6 4.5 0.6 -0.6 0.6 4.3 0.6 -6 0.6 -0.7 0.6 -3.6 0.6 3 0.6 -1.1 0.6 6.9 0.6 -4.3 0.6 5.8 0.6 -1.7 0.6 3.8 0.6 -3.1 0.6 1.4 0.6 -2.1 0.6 2.2 0.6 -4.6 0.6 4.9 0.6 -2.1 0.6 2.3 0.6 -1.3 0.6 2.5 0.6 -2.3 0.6 3.6 0.6 -2.5 0.6 2.5 0.6 -2.2 0.6 3.3 0.6 -1.9 0.6 2.1 0.6 -2.8 0.6 -1.9 0.6 -5.5 0.6 0 0.6 -2 0.6 2.1 0.6 -1.8 0.6 11.9 0.6 6.8 0.6 3.4 0.6 -5 0.6 1.1 0.6 -5.6 0.6 4.9 0.6 -0.8 0.6 3.5 0.6 -4.1 0.6 4.5 0.6 -4.2 0.6 2.9 0.6 -2.3 0.6 2.7 0.6 -4.5 0.6 7.9 0.6 -6.9 0.6 1.7 0.6 -3.3 0.6 2.8 0.6 -3.1 0.6 2 0.6 -3.4 0.6 5.3 0.6 -5.5 0.6 4.1 0.6 -2.9 0.6 4.8 0.6 -4.3 0.6 2.9 0.6 -1.9 0.6 3 0.6 -1.4 0.6 2.2 0.6 -1.8 0.6 2.4 0.6 -3 0.6 2.9 0.6 -1.5 0.6 1.7 0.6 -3.9 0.6 4.3 0.6 -4.2 0.6 2.9 0.6 -1.3 0.6 2.8 0.6 -3.1 0.6 2.5 0.6 -1.7 0.6 1.6 0.6 -4.2 0.6 4.6 0.6 -2.2 0.6 2.7 0.6 -1.7 0.6 1.6 0.6 -2.2 0.6 3.9 0.6 -2.6 0.6 1.7 0.6 -0.9 0.6 2.3 0.6 -2.3 0.6 4.4 0.6 -5 0.6 3.2 0.6 -5.5 0.6 4.8 0.6 -2.2 0.6 1.7 0.6 -3.1 0.6 2.4 0.6 -1.6 0.6 4 0.6 -4.3 0.6 1.8 0.6 -3 0.6 3.5 0.6 -3.7 0.6 4.3 0.6 -4.4 0.6 3.7 0.6 -3.8 0.6 4.2 0.6 -2.9 0.6 2.6 0.6 -3.3 0.6 2.8 0.6 -2.2 0.6 3.3 0.6 -3.5 0.6 1.1 0.6 -2.6 0.6 1 0.6 -2.3 0.6 1.4 0.6 -4.3 0.6 3.4 0.6 -5.3 0.6 2.1 0.6 -3.1 0.6 4.1 0.6 -3.7 0.6 2.9 0.6 -1.7 0.6 4.3 0.6 -4.5 0.6 2.3 0.6 -4.1 0.6 2.2 0.6 -3.3 0.6 2.1 0.6 -3.3 0.6 3.7 0.6 -1.4 0.6 1.5 0.6 -2.5 0.6 2.1 0.6 -2.4 0.6 0.9 0.6 -3.5 0.6 3.3 0.6 -2.7 0.6 0.5 0.6 -4.7 0.6 4.4 0.6 -4.7 0.6 4.7 0.6 -2.9 0.6 2.6 0.6 -1.7 0.6 4.1 0.6 -3.9 0.6 6.6 0.6 -6 0.6 1.9 0.6 -1.9 0.6 3 0.6 -4.3 0.6 4.6 0.6 -1.4 0.6 2.4 0.6 -2.6 0.6 1.1 0.6 -4 0.6 3.1 0.6 -2.3 0.6 2.1 0.6 -3.5 0.6 1.8 0.6 -2.6 0.6 1.7 0.6 -0.6 0.6 2.4 0.6 -3.5 0.6 1.8 0.6 -3 0.6 2.9 0.6 -1 0.6 4.7 0.6 -3.8 0.6 4.3 0.6 -7.1 0.6 1.4 0.6 -4.2 0.6 2.1 0.6 -2.9 0.6 2.5 0.6 -3.7 0.6 3.1 0.6 -2.2 0.6 3.9 0.6 -1.2 0.6 5.9 0.6 -2.8 0.6 1.8 0.6 -4.7 0.6 6.2 0.6 -1.8 0.6 5.1 0.6 -0.2 0.6 2.8 0.6 -0.8 0.6 2.5 0.6 -2.3 0.6 4.6 0.6 -2.2 0.6 3.8 0.6 -2.2 0.6 2.2 0.6 -1.8 0.6 2.1 0.6 -2.2 0.6 2.8 0.6 -3.8 0.6 5.8 0.6 -3 0.6 3.4 0.6 -3 0.6 4.5 0.6 -1.3 0.6 1 0.6 -4 0.6 3.2 0.6 -3.8 0.6 2.6 0.6 -4.6 0.6 3.2 0.6 -3 0.6 3.4 0.6 -2.6 0.6 1.3 0.6 -4.2 0.6 5 0.6 -4.5 0.6 2.5 0.6 -2.3 0.6 2.9 0.6 -4.2 0.6 2.4 0.6 -3.1 0.6 1.7 0.6 -2.7 0.6 3.2 0.6 -4 0.6 3.4 0.6 -2.5 0.6 1.9 0.6 -1.9 0.6 2.9 0.6 -3.5 0.6 4.5 0.6 -4.9 0.6 4.2 0.6 -3.8 0.6 4.4 0.6 -3.7 0.6 2.4 0.6 -2.9 0.6 2.7 0.6 -3.9 0.6 5.3 0.6 -3 0.6 2.9 0.6 -3.6 0.6 1.9 0.6 -2.2 0.6 3.5 0.6 -1.7 0.6 4.4 0.6 -2.2 0.6 3.7 0.6 -3.2 0.6 1.9 0.6 -3.4 0.6 1.7 0.6 -3.1 0.6 4.2 0.6 -4.9 0.6 1.7 0.6 -2.8 0.6 2.8 0.6 -4.3 0.6 0.9 0.6 -4.4 0.6 2.1 0.6 -3.9 0.6 3.8 0.6 -2.7 0.6 2.4 0.6 -2 0.6 3.2 0.6 -3.5 0.6 4.2 0.6 -2.6 0.6 2.8 0.6 -2.7 0.6 7.3 0.6 -7.1 0.6 4.2 0.6 -3.3 0.6 3.2 0.6 -1.7 0.6 1.8 0.6 -5.6 0.6 2.4 0.6 -8 0.6 4.7 0.6 -4.7 0.6 2.5 0.6 -7.5 0.6 -3 0.6 -8 0.6 5.7 0.6 0.5 0.6 4.3 0.6 -1.1 0.6 7.1 0.6 -2 0.6 4.8 0.6 -2.2 0.6 2.4 0.6 -6.2 0.6 1.5 0.6 -4.4 0.6 2 0.6 -2.5 0.6 2.1 0.6 -1.6 0.6 4.6 0.6 -4.6 0.6 2.2 0.6 -3.5 0.6 4.1 0.6 -3.6 0.6 6.2 0.6 -0.7 0.6 4.1 0.6 -5.3 0.6 1.6 0.6 -5.8 0.6 2.5 0.6 -3.3 0.6 0.7 0.6 -3.5 0.6 4.7 0.6 0.9 0.6 3.6 0.6 -4.5 0.6 8.4 0.6 -4 0.6 2.4 0.6 -4 0.6 1.3 0.6 -4 0.6 7.2 0.6 -0.5 0.6 5.3 0.6 -1 0.6 5.7 0.6 -3.3 0.6 1.4 0.6 -4.8 0.6 2.5 0.6 -3 0.6 2.6 0.6 -2.4 0.6 2.5 0.6 -1.7 0.6 4.1 0.6 -2.8 0.6 4.1 0.6 -2.4 0.6 1.9 0.6 -1.8 0.6 4 0.6 -5 0.6 4.6 0.6 -2.7 0.6 5 0.6 -3.3 0.6 3 0.6 0.2 0.6 5.3 0.6 0.1 0.6 0.1 0.6 -5.3 0.6 -0.8 0.6 -5.9 0.6 2.2 0.6 -5 0.6 1 0.6 -2.7 0.6 3.1 0.6 -5.2 0.6 2.7 0.6 -4.3 0.6 1.8 0.6 -4.2 0.6 1.6" stroke="#10f010" stroke-width="1.3" fill="none" stroke-linejoin="round" />
<path d="M668.3 447.9L1122.4 447.9" stroke="#222" stroke-width="1.3" stroke-dasharray="3.8 2.2" fill="none" />
</g>
<path d="M674.6 417.3L691.8 417.3" stroke="#555" stroke-width="1.4" fill="none" />
<text x="692.4" y="420.6" font-size="9.6" fill="#222" xml:space="preserve">-(VexB)<tspan font-size="7.1" dy="3.4">M</tspan></text>
<path d="M674.6 428.4L691.8 428.4" stroke="#40ff40" stroke-width="1.0" fill="none" />
<text x="693.7" y="431.7" font-size="10" fill="#60f000" xml:space="preserve">E<tspan font-size="7.4" dy="3.4">M</tspan></text>
<clipPath id="cm7"><rect x="668.3" y="484.5" width="454.1" height="73.8"/></clipPath><g clip-path="url(#cm7)">
<path d="M668.6 553.5l0.4 -10.8 0.4 10.2 0.4 -3.7 0.4 3.3 0.4 -2.2 0.4 3.1 0.4 -8.1 0.4 7 0.4 -15.5 0.4 15.5 0.4 -3.1 0.4 5.1 0.4 -9.6 0.4 9.7 0.4 -9.8 0.4 9.7 0.4 -4.3 0.4 6.5 0.4 -6.8 0.4 7.3 0.4 -4.7 0.4 4.6 0.4 -5.9 0.4 4.9 0.4 -3.6 0.4 4.4 0.4 -16.6 0.4 16.1 0.4 -23.3 0.4 23.3 0.4 -15.9 0.4 16.7 0.4 -5.4 0.4 5.4 0.4 -6.9 0.4 6.9 0.4 -6.7 0.4 6.7 0.4 -7.1 0.4 4.3 0.4 -7.5 0.4 8.3 0.4 -8 0.4 7.1 0.4 -23 0.4 21.3 0.4 -4.3 0.4 2.9 0.4 -8.3 0.4 10.5 0.4 -7.4 0.4 7.6 0.4 -7 0.4 5.9 0.4 -11.1 0.4 12.5 0.4 -15.9 0.4 14.7 0.4 -9.3 0.4 8.2 0.4 -2.7 0.4 2.4 0.4 -3.3 0.4 3.4 0.4 -7.1 0.4 8.9 0.4 -4.5 0.4 8.5 0.4 -10.9 0.4 10.6 0.4 -14.9 0.4 12.5 0.4 -3.8 0.4 2.8 0.4 -3.2 0.4 2.9 0.4 -9.7 0.4 9.4 0.4 -4.9 0.4 5.1 0.4 -7.5 0.4 10 0.4 -12.3 0.4 12.3 0.4 -3.6 0.4 3.2 0.4 -5.1 0.4 6.6 0.4 -5.7 0.4 5.9 0.4 -7.2 0.4 6.8 0.4 -6.5 0.4 5.4 0.4 -13 0.4 10.7 0.4 -4.4 0.4 3.9 0.4 -7.9 0.4 8.3 0.4 -10 0.4 7.7 0.4 -9.8 0.4 12.6 0.4 -2.5 0.4 4.6 0.4 -4.1 0.4 5.7 0.4 -8.9 0.4 5.8 0.4 -7.4 0.4 3.6 0.4 -8.6 0.4 11.5 0.4 -12.2 0.4 8.1 0.4 -5.4 0.4 6.4 0.4 -11.9 0.4 14.8 0.4 -4.2 0.4 7.7 0.4 -6.3 0.4 6.6 0.4 -26.1 0.4 26.1 0.4 -4.9 0.4 4.5 0.4 -5.2 0.4 5.3 0.4 -5 0.4 5.1 0.4 -10.7 0.4 9.8 0.4 -5 0.4 6.2 0.4 -7.1 0.4 7.4 0.4 -9.4 0.4 8.4 0.4 -11.2 0.4 12.2 0.4 -11 0.4 10.5 0.4 -10.7 0.4 10.5 0.4 -20.4 0.4 19.9 0.4 -4.9 0.4 5.3 0.4 -8.3 0.4 -20.6 0.4 18.9 0.4 9.9 0.4 -8 0.4 8.9 0.4 -6.7 0.4 6.1 0.4 -10.2 0.4 9 0.4 -5.6 0.4 6 0.4 -7 0.4 7.1 0.4 -11.9 0.4 6.8 0.4 -8.5 0.4 10.4 0.4 -2.6 0.4 3.4 0.4 -9.3 0.4 11.5 0.4 -12.9 0.4 10.4 0.4 -7.8 0.4 -16.5 0.4 15.1 0.4 11.4 0.4 -13.3 0.4 10.4 0.4 -13.8 0.4 9 0.4 -11.9 0.4 13 0.4 -8.5 0.4 7.8 0.4 -11.6 0.4 -28.1 0.4 24.2 0.4 18.4 0.4 -13.8 0.4 9.8 0.4 -18.1 0.4 22.8 0.4 -12.9 0.4 8.9 0.4 -15.2 0.4 16.8 0.4 -8.3 0.4 3.3 0.4 -25.8 0.4 32.6 0.4 -15.2 0.4 11.8 0.4 -10.7 0.4 11 0.4 -10.5 0.4 -12 0.4 13 0.4 12.8 0.4 -8.8 0.4 9.4 0.4 -9.3 0.4 11.9 0.4 -9 0.4 8 0.4 -8.2 0.4 7.7 0.4 -7.9 0.4 10.3 0.4 -69.4 0.4 67.3 0.4 -10.7 0.4 5.2 0.4 -15.2 0.4 13.1 0.4 -5.4 0.4 4.2 0.4 -9.7 0.4 14.7 0.4 -19.7 0.4 17.2 0.4 -6.6 0.4 3.7 0.4 -7.1 0.4 11.5 0.4 -31.9 0.4 29.4 0.4 -6 0.4 5.3 0.4 -15.9 0.4 17.7 0.4 -6.7 0.4 5.1 0.4 -0.4 0.4 -22.1 0.4 14.2 0.4 15 0.4 -9.4 0.4 7 0.4 -13.8 0.4 13.7 0.4 -25.4 0.4 28.6 0.4 -14.2 0.4 9.9 0.4 -8.2 0.4 11 0.4 -17.5 0.4 12.6 0.4 -12.8 0.4 14.7 0.4 -7.3 0.4 10.5 0.4 -14.4 0.4 10.3 0.4 -17 0.4 14.8 0.4 -3.8 0.4 7 0.4 -9.5 0.4 13.6 0.4 -23.3 0.4 27.3 0.4 -24.6 0.4 22.8 0.4 -9.2 0.4 5.3 0.4 -11.8 0.4 12.9 0.4 -16.1 0.4 15.6 0.4 -18.6 0.4 -7.4 0.4 14.9 0.4 8.9 0.4 -18.7 0.4 21.9 0.4 -10.1 0.4 8.7 0.4 -12.6 0.4 12.4 0.4 -10.6 0.4 12.5 0.4 -14 0.4 15.1 0.4 -33.5 0.4 31.3 0.4 -19.5 0.4 23 0.4 -35.4 0.4 37.4 0.4 -14.7 0.4 11.3 0.4 -10.8 0.4 13.4 0.4 -19 0.4 19.1 0.4 -13.4 0.4 11 0.4 -5.8 0.4 6.5 0.4 -10 0.4 11.2 0.4 -14.4 0.4 13 0.4 -6.2 0.4 8.4 0.4 -9.8 0.4 3.1 0.4 -8.1 0.4 6.8 0.4 -8.8 0.4 8.6 0.4 -13.9 0.4 11.9 0.4 -3.8 0.4 8.6 0.4 -6.3 0.4 5.1 0.4 -20.9 0.4 25.8 0.4 -9.8 0.4 8.5 0.4 -8.5 0.4 9.7 0.4 -8.5 0.4 5 0.4 -15.1 0.4 11.1 0.4 -21.8 0.4 25.7 0.4 -9 0.4 4.2 0.4 -5.6 0.4 8.5 0.4 -7 0.4 -11.8 0.4 -1.9 0.4 17.9 0.4 -4.2 0.4 5.8 0.4 -9.8 0.4 9 0.4 -13.5 0.4 17.8 0.4 -15.4 0.4 19.6 0.4 -10.8 0.4 9.8 0.4 -6.8 0.4 2.3 0.4 -5.1 0.4 -26.9 0.4 19.9 0.4 11.6 0.4 -7.4 0.4 5.5 0.4 -1.8 0.4 6.4 0.4 -14.2 0.4 -23 0.4 15.4 0.4 26.3 0.4 -12.2 0.4 10.3 0.4 -7.5 0.4 4.9 0.4 -7.7 0.4 9.1 0.4 -8.8 0.4 4 0.4 -5.6 0.4 5.5 0.4 -4.7 0.4 9 0.4 -13.1 0.4 9.5 0.4 -3.3 0.4 -14.1 0.4 8.1 0.4 13.3 0.4 -4.7 0.4 5.3 0.4 -5.8 0.4 7.1 0.4 -7 0.4 7.9 0.4 -5.3 0.4 5.8 0.4 -5.2 0.4 -25.1 0.4 20.8 0.4 9.5 0.4 -9.1 0.4 9.1 0.4 -5.1 0.4 2.2 0.4 -10.3 0.4 9.8 0.4 -10.1 0.4 10.3 0.4 -5.8 0.4 -16.3 0.4 16 0.4 6.3 0.4 -12.8 0.4 11.7 0.4 -10.9 0.4 10.5 0.4 -5 0.4 4.8 0.4 -11.8 0.4 11.5 0.4 -7.5 0.4 6.8 0.4 -10.1 0.4 8.5 0.4 -4.1 0.4 5.3 0.4 -18.9 0.4 19.2 0.4 -4.9 0.4 3.2 0.4 -4.1 0.4 5.7 0.4 -7.9 0.4 10.1 0.4 -2.4 0.4 5.4 0.4 -8.5 0.4 7 0.4 -2.7 0.4 4.7 0.4 -5.5 0.4 3.9 0.4 -8.4 0.4 6.8 0.4 -0.2 0.4 3.6 0.4 -4.9 0.4 4.9 0.4 -9.8 0.4 9.5 0.4 -5.4 0.4 5.7 0.4 -2.2 0.4 2 0.4 -7 0.4 6.3 0.4 -12.8 0.4 11.3 0.4 -23.5 0.4 24.4 0.4 -10.5 0.4 5.1 0.4 -8 0.4 8.3 0.4 -3.6 0.4 5.1 0.4 -6.6 0.4 5 0.4 -5.3 0.4 6 0.4 -23.1 0.4 22.4 0.4 -2.8 0.4 2.8 0.4 -6.5 0.4 10.9 0.4 -7.6 0.4 8.3 0.4 -8.3 0.4 -10.3 0.4 5.1 0.4 15 0.4 -6.2 0.4 5.4 0.4 -9.5 0.4 8.2 0.4 -10 0.4 8.8 0.4 -3.6 0.4 3.7 0.4 -5.7 0.4 6.1 0.4 -6.2 0.4 6.2 0.4 -7.9 0.4 9 0.4 -7.8 0.4 5.1 0.4 -8.6 0.4 9.9 0.4 -19.4 0.4 16.2 0.4 -9.2 0.4 8.2 0.4 -4.8 0.4 6.6 0.4 -10 0.4 10.3 0.4 -7.9 0.4 9.9 0.4 -11 0.4 12.5 0.4 -7.3 0.4 5.8 0.4 -5 0.4 1.5 0.4 -3.8 0.4 4.4 0.4 -2.7 0.4 2.8 0.4 -15.9 0.4 15.3 0.4 -5.1 0.4 7.6 0.4 -11.1 0.4 9.2 0.4 -4.1 0.4 3.6 0.4 -6.3 0.4 10.2 0.4 -13.8 0.4 14.3 0.4 -2.8 0.4 3.5 0.4 -3.5 0.4 1.1 0.4 -7.4 0.4 4.1 0.4 -8 0.4 7.9 0.4 -2.8 0.4 3.5 0.4 -11.8 0.4 11.1 0.4 -3.3 0.4 5.8 0.4 -8.8 0.4 4.4 0.4 -21.2 0.4 20.9 0.4 -13.9 0.4 -17.5 0.4 21.4 0.4 9.5 0.4 -9.7 0.4 2.9 0.4 -5.7 0.4 13.4 0.4 -14.1 0.4 9.4 0.4 -22 0.4 22.1 0.4 -12.9 0.4 13.5 0.4 -11.5 0.4 16.7 0.4 -28.2 0.4 27.2 0.4 -24.9 0.4 28.6 0.4 -24.7 0.4 19.6 0.4 -14.9 0.4 12.3 0.4 -12.4 0.4 10.1 0.4 -26.5 0.4 31.4 0.4 -18.4 0.4 18.3 0.4 -11.9 0.4 6.8 0.4 -6 0.4 10.4 0.4 -11.7 0.4 12.4 0.4 -28.8 0.4 31.1 0.4 -15.6 0.4 23.2 0.4 -16.9 0.4 15.9 0.4 -11.5 0.4 13 0.4 -18.3 0.4 14.6 0.4 -9.8 0.4 11 0.4 -33.3 0.4 31.5 0.4 -9.8 0.4 7.2 0.4 -10.6 0.4 17.5 0.4 -17.1 0.4 17.1 0.4 -8.4 0.4 6.8 0.4 -8.8 0.4 10.1 0.4 -7.7 0.4 4.4 0.4 -5.8 0.4 4.4 0.4 -9.1 0.4 12.6 0.4 -7.6 0.4 3.3 0.4 0.5 0.4 4.1 0.4 -3.9 0.4 4 0.4 -6.7 0.4 6.1 0.4 -13.6 0.4 12.4 0.4 -4.5 0.4 4.9 0.4 -4.1 0.4 3.2 0.4 -9.6 0.4 9.8 0.4 -3.1 0.4 6.3 0.4 -6.2 0.4 6.2 0.4 -5.2 0.4 5.2 0.4 -8.9 0.4 7.6 0.4 -3.5 0.4 3.4 0.4 -6.7 0.4 4.9 0.4 -8.1 0.4 6.8 0.4 -6.6 0.4 5.6 0.4 -6.2 0.4 8.4 0.4 -8.8 0.4 10.1 0.4 -3.3 0.4 4.5 0.4 -7.3 0.4 8.1 0.4 -2.8 0.4 2.4 0.4 -4 0.4 4.2 0.4 -2.3 0.4 1.5 0.4 -2.4 0.4 2.5 0.4 -7.2 0.4 6.6 0.4 -5 0.4 2.2 0.4 -12.1 0.4 12.7 0.4 -4.8 0.4 5.4 0.4 -4.2 0.4 6.4 0.4 -5.3 0.4 6.2 0.4 -3.6 0.4 3.6 0.4 -4.6 0.4 4.6 0.4 -5.2 0.4 5.2 0.4 -5.1 0.4 3.4 0.4 -4.4 0.4 5.1 0.4 -18.3 0.4 15.4 0.4 -10 0.4 9.1 0.4 -12.8 0.4 15.9 0.4 -6.7 0.4 5.3 0.4 -5.6 0.4 6.1 0.4 -13.8 0.4 14.6 0.4 -10.4 0.4 10.4 0.4 -12 0.4 9.3 0.4 -8.5 0.4 4.7 0.4 -7.9 0.4 9.6 0.4 -5.5 0.4 6 0.4 -5.1 0.4 6.8 0.4 -5.2 0.4 9.6 0.4 -7.3 0.4 7.3 0.4 -14.8 0.4 8.2 0.4 -5.9 0.4 11.3 0.4 -10.6 0.4 11.8 0.4 -24.2 0.4 22.6 0.4 -7.1 0.4 8.6 0.4 -4.7 0.4 2.4 0.4 -4.6 0.4 5.6 0.4 -5.4 0.4 5.4 0.4 -10.2 0.4 -11.2 0.4 14.5 0.4 3.2 0.4 -14.7 0.4 18 0.4 -7.5 0.4 4.5 0.4 -4.9 0.4 5.8 0.4 -7.1 0.4 3.3 0.4 -6.4 0.4 -9.5 0.4 9.3 0.4 9.1 0.4 -11.5 0.4 12.6 0.4 -6.4 0.4 5.5 0.4 -9.8 0.4 11.1 0.4 -11.6 0.4 10.7 0.4 -4.2 0.4 1.8 0.4 -11.5 0.4 11.2 0.4 -16.7 0.4 18.1 0.4 -4.6 0.4 7.2 0.4 -11.8 0.4 12.1 0.4 -8.2 0.4 10.6 0.4 -13.1 0.4 12.9 0.4 -6.8 0.4 7.6 0.4 -5 0.4 2.7 0.4 -10.7 0.4 9.8 0.4 -4.7 0.4 5.6 0.4 -2.2 0.4 4.2 0.4 -4.8 0.4 4.4 0.4 -12 0.4 11.7 0.4 -3.8 0.4 3.5 0.4 -3.6 0.4 -14.1 0.4 10.1 0.4 6.5 0.4 -7.5 0.4 7.6 0.4 -2.7 0.4 5 0.4 -7.1 0.4 6.4 0.4 -10.8 0.4 9.5 0.4 -2.5 0.4 4.2 0.4 -4.8 0.4 5.1 0.4 -3 0.4 3 0.4 -6.5 0.4 6.5 0.4 -10.2 0.4 10 0.4 -4.3 0.4 3.8 0.4 -8.2 0.4 7.8 0.4 -11.2 0.4 -5.3 0.4 6.9 0.4 5.9 0.4 -11.3 0.4 10.6 0.4 -4.4 0.4 3.2 0.4 -2.3 0.4 5.1 0.4 -5.3 0.4 4.7 0.4 -2.7 0.4 3.4 0.4 -4.8 0.4 6.4 0.4 -4.3 0.4 6.5 0.4 -4.9 0.4 3.9 0.4 -2.5 0.4 3.5 0.4 -5.4 0.4 5.1 0.4 -8.1 0.4 8.4 0.4 -11.3 0.4 10.9 0.4 -14.5 0.4 11 0.4 -11.9 0.4 12.6 0.4 -7 0.4 8.2 0.4 -4.6 0.4 6.3 0.4 -5.6 0.4 4.1 0.4 -2 0.4 3.5 0.4 -4.3 0.4 2.9 0.4 -4.6 0.4 6.3 0.4 -3.5 0.4 2.1 0.4 -3.4 0.4 4.8 0.4 -4.7 0.4 4.7 0.4 -2.4 0.4 2.3 0.4 -2.5 0.4 2.6 0.4 -3.1 0.4 3.1 0.4 -5.8 0.4 5.8 0.4 -8.9 0.4 8.9 0.4 -2.1 0.4 2.1 0.4 -6 0.4 4.5 0.4 -2.7 0.4 2.7 0.4 -7 0.4 3.5 0.4 -1.7 0.4 3 0.4 -5 0.4 5 0.4 -6.3 0.4 6.7 0.4 -4.1 0.4 4.7 0.4 -12 0.4 12.4 0.4 -5.6 0.4 5.6 0.4 -11.1 0.4 9.5 0.4 -6.6 0.4 7.7 0.4 -2.7 0.4 1.1 0.4 -1.9 0.4 1.5 0.4 -1.8 0.4 3.7 0.4 -4.5 0.4 3.2 0.4 -3.1 0.4 2.9 0.4 -2.7 0.4 3.8 0.4 -7.3 0.4 8 0.4 -10.7 0.4 13.3 0.4 -9.6 0.4 8.4 0.4 -5.4 0.4 5.1 0.4 -1.4 0.4 2.9 0.4 -6.1 0.4 6.1 0.4 -14.7 0.4 12.1 0.4 -10.4 0.4 11.1 0.4 -2.9 0.4 4.8 0.4 -5.3 0.4 5.3 0.4 -5.4 0.4 5.4 0.4 -2.3 0.4 2.3 0.4 -3.3 0.4 3.3 0.4 -7.2 0.4 7.2 0.4 -2.2 0.4 2.2 0.4 -4.4 0.4 4.4 0.4 -2.6 0.4 2.3 0.4 -7.2 0.4 7.5 0.4 -2.3 0.4 2.3 0.4 -1.9 0.4 1.9 0.4 -5 0.4 5 0.4 -6.6 0.4 6.6 0.4 -3.9 0.4 3.9 0.4 -8.9 0.4 8.9 0.4 -4.6 0.4 3.1 0.4 -14.8 0.4 13 0.4 -5.2 0.4 5.2 0.4 -6 0.4 -6.5 0.4 9 0.4 4.5 0.4 -4.2 0.4 4.8 0.4 -1.9 0.4 1.9 0.4 -3.8 0.4 5.5 0.4 -6.3 0.4 6.1 0.4 -12.1 0.4 12.3 0.4 -16.4 0.4 15 0.4 -11.4 0.4 11.3 0.4 -4.5 0.4 6 0.4 -13.1 0.4 9.1 0.4 -5.7 0.4 -9.9 0.4 11.3 0.4 3.1 0.4 -2.8 0.4 5.4 0.4 -9.6 0.4 12.2 0.4 -6.8 0.4 6.4 0.4 -38.3 0.4 38.7 0.4 -10.5 0.4 9.2 0.4 -16 0.4 13.4 0.4 -9.5 0.4 6 0.4 -4.7 0.4 6.1 0.4 -5.4 0.4 8.5 0.4 -3.7 0.4 -14.4 0.4 9.5 0.4 8 0.4 -9.9 0.4 10.6 0.4 -8.4 0.4 7.5 0.4 -3 0.4 1.8 0.4 -2.6 0.4 2.8 0.4 -2.2 0.4 4.2 0.4 -3.7 0.4 5 0.4 -6 0.4 6 0.4 -6 0.4 5.3 0.4 -3.7 0.4 5.1 0.4 -12.4 0.4 9.7 0.4 -2.1 0.4 4.4 0.4 -4.5 0.4 5.6 0.4 -4.7 0.4 4 0.4 -4.9 0.4 3.3 0.4 -2.2 0.4 4.5 0.4 -4.9 0.4 3.3 0.4 -3.9 0.4 5.5 0.4 -6.2 0.4 5.1 0.4 -13.1 0.4 14.2 0.4 -8.5 0.4 8.5 0.4 -15.4 0.4 12.4 0.4 -5.7 0.4 8.7 0.4 -9.3 0.4 7 0.4 -9.3 0.4 9.8 0.4 -11.6 0.4 10.6 0.4 -22.6 0.4 12.8 0.4 -9.4 0.4 11.2 0.4 -6.6 0.4 8.9 0.4 -11.2 0.4 17.1 0.4 -10.2 0.4 9.3 0.4 -16.2 0.4 17.8 0.4 -6.6 0.4 8.5 0.4 -10.7 0.4 10.7 0.4 -9.6 0.4 -14 0.4 20.8 0.4 2.7 0.4 -2.5 0.4 2.6 0.4 -2.7 0.4 2.7 0.4 -3.4 0.4 3.4 0.4 -3.2 0.4 2.6 0.4 -5 0.4 5.6 0.4 -2.1 0.4 1.9 0.4 -14.2 0.4 14.4 0.4 -4.6 0.4 4.4 0.4 -6.9 0.4 7.1 0.4 -6.2 0.4 6.2 0.4 -5.6 0.4 3.3 0.4 -5.4 0.4 7.5 0.4 -8.9 0.4 9.1 0.4 -15.2 0.4 12.5 0.4 -3.2 0.4 2.5 0.4 -8.5 0.4 10.6 0.4 -11.7 0.4 10.3 0.4 -9.7 0.4 8.3 0.4 -7.1 0.4 8.6 0.4 -10.5 0.4 7.4 0.4 -3.3 0.4 5.7 0.4 -6.3 0.4 4.5 0.4 -9.8 0.4 11.4 0.4 -1.5 0.4 4.3 0.4 -3.3 0.4 4 0.4 -9.3 0.4 8.2" stroke="#111" stroke-width="0.9" fill="none" stroke-linejoin="round" />
</g>
<path d="M674.6 500L691.8 500" stroke="#777" stroke-width="1.3" fill="none" />
<text x="693.7" y="503.3" font-size="10" fill="#3a2a50" xml:space="preserve">|J|</text>
<clipPath id="cm8"><rect x="668.3" y="558.3" width="454.1" height="74.4"/></clipPath><g clip-path="url(#cm8)">
<path d="M668.6 592.5l0.5 -4.8 0.5 5.9 0.5 -8.2 0.5 10.5 0.5 -10.1 0.5 8.6 0.5 -5.7 0.5 5.4 0.5 -6.3 0.5 9.6 0.5 -9.2 0.5 4.7 0.5 -6.1 0.5 9.7 0.5 -7.9 0.5 5.3 0.5 -8.5 0.5 8.6 0.5 -6.4 0.5 6.8 0.5 -4.7 0.5 10.6 0.5 -12.3 0.5 5.5 0.5 -7.1 0.5 14.8 0.5 -12.2 0.5 4.1 0.5 -4.8 0.5 8.2 0.5 -9.3 0.5 8.8 0.5 -7.1 0.5 3.9 0.5 -3.2 0.5 15.4 0.5 -20.8 0.5 8.9 0.5 -11 0.5 11.4 0.5 -7.1 0.5 5.5 0.5 -9.4 0.5 11 0.5 -6.6 0.5 8.1 0.5 -7.1 0.5 7.6 0.5 -7.5 0.5 3.6 0.5 -6.8 0.5 7.7 0.5 -4 0.5 8.3 0.5 -7.4 0.5 14.4 0.5 -15.6 0.5 4.7 0.5 -8.8 0.5 8.6 0.5 -5.1 0.5 9.8 0.5 -8.4 0.5 4 0.5 -7.9 0.5 7.4 0.5 -5.4 0.5 5.8 0.5 -6.8 0.5 6 0.5 -2.7 0.5 6.8 0.5 -7.1 0.5 9.2 0.5 -11.1 0.5 7.5 0.5 -8.9 0.5 8.7 0.5 -5.1 0.5 5.9 0.5 -11.1 0.5 14.2 0.5 -14.5 0.5 12.4 0.5 -8.2 0.5 4.7 0.5 -5.6 0.5 8.6 0.5 -8.6 0.5 8.5 0.5 -8 0.5 6.9 0.5 -5.9 0.5 5.3 0.5 -7.5 0.5 7 0.5 -5.4 0.5 4.5 0.5 -5.5 0.5 11.6 0.5 -18.3 0.5 13.3 0.5 -8.2 0.5 12.3 0.5 -10.4 0.5 10.8 0.5 -11.9 0.5 10.3 0.5 -14 0.5 11.1 0.5 -5.1 0.5 4.9 0.5 -11.1 0.5 15.6 0.5 -10.5 0.5 8.6 0.5 -7.6 0.5 4.8 0.5 -6.1 0.5 7.2 0.5 -7.4 0.5 6.4 0.5 -8.6 0.5 7.9 0.5 -8.2 0.5 8.3 0.5 -4.5 0.5 4.6 0.5 -5.7 0.5 9.3 0.5 -15.6 0.5 16.4 0.5 -11 0.5 7.3 0.5 -11.9 0.5 13.7 0.5 -7.4 0.5 10.3 0.5 -9.8 0.5 11.4 0.5 -16 0.5 10.6 0.5 -6.3 0.5 7.5 0.5 -12.6 0.5 20.2 0.5 -14.9 0.5 8 0.5 -10.2 0.5 13.9 0.5 -12.5 0.5 8.8 0.5 -12 0.5 11.1 0.5 -8.5 0.5 7.8 0.5 -9 0.5 11.6 0.5 -7.9 0.5 7.6 0.5 -10.3 0.5 16.5 0.5 -13.8 0.5 4.8 0.5 -9.4 0.5 12.2 0.5 -8.7 0.5 7.1 0.5 -11 0.5 11.2 0.5 -7 0.5 6.3 0.5 -5.1 0.5 5.6 0.5 -6.8 0.5 -21.2 0.5 21.5 0.5 6 0.5 -8.7 0.5 8.5 0.5 -5.9 0.5 7.1 0.5 -8.4 0.5 8.2 0.5 -15.3 0.5 13.6 0.5 -5 0.5 5.6 0.5 17.3 0.5 -13.7 0.5 -11.6 0.5 8.8 0.5 -13.9 0.5 13.8 0.5 -7.2 0.5 5.5 0.5 -10.3 0.5 16.1 0.5 -12.3 0.5 5.1 0.5 -7.1 0.5 10.1 0.5 -10.7 0.5 14 0.5 -12.9 0.5 9 0.5 -7.2 0.5 5.7 0.5 -8.2 0.5 16.4 0.5 -19.5 0.5 12.1 0.5 -20.7 0.5 19.1 0.5 -13 0.5 12.7 0.5 -4.6 0.5 5.5 0.5 -5.7 0.5 5.6 0.5 -10.6 0.5 9.9 0.5 -11.2 0.5 12 0.5 -9.6 0.5 13.6 0.5 -10.6 0.5 7.4 0.5 -7.9 0.5 11.4 0.5 -11.7 0.5 11.5 0.5 -10.8 0.5 10.1 0.5 -10.5 0.5 10.5 0.5 -8.1 0.5 6.5 0.5 -23.5 0.5 22.1 0.5 -5.6 0.5 5.2 0.5 -5.4 0.5 13.1 0.5 -14.4 0.5 10.1 0.5 -9.4 0.5 6.2 0.5 -6.1 0.5 6.3 0.5 -4.7 0.5 3.2 0.5 -4 0.5 7.4 0.5 -7.1 0.5 6.4 0.5 -7.1 0.5 7.7 0.5 -10.4 0.5 9.4 0.5 -6.7 0.5 6.6 0.5 -6.7 0.5 7.3 0.5 -5.9 0.5 4.8 0.5 -8 0.5 8.9 0.5 -5.3 0.5 3.4 0.5 -4.8 0.5 6.8 0.5 -7 0.5 12.9 0.5 -20.4 0.5 14.6 0.5 -6.6 0.5 5.3 0.5 -3.6 0.5 5.1 0.5 -9.3 0.5 11.5 0.5 -7.9 0.5 4.5 0.5 -13.3 0.5 14 0.5 -6.5 0.5 5.3 0.5 -6.7 0.5 -14.5 0.5 15.1 0.5 7.2 0.5 -4.8 0.5 10.6 0.5 -12.1 0.5 8.5 0.5 -7 0.5 -17.5 0.5 16.1 0.5 5.1 0.5 -11.6 0.5 13.3 0.5 -4.8 0.5 4 0.5 -9.5 0.5 9.5 0.5 -4.8 0.5 4.1 0.5 -5.2 0.5 5.8 0.5 -4.2 0.5 13 0.5 -12.6 0.5 4.1 0.5 -9.2 0.5 8.3 0.5 -3.4 0.5 3.3 0.5 -5.1 0.5 4.8 0.5 -2.9 0.5 5.1 0.5 -6.3 0.5 4.7 0.5 -8.5 0.5 9.2 0.5 -6.7 0.5 5.1 0.5 -2.9 0.5 4.4 0.5 -5.7 0.5 5.2 0.5 -4.4 0.5 3.8 0.5 -5.7 0.5 5 0.5 -2.5 0.5 8.1 0.5 -14.3 0.5 10.5 0.5 -7 0.5 5.4 0.5 -4.7 0.5 4.4 0.5 -4.2 0.5 8.2 0.5 -7 0.5 3.2 0.5 -5.8 0.5 4.7 0.5 -3.7 0.5 8.8 0.5 -10.6 0.5 5.6 0.5 -4.8 0.5 5.6 0.5 -9.2 0.5 11.9 0.5 -7 0.5 6.4 0.5 -5.9 0.5 3.4 0.5 -3.8 0.5 5.3 0.5 -5.9 0.5 4 0.5 -4.2 0.5 5.1 0.5 -8.4 0.5 10.8 0.5 -7.9 0.5 10.7 0.5 -9.9 0.5 4.5 0.5 -8.2 0.5 7.8 0.5 -2.9 0.5 3.9 0.5 -6.8 0.5 -15.3 0.5 14.5 0.5 7.7 0.5 -4.8 0.5 6.2 0.5 -6.5 0.5 4.5 0.5 -7.1 0.5 7.2 0.5 -5.2 0.5 6.4 0.5 -4.8 0.5 3.2 0.5 -8.3 0.5 9 0.5 -4.7 0.5 5 0.5 -7.2 0.5 7 0.5 -7.6 0.5 9.1 0.5 -7.3 0.5 7.4 0.5 -7 0.5 4.8 0.5 -7.3 0.5 10.2 0.5 -7.9 0.5 6.2 0.5 -3.8 0.5 2.4 0.5 -4.8 0.5 10.3 0.5 -9.2 0.5 3.5 0.5 -6 0.5 9.5 0.5 -6.7 0.5 7.1 0.5 -9.7 0.5 6.2 0.5 -6 0.5 8.1 0.5 -7.5 0.5 7.3 0.5 -7.2 0.5 4.7 0.5 -8.1 0.5 9.6 0.5 -4 0.5 3 0.5 -7.2 0.5 8.8 0.5 -6.1 0.5 6.8 0.5 -6.8 0.5 5.5 0.5 -4 0.5 3.6 0.5 -3.8 0.5 3.5 0.5 -4.8 0.5 9.5 0.5 -10.4 0.5 6.9 0.5 -16.7 0.5 18.1 0.5 -10.3 0.5 7.1 0.5 -8.8 0.5 8.6 0.5 -10.9 0.5 19.6 0.5 -18.2 0.5 11.8 0.5 -18.8 0.5 29.3 0.5 -27.9 0.5 25.5 0.5 -14.6 0.5 5.9 0.5 -5.8 0.5 11.5 0.5 -11.9 0.5 7.2 0.5 -11.7 0.5 16.5 0.5 -15.9 0.5 11.8 0.5 -13.3 0.5 13.4 0.5 -12 0.5 18.2 0.5 -24 0.5 15.8 0.5 -9.8 0.5 5.5 0.5 -4.3 0.5 10.1 0.5 -23.9 0.5 20.7 0.5 -9.4 0.5 7.8 0.5 -11.9 0.5 16.3 0.5 -10.6 0.5 10.2 0.5 -12.6 0.5 11.9 0.5 -8.7 0.5 7.9 0.5 -10.7 0.5 16.8 0.5 -16.3 0.5 8.3 0.5 -6.3 0.5 9.1 0.5 -7.4 0.5 3.3 0.5 -3.4 0.5 3.5 0.5 -4.1 0.5 7.1 0.5 -6.1 0.5 6 0.5 -8.6 0.5 10.1 0.5 -7 0.5 2.7 0.5 -7.5 0.5 7 0.5 -6.1 0.5 9.7 0.5 -7.7 0.5 5.3 0.5 -7.1 0.5 8.2 0.5 -5.2 0.5 2.8 0.5 -5.1 0.5 5.8 0.5 -4.5 0.5 5.5 0.5 -9.1 0.5 7.2 0.5 -3 0.5 5.4 0.5 -8.6 0.5 8.7 0.5 -6.3 0.5 5.1 0.5 -7.7 0.5 12.4 0.5 -8.4 0.5 3.9 0.5 -3.8 0.5 3.5 0.5 -6.1 0.5 8.6 0.5 -9.4 0.5 7.4 0.5 -8.4 0.5 12.1 0.5 -10.2 0.5 6.9 0.5 -7.2 0.5 9.5 0.5 -9.5 0.5 6.8 0.5 -5.4 0.5 6.1 0.5 -8.4 0.5 8.2 0.5 -7.9 0.5 7.5 0.5 -4.2 0.5 5 0.5 -6.3 0.5 5.6 0.5 -3.9 0.5 5.6 0.5 -6.1 0.5 6.5 0.5 -7.4 0.5 12.2 0.5 -12.5 0.5 9.9 0.5 -10.9 0.5 6.2 0.5 -2.2 0.5 6.7 0.5 -7.2 0.5 6.9 0.5 -12.2 0.5 8.6 0.5 -5.8 0.5 14.8 0.5 -14.5 0.5 7.4 0.5 -7.2 0.5 5.7 0.5 -4.6 0.5 6 0.5 -5.5 0.5 4.7 0.5 -9.1 0.5 8.1 0.5 -3.9 0.5 5.7 0.5 -10.8 0.5 13.6 0.5 -8.4 0.5 6.4 0.5 -4.6 0.5 4.9 0.5 -4.6 0.5 3.4 0.5 -11.7 0.5 14.1 0.5 -8.3 0.5 8.6 0.5 -6.5 0.5 11.4 0.5 -11.2 0.5 5.1 0.5 -4.8 0.5 7.6 0.5 -7.5 0.5 4.1 0.5 -7.4 0.5 7.9 0.5 -5.2 0.5 4.2 0.5 -3.5 0.5 7.2 0.5 -10.2 0.5 9.2 0.5 -9.2 0.5 7.4 0.5 -10.8 0.5 23.6 0.5 -20.2 0.5 8.2 0.5 -8.6 0.5 6.5 0.5 -3.7 0.5 3.1 0.5 -5.9 0.5 9.9 0.5 -8 0.5 5.4 0.5 -6.7 0.5 5.4 0.5 -7.9 0.5 9.7 0.5 -13.3 0.5 12.8 0.5 -4.8 0.5 4.2 0.5 -3.8 0.5 5.1 0.5 -6.8 0.5 5.2 0.5 -5.4 0.5 6.4 0.5 -6.2 0.5 8.2 0.5 -8.2 0.5 8.2 0.5 -9.3 0.5 11.8 0.5 -16.1 0.5 11.7 0.5 -5.5 0.5 5.8 0.5 -6.3 0.5 7 0.5 -11.2 0.5 9.9 0.5 -3.9 0.5 4 0.5 -4.7 0.5 5.7 0.5 -6.9 0.5 5.1 0.5 -5.5 0.5 4.7 0.5 -7.5 0.5 10.4 0.5 -8.5 0.5 6.4 0.5 -3.8 0.5 5.8 0.5 -8.1 0.5 9.9 0.5 -8 0.5 3.7 0.5 -3.7 0.5 5.6 0.5 -6.2 0.5 7.3 0.5 -6.8 0.5 5.8 0.5 -6.3 0.5 11.3 0.5 -11.3 0.5 5.2 0.5 -5.9 0.5 6.6 0.5 -8.4 0.5 6.4 0.5 -8.7 0.5 12.7 0.5 -9.5 0.5 7 0.5 -6.5 0.5 7.1 0.5 -4.4 0.5 3 0.5 -3.3 0.5 5.4 0.5 -7.9 0.5 6.8 0.5 -4.9 0.5 6.7 0.5 -8 0.5 7.2 0.5 -6.3 0.5 8.4 0.5 -8.5 0.5 4.7 0.5 -5.1 0.5 6.5 0.5 -4.5 0.5 7.1 0.5 -8.2 0.5 5.2 0.5 -4.1 0.5 7.4 0.5 -8.1 0.5 4.2 0.5 -4.7 0.5 9 0.5 -8.7 0.5 4 0.5 -3.7 0.5 6.8 0.5 -9.7 0.5 8.2 0.5 -7.4 0.5 11.5 0.5 -13.1 0.5 11.2 0.5 -8.1 0.5 4 0.5 -4.3 0.5 5.4 0.5 -7.6 0.5 9.8 0.5 -6.2 0.5 5.7 0.5 -7.5 0.5 6.6 0.5 -11.4 0.5 9.6 0.5 -4 0.5 7.8 0.5 -10.6 0.5 9.5 0.5 -6 0.5 6.7 0.5 -6.3 0.5 2.7 0.5 -7.3 0.5 9.9 0.5 -8.1 0.5 7.4 0.5 -7.3 0.5 5.5 0.5 -3.7 0.5 8.5 0.5 -10.1 0.5 6 0.5 -6.8 0.5 5.7 0.5 -3.3 0.5 4.5 0.5 -4.1 0.5 6.3 0.5 -6.1 0.5 6.6 0.5 -9 0.5 7.2 0.5 -7.5 0.5 9.9 0.5 -30 0.5 27 0.5 -7.4 0.5 7.8 0.5 -6.3 0.5 7.6 0.5 -9.5 0.5 6.7 0.5 -2.8 0.5 6 0.5 -10.5 0.5 6.9 0.5 -4.5 0.5 6.1 0.5 -8.6 0.5 10 0.5 -7.8 0.5 4.4 0.5 -2.8 0.5 5.7 0.5 -11.1 0.5 10.4 0.5 -4.6 0.5 7.6 0.5 -12.4 0.5 7.7 0.5 -4 0.5 5.2 0.5 -3.8 0.5 4.9 0.5 -7.9 0.5 5.8 0.5 -5.7 0.5 5.8 0.5 -8.2 0.5 9.5 0.5 -6 0.5 5.9 0.5 -5.6 0.5 3.9 0.5 -4.4 0.5 5.5 0.5 -6.8 0.5 9.8 0.5 -7.7 0.5 4.9 0.5 -5.3 0.5 8.1 0.5 -10.5 0.5 8 0.5 -4 0.5 4.1 0.5 -6.6 0.5 6.7 0.5 -7.1 0.5 6.2 0.5 -7.1 0.5 9.9 0.5 -10 0.5 9.4 0.5 -10 0.5 7.8 0.5 -3.4 0.5 4.3 0.5 -5.1 0.5 6.5 0.5 -6.6 0.5 6.8 0.5 -8.3 0.5 5.1 0.5 -3.2 0.5 8.4 0.5 -9.8 0.5 10.5 0.5 -11.3 0.5 8 0.5 -18.7 0.5 20.5 0.5 -8.3 0.5 12.7 0.5 -13.7 0.5 9.4 0.5 -9.1 0.5 9.8 0.5 -11 0.5 7.7 0.5 -7 0.5 8.6 0.5 -6.9 0.5 4.2 0.5 -7.6 0.5 6.4 0.5 -8 0.5 9.6 0.5 -3.9 0.5 4.6 0.5 -5.6 0.5 9.5 0.5 -10.4 0.5 5.9 0.5 -4.2 0.5 4.7 0.5 -6.3 0.5 4.9 0.5 -5 0.5 6.6 0.5 -9.1 0.5 9.5 0.5 -5.8 0.5 4 0.5 -8.5 0.5 8.9 0.5 -4.4 0.5 8.5 0.5 -8.2 0.5 5.1 0.5 -7.6 0.5 9.5 0.5 -9.1 0.5 12.9 0.5 -10.7 0.5 2.7 0.5 -4 0.5 6.5 0.5 -5.8 0.5 6.9 0.5 -7 0.5 5.3 0.5 -10.2 0.5 11.9 0.5 -7.3 0.5 7 0.5 -6.3" stroke="#1010ff" stroke-width="0.8" fill="none" stroke-linejoin="round" />
<path d="M668.6 590.6l0.5 -3.6 0.5 5.5 0.5 -7.2 0.5 5.6 0.5 -7 0.5 8.7 0.5 -5.5 0.5 6.8 0.5 -6.1 0.5 3.3 0.5 -4.5 0.5 4.4 0.5 -4.8 0.5 4 0.5 -3.4 0.5 6 0.5 -8.2 0.5 6.7 0.5 -7.7 0.5 8.4 0.5 -4.8 0.5 4.6 0.5 -5.9 0.5 6.4 0.5 -5.3 0.5 4.7 0.5 -5.1 0.5 3.8 0.5 -6.2 0.5 8 0.5 -7.3 0.5 8.3 0.5 -6.1 0.5 3.6 0.5 -4.8 0.5 4 0.5 -4.1 0.5 6.2 0.5 -4.9 0.5 5.5 0.5 -6.9 0.5 8.4 0.5 -9.2 0.5 6.4 0.5 -3.6 0.5 6 0.5 -5.8 0.5 3.2 0.5 -5.1 0.5 5.6 0.5 -7.4 0.5 10 0.5 -6.5 0.5 4.6 0.5 -5.6 0.5 4.1 0.5 -3.4 0.5 2.8 0.5 -4.5 0.5 6.3 0.5 -4.2 0.5 3 0.5 -4.6 0.5 7.4 0.5 -5.8 0.5 2.5 0.5 -2.5 0.5 3.4 0.5 -3.8 0.5 4.6 0.5 -5.2 0.5 4.6 0.5 -4 0.5 3.7 0.5 -3.8 0.5 3.9 0.5 -4.3 0.5 6.1 0.5 -6.7 0.5 3.8 0.5 -5.1 0.5 9.8 0.5 -13 0.5 11.2 0.5 -6.7 0.5 4.1 0.5 -5.7 0.5 8 0.5 -6.8 0.5 7.1 0.5 -8.7 0.5 6.7 0.5 -8.1 0.5 10.4 0.5 -7.2 0.5 8.9 0.5 -9.6 0.5 4.1 0.5 -10.8 0.5 12.8 0.5 -5.1 0.5 3.5 0.5 -6.8 0.5 8.4 0.5 -5 0.5 4.5 0.5 -4.2 0.5 4 0.5 -4.1 0.5 5.9 0.5 -8.2 0.5 5.8 0.5 -5.8 0.5 6.5 0.5 -4.7 0.5 8.5 0.5 -7.4 0.5 3.6 0.5 -4.1 0.5 13.4 0.5 -15.8 0.5 5.1 0.5 -2.6 0.5 4.6 0.5 -4.6 0.5 4.7 0.5 -4.8 0.5 6.9 0.5 -8.9 0.5 5.5 0.5 -3.3 0.5 5.2 0.5 -9.6 0.5 9.3 0.5 -5.7 0.5 9.1 0.5 -11.5 0.5 10.4 0.5 -10.6 0.5 8.2 0.5 -6.4 0.5 5.7 0.5 -5 0.5 3.6 0.5 -8 0.5 8.1 0.5 -7.5 0.5 9.8 0.5 -6.2 0.5 3.4 0.5 -6.3 0.5 8.8 0.5 -8.6 0.5 7.2 0.5 -12.9 0.5 15.3 0.5 -15.9 0.5 18.9 0.5 -12.4 0.5 28.1 0.5 -28.1 0.5 6.7 0.5 -8.3 0.5 7 0.5 -6.7 0.5 9.1 0.5 -8.7 0.5 11.1 0.5 -10.3 0.5 -8.8 0.5 7.2 0.5 8.6 0.5 -11.2 0.5 13.6 0.5 -12.2 0.5 49.5 0.5 -51.2 0.5 10.4 0.5 -4.1 0.5 3.2 0.5 -4.5 0.5 5 0.5 -6.8 0.5 7.7 0.5 -9 0.5 9.6 0.5 -14.8 0.5 14.7 0.5 -5.7 0.5 7.4 0.5 -7.5 0.5 13 0.5 -14.9 0.5 8.3 0.5 -8.2 0.5 8.5 0.5 -8.9 0.5 8.3 0.5 -5.7 0.5 10 0.5 -9.1 0.5 5.5 0.5 -7.9 0.5 8.1 0.5 -7.8 0.5 13.3 0.5 -15.2 0.5 10.2 0.5 -5 0.5 9.7 0.5 -12.8 0.5 6.5 0.5 -5.5 0.5 9.5 0.5 -9.3 0.5 7.1 0.5 -5.2 0.5 7.7 0.5 -8.3 0.5 8.7 0.5 -11.5 0.5 10.2 0.5 -10.1 0.5 6.9 0.5 -4.7 0.5 4.8 0.5 -2.9 0.5 4.6 0.5 -8.4 0.5 9.7 0.5 -9.1 0.5 9.6 0.5 -8.8 0.5 6.8 0.5 -7.1 0.5 8.8 0.5 -13.5 0.5 11.6 0.5 -5.4 0.5 7.1 0.5 -8.2 0.5 9.7 0.5 -9.3 0.5 5 0.5 -5.6 0.5 7.4 0.5 -7.7 0.5 4.8 0.5 -6.4 0.5 7.8 0.5 -6.6 0.5 7.8 0.5 -9 0.5 8.1 0.5 -5.7 0.5 13.5 0.5 -16.7 0.5 10.7 0.5 -7.6 0.5 4 0.5 -5.8 0.5 11.8 0.5 -9.6 0.5 5.1 0.5 -8.1 0.5 6.3 0.5 -8 0.5 14.3 0.5 -13.1 0.5 6.8 0.5 -8.3 0.5 8.6 0.5 -3 0.5 4.4 0.5 -6.1 0.5 8.4 0.5 -7.3 0.5 9.2 0.5 -8.2 0.5 6.8 0.5 -8 0.5 9.9 0.5 -11.7 0.5 5.7 0.5 -8.2 0.5 8.7 0.5 -3.1 0.5 6.7 0.5 -9.2 0.5 5.3 0.5 -7.2 0.5 9 0.5 -6 0.5 7.4 0.5 -7.5 0.5 4.4 0.5 -7.3 0.5 8 0.5 -3.3 0.5 4.6 0.5 -9.7 0.5 9.4 0.5 -8.1 0.5 10.8 0.5 -12.3 0.5 8.8 0.5 -3.4 0.5 5.8 0.5 -6.5 0.5 4.3 0.5 -6.9 0.5 6 0.5 -5.9 0.5 7.1 0.5 -5.8 0.5 4.8 0.5 -5.8 0.5 5.9 0.5 -3.3 0.5 2.6 0.5 -3.8 0.5 -13.4 0.5 13.8 0.5 6.1 0.5 -5.2 0.5 5.6 0.5 -5.6 0.5 6.6 0.5 -18 0.5 13.9 0.5 -4.9 0.5 6.1 0.5 -3.6 0.5 2.5 0.5 -3.5 0.5 5.7 0.5 -8.3 0.5 7.2 0.5 -4 0.5 3.4 0.5 -3.3 0.5 3.7 0.5 -5.3 0.5 4.6 0.5 -5.3 0.5 8.6 0.5 -10.4 0.5 11.9 0.5 -8.7 0.5 8 0.5 -12.9 0.5 9.8 0.5 -8.7 0.5 10.3 0.5 -9.1 0.5 10.6 0.5 -8 0.5 5 0.5 -7.2 0.5 6.7 0.5 -4.3 0.5 4.7 0.5 -5.3 0.5 4.9 0.5 -6.9 0.5 5.7 0.5 -5 0.5 4.9 0.5 -3 0.5 2.9 0.5 -4.3 0.5 10 0.5 -7.8 0.5 9 0.5 -9.8 0.5 3.3 0.5 -4.5 0.5 4.9 0.5 -6.3 0.5 6.7 0.5 -3.1 0.5 2.7 0.5 -17.9 0.5 20.3 0.5 -7.5 0.5 7.7 0.5 -11.6 0.5 13.1 0.5 -7.7 0.5 3.3 0.5 -2.6 0.5 3.7 0.5 -6.5 0.5 5.1 0.5 -3.5 0.5 4.3 0.5 -3 0.5 2.2 0.5 -2.7 0.5 3.5 0.5 -3.9 0.5 5.9 0.5 -5.8 0.5 3.6 0.5 -5.1 0.5 5.7 0.5 -5.9 0.5 6.5 0.5 -6.7 0.5 5.9 0.5 -3.9 0.5 4.6 0.5 -6.2 0.5 6.9 0.5 -6.8 0.5 9.5 0.5 -7.8 0.5 8.1 0.5 -9.2 0.5 7.1 0.5 -7 0.5 7.9 0.5 -9.1 0.5 7.5 0.5 -4.5 0.5 2.7 0.5 -4.6 0.5 6.2 0.5 -4.5 0.5 4.4 0.5 -3.5 0.5 5.9 0.5 -7.7 0.5 4.7 0.5 -6.6 0.5 5.8 0.5 -7.8 0.5 10.9 0.5 -7.9 0.5 6 0.5 -3.8 0.5 3.4 0.5 -7.7 0.5 8.7 0.5 -9 0.5 11.4 0.5 -13.2 0.5 12.1 0.5 -7.6 0.5 7.2 0.5 -14.2 0.5 12.5 0.5 -10 0.5 12.2 0.5 -10.6 0.5 8.6 0.5 -7.8 0.5 6.2 0.5 -4.5 0.5 7.9 0.5 -10 0.5 6 0.5 -11.2 0.5 16.2 0.5 -12.8 0.5 9.6 0.5 -6.8 0.5 12 0.5 -14.9 0.5 8 0.5 -8.2 0.5 12.8 0.5 -8.9 0.5 7.4 0.5 -9.8 0.5 7.4 0.5 -5.6 0.5 6.7 0.5 -6.1 0.5 8.6 0.5 -13.2 0.5 9.7 0.5 -5.8 0.5 9.5 0.5 -9.5 0.5 13.5 0.5 -13.7 0.5 10.5 0.5 -10.8 0.5 10 0.5 -11.1 0.5 11.6 0.5 -9 0.5 8 0.5 -12.1 0.5 11.4 0.5 -9.1 0.5 10.1 0.5 -7.3 0.5 3.7 0.5 -2.1 0.5 5.3 0.5 -8.3 0.5 7.9 0.5 -6.3 0.5 4.4 0.5 -3.4 0.5 2.5 0.5 -5.7 0.5 10.5 0.5 -7.4 0.5 3.2 0.5 -6.1 0.5 7.5 0.5 -7.3 0.5 5.4 0.5 -3.6 0.5 4.3 0.5 -4.9 0.5 3.7 0.5 -3 0.5 3.4 0.5 -4.6 0.5 5.1 0.5 -5.5 0.5 6.9 0.5 -5.9 0.5 3.5 0.5 -1.9 0.5 3.5 0.5 -9.1 0.5 8.6 0.5 -3.9 0.5 4.2 0.5 -5.6 0.5 5.7 0.5 -5.8 0.5 5.3 0.5 -7.1 0.5 9.7 0.5 -6.5 0.5 5 0.5 -4.7 0.5 5.5 0.5 -5.9 0.5 4.9 0.5 -4.4 0.5 3.8 0.5 -3.7 0.5 4 0.5 -5.5 0.5 9.5 0.5 -9.1 0.5 5.4 0.5 -3.7 0.5 3.4 0.5 -3.8 0.5 7.6 0.5 -8.4 0.5 15 0.5 -15.7 0.5 4.6 0.5 -6.6 0.5 6.5 0.5 -4.4 0.5 4.2 0.5 -5.7 0.5 5.8 0.5 -5.9 0.5 7.1 0.5 -5.2 0.5 7 0.5 -6.8 0.5 4.4 0.5 -3.3 0.5 5.4 0.5 -5.7 0.5 6.9 0.5 -7.6 0.5 9.4 0.5 -13.6 0.5 8 0.5 -5.2 0.5 5 0.5 -4.2 0.5 6 0.5 -8.6 0.5 10.9 0.5 -10.7 0.5 7.6 0.5 -6.8 0.5 5.5 0.5 -8 0.5 9 0.5 -3.3 0.5 2.6 0.5 -5.2 0.5 5.6 0.5 -6.1 0.5 5.6 0.5 -7.7 0.5 10.6 0.5 -10 0.5 13.1 0.5 -8.8 0.5 9.8 0.5 -13.1 0.5 6.1 0.5 -7.7 0.5 9.5 0.5 -6.3 0.5 5.2 0.5 -5.1 0.5 6.7 0.5 -5.9 0.5 3.7 0.5 -8.6 0.5 8.8 0.5 -5.8 0.5 5.7 0.5 -6.5 0.5 6.4 0.5 -5.5 0.5 10.2 0.5 -8.2 0.5 4 0.5 -4.7 0.5 7.9 0.5 -7.4 0.5 5.7 0.5 -3.7 0.5 2.3 0.5 -2.4 0.5 2.5 0.5 -3.1 0.5 6.3 0.5 -9.2 0.5 11.7 0.5 -9.5 0.5 6 0.5 -5.5 0.5 4.7 0.5 -5.4 0.5 5.3 0.5 -8.8 0.5 7.2 0.5 -4.4 0.5 4.3 0.5 -4.4 0.5 8.6 0.5 -8.8 0.5 10.1 0.5 -8.6 0.5 3.9 0.5 -3.7 0.5 4.3 0.5 -7.4 0.5 10.6 0.5 -7.9 0.5 7.1 0.5 -10.4 0.5 8.1 0.5 -4.7 0.5 6.6 0.5 -9.6 0.5 9.5 0.5 -8.5 0.5 7 0.5 -6.8 0.5 5.5 0.5 -4.1 0.5 5.9 0.5 -6.1 0.5 4.4 0.5 -3.9 0.5 5.2 0.5 -5.6 0.5 2.6 0.5 -2.6 0.5 6.4 0.5 -6.2 0.5 4.9 0.5 -5.1 0.5 3.2 0.5 -8.2 0.5 8.3 0.5 -8.9 0.5 9.2 0.5 -4.2 0.5 3.3 0.5 -3.2 0.5 3.9 0.5 -4.5 0.5 8.1 0.5 -7.7 0.5 5.3 0.5 -5.5 0.5 9.1 0.5 -8.1 0.5 2.5 0.5 -3.3 0.5 5.9 0.5 -6 0.5 5.1 0.5 -7.2 0.5 5.9 0.5 -6.5 0.5 6.4 0.5 -2.8 0.5 3.7 0.5 -6.8 0.5 9.7 0.5 -11.2 0.5 11.4 0.5 -7.8 0.5 7.4 0.5 -8.3 0.5 5 0.5 -5.1 0.5 6.9 0.5 -4.8 0.5 4.6 0.5 -4.7 0.5 5.7 0.5 -6.1 0.5 3.2 0.5 -2.2 0.5 3.1 0.5 -3.8 0.5 3.5 0.5 -2.5 0.5 4.2 0.5 -6.3 0.5 7.1 0.5 -5.5 0.5 6.2 0.5 -5.7 0.5 3 0.5 -3.8 0.5 3.4 0.5 -7.3 0.5 7.7 0.5 -6 0.5 7.6 0.5 -6.2 0.5 4.6 0.5 -3.1 0.5 2.4 0.5 -7.1 0.5 8.2 0.5 -3.9 0.5 3.5 0.5 -3.9 0.5 5 0.5 -5 0.5 5.3 0.5 -5.4 0.5 4.2 0.5 -4.6 0.5 7.9 0.5 -10.6 0.5 7 0.5 -6.2 0.5 5.7 0.5 -6.9 0.5 8.1 0.5 -6.3 0.5 4.6 0.5 -2.4 0.5 2.3 0.5 -2.9 0.5 6.1 0.5 -5.8 0.5 3.8 0.5 -12.1 0.5 12.3 0.5 -6.9 0.5 8.2 0.5 -5 0.5 4.7 0.5 -7.8 0.5 5.4 0.5 -7.2 0.5 8 0.5 -4.9 0.5 5.4 0.5 -11.3 0.5 12.5 0.5 -9 0.5 13.5 0.5 -11.3 0.5 7.4 0.5 -9.8 0.5 9.7 0.5 -6.1 0.5 5.2 0.5 -13.8 0.5 11 0.5 -2.8 0.5 3.2 0.5 -2.5 0.5 3.3 0.5 -5.6 0.5 6.7 0.5 -5.1 0.5 4.7 0.5 -6.3 0.5 5.3 0.5 -7.2 0.5 9.2 0.5 -8.5 0.5 5 0.5 -2 0.5 2.7 0.5 -3 0.5 3.6 0.5 -4.5 0.5 7.4 0.5 -8.2 0.5 8.8 0.5 -9.7 0.5 6.8 0.5 -5.2 0.5 4.9 0.5 -7.8 0.5 6.3 0.5 -7.6 0.5 9.6 0.5 -4.3 0.5 2.4 0.5 -2.5 0.5 4.3 0.5 -6.1 0.5 4.1 0.5 -2.6 0.5 3.2 0.5 -4.1 0.5 5.4 0.5 -3.7 0.5 5.8 0.5 -6.2 0.5 2.9 0.5 -5.5 0.5 6.6 0.5 -7.2 0.5 9.6 0.5 -9.2 0.5 7.2 0.5 -5 0.5 7.1 0.5 -7.2 0.5 8.5 0.5 -9.5 0.5 8 0.5 -12.1 0.5 15 0.5 -14.3 0.5 19.2 0.5 -15 0.5 6.5 0.5 -6.3 0.5 6.1 0.5 -6.6 0.5 6 0.5 -2.9 0.5 5.3 0.5 -5.6 0.5 2.8 0.5 -4.2 0.5 5.4 0.5 -3.6 0.5 3.7 0.5 -6 0.5 7.4 0.5 -6 0.5 3.2 0.5 -6.1 0.5 6.5 0.5 -3.5 0.5 6.9 0.5 -7.1 0.5 5.5 0.5 -8.6 0.5 7.8 0.5 -5.4 0.5 4.8 0.5 -6 0.5 10.4 0.5 -10 0.5 5.8 0.5 -4.9 0.5 4.3 0.5 -3.2 0.5 4 0.5 -4.6 0.5 2.5 0.5 -2.6 0.5 3.3 0.5 -3.2 0.5 4.5 0.5 -6.1 0.5 5.3 0.5 -7.5 0.5 6.5 0.5 -3.4 0.5 3.6 0.5 -3.1" stroke="#20ff20" stroke-width="0.8" fill="none" stroke-linejoin="round" />
<path d="M668.6 595.3l0.5 -5.9 0.5 7.9 0.5 -7.5 0.5 6 0.5 -4.6 0.5 5.1 0.5 -6.2 0.5 6.6 0.5 -5.9 0.5 4.6 0.5 -4.1 0.5 4.1 0.5 -5.1 0.5 5.8 0.5 -10.6 0.5 9.3 0.5 -3.6 0.5 7.5 0.5 -7.3 0.5 8.6 0.5 -9.8 0.5 7.2 0.5 -6.1 0.5 5.8 0.5 -6.3 0.5 7.6 0.5 -11.4 0.5 8.7 0.5 -4.3 0.5 4.3 0.5 -5.2 0.5 10.8 0.5 -9.6 0.5 5 0.5 -4.9 0.5 4.4 0.5 -5.8 0.5 3.8 0.5 -8 0.5 12.1 0.5 -8 0.5 6 0.5 -11.1 0.5 10.6 0.5 -5.5 0.5 4.9 0.5 -3.7 0.5 8.4 0.5 -11.4 0.5 6.8 0.5 -3.8 0.5 2.3 0.5 -2.8 0.5 3.8 0.5 -6.3 0.5 5.4 0.5 -5.1 0.5 5.2 0.5 -3.9 0.5 4.4 0.5 -2.9 0.5 5.9 0.5 -6.8 0.5 3.5 0.5 -10.3 0.5 14.4 0.5 -9 0.5 11.3 0.5 -10.9 0.5 7.4 0.5 -8.3 0.5 6 0.5 -7.9 0.5 9.9 0.5 -7.9 0.5 6.4 0.5 -4.8 0.5 4.7 0.5 -5.5 0.5 4.9 0.5 -4.7 0.5 4.1 0.5 -3.4 0.5 6.7 0.5 -11.2 0.5 9.7 0.5 -13.6 0.5 14.6 0.5 -7.8 0.5 6.4 0.5 -4.6 0.5 3.6 0.5 -2.9 0.5 8.4 0.5 -14.9 0.5 9.2 0.5 -6.7 0.5 6.5 0.5 -2.7 0.5 4.1 0.5 -5.1 0.5 6.7 0.5 -6.6 0.5 5.4 0.5 -8.6 0.5 9.6 0.5 -5.6 0.5 4 0.5 -4.1 0.5 4 0.5 -7.8 0.5 10.9 0.5 -7.9 0.5 7.6 0.5 -5.7 0.5 9.5 0.5 -14.4 0.5 7.5 0.5 -5.6 0.5 13 0.5 -16.5 0.5 9.1 0.5 -3.6 0.5 4.5 0.5 -7 0.5 6.8 0.5 -3.9 0.5 3.3 0.5 -7.2 0.5 9.3 0.5 -13.7 0.5 12.5 0.5 -9.4 0.5 10.9 0.5 -9.9 0.5 9.1 0.5 -5.5 0.5 7 0.5 -7 0.5 10.8 0.5 -10.4 0.5 6.1 0.5 -12.3 0.5 11.9 0.5 -5.1 0.5 5.6 0.5 -10.8 0.5 9.1 0.5 -18 0.5 -16.7 0.5 26.6 0.5 14.7 0.5 -12.5 0.5 9.7 0.5 -9.8 0.5 9.8 0.5 -13.8 0.5 9.4 0.5 -3.8 0.5 8.1 0.5 -9.1 0.5 6.3 0.5 -8.9 0.5 10.5 0.5 -9 0.5 13.7 0.5 -11.4 0.5 12 0.5 -13.6 0.5 8.8 0.5 -13.4 0.5 11.3 0.5 -6.7 0.5 7.8 0.5 -22.3 0.5 24.4 0.5 -16.5 0.5 12.6 0.5 -4.5 0.5 4.5 0.5 -8.5 0.5 11.7 0.5 -11.6 0.5 14 0.5 -14.8 0.5 13.8 0.5 -11.7 0.5 10.5 0.5 -8.2 0.5 5.2 0.5 -10.6 0.5 16 0.5 -14.7 0.5 10.1 0.5 -7.9 0.5 8.2 0.5 -5.5 0.5 6.2 0.5 -10.7 0.5 8.9 0.5 -4 0.5 10.2 0.5 -11.7 0.5 4.3 0.5 -3.4 0.5 4.2 0.5 -17.1 0.5 25 0.5 -12.5 0.5 9.3 0.5 -9 0.5 6.4 0.5 -12 0.5 12.8 0.5 -12.6 0.5 9.3 0.5 -11.7 0.5 13.3 0.5 -9 0.5 9.5 0.5 -6.7 0.5 4 0.5 -6.5 0.5 6.2 0.5 -4.7 0.5 4.9 0.5 -5.3 0.5 5.5 0.5 -5.8 0.5 7.3 0.5 -7.6 0.5 9.7 0.5 -11.6 0.5 12.6 0.5 -8.8 0.5 13.5 0.5 -15.3 0.5 19.1 0.5 -19.1 0.5 9.1 0.5 -11.6 0.5 8.1 0.5 -7.1 0.5 7.7 0.5 -11.2 0.5 15.6 0.5 -14.7 0.5 13.7 0.5 -10.6 0.5 12.3 0.5 -12.1 0.5 6.8 0.5 -5.7 0.5 5.4 0.5 -2.8 0.5 2.9 0.5 -7.6 0.5 17.7 0.5 -13.4 0.5 4 0.5 -6 0.5 9.1 0.5 -7.2 0.5 10 0.5 -9.6 0.5 6.6 0.5 -7.6 0.5 5.1 0.5 -15 0.5 14.7 0.5 -4.3 0.5 4.2 0.5 -6.2 0.5 6.3 0.5 -4.7 0.5 5.9 0.5 -9.1 0.5 11.3 0.5 -11.5 0.5 8.6 0.5 -8.1 0.5 6.3 0.5 -4.6 0.5 19 0.5 -22.4 0.5 7.8 0.5 -5.3 0.5 6.2 0.5 -11.4 0.5 12.3 0.5 16.6 0.5 -17.6 0.5 -9.5 0.5 12.1 0.5 -7.6 0.5 8.4 0.5 -8.9 0.5 21.2 0.5 -30.3 0.5 21.3 0.5 -11.2 0.5 5.8 0.5 -11.1 0.5 12.9 0.5 -9.7 0.5 7 0.5 -5.1 0.5 7.6 0.5 -8.5 0.5 8 0.5 -6.1 0.5 5.6 0.5 -7.1 0.5 5.5 0.5 -7.9 0.5 8.4 0.5 -6.6 0.5 5.1 0.5 -2.8 0.5 2.1 0.5 -5.6 0.5 8.5 0.5 -9.9 0.5 7.5 0.5 -3 0.5 5.4 0.5 -5 0.5 3.5 0.5 -5.5 0.5 5.2 0.5 -4.1 0.5 4.7 0.5 -4.2 0.5 4.2 0.5 -6 0.5 8 0.5 -5.8 0.5 10.3 0.5 -12.3 0.5 6.2 0.5 -5.6 0.5 6.2 0.5 -6.3 0.5 4.8 0.5 -3.6 0.5 3.8 0.5 -6.4 0.5 7.2 0.5 -5.4 0.5 3.8 0.5 -5.4 0.5 4.9 0.5 -6.2 0.5 11.9 0.5 -11.6 0.5 8.7 0.5 -8.6 0.5 11.8 0.5 -9.5 0.5 10 0.5 -10.2 0.5 4.5 0.5 -3.3 0.5 10.3 0.5 -10 0.5 14.8 0.5 -15.8 0.5 14.8 0.5 -14.3 0.5 5.8 0.5 -6.8 0.5 4 0.5 -5.7 0.5 7.1 0.5 -5.3 0.5 4.1 0.5 -4.2 0.5 8.2 0.5 -9.6 0.5 9.9 0.5 -9.7 0.5 8 0.5 -6.8 0.5 4.5 0.5 -5.8 0.5 5.7 0.5 -3.3 0.5 5.5 0.5 -11.4 0.5 8.9 0.5 -7.9 0.5 11.8 0.5 -6.3 0.5 3.4 0.5 -6.6 0.5 6.3 0.5 -4.3 0.5 7.6 0.5 -11.8 0.5 12.5 0.5 -9.1 0.5 4.9 0.5 -2.7 0.5 3.9 0.5 -8.4 0.5 11.8 0.5 -12.3 0.5 10.2 0.5 -7.6 0.5 6.1 0.5 -7.4 0.5 8.7 0.5 -5.4 0.5 3.7 0.5 -4.1 0.5 8.3 0.5 -10.1 0.5 8.8 0.5 -8.6 0.5 5.8 0.5 -3.8 0.5 6.3 0.5 -6.3 0.5 2.5 0.5 -5.8 0.5 5.8 0.5 -4 0.5 5.6 0.5 -4.5 0.5 4.3 0.5 -4.3 0.5 4.2 0.5 -7.9 0.5 8.4 0.5 -8.5 0.5 6.1 0.5 -2.9 0.5 5.1 0.5 -5.8 0.5 3.8 0.5 -8.3 0.5 14.6 0.5 -19 0.5 23.8 0.5 -19.8 0.5 12.6 0.5 14.4 0.5 -12.2 0.5 -15.7 0.5 13.4 0.5 -12.6 0.5 10.7 0.5 -9.2 0.5 10 0.5 -6.3 0.5 12.3 0.5 -12.1 0.5 5.2 0.5 -9.8 0.5 20.6 0.5 -14.7 0.5 3.5 0.5 -5.8 0.5 13.2 0.5 -13.1 0.5 8.8 0.5 -9.5 0.5 11 0.5 -11.6 0.5 7.3 0.5 -7.3 0.5 9.5 0.5 -14.4 0.5 18.8 0.5 -20.6 0.5 16.4 0.5 -6.8 0.5 5 0.5 -9.3 0.5 11.6 0.5 -15.6 0.5 13.7 0.5 -8.2 0.5 11.9 0.5 -11.4 0.5 9.3 0.5 -8.7 0.5 13.8 0.5 -13.6 0.5 14.5 0.5 -24.6 0.5 18.4 0.5 -11.5 0.5 12.7 0.5 -10.6 0.5 6 0.5 -3.5 0.5 3.1 0.5 -7.4 0.5 7.9 0.5 -4.1 0.5 5.7 0.5 -6 0.5 6.2 0.5 -5.7 0.5 4.2 0.5 -3.4 0.5 12.9 0.5 -12.4 0.5 2.3 0.5 -4.5 0.5 4.5 0.5 -3.1 0.5 5.4 0.5 -7.4 0.5 7.9 0.5 -5.7 0.5 4.8 0.5 -6.9 0.5 7.9 0.5 -8.4 0.5 7.3 0.5 -7.9 0.5 8.9 0.5 -8.8 0.5 8.8 0.5 -7.2 0.5 6.7 0.5 -8.6 0.5 8 0.5 -5.1 0.5 4.6 0.5 -3.6 0.5 5 0.5 -6.2 0.5 4.3 0.5 -3.8 0.5 3.3 0.5 -3.6 0.5 3.3 0.5 -3.9 0.5 6.8 0.5 -8.9 0.5 6.4 0.5 -4.5 0.5 4.7 0.5 -3.6 0.5 4.5 0.5 -6.4 0.5 5.8 0.5 -8.6 0.5 8.7 0.5 -5 0.5 5.5 0.5 -7.8 0.5 11.2 0.5 -8.3 0.5 3.6 0.5 -6 0.5 4.6 0.5 -5 0.5 5.6 0.5 -7.5 0.5 7.5 0.5 -3.1 0.5 2.9 0.5 -5.8 0.5 6.7 0.5 -6.4 0.5 8.5 0.5 -10.1 0.5 7.9 0.5 -4.4 0.5 4.8 0.5 -4.3 0.5 7 0.5 -8.9 0.5 7.6 0.5 -10.5 0.5 10.1 0.5 -4.7 0.5 9.7 0.5 -15.9 0.5 9.4 0.5 -3.2 0.5 2.8 0.5 -5.5 0.5 6.9 0.5 -7.2 0.5 7.1 0.5 -5.3 0.5 7.4 0.5 -6.1 0.5 5.6 0.5 -7.6 0.5 7.3 0.5 -8.8 0.5 7.3 0.5 -4.1 0.5 4.1 0.5 -5.3 0.5 6 0.5 -6.5 0.5 10.6 0.5 -9.5 0.5 5.3 0.5 -6.2 0.5 7.9 0.5 -7.8 0.5 5.8 0.5 -7.2 0.5 6.3 0.5 -11.3 0.5 12.7 0.5 -9.3 0.5 7.5 0.5 -5.3 0.5 7.2 0.5 -4.8 0.5 6.6 0.5 -6.6 0.5 4 0.5 -5.1 0.5 6.1 0.5 -4.9 0.5 6.6 0.5 -6.2 0.5 4.9 0.5 -6.6 0.5 7.1 0.5 -5.4 0.5 6.6 0.5 -8.4 0.5 6.3 0.5 -5.8 0.5 8 0.5 -7.8 0.5 4.6 0.5 -6.1 0.5 9.4 0.5 -11.6 0.5 10.5 0.5 -5.6 0.5 3.2 0.5 -3.8 0.5 3.9 0.5 -5.8 0.5 10.2 0.5 -14.5 0.5 10.6 0.5 -5.7 0.5 4.9 0.5 -3.2 0.5 10.9 0.5 -11.3 0.5 5.4 0.5 -8.1 0.5 10.8 0.5 -12.8 0.5 11.3 0.5 -10.6 0.5 9.8 0.5 -10.8 0.5 9.4 0.5 -5.2 0.5 7.4 0.5 -9.5 0.5 11.3 0.5 -8.7 0.5 7.3 0.5 -7 0.5 3.6 0.5 -3.2 0.5 2.8 0.5 -3.5 0.5 6.1 0.5 -14.9 0.5 13.4 0.5 -3.5 0.5 5.9 0.5 -12.1 0.5 11.9 0.5 -7.5 0.5 8.7 0.5 -7.9 0.5 8.4 0.5 -8.3 0.5 4.3 0.5 -5.4 0.5 5.8 0.5 -5.8 0.5 4.5 0.5 -3.2 0.5 7.1 0.5 -8.4 0.5 6.8 0.5 -10.4 0.5 10.8 0.5 -5.5 0.5 3.9 0.5 -4.9 0.5 8 0.5 -10.8 0.5 6.9 0.5 -5 0.5 6.7 0.5 -8.3 0.5 9.7 0.5 -9.6 0.5 11 0.5 -6.9 0.5 5.2 0.5 -8.7 0.5 5.8 0.5 -3.2 0.5 4.2 0.5 -3.3 0.5 5.1 0.5 -9.8 0.5 9.2 0.5 -5.7 0.5 6.7 0.5 -8.5 0.5 5.8 0.5 -4.1 0.5 8 0.5 -9.9 0.5 6.6 0.5 -4.8 0.5 5.7 0.5 -12.8 0.5 13.8 0.5 -5.5 0.5 3.6 0.5 -6.1 0.5 5.4 0.5 -7.6 0.5 10 0.5 -5.9 0.5 9.3 0.5 -15.6 0.5 10.4 0.5 -5.4 0.5 5.9 0.5 -4.4 0.5 4 0.5 -7.7 0.5 8 0.5 -7.6 0.5 8.7 0.5 -7.4 0.5 5.1 0.5 -6.5 0.5 7 0.5 -5 0.5 5.4 0.5 -5.6 0.5 8 0.5 -6.2 0.5 5 0.5 -9.5 0.5 7.9 0.5 -3.6 0.5 5.8 0.5 -6.9 0.5 4.5 0.5 -4.5 0.5 7 0.5 -6.1 0.5 7.5 0.5 -7.4 0.5 7.2 0.5 -9.1 0.5 11.4 0.5 -12.6 0.5 9 0.5 -8.9 0.5 6.2 0.5 -5.1 0.5 8.7 0.5 -10.8 0.5 8.9 0.5 -6.1 0.5 4.9 0.5 -4.2 0.5 3.7 0.5 -7.8 0.5 11.1 0.5 -7.1 0.5 7.1 0.5 -6.2 0.5 13.6 0.5 -14.7 0.5 7.1 0.5 -15.9 0.5 13.1 0.5 -3.3 0.5 16.5 0.5 -18 0.5 6.2 0.5 -5.4 0.5 3.8 0.5 -3.5 0.5 4.3 0.5 -4.3 0.5 3.6 0.5 -7.1 0.5 7.5 0.5 -4.7 0.5 4.3 0.5 -5.5 0.5 7.5 0.5 -7.6 0.5 5.6 0.5 -3.9 0.5 4 0.5 -7.2 0.5 11.9 0.5 -8.6 0.5 4.2 0.5 -12 0.5 12.7 0.5 -5.7 0.5 6.7 0.5 -7.4 0.5 9.2 0.5 -7.6 0.5 8 0.5 -7.8 0.5 8.4 0.5 -10.3 0.5 6.6 0.5 -6.2 0.5 11 0.5 -5.7 0.5 4.8 0.5 -7.6 0.5 12.1 0.5 -16 0.5 11.2 0.5 -5.5 0.5 4.4 0.5 -4.4 0.5 7.9 0.5 -10.3 0.5 8.3 0.5 -8.6 0.5 8.1 0.5 -14.7 0.5 17 0.5 -8.7 0.5 11 0.5 -14 0.5 9.2 0.5 -8.1 0.5 9.3 0.5 -18 0.5 16.8 0.5 -5.4 0.5 16 0.5 -17.3 0.5 6.5 0.5 -4.6 0.5 5.3 0.5 -5.7 0.5 4.3 0.5 -7.4 0.5 4.5 0.5 -7.3 0.5 9.2 0.5 -10 0.5 7.3 0.5 -3.7 0.5 8.8 0.5 -8.5 0.5 8.7 0.5 -9.4 0.5 5.6 0.5 -4.9 0.5 6.2 0.5 -6.5 0.5 5.4 0.5 -5.6 0.5 5.9 0.5 -5.3 0.5 3.7 0.5 -5.8 0.5 6.3 0.5 -5 0.5 3.6 0.5 -5.8 0.5 8.1 0.5 -6.4 0.5 7.7 0.5 -9.9 0.5 8.7 0.5 -8.7 0.5 8.8 0.5 -5.4 0.5 2.5 0.5 -6 0.5 7.1 0.5 -3.9 0.5 4.6 0.5 -6.4 0.5 8.3 0.5 -9.8" stroke="#ff1010" stroke-width="0.8" fill="none" stroke-linejoin="round" />
<path d="M668.3 590.3L1122.4 590.3" stroke="#000" stroke-width="2.0" stroke-dasharray="5 2" fill="none" />
</g>
<path d="M674.6 563L691.8 563" stroke="#ff00ff" stroke-width="1.4" stroke-dasharray="1.2 1.0" fill="none" />
<text x="693.7" y="566.3" font-size="9.6" fill="#ff00ff" xml:space="preserve">t  maxJ</text>
<path d="M674.6 570.3L691.8 570.3" stroke="#3838ff" stroke-width="1.0" fill="none" />
<text x="693.7" y="573.6" font-size="9.6" fill="#2020ff" xml:space="preserve">J<tspan font-size="7.1" dy="3.4">L</tspan></text>
<path d="M674.6 577.7L691.8 577.7" stroke="#50ff50" stroke-width="1.0" fill="none" />
<text x="693.7" y="581" font-size="9.6" fill="#80f000" xml:space="preserve">J<tspan font-size="7.1" dy="3.4">M</tspan></text>
<path d="M674.6 584.7L691.8 584.7" stroke="#ff3030" stroke-width="1.0" fill="none" />
<text x="693.7" y="588" font-size="9.6" fill="#ff2000" xml:space="preserve">J<tspan font-size="7.1" dy="3.4">N</tspan></text>
<clipPath id="cm9"><rect x="668.3" y="632.7" width="454.1" height="73.7"/></clipPath><g clip-path="url(#cm9)">
<path d="M668.6 691.6l0.4 -0.5 0.5 0.5 0.5 -0.9 0.4 0.9 0.5 -0.5 0.4 0.3 0.5 -0.7 0.4 1.1 0.5 -0.9 0.4 0.9 0.5 -0.6 0.4 0.7 0.5 -0.8 0.4 0.8 0.5 -0.7 0.4 0.6 0.5 -0.6 0.4 0.3 0.5 -0.7 0.4 0.7 0.5 -0.6 0.4 0.6 0.5 -0.4 0.4 0.4 0.5 -0.4 0.4 0.5 0.5 -0.6 0.4 0.6 0.5 -0.4 0.4 0.7 0.5 -0.7 0.4 0.2 0.5 -0.3 0.4 0.7 0.5 -0.8 0.4 0.4 0.5 -0.4 0.4 0.7 0.5 -0.5 0.4 0.4 0.5 -0.7 0.4 0.8 0.5 -0.6 0.4 0.3 0.5 -0.6 0.4 0.6 0.5 -0.5 0.4 0.7 0.5 -0.5 0.4 0.4 0.5 -0.4 0.4 0.4 0.5 -0.3 0.4 0.3 0.5 -0.8 0.4 1 0.5 -0.7 0.4 0.4 0.5 -0.3 0.4 0.3 0.5 -0.5 0.4 0.8 0.5 -1.9 0.4 1.8 0.5 -0.4 0.4 0.4 0.5 -0.4 0.4 0.6 0.5 -0.6 0.4 0.2 0.5 -0.4 0.4 0.8 0.5 -0.8 0.4 0.5 0.5 -0.8 0.4 1.2 0.5 -0.7 0.4 0.7 0.5 -0.8 0.4 0.4 0.5 -0.3 0.4 0.5 0.5 -0.7 0.4 0.6 0.5 -0.6 0.4 2.5 0.5 -2.5 0.4 2.2 0.5 -1.1 0.4 1.3 0.5 -1.5 0.4 1.5 0.5 -1.5 0.4 1.7 0.5 2.7 0.4 -2.3 0.5 -2.3 0.4 1.2 0.5 -1.1 0.4 1.8 0.5 -1.4 0.4 0.5 0.5 -0.9 0.4 1.5 0.5 -1.2 0.4 1.2 0.5 -2.3 0.4 -0.5 0.5 -3.4 0.4 3.6 0.5 -2.2 0.4 2.3 0.5 -2.2 0.4 1.6 0.5 -1.5 0.4 1.3 0.5 -1.8 0.4 2.6 0.5 -2.8 0.4 4.1 0.5 -4.5 0.4 5.3 0.5 -5.4 0.4 3.7 0.5 7.7 0.4 -8.6 0.5 -2.3 0.4 3.6 0.5 -4.7 0.4 3.1 0.5 -2.5 0.4 3.6 0.5 -3.1 0.4 2.8 0.5 -1.9 0.4 3.2 0.5 -3.2 0.4 1.2 0.5 -2.5 0.4 3.4 0.5 -2.5 0.4 4.6 0.5 -5.1 0.4 2.2 0.5 -3.5 0.4 3.1 0.5 -2.1 0.4 5.1 0.5 -4.7 0.4 1.9 0.5 -2 0.4 1.9 0.5 -1.5 0.4 6.3 0.5 -13.8 0.4 18.6 0.5 -9.7 0.4 6.1 0.5 -8.8 0.4 7 0.5 -4.8 0.4 5.3 0.5 -15.5 0.4 13.2 0.5 -2.4 0.4 3.3 0.5 -37.1 0.4 36.3 0.5 -2.9 0.4 2.9 0.5 -4 0.4 5.5 0.5 -5.1 0.4 5.8 0.5 -7.3 0.4 7.5 0.5 -10.7 0.4 -17.1 0.5 23.1 0.4 2 0.5 -5.8 0.4 6.4 0.5 -14.2 0.4 14.7 0.5 -4.1 0.4 3.8 0.5 -4.2 0.4 4.7 0.5 -4.2 0.4 5.8 0.5 -5.1 0.4 4.5 0.5 -5.3 0.4 4.4 0.5 -5 0.4 -57.5 0.5 57.3 0.4 10.1 0.5 -11.2 0.4 9.3 0.5 -15.7 0.4 11.5 0.5 -1.9 0.4 -13.9 0.5 8.7 0.4 10.8 0.5 -9.1 0.4 7.4 0.5 8.4 0.4 -6.8 0.5 -7.8 0.4 8 0.5 -7.9 0.4 4.6 0.5 -4.4 0.4 4 0.5 11.6 0.4 -11.7 0.5 -2.6 0.4 4.8 0.5 -5.4 0.4 4.2 0.5 -6.4 0.4 5.2 0.5 -2.3 0.4 4.8 0.5 -5.2 0.4 5.1 0.5 -4.5 0.4 5.4 0.5 -7.1 0.4 9.6 0.5 -10.4 0.4 10.6 0.5 -7.9 0.4 2.4 0.5 -4.3 0.4 4.6 0.5 -5.2 0.4 6.2 0.5 -3.6 0.4 4.3 0.5 -12.3 0.4 12.3 0.5 -4.1 0.4 4.3 0.5 -6.6 0.4 7.4 0.5 -6.7 0.4 6.2 0.5 -5.8 0.4 2.9 0.5 -4.5 0.4 5.5 0.5 -4.7 0.4 4.3 0.5 -4.5 0.4 -11.8 0.5 10.8 0.4 5.5 0.5 -3.2 0.4 2.7 0.5 15.7 0.4 -12.9 0.5 -29.7 0.4 27.1 0.5 -4.9 0.4 9.2 0.5 -8.3 0.4 4.8 0.5 -8 0.4 7.2 0.5 -2.6 0.4 3.3 0.5 -3.3 0.4 3.2 0.5 -3.3 0.4 3 0.5 -2.8 0.4 3.1 0.5 -3.4 0.4 2.3 0.5 -2.2 0.4 2 0.5 -3.1 0.4 3.6 0.5 -5.7 0.4 9.4 0.5 -11 0.4 9 0.5 -11.7 0.4 9.5 0.5 -3 0.4 8.8 0.5 -9.1 0.4 3.7 0.5 -4.2 0.4 5.6 0.5 -8.3 0.4 7.6 0.5 -4.4 0.4 4.2 0.5 -4 0.4 7.8 0.5 -14.6 0.4 10.2 0.5 -2.3 0.4 3 0.5 -3.8 0.4 3.8 0.5 -3.2 0.4 4.8 0.5 -5.9 0.4 4.6 0.5 -2.9 0.4 7.1 0.5 -7.8 0.4 3.2 0.5 -3.8 0.4 4.3 0.5 -2.7 0.4 2.6 0.5 -17.2 0.4 16.8 0.5 -2.6 0.4 2.1 0.5 -4.2 0.4 5.1 0.5 -22.6 0.4 37.5 0.5 -21.9 0.4 6 0.5 -2 0.4 1.7 0.5 -1.2 0.4 3 0.5 -3.4 0.4 1.9 0.5 -2.9 0.4 2.9 0.5 -2.1 0.4 3.9 0.5 -4.7 0.4 3.8 0.5 -2.2 0.4 1.6 0.5 -3.4 0.4 3.1 0.5 -5.1 0.4 6.4 0.5 -3.8 0.4 3.1 0.5 -2.1 0.4 2.9 0.5 -4.2 0.4 7 0.5 -6.1 0.4 -14.9 0.5 14.8 0.4 2.8 0.5 -3.9 0.4 5.2 0.5 -5.5 0.4 6.3 0.5 -4.7 0.4 3.1 0.5 -11.1 0.4 9.8 0.5 -1.5 0.4 3.2 0.5 -3.2 0.4 1.5 0.5 -2.8 0.4 2.6 0.5 -1.9 0.4 1.9 0.5 -1.4 0.4 1.8 0.5 -1.7 0.4 2.1 0.5 -2.2 0.4 1.3 0.5 -1.2 0.4 4.1 0.5 -5.8 0.4 4.8 0.5 -4 0.4 2.7 0.5 -2.1 0.4 3.5 0.5 -3.6 0.4 4.4 0.5 -4.2 0.4 2.4 0.5 -4.6 0.4 4.2 0.5 -1.7 0.4 1.5 0.5 -5.1 0.4 2.8 0.5 -3.3 0.4 3.5 0.5 -3.1 0.4 4.6 0.5 -4.3 0.4 3.2 0.5 -2.3 0.4 3.4 0.5 -2.8 0.4 1.2 0.5 -2 0.4 3.1 0.5 -3.3 0.4 4.2 0.5 -3.3 0.4 1.5 0.5 -5.1 0.4 5 0.5 -2.7 0.4 3.7 0.5 -12.9 0.4 12 0.5 -1.4 0.4 2.6 0.5 -4.3 0.4 5.7 0.5 -6.1 0.4 4.1 0.5 -3.9 0.4 5.5 0.5 -2.4 0.4 3 0.5 -3.1 0.4 3.6 0.5 -3.2 0.4 1.5 0.5 -1.6 0.4 2.8 0.5 -2.1 0.4 1.3 0.5 -1.3 0.4 0.9 0.5 -1.3 0.4 1.2 0.5 -1.4 0.4 1.9 0.5 -1.7 0.4 1.2 0.5 -4.1 0.4 4.2 0.5 -1.2 0.4 2.1 0.5 -1.7 0.4 0.8 0.5 -1 0.4 0.8 0.5 -3.3 0.4 3.4 0.5 -1.4 0.4 2.5 0.5 -1.9 0.4 1.4 0.5 -1.9 0.4 3.5 0.5 -3.1 0.4 1.4 0.5 -1.6 0.4 1.5 0.5 -1.7 0.4 2.2 0.5 -2.4 0.4 2 0.5 -1.9 0.4 -5.5 0.5 4.3 0.4 2.9 0.5 -3.7 0.4 3.5 0.5 -2.7 0.4 2.8 0.5 -1.4 0.4 1.9 0.5 -3 0.4 3.2 0.5 -2.2 0.4 1.9 0.5 -4 0.4 3.9 0.5 -2.4 0.4 1.9 0.5 -0.9 0.4 1.9 0.5 -4.1 0.4 4.2 0.5 -18.8 0.4 19.2 0.5 -2.8 0.4 17.6 0.5 -20.1 0.4 8.5 0.5 -23 0.4 19.7 0.5 -6 0.4 8.6 0.5 -5.4 0.4 4.3 0.5 -10.9 0.4 8.8 0.5 -2.8 0.4 8 0.5 -8.6 0.4 4.4 0.5 -3.7 0.4 4.6 0.5 -3.1 0.4 6.9 0.5 -1.9 0.4 2 0.5 -2.9 0.4 2.6 0.5 -2.4 0.4 2.7 0.5 -2 0.4 2.8 0.5 -3.2 0.4 -4.7 0.5 -1.4 0.4 0.8 0.5 -1.5 0.4 2.4 0.5 -2.1 0.4 1.3 0.5 -2.5 0.4 3 0.5 -1.8 0.4 1.6 0.5 -1.6 0.4 1 0.5 -1.2 0.4 1.8 0.5 -1.3 0.4 1.6 0.5 -2.1 0.4 1.6 0.5 -3.7 0.4 4.2 0.5 -1.6 0.4 0.9 0.5 -2.2 0.4 2.3 0.5 -1.9 0.4 1.6 0.5 -1.3 0.4 1.3 0.5 -0.9 0.4 1.7 0.5 -1.7 0.4 1.9 0.5 -2.1 0.4 1.7 0.5 -1.8 0.4 1.6 0.5 -1 0.4 0.7 0.5 -0.7 0.4 1 0.5 -1.3 0.4 0.9 0.5 -0.9 0.4 1.2 0.5 -0.9 0.4 1.2 0.5 -1.6 0.4 1.3 0.5 -1 0.4 1.8 0.5 -2.5 0.4 2.1 0.5 -2.7 0.4 2.1 0.5 -2.6 0.4 2.5 0.5 -0.8 0.4 0.8 0.5 -1.1 0.4 1.4 0.5 -1.8 0.4 1.6 0.5 -2.2 0.4 3.7 0.5 -2.7 0.4 2 0.5 -4.3 0.4 4.8 0.5 -2.7 0.4 1.8 0.5 -1.5 0.4 1.3 0.5 -1.4 0.4 1.6 0.5 -1.4 0.4 2 0.5 -2 0.4 1.5 0.5 -2.2 0.4 1.9 0.5 -2.1 0.4 1.9 0.5 -0.8 0.4 0.9 0.5 -2.1 0.4 5.2 0.5 -4.9 0.4 2.8 0.5 -2.3 0.4 1.6 0.5 -3.4 0.4 4.3 0.5 -2.6 0.4 1.3 0.5 -1.8 0.4 2.2 0.5 -1.6 0.4 1.8 0.5 -5.5 0.4 5.2 0.5 -1.1 0.4 1.7 0.5 -2 0.4 1.6 0.5 -1.5 0.4 1.5 0.5 -2.4 0.4 2.1 0.5 -1.1 0.4 1.1 0.5 -2.4 0.4 3.3 0.5 -4.2 0.4 4.6 0.5 -2.9 0.4 2.3 0.5 -1.6 0.4 0.6 0.5 -1.6 0.4 2.2 0.5 -1.3 0.4 2.7 0.5 -1.5 0.4 0.8 0.5 -1.6 0.4 2.7 0.5 -2.4 0.4 1.2 0.5 -1 0.4 2.2 0.5 -2.3 0.4 2.1 0.5 -2.2 0.4 2 0.5 -2.7 0.4 2.3 0.5 -2 0.4 2.6 0.5 -2.5 0.4 1.9 0.5 -1.8 0.4 1.6 0.5 -1.2 0.4 1.6 0.5 -2 0.4 2 0.5 -3.3 0.4 3.8 0.5 -2 0.4 1.2 0.5 -1.2 0.4 1.1 0.5 -0.8 0.4 1 0.5 -1.3 0.4 1.6 0.5 -1.7 0.4 2.1 0.5 -2.2 0.4 1.6 0.5 -2 0.4 2.9 0.5 -2.7 0.4 2.8 0.5 -3.1 0.4 4.8 0.5 -4.1 0.4 1.4 0.5 -2.1 0.4 2 0.5 -3.7 0.4 4 0.5 -1.8 0.4 2.7 0.5 -9.2 0.4 8.6 0.5 -2.4 0.4 1.5 0.5 -1.1 0.4 1 0.5 -1 0.4 2 0.5 -1.7 0.4 1.1 0.5 -1.5 0.4 2.7 0.5 -3.6 0.4 3.2 0.5 -4.1 0.4 3.8 0.5 -3 0.4 2.6 0.5 -1.2 0.4 1.3 0.5 -1.6 0.4 1.5 0.5 -2.7 0.4 2.3 0.5 -6.7 0.4 7.3 0.5 -1.9 0.4 2.1 0.5 -3.7 0.4 3.4 0.5 -2.3 0.4 2.7 0.5 -2.4 0.4 2.9 0.5 -4.6 0.4 4.4 0.5 -2.5 0.4 1.3 0.5 -0.7 0.4 1 0.5 -1 0.4 0.8 0.5 -0.7 0.4 2 0.5 -2.4 0.4 1.4 0.5 -1.4 0.4 0.8 0.5 -1.4 0.4 2.2 0.5 -1.3 0.4 0.7 0.5 -2.5 0.4 3.3 0.5 -1.7 0.4 0.8 0.5 -0.6 0.4 1.3 0.5 -1.4 0.4 1.2 0.5 -1 0.4 0.9 0.5 -0.9 0.4 0.5 0.5 -0.6 0.4 0.6 0.5 -0.8 0.4 0.7 0.5 -0.4 0.4 1.5 0.5 -2.5 0.4 1.4 0.5 -0.7 0.4 0.9 0.5 -0.7 0.4 0.9 0.5 -1.1 0.4 1.3 0.5 -1.9 0.4 1.4 0.5 -0.6 0.4 0.6 0.5 -0.6 0.4 0.9 0.5 -1.5 0.4 1.5 0.5 -1.4 0.4 1.2 0.5 -1 0.4 1 0.5 -0.6 0.4 0.4 0.5 -0.4 0.4 0.5 0.5 -0.7 0.4 1 0.5 -1.1 0.4 1.1 0.5 -1.2 0.4 0.9 0.5 -0.6 0.4 1 0.5 -1.6 0.4 1.3 0.5 -0.7 0.4 1.1 0.5 -1.4 0.4 1.2 0.5 -1.1 0.4 1.4 0.5 -1.3 0.4 1.2 0.5 -1.5 0.4 1.4 0.5 -1.2 0.4 1.1 0.5 -1.2 0.4 2.1 0.5 -2.5 0.4 1.7 0.5 -0.9 0.4 0.5 0.5 -0.8 0.4 1.4 0.5 -1.3 0.4 1.1 0.5 -1.1 0.4 0.7 0.5 -0.6 0.4 1.1 0.5 -2.3 0.4 2.6 0.5 -1.9 0.4 1.1 0.5 -0.7 0.4 1.6 0.5 -1.6 0.4 0.8 0.5 -2.2 0.4 2.5 0.5 -1.2 0.4 1.3 0.5 -1.5 0.4 0.9 0.5 -1.4 0.4 1.7 0.5 -0.9 0.4 0.6 0.5 -0.7 0.4 0.9 0.5 -1.5 0.4 1.6 0.5 -1.3 0.4 2.4 0.5 -2.3 0.4 1.3 0.5 -1 0.4 1.4 0.5 -1.7 0.4 1.6 0.5 -2.3 0.4 2.6 0.5 -3 0.4 2.5 0.5 -3.9 0.4 4 0.5 -1.4 0.4 1.4 0.5 -1.9 0.4 3.1 0.5 -4.3 0.4 4.3 0.5 -3.1 0.4 1.9 0.5 -2.7 0.4 4.8 0.5 -3.7 0.4 -7.8 0.5 7.4 0.4 1.8 0.5 -1.4 0.4 2.2 0.5 -5.6 0.4 5.8 0.5 -5.9 0.4 5.2 0.5 -10.2 0.4 14 0.5 -5.5 0.4 2.3 0.5 -3.7 0.4 3.9 0.5 -2.6 0.4 2.1 0.5 -2.7 0.4 2.5 0.5 -2.8 0.4 2.7 0.5 -1.8 0.4 2.7 0.5 -2.8 0.4 4.4 0.5 -4.2 0.4 1.4 0.5 -1.9 0.4 1.9 0.5 -1.4 0.4 1.5 0.5 -1.4 0.4 1.3 0.5 -1 0.4 0.8 0.5 -0.6 0.4 1.7 0.5 -2.4 0.4 1.7 0.5 -1.5 0.4 2.5 0.5 -2.4 0.4 1.3 0.5 -1.2 0.4 2.9 0.5 -2.7 0.4 1.1 0.5 -1.3 0.4 2.9 0.5 -3.9 0.4 3.6 0.5 -1.8 0.4 2 0.5 -4.3 0.4 3.6 0.5 -4 0.4 6.3 0.5 -4.3 0.4 3 0.5 -2.6 0.4 1.7 0.5 -2.2 0.4 4.4 0.5 -4 0.4 3 0.5 -2.5 0.4 2.2 0.5 9.5 0.4 -9.8 0.5 -3 0.4 4.1 0.5 -4.4 0.4 2.7 0.5 -1.4 0.4 2.9 0.5 -3.8 0.4 8.3 0.5 -8.3 0.4 4.2 0.5 -3.7 0.4 3.4 0.5 -4 0.4 2.2 0.5 -1.6 0.4 4.7 0.5 -6.2 0.4 3.4 0.5 -3.6 0.4 4.4 0.5 -3.1 0.4 7.2 0.5 -6.6 0.4 1.5 0.5 -4.6 0.4 6 0.5 -3.3 0.4 2.7 0.5 -4.3 0.4 6.5 0.5 -7.6 0.4 4.5 0.5 -1.2 0.4 1.7 0.5 -2.9 0.4 3.1 0.5 7.5 0.4 -7.3 0.5 -1.9 0.4 1.4 0.5 -9.7 0.4 9.4 0.5 -2.2 0.4 3.1 0.5 -5.8 0.4 4.5 0.5 -2.3 0.4 3.6 0.5 -2.9 0.4 0.8 0.5 -0.9 0.4 0.8 0.5 -1.4 0.4 2.6 0.5 -2.2 0.4 1.2 0.5 -0.9 0.4 0.6 0.5 -1.5 0.4 1.6 0.5 -1.1 0.4 1.4" stroke="#111" stroke-width="1.0" fill="none" stroke-linejoin="round" />
</g>
<path d="M674.6 647.5L691.8 647.5" stroke="#555" stroke-width="1.2" fill="none" />
<text x="696.2" y="650.8" font-size="9.3" fill="#222" xml:space="preserve">J*E'</text>
<path d="M756.8 46.9L756.8 115.4" stroke="#ff00ff" stroke-width="1.3" stroke-dasharray="1.6 3.4" fill="none" />
<path d="M862.4 46.9L862.4 115.4" stroke="#00a800" stroke-width="1.3" stroke-dasharray="7 4" fill="none" />
<path d="M875.3 46.9L875.3 115.4" stroke="#ff0000" stroke-width="1.3" stroke-dasharray="7 4" fill="none" />
<path d="M890.8 46.9L890.8 115.4" stroke="#ff00ff" stroke-width="1.3" stroke-dasharray="1.6 3.4" fill="none" />
<path d="M900.3 46.9L900.3 115.4" stroke="#0000ff" stroke-width="1.2" stroke-dasharray="1.6 3.0" fill="none" />
<path d="M901.7 46.9L901.7 115.4" stroke="#ff0000" stroke-width="1.3" stroke-dasharray="7 4" fill="none" />
<path d="M914.6 46.9L914.6 115.4" stroke="#00a800" stroke-width="1.3" stroke-dasharray="7 4" fill="none" />
<path d="M756.8 194.9L756.8 706.4" stroke="#ff00ff" stroke-width="1.3" stroke-dasharray="1.6 3.4" fill="none" />
<path d="M862.4 194.9L862.4 706.4" stroke="#00a800" stroke-width="1.3" stroke-dasharray="7 4" fill="none" />
<path d="M875.3 194.9L875.3 706.4" stroke="#ff0000" stroke-width="1.3" stroke-dasharray="7 4" fill="none" />
<path d="M890.8 194.9L890.8 706.4" stroke="#ff00ff" stroke-width="1.3" stroke-dasharray="1.6 3.4" fill="none" />
<path d="M900.3 194.9L900.3 706.4" stroke="#0000ff" stroke-width="1.2" stroke-dasharray="1.6 3.0" fill="none" />
<path d="M901.7 194.9L901.7 706.4" stroke="#ff0000" stroke-width="1.3" stroke-dasharray="7 4" fill="none" />
<path d="M914.6 194.9L914.6 706.4" stroke="#00a800" stroke-width="1.3" stroke-dasharray="7 4" fill="none" />
<path d="M77.2 38L95.6 38" stroke="#ff2020" stroke-width="1.2" stroke-dasharray="4.5 2" fill="none" />
<text x="96.2" y="41.3" font-size="9.2" fill="#ff0000" xml:space="preserve">t  cs</text>
<path d="M77.2 45.5L95.6 45.5" stroke="#00a000" stroke-width="1.2" stroke-dasharray="4.5 2" fill="none" />
<text x="96.2" y="48.8" font-size="9.2" fill="#109010" xml:space="preserve">t  HT</text>
<text x="96.2" y="56.8" font-size="9.2" fill="#30f000" xml:space="preserve">t  MVAB</text>
<path d="M77.2 61L95.6 61" stroke="#a0a0a0" stroke-width="2.6" stroke-dasharray="5 1.5" fill="none" />
<text x="96.2" y="64.3" font-size="9.2" fill="#a8a8a8" xml:space="preserve">t  BLminmax</text>
<path d="M77.2 68.7L95.6 68.7" stroke="#3030ff" stroke-width="1.0" stroke-dasharray="4 2" fill="none" />
<text x="96.2" y="72" font-size="9.2" fill="#1010ff" xml:space="preserve">BL, 50% of BL</text>
<path d="M77.2 76.7L95.6 76.7" stroke="#3030ff" stroke-width="1.0" fill="none" />
<text x="96.2" y="80" font-size="9.2" fill="#1010ff" xml:space="preserve">BL  brst</text>
<path d="M77.2 84.2L95.6 84.2" stroke="#909090" stroke-width="1.3" fill="none" />
<text x="96.2" y="87.5" font-size="9.2" fill="#806050" xml:space="preserve">|B|</text>
<path d="M159.7 37.5L159.7 169.5" stroke="#ff00ff" stroke-width="1.3" stroke-dasharray="1.6 3.4" fill="none" />
<path d="M266.1 37.5L266.1 169.5" stroke="#00a000" stroke-width="1.2" stroke-dasharray="7 4" fill="none" opacity="0.6"/>
<path d="M266.1 37.5L266.1 169.5" stroke="#a0a0a0" stroke-width="3.0" stroke-dasharray="8.5 4" fill="none" />
<path d="M341.2 37.5L341.2 169.5" stroke="#a0a0a0" stroke-width="3.0" stroke-dasharray="8.5 4" fill="none" />
<path d="M278.4 37.5L278.4 169.5" stroke="#ff0000" stroke-width="1.2" stroke-dasharray="7 4" fill="none" />
<path d="M292.9 37.5L292.9 169.5" stroke="#ff6060" stroke-width="1.2" stroke-dasharray="1.5 2.2" fill="none" />
<path d="M304.6 37.5L304.6 169.5" stroke="#ff0000" stroke-width="1.2" stroke-dasharray="7 4" fill="none" />
<path d="M317.9 37.5L317.9 169.5" stroke="#00a800" stroke-width="1.2" stroke-dasharray="7 4" fill="none" />
<path d="M159.7 177.3L159.7 244.5" stroke="#ff00ff" stroke-width="1.3" stroke-dasharray="1.6 3.4" fill="none" />
<path d="M266.1 177.3L266.1 244.5" stroke="#00a800" stroke-width="1.3" stroke-dasharray="7 4" fill="none" />
<path d="M278.4 177.3L278.4 244.5" stroke="#ff0000" stroke-width="1.3" stroke-dasharray="7 4" fill="none" />
<path d="M292.9 177.3L292.9 244.5" stroke="#ff00ff" stroke-width="1.3" stroke-dasharray="1.6 3.4" fill="none" />
<path d="M303.2 177.3L303.2 244.5" stroke="#0000ff" stroke-width="1.2" stroke-dasharray="1.6 3.0" fill="none" />
<path d="M304.8 177.3L304.8 244.5" stroke="#ff0000" stroke-width="1.3" stroke-dasharray="7 4" fill="none" />
<path d="M317.9 177.3L317.9 244.5" stroke="#00a800" stroke-width="1.3" stroke-dasharray="7 4" fill="none" />
<path d="M159.7 313.2L159.7 723" stroke="#ff00ff" stroke-width="1.3" stroke-dasharray="1.6 3.4" fill="none" />
<path d="M266.1 313.2L266.1 723" stroke="#00a800" stroke-width="1.3" stroke-dasharray="7 4" fill="none" />
<path d="M278.4 313.2L278.4 723" stroke="#ff0000" stroke-width="1.3" stroke-dasharray="7 4" fill="none" />
<path d="M292.9 313.2L292.9 723" stroke="#ff00ff" stroke-width="1.3" stroke-dasharray="1.6 3.4" fill="none" />
<path d="M303.2 313.2L303.2 723" stroke="#0000ff" stroke-width="1.2" stroke-dasharray="1.6 3.0" fill="none" />
<path d="M304.8 313.2L304.8 723" stroke="#ff0000" stroke-width="1.3" stroke-dasharray="7 4" fill="none" />
<path d="M317.9 313.2L317.9 723" stroke="#00a800" stroke-width="1.3" stroke-dasharray="7 4" fill="none" />
<path d="M503.6 317.2L503.6 381.5" stroke="#20c0ff" stroke-width="1.3" stroke-dasharray="1.6 3.0" fill="none" />
<text x="29" y="12.2" font-size="11" text-anchor="start" fill="#000" >Plot Layout GP 19/10/2018</text>
<text x="297.7" y="26.2" font-size="17.8" text-anchor="middle" fill="#000" >MMS2</text>
<text x="474.7" y="24.2" font-size="17.8" text-anchor="middle" fill="#990000" font-weight="bold" >20161208_053124</text>
<text x="627.3" y="12.4" font-size="11" text-anchor="start" fill="#000" >Plot layout GP 19/10/2018</text>
<text x="894.2" y="35.2" font-size="17.8" text-anchor="middle" fill="#000" >MMS2</text>
<text x="1071.5" y="24.1" font-size="17.8" text-anchor="middle" fill="#990000" font-weight="bold" >20161208_053124</text>
<path d="M90.4 33.7v10M90.4 168v-10M122.9 33.7v4.5M122.9 168v-4.5M155.4 33.7v4.5M155.4 168v-4.5M187.8 33.7v10M187.8 168v-10M220.3 33.7v4.5M220.3 168v-4.5M252.8 33.7v4.5M252.8 168v-4.5M285.3 33.7v10M285.3 168v-10M317.8 33.7v4.5M317.8 168v-4.5M350.3 33.7v4.5M350.3 168v-4.5M382.7 33.7v10M382.7 168v-10M415.2 33.7v4.5M415.2 168v-4.5M447.7 33.7v4.5M447.7 168v-4.5M480.2 33.7v10M480.2 168v-10M512.7 33.7v4.5M512.7 168v-4.5" stroke="#333" stroke-width="1.1" fill="none"/>
<path d="M90.4 175.8v10M90.4 244.5v-10M122.9 175.8v4.5M122.9 244.5v-4.5M155.4 175.8v4.5M155.4 244.5v-4.5M187.8 175.8v10M187.8 244.5v-10M220.3 175.8v4.5M220.3 244.5v-4.5M252.8 175.8v4.5M252.8 244.5v-4.5M285.3 175.8v10M285.3 244.5v-10M317.8 175.8v4.5M317.8 244.5v-4.5M350.3 175.8v4.5M350.3 244.5v-4.5M382.7 175.8v10M382.7 244.5v-10M415.2 175.8v4.5M415.2 244.5v-4.5M447.7 175.8v4.5M447.7 244.5v-4.5M480.2 175.8v10M480.2 244.5v-10M512.7 175.8v4.5M512.7 244.5v-4.5" stroke="#333" stroke-width="1.1" fill="none"/>
<path d="M90.4 244.5v10M90.4 313.2v-10M122.9 244.5v4.5M122.9 313.2v-4.5M155.4 244.5v4.5M155.4 313.2v-4.5M187.8 244.5v10M187.8 313.2v-10M220.3 244.5v4.5M220.3 313.2v-4.5M252.8 244.5v4.5M252.8 313.2v-4.5M285.3 244.5v10M285.3 313.2v-10M317.8 244.5v4.5M317.8 313.2v-4.5M350.3 244.5v4.5M350.3 313.2v-4.5M382.7 244.5v10M382.7 313.2v-10M415.2 244.5v4.5M415.2 313.2v-4.5M447.7 244.5v4.5M447.7 313.2v-4.5M480.2 244.5v10M480.2 313.2v-10M512.7 244.5v4.5M512.7 313.2v-4.5" stroke="#333" stroke-width="1.1" fill="none"/>
<path d="M90.4 313.2v10M90.4 381.5v-10M122.9 313.2v4.5M122.9 381.5v-4.5M155.4 313.2v4.5M155.4 381.5v-4.5M187.8 313.2v10M187.8 381.5v-10M220.3 313.2v4.5M220.3 381.5v-4.5M252.8 313.2v4.5M252.8 381.5v-4.5M285.3 313.2v10M285.3 381.5v-10M317.8 313.2v4.5M317.8 381.5v-4.5M350.3 313.2v4.5M350.3 381.5v-4.5M382.7 313.2v10M382.7 381.5v-10M415.2 313.2v4.5M415.2 381.5v-4.5M447.7 313.2v4.5M447.7 381.5v-4.5M480.2 313.2v10M480.2 381.5v-10M512.7 313.2v4.5M512.7 381.5v-4.5" stroke="#333" stroke-width="1.1" fill="none"/>
<path d="M90.4 381.5v10M90.4 450v-10M122.9 381.5v4.5M122.9 450v-4.5M155.4 381.5v4.5M155.4 450v-4.5M187.8 381.5v10M187.8 450v-10M220.3 381.5v4.5M220.3 450v-4.5M252.8 381.5v4.5M252.8 450v-4.5M285.3 381.5v10M285.3 450v-10M317.8 381.5v4.5M317.8 450v-4.5M350.3 381.5v4.5M350.3 450v-4.5M382.7 381.5v10M382.7 450v-10M415.2 381.5v4.5M415.2 450v-4.5M447.7 381.5v4.5M447.7 450v-4.5M480.2 381.5v10M480.2 450v-10M512.7 381.5v4.5M512.7 450v-4.5" stroke="#333" stroke-width="1.1" fill="none"/>
<path d="M90.4 450v10M90.4 517.8v-10M122.9 450v4.5M122.9 517.8v-4.5M155.4 450v4.5M155.4 517.8v-4.5M187.8 450v10M187.8 517.8v-10M220.3 450v4.5M220.3 517.8v-4.5M252.8 450v4.5M252.8 517.8v-4.5M285.3 450v10M285.3 517.8v-10M317.8 450v4.5M317.8 517.8v-4.5M350.3 450v4.5M350.3 517.8v-4.5M382.7 450v10M382.7 517.8v-10M415.2 450v4.5M415.2 517.8v-4.5M447.7 450v4.5M447.7 517.8v-4.5M480.2 450v10M480.2 517.8v-10M512.7 450v4.5M512.7 517.8v-4.5" stroke="#333" stroke-width="1.1" fill="none"/>
<path d="M90.4 517.8v10M90.4 586v-10M122.9 517.8v4.5M122.9 586v-4.5M155.4 517.8v4.5M155.4 586v-4.5M187.8 517.8v10M187.8 586v-10M220.3 517.8v4.5M220.3 586v-4.5M252.8 517.8v4.5M252.8 586v-4.5M285.3 517.8v10M285.3 586v-10M317.8 517.8v4.5M317.8 586v-4.5M350.3 517.8v4.5M350.3 586v-4.5M382.7 517.8v10M382.7 586v-10M415.2 517.8v4.5M415.2 586v-4.5M447.7 517.8v4.5M447.7 586v-4.5M480.2 517.8v10M480.2 586v-10M512.7 517.8v4.5M512.7 586v-4.5" stroke="#333" stroke-width="1.1" fill="none"/>
<path d="M90.4 586v10M90.4 654.3v-10M122.9 586v4.5M122.9 654.3v-4.5M155.4 586v4.5M155.4 654.3v-4.5M187.8 586v10M187.8 654.3v-10M220.3 586v4.5M220.3 654.3v-4.5M252.8 586v4.5M252.8 654.3v-4.5M285.3 586v10M285.3 654.3v-10M317.8 586v4.5M317.8 654.3v-4.5M350.3 586v4.5M350.3 654.3v-4.5M382.7 586v10M382.7 654.3v-10M415.2 586v4.5M415.2 654.3v-4.5M447.7 586v4.5M447.7 654.3v-4.5M480.2 586v10M480.2 654.3v-10M512.7 586v4.5M512.7 654.3v-4.5" stroke="#333" stroke-width="1.1" fill="none"/>
<path d="M90.4 654.3v10M90.4 723v-10M122.9 654.3v4.5M122.9 723v-4.5M155.4 654.3v4.5M155.4 723v-4.5M187.8 654.3v10M187.8 723v-10M220.3 654.3v4.5M220.3 723v-4.5M252.8 654.3v4.5M252.8 723v-4.5M285.3 654.3v10M285.3 723v-10M317.8 654.3v4.5M317.8 723v-4.5M350.3 654.3v4.5M350.3 723v-4.5M382.7 654.3v10M382.7 723v-10M415.2 654.3v4.5M415.2 723v-4.5M447.7 654.3v4.5M447.7 723v-4.5M480.2 654.3v10M480.2 723v-10M512.7 654.3v4.5M512.7 723v-4.5" stroke="#333" stroke-width="1.1" fill="none"/>
<rect x="71.6" y="33.7" width="454" height="134.3" fill="none" stroke="#000" stroke-width="1.4"/>
<rect x="71.6" y="175.8" width="454" height="68.7" fill="none" stroke="#000" stroke-width="1.4"/>
<rect x="71.6" y="244.5" width="454" height="68.7" fill="none" stroke="#000" stroke-width="1.4"/>
<rect x="71.6" y="313.2" width="454" height="68.3" fill="none" stroke="#000" stroke-width="1.4"/>
<rect x="71.6" y="381.5" width="454" height="68.5" fill="none" stroke="#000" stroke-width="1.4"/>
<rect x="71.6" y="450" width="454" height="67.8" fill="none" stroke="#000" stroke-width="1.4"/>
<rect x="71.6" y="517.8" width="454" height="68.2" fill="none" stroke="#000" stroke-width="1.4"/>
<rect x="71.6" y="586" width="454" height="68.3" fill="none" stroke="#000" stroke-width="1.4"/>
<rect x="71.6" y="654.3" width="454" height="68.7" fill="none" stroke="#000" stroke-width="1.4"/>
<path d="M687.5 41.4v10M687.5 115.4v-10M720 41.4v4.5M720 115.4v-4.5M752.5 41.4v4.5M752.5 115.4v-4.5M784.9 41.4v10M784.9 115.4v-10M817.4 41.4v4.5M817.4 115.4v-4.5M849.9 41.4v4.5M849.9 115.4v-4.5M882.4 41.4v10M882.4 115.4v-10M914.9 41.4v4.5M914.9 115.4v-4.5M947.4 41.4v4.5M947.4 115.4v-4.5M979.8 41.4v10M979.8 115.4v-10M1012.3 41.4v4.5M1012.3 115.4v-4.5M1044.8 41.4v4.5M1044.8 115.4v-4.5M1077.3 41.4v10M1077.3 115.4v-10M1109.8 41.4v4.5M1109.8 115.4v-4.5" stroke="#333" stroke-width="1.1" fill="none"/>
<path d="M687.5 115.4v10M687.5 189.4v-10M720 115.4v4.5M720 189.4v-4.5M752.5 115.4v4.5M752.5 189.4v-4.5M784.9 115.4v10M784.9 189.4v-10M817.4 115.4v4.5M817.4 189.4v-4.5M849.9 115.4v4.5M849.9 189.4v-4.5M882.4 115.4v10M882.4 189.4v-10M914.9 115.4v4.5M914.9 189.4v-4.5M947.4 115.4v4.5M947.4 189.4v-4.5M979.8 115.4v10M979.8 189.4v-10M1012.3 115.4v4.5M1012.3 189.4v-4.5M1044.8 115.4v4.5M1044.8 189.4v-4.5M1077.3 115.4v10M1077.3 189.4v-10M1109.8 115.4v4.5M1109.8 189.4v-4.5" stroke="#333" stroke-width="1.1" fill="none"/>
<path d="M687.5 189.4v10M687.5 263.3v-10M720 189.4v4.5M720 263.3v-4.5M752.5 189.4v4.5M752.5 263.3v-4.5M784.9 189.4v10M784.9 263.3v-10M817.4 189.4v4.5M817.4 263.3v-4.5M849.9 189.4v4.5M849.9 263.3v-4.5M882.4 189.4v10M882.4 263.3v-10M914.9 189.4v4.5M914.9 263.3v-4.5M947.4 189.4v4.5M947.4 263.3v-4.5M979.8 189.4v10M979.8 263.3v-10M1012.3 189.4v4.5M1012.3 263.3v-4.5M1044.8 189.4v4.5M1044.8 263.3v-4.5M1077.3 189.4v10M1077.3 263.3v-10M1109.8 189.4v4.5M1109.8 263.3v-4.5" stroke="#333" stroke-width="1.1" fill="none"/>
<path d="M687.5 263.3v10M687.5 337.4v-10M720 263.3v4.5M720 337.4v-4.5M752.5 263.3v4.5M752.5 337.4v-4.5M784.9 263.3v10M784.9 337.4v-10M817.4 263.3v4.5M817.4 337.4v-4.5M849.9 263.3v4.5M849.9 337.4v-4.5M882.4 263.3v10M882.4 337.4v-10M914.9 263.3v4.5M914.9 337.4v-4.5M947.4 263.3v4.5M947.4 337.4v-4.5M979.8 263.3v10M979.8 337.4v-10M1012.3 263.3v4.5M1012.3 337.4v-4.5M1044.8 263.3v4.5M1044.8 337.4v-4.5M1077.3 263.3v10M1077.3 337.4v-10M1109.8 263.3v4.5M1109.8 337.4v-4.5" stroke="#333" stroke-width="1.1" fill="none"/>
<path d="M687.5 337.4v10M687.5 411v-10M720 337.4v4.5M720 411v-4.5M752.5 337.4v4.5M752.5 411v-4.5M784.9 337.4v10M784.9 411v-10M817.4 337.4v4.5M817.4 411v-4.5M849.9 337.4v4.5M849.9 411v-4.5M882.4 337.4v10M882.4 411v-10M914.9 337.4v4.5M914.9 411v-4.5M947.4 337.4v4.5M947.4 411v-4.5M979.8 337.4v10M979.8 411v-10M1012.3 337.4v4.5M1012.3 411v-4.5M1044.8 337.4v4.5M1044.8 411v-4.5M1077.3 337.4v10M1077.3 411v-10M1109.8 337.4v4.5M1109.8 411v-4.5" stroke="#333" stroke-width="1.1" fill="none"/>
<path d="M687.5 411v10M687.5 484.5v-10M720 411v4.5M720 484.5v-4.5M752.5 411v4.5M752.5 484.5v-4.5M784.9 411v10M784.9 484.5v-10M817.4 411v4.5M817.4 484.5v-4.5M849.9 411v4.5M849.9 484.5v-4.5M882.4 411v10M882.4 484.5v-10M914.9 411v4.5M914.9 484.5v-4.5M947.4 411v4.5M947.4 484.5v-4.5M979.8 411v10M979.8 484.5v-10M1012.3 411v4.5M1012.3 484.5v-4.5M1044.8 411v4.5M1044.8 484.5v-4.5M1077.3 411v10M1077.3 484.5v-10M1109.8 411v4.5M1109.8 484.5v-4.5" stroke="#333" stroke-width="1.1" fill="none"/>
<path d="M687.5 484.5v10M687.5 558.3v-10M720 484.5v4.5M720 558.3v-4.5M752.5 484.5v4.5M752.5 558.3v-4.5M784.9 484.5v10M784.9 558.3v-10M817.4 484.5v4.5M817.4 558.3v-4.5M849.9 484.5v4.5M849.9 558.3v-4.5M882.4 484.5v10M882.4 558.3v-10M914.9 484.5v4.5M914.9 558.3v-4.5M947.4 484.5v4.5M947.4 558.3v-4.5M979.8 484.5v10M979.8 558.3v-10M1012.3 484.5v4.5M1012.3 558.3v-4.5M1044.8 484.5v4.5M1044.8 558.3v-4.5M1077.3 484.5v10M1077.3 558.3v-10M1109.8 484.5v4.5M1109.8 558.3v-4.5" stroke="#333" stroke-width="1.1" fill="none"/>
<path d="M687.5 558.3v10M687.5 632.7v-10M720 558.3v4.5M720 632.7v-4.5M752.5 558.3v4.5M752.5 632.7v-4.5M784.9 558.3v10M784.9 632.7v-10M817.4 558.3v4.5M817.4 632.7v-4.5M849.9 558.3v4.5M849.9 632.7v-4.5M882.4 558.3v10M882.4 632.7v-10M914.9 558.3v4.5M914.9 632.7v-4.5M947.4 558.3v4.5M947.4 632.7v-4.5M979.8 558.3v10M979.8 632.7v-10M1012.3 558.3v4.5M1012.3 632.7v-4.5M1044.8 558.3v4.5M1044.8 632.7v-4.5M1077.3 558.3v10M1077.3 632.7v-10M1109.8 558.3v4.5M1109.8 632.7v-4.5" stroke="#333" stroke-width="1.1" fill="none"/>
<path d="M687.5 632.7v10M687.5 706.4v-10M720 632.7v4.5M720 706.4v-4.5M752.5 632.7v4.5M752.5 706.4v-4.5M784.9 632.7v10M784.9 706.4v-10M817.4 632.7v4.5M817.4 706.4v-4.5M849.9 632.7v4.5M849.9 706.4v-4.5M882.4 632.7v10M882.4 706.4v-10M914.9 632.7v4.5M914.9 706.4v-4.5M947.4 632.7v4.5M947.4 706.4v-4.5M979.8 632.7v10M979.8 706.4v-10M1012.3 632.7v4.5M1012.3 706.4v-4.5M1044.8 632.7v4.5M1044.8 706.4v-4.5M1077.3 632.7v10M1077.3 706.4v-10M1109.8 632.7v4.5M1109.8 706.4v-4.5" stroke="#333" stroke-width="1.1" fill="none"/>
<rect x="668.3" y="41.4" width="454.1" height="74" fill="none" stroke="#000" stroke-width="1.4"/>
<rect x="668.3" y="115.4" width="454.1" height="74" fill="none" stroke="#000" stroke-width="1.4"/>
<rect x="668.3" y="189.4" width="454.1" height="73.9" fill="none" stroke="#000" stroke-width="1.4"/>
<rect x="668.3" y="263.3" width="454.1" height="74.1" fill="none" stroke="#000" stroke-width="1.4"/>
<rect x="668.3" y="337.4" width="454.1" height="73.6" fill="none" stroke="#000" stroke-width="1.4"/>
<rect x="668.3" y="411" width="454.1" height="73.5" fill="none" stroke="#000" stroke-width="1.4"/>
<rect x="668.3" y="484.5" width="454.1" height="73.8" fill="none" stroke="#000" stroke-width="1.4"/>
<rect x="668.3" y="558.3" width="454.1" height="74.4" fill="none" stroke="#000" stroke-width="1.4"/>
<rect x="668.3" y="632.7" width="454.1" height="73.7" fill="none" stroke="#000" stroke-width="1.4"/>
<path d="M71.6 161.8h2.6M525.6 161.8h-2.6M71.6 154.4h2.6M525.6 154.4h-2.6M71.6 147h2.6M525.6 147h-2.6M71.6 139.6h2.6M525.6 139.6h-2.6M71.6 132.2h2.6M525.6 132.2h-2.6M71.6 124.7h2.6M525.6 124.7h-2.6M71.6 117.3h2.6M525.6 117.3h-2.6M71.6 109.9h2.6M525.6 109.9h-2.6M71.6 102.5h2.6M525.6 102.5h-2.6M71.6 95.1h2.6M525.6 95.1h-2.6M71.6 87.6h2.6M525.6 87.6h-2.6M71.6 80.2h2.6M525.6 80.2h-2.6M71.6 72.8h2.6M525.6 72.8h-2.6M71.6 65.4h2.6M525.6 65.4h-2.6M71.6 58h2.6M525.6 58h-2.6M71.6 50.5h2.6M525.6 50.5h-2.6M71.6 43.1h2.6M525.6 43.1h-2.6M71.6 35.7h2.6M525.6 35.7h-2.6M71.6 35.7h5.5M525.6 35.7h-5.5M71.6 72.8h5.5M525.6 72.8h-5.5M71.6 109.9h5.5M525.6 109.9h-5.5M71.6 147h5.5M525.6 147h-5.5" stroke="#333" stroke-width="1" fill="none"/>
<text x="68.4" y="39.5" font-size="10.5" text-anchor="end" fill="#000" >100</text>
<text x="68.4" y="76.6" font-size="10.5" text-anchor="end" fill="#000" >50</text>
<text x="68.4" y="113.7" font-size="10.5" text-anchor="end" fill="#000" >0</text>
<text x="68.4" y="150.8" font-size="10.5" text-anchor="end" fill="#000" >-50</text>
<path d="M71.6 240.4h2.6M525.6 240.4h-2.6M71.6 235.7h2.6M525.6 235.7h-2.6M71.6 231h2.6M525.6 231h-2.6M71.6 226.3h2.6M525.6 226.3h-2.6M71.6 221.6h2.6M525.6 221.6h-2.6M71.6 217h2.6M525.6 217h-2.6M71.6 212.3h2.6M525.6 212.3h-2.6M71.6 207.6h2.6M525.6 207.6h-2.6M71.6 202.9h2.6M525.6 202.9h-2.6M71.6 198.2h2.6M525.6 198.2h-2.6M71.6 193.6h2.6M525.6 193.6h-2.6M71.6 188.9h2.6M525.6 188.9h-2.6M71.6 184.2h2.6M525.6 184.2h-2.6M71.6 179.5h2.6M525.6 179.5h-2.6M71.6 179.5h5.5M525.6 179.5h-5.5M71.6 188.9h5.5M525.6 188.9h-5.5M71.6 198.2h5.5M525.6 198.2h-5.5M71.6 207.6h5.5M525.6 207.6h-5.5M71.6 217h5.5M525.6 217h-5.5M71.6 226.3h5.5M525.6 226.3h-5.5M71.6 235.7h5.5M525.6 235.7h-5.5" stroke="#333" stroke-width="1" fill="none"/>
<text x="68.4" y="183.3" font-size="10.5" text-anchor="end" fill="#000" >60</text>
<text x="68.4" y="192.7" font-size="10.5" text-anchor="end" fill="#000" >40</text>
<text x="68.4" y="202" font-size="10.5" text-anchor="end" fill="#000" >20</text>
<text x="68.4" y="211.4" font-size="10.5" text-anchor="end" fill="#000" >0</text>
<text x="68.4" y="220.8" font-size="10.5" text-anchor="end" fill="#000" >-20</text>
<text x="68.4" y="230.1" font-size="10.5" text-anchor="end" fill="#000" >-40</text>
<text x="68.4" y="239.5" font-size="10.5" text-anchor="end" fill="#000" >-60</text>
<path d="M71.6 309.6h2.6M525.6 309.6h-2.6M71.6 306.9h2.6M525.6 306.9h-2.6M71.6 305h2.6M525.6 305h-2.6M71.6 303.6h2.6M525.6 303.6h-2.6M71.6 302.4h2.6M525.6 302.4h-2.6M71.6 301.4h2.6M525.6 301.4h-2.6M71.6 300.5h2.6M525.6 300.5h-2.6M71.6 299.7h2.6M525.6 299.7h-2.6M71.6 294.4h2.6M525.6 294.4h-2.6M71.6 291.7h2.6M525.6 291.7h-2.6M71.6 289.8h2.6M525.6 289.8h-2.6M71.6 288.4h2.6M525.6 288.4h-2.6M71.6 287.2h2.6M525.6 287.2h-2.6M71.6 286.2h2.6M525.6 286.2h-2.6M71.6 285.3h2.6M525.6 285.3h-2.6M71.6 284.5h2.6M525.6 284.5h-2.6M71.6 279.2h2.6M525.6 279.2h-2.6M71.6 276.5h2.6M525.6 276.5h-2.6M71.6 274.6h2.6M525.6 274.6h-2.6M71.6 273.2h2.6M525.6 273.2h-2.6M71.6 272h2.6M525.6 272h-2.6M71.6 271h2.6M525.6 271h-2.6M71.6 270.1h2.6M525.6 270.1h-2.6M71.6 269.3h2.6M525.6 269.3h-2.6M71.6 264h2.6M525.6 264h-2.6M71.6 261.3h2.6M525.6 261.3h-2.6M71.6 259.4h2.6M525.6 259.4h-2.6M71.6 258h2.6M525.6 258h-2.6M71.6 256.8h2.6M525.6 256.8h-2.6M71.6 255.8h2.6M525.6 255.8h-2.6M71.6 254.9h2.6M525.6 254.9h-2.6M71.6 254.1h2.6M525.6 254.1h-2.6M71.6 248.8h2.6M525.6 248.8h-2.6M71.6 246.1h2.6M525.6 246.1h-2.6M71.6 253.4h5.5M525.6 253.4h-5.5M71.6 268.6h5.5M525.6 268.6h-5.5M71.6 283.8h5.5M525.6 283.8h-5.5M71.6 299h5.5M525.6 299h-5.5" stroke="#333" stroke-width="1" fill="none"/>
<text x="528.8" y="257.2" font-size="10.5" text-anchor="start" fill="#000" >10<tspan font-size="8.8" dy="-5">4</tspan></text>
<text x="528.8" y="272.4" font-size="10.5" text-anchor="start" fill="#000" >10<tspan font-size="8.8" dy="-5">3</tspan></text>
<text x="528.8" y="287.6" font-size="10.5" text-anchor="start" fill="#000" >10<tspan font-size="8.8" dy="-5">2</tspan></text>
<text x="528.8" y="302.8" font-size="10.5" text-anchor="start" fill="#000" >10<tspan font-size="8.8" dy="-5">1</tspan></text>
<path d="M71.6 379.1h2.6M525.6 379.1h-2.6M71.6 375.9h2.6M525.6 375.9h-2.6M71.6 372.6h2.6M525.6 372.6h-2.6M71.6 369.3h2.6M525.6 369.3h-2.6M71.6 366h2.6M525.6 366h-2.6M71.6 362.7h2.6M525.6 362.7h-2.6M71.6 359.5h2.6M525.6 359.5h-2.6M71.6 356.2h2.6M525.6 356.2h-2.6M71.6 352.9h2.6M525.6 352.9h-2.6M71.6 349.6h2.6M525.6 349.6h-2.6M71.6 346.3h2.6M525.6 346.3h-2.6M71.6 343.1h2.6M525.6 343.1h-2.6M71.6 339.8h2.6M525.6 339.8h-2.6M71.6 336.5h2.6M525.6 336.5h-2.6M71.6 333.2h2.6M525.6 333.2h-2.6M71.6 329.9h2.6M525.6 329.9h-2.6M71.6 326.7h2.6M525.6 326.7h-2.6M71.6 323.4h2.6M525.6 323.4h-2.6M71.6 320.1h2.6M525.6 320.1h-2.6M71.6 316.8h2.6M525.6 316.8h-2.6M71.6 320.1h5.5M525.6 320.1h-5.5M71.6 336.5h5.5M525.6 336.5h-5.5M71.6 352.9h5.5M525.6 352.9h-5.5M71.6 369.3h5.5M525.6 369.3h-5.5" stroke="#333" stroke-width="1" fill="none"/>
<text x="68.4" y="323.9" font-size="10.5" text-anchor="end" fill="#000" >250</text>
<text x="68.4" y="340.3" font-size="10.5" text-anchor="end" fill="#000" >200</text>
<text x="68.4" y="356.7" font-size="10.5" text-anchor="end" fill="#000" >150</text>
<text x="68.4" y="373.1" font-size="10.5" text-anchor="end" fill="#000" >100</text>
<path d="M71.6 448.2h2.6M525.6 448.2h-2.6M71.6 445.2h2.6M525.6 445.2h-2.6M71.6 442.2h2.6M525.6 442.2h-2.6M71.6 439.2h2.6M525.6 439.2h-2.6M71.6 436.2h2.6M525.6 436.2h-2.6M71.6 433.2h2.6M525.6 433.2h-2.6M71.6 430.2h2.6M525.6 430.2h-2.6M71.6 427.2h2.6M525.6 427.2h-2.6M71.6 424.2h2.6M525.6 424.2h-2.6M71.6 421.2h2.6M525.6 421.2h-2.6M71.6 418.2h2.6M525.6 418.2h-2.6M71.6 415.2h2.6M525.6 415.2h-2.6M71.6 412.2h2.6M525.6 412.2h-2.6M71.6 409.2h2.6M525.6 409.2h-2.6M71.6 406.2h2.6M525.6 406.2h-2.6M71.6 403.2h2.6M525.6 403.2h-2.6M71.6 400.2h2.6M525.6 400.2h-2.6M71.6 397.2h2.6M525.6 397.2h-2.6M71.6 394.2h2.6M525.6 394.2h-2.6M71.6 391.2h2.6M525.6 391.2h-2.6M71.6 388.2h2.6M525.6 388.2h-2.6M71.6 385.2h2.6M525.6 385.2h-2.6M71.6 394.2h5.5M525.6 394.2h-5.5M71.6 409.2h5.5M525.6 409.2h-5.5M71.6 424.2h5.5M525.6 424.2h-5.5M71.6 439.2h5.5M525.6 439.2h-5.5" stroke="#333" stroke-width="1" fill="none"/>
<text x="528.8" y="398" font-size="10.5" text-anchor="start" fill="#000" >100</text>
<text x="528.8" y="413" font-size="10.5" text-anchor="start" fill="#000" >0</text>
<text x="528.8" y="428" font-size="10.5" text-anchor="start" fill="#000" >-100</text>
<text x="528.8" y="443" font-size="10.5" text-anchor="start" fill="#000" >-200</text>
<path d="M71.6 515.7h2.6M525.6 515.7h-2.6M71.6 512.6h2.6M525.6 512.6h-2.6M71.6 509.6h2.6M525.6 509.6h-2.6M71.6 506.5h2.6M525.6 506.5h-2.6M71.6 503.4h2.6M525.6 503.4h-2.6M71.6 500.4h2.6M525.6 500.4h-2.6M71.6 497.3h2.6M525.6 497.3h-2.6M71.6 494.2h2.6M525.6 494.2h-2.6M71.6 491.2h2.6M525.6 491.2h-2.6M71.6 488.1h2.6M525.6 488.1h-2.6M71.6 485.1h2.6M525.6 485.1h-2.6M71.6 482h2.6M525.6 482h-2.6M71.6 478.9h2.6M525.6 478.9h-2.6M71.6 475.9h2.6M525.6 475.9h-2.6M71.6 472.8h2.6M525.6 472.8h-2.6M71.6 469.8h2.6M525.6 469.8h-2.6M71.6 466.7h2.6M525.6 466.7h-2.6M71.6 463.6h2.6M525.6 463.6h-2.6M71.6 460.6h2.6M525.6 460.6h-2.6M71.6 457.5h2.6M525.6 457.5h-2.6M71.6 454.4h2.6M525.6 454.4h-2.6M71.6 451.4h2.6M525.6 451.4h-2.6M71.6 457.5h5.5M525.6 457.5h-5.5M71.6 469.8h5.5M525.6 469.8h-5.5M71.6 482h5.5M525.6 482h-5.5M71.6 494.2h5.5M525.6 494.2h-5.5M71.6 506.5h5.5M525.6 506.5h-5.5" stroke="#333" stroke-width="1" fill="none"/>
<text x="68.4" y="461.3" font-size="10.5" text-anchor="end" fill="#000" >140</text>
<text x="68.4" y="473.6" font-size="10.5" text-anchor="end" fill="#000" >120</text>
<text x="68.4" y="485.8" font-size="10.5" text-anchor="end" fill="#000" >100</text>
<text x="68.4" y="498.1" font-size="10.5" text-anchor="end" fill="#000" >80</text>
<text x="68.4" y="510.3" font-size="10.5" text-anchor="end" fill="#000" >60</text>
<path d="M71.6 583.2h2.6M525.6 583.2h-2.6M71.6 579.3h2.6M525.6 579.3h-2.6M71.6 575.5h2.6M525.6 575.5h-2.6M71.6 571.6h2.6M525.6 571.6h-2.6M71.6 567.8h2.6M525.6 567.8h-2.6M71.6 564h2.6M525.6 564h-2.6M71.6 560.1h2.6M525.6 560.1h-2.6M71.6 556.3h2.6M525.6 556.3h-2.6M71.6 552.4h2.6M525.6 552.4h-2.6M71.6 548.6h2.6M525.6 548.6h-2.6M71.6 544.8h2.6M525.6 544.8h-2.6M71.6 540.9h2.6M525.6 540.9h-2.6M71.6 537.1h2.6M525.6 537.1h-2.6M71.6 533.2h2.6M525.6 533.2h-2.6M71.6 529.4h2.6M525.6 529.4h-2.6M71.6 525.6h2.6M525.6 525.6h-2.6M71.6 521.7h2.6M525.6 521.7h-2.6M71.6 529.4h5.5M525.6 529.4h-5.5M71.6 548.6h5.5M525.6 548.6h-5.5M71.6 567.8h5.5M525.6 567.8h-5.5" stroke="#333" stroke-width="1" fill="none"/>
<text x="528.8" y="533.2" font-size="10.5" text-anchor="start" fill="#000" >3</text>
<text x="528.8" y="552.4" font-size="10.5" text-anchor="start" fill="#000" >2</text>
<text x="528.8" y="571.6" font-size="10.5" text-anchor="start" fill="#000" >1</text>
<path d="M71.6 589.5h2.8M525.6 589.5h-2.8M71.6 596.6h2.8M525.6 596.6h-2.8M71.6 604.7h2.8M525.6 604.7h-2.8M71.6 614.2h2.8M525.6 614.2h-2.8M71.6 627.1h2.8M525.6 627.1h-2.8M71.6 645.1h2.8M525.6 645.1h-2.8" stroke="#333" stroke-width="1" fill="none"/>
<path d="M71.6 721.4h2.6M525.6 721.4h-2.6M71.6 717.8h2.6M525.6 717.8h-2.6M71.6 714.3h2.6M525.6 714.3h-2.6M71.6 710.7h2.6M525.6 710.7h-2.6M71.6 707.2h2.6M525.6 707.2h-2.6M71.6 703.6h2.6M525.6 703.6h-2.6M71.6 700h2.6M525.6 700h-2.6M71.6 696.5h2.6M525.6 696.5h-2.6M71.6 692.9h2.6M525.6 692.9h-2.6M71.6 689.4h2.6M525.6 689.4h-2.6M71.6 685.8h2.6M525.6 685.8h-2.6M71.6 682.2h2.6M525.6 682.2h-2.6M71.6 678.7h2.6M525.6 678.7h-2.6M71.6 675.1h2.6M525.6 675.1h-2.6M71.6 671.6h2.6M525.6 671.6h-2.6M71.6 668h2.6M525.6 668h-2.6M71.6 664.4h2.6M525.6 664.4h-2.6M71.6 660.9h2.6M525.6 660.9h-2.6M71.6 657.3h2.6M525.6 657.3h-2.6M71.6 664.4h5.5M525.6 664.4h-5.5M71.6 678.7h5.5M525.6 678.7h-5.5M71.6 692.9h5.5M525.6 692.9h-5.5M71.6 707.2h5.5M525.6 707.2h-5.5M71.6 721.4h5.5M525.6 721.4h-5.5" stroke="#333" stroke-width="1" fill="none"/>
<text x="528.8" y="668.2" font-size="10.5" text-anchor="start" fill="#000" >8</text>
<text x="528.8" y="682.5" font-size="10.5" text-anchor="start" fill="#000" >6</text>
<text x="528.8" y="696.7" font-size="10.5" text-anchor="start" fill="#000" >4</text>
<text x="528.8" y="711" font-size="10.5" text-anchor="start" fill="#000" >2</text>
<text x="528.8" y="725.2" font-size="10.5" text-anchor="start" fill="#000" >0</text>
<path d="M668.3 113.6h2.6M1122.4 113.6h-2.6M668.3 111h2.6M1122.4 111h-2.6M668.3 108.5h2.6M1122.4 108.5h-2.6M668.3 106h2.6M1122.4 106h-2.6M668.3 103.5h2.6M1122.4 103.5h-2.6M668.3 101h2.6M1122.4 101h-2.6M668.3 98.5h2.6M1122.4 98.5h-2.6M668.3 95.9h2.6M1122.4 95.9h-2.6M668.3 93.4h2.6M1122.4 93.4h-2.6M668.3 90.9h2.6M1122.4 90.9h-2.6M668.3 88.4h2.6M1122.4 88.4h-2.6M668.3 85.9h2.6M1122.4 85.9h-2.6M668.3 83.4h2.6M1122.4 83.4h-2.6M668.3 80.8h2.6M1122.4 80.8h-2.6M668.3 78.3h2.6M1122.4 78.3h-2.6M668.3 75.8h2.6M1122.4 75.8h-2.6M668.3 73.3h2.6M1122.4 73.3h-2.6M668.3 70.8h2.6M1122.4 70.8h-2.6M668.3 68.2h2.6M1122.4 68.2h-2.6M668.3 65.7h2.6M1122.4 65.7h-2.6M668.3 63.2h2.6M1122.4 63.2h-2.6M668.3 60.7h2.6M1122.4 60.7h-2.6M668.3 58.2h2.6M1122.4 58.2h-2.6M668.3 55.7h2.6M1122.4 55.7h-2.6M668.3 53.1h2.6M1122.4 53.1h-2.6M668.3 50.6h2.6M1122.4 50.6h-2.6M668.3 48.1h2.6M1122.4 48.1h-2.6M668.3 45.6h2.6M1122.4 45.6h-2.6M668.3 43.1h2.6M1122.4 43.1h-2.6M668.3 45.6h5.5M1122.4 45.6h-5.5M668.3 55.7h5.5M1122.4 55.7h-5.5M668.3 65.7h5.5M1122.4 65.7h-5.5M668.3 75.8h5.5M1122.4 75.8h-5.5M668.3 85.9h5.5M1122.4 85.9h-5.5M668.3 95.9h5.5M1122.4 95.9h-5.5M668.3 106h5.5M1122.4 106h-5.5" stroke="#333" stroke-width="1" fill="none"/>
<text x="665.1" y="49.4" font-size="10.5" text-anchor="end" fill="#000" >60</text>
<text x="665.1" y="59.5" font-size="10.5" text-anchor="end" fill="#000" >40</text>
<text x="665.1" y="69.5" font-size="10.5" text-anchor="end" fill="#000" >20</text>
<text x="665.1" y="79.6" font-size="10.5" text-anchor="end" fill="#000" >0</text>
<text x="665.1" y="89.7" font-size="10.5" text-anchor="end" fill="#000" >-20</text>
<text x="665.1" y="99.7" font-size="10.5" text-anchor="end" fill="#000" >-40</text>
<text x="665.1" y="109.8" font-size="10.5" text-anchor="end" fill="#000" >-60</text>
<path d="M668.3 187.6h2.6M1122.4 187.6h-2.6M668.3 186.4h2.6M1122.4 186.4h-2.6M668.3 185.4h2.6M1122.4 185.4h-2.6M668.3 178.5h2.6M1122.4 178.5h-2.6M668.3 175h2.6M1122.4 175h-2.6M668.3 172.5h2.6M1122.4 172.5h-2.6M668.3 170.6h2.6M1122.4 170.6h-2.6M668.3 169h2.6M1122.4 169h-2.6M668.3 167.7h2.6M1122.4 167.7h-2.6M668.3 166.5h2.6M1122.4 166.5h-2.6M668.3 165.5h2.6M1122.4 165.5h-2.6M668.3 158.6h2.6M1122.4 158.6h-2.6M668.3 155.1h2.6M1122.4 155.1h-2.6M668.3 152.6h2.6M1122.4 152.6h-2.6M668.3 150.7h2.6M1122.4 150.7h-2.6M668.3 149.1h2.6M1122.4 149.1h-2.6M668.3 147.8h2.6M1122.4 147.8h-2.6M668.3 146.6h2.6M1122.4 146.6h-2.6M668.3 145.6h2.6M1122.4 145.6h-2.6M668.3 138.7h2.6M1122.4 138.7h-2.6M668.3 135.2h2.6M1122.4 135.2h-2.6M668.3 132.7h2.6M1122.4 132.7h-2.6M668.3 130.8h2.6M1122.4 130.8h-2.6M668.3 129.2h2.6M1122.4 129.2h-2.6M668.3 127.9h2.6M1122.4 127.9h-2.6M668.3 126.7h2.6M1122.4 126.7h-2.6M668.3 125.7h2.6M1122.4 125.7h-2.6M668.3 118.8h2.6M1122.4 118.8h-2.6M668.3 124.8h5.5M1122.4 124.8h-5.5M668.3 144.7h5.5M1122.4 144.7h-5.5M668.3 164.6h5.5M1122.4 164.6h-5.5M668.3 184.5h5.5M1122.4 184.5h-5.5" stroke="#333" stroke-width="1" fill="none"/>
<text x="1125.6" y="128.6" font-size="10.5" text-anchor="start" fill="#000" >10<tspan font-size="8.8" dy="-5">4</tspan></text>
<text x="1125.6" y="148.5" font-size="10.5" text-anchor="start" fill="#000" >10<tspan font-size="8.8" dy="-5">3</tspan></text>
<text x="1125.6" y="168.4" font-size="10.5" text-anchor="start" fill="#000" >10<tspan font-size="8.8" dy="-5">2</tspan></text>
<text x="1125.6" y="188.3" font-size="10.5" text-anchor="start" fill="#000" >10<tspan font-size="8.8" dy="-5">1</tspan></text>
<path d="M668.3 257.4h2.6M1122.4 257.4h-2.6M668.3 251.7h2.6M1122.4 251.7h-2.6M668.3 246.1h2.6M1122.4 246.1h-2.6M668.3 240.5h2.6M1122.4 240.5h-2.6M668.3 234.8h2.6M1122.4 234.8h-2.6M668.3 229.2h2.6M1122.4 229.2h-2.6M668.3 223.6h2.6M1122.4 223.6h-2.6M668.3 218h2.6M1122.4 218h-2.6M668.3 212.3h2.6M1122.4 212.3h-2.6M668.3 206.7h2.6M1122.4 206.7h-2.6M668.3 201.1h2.6M1122.4 201.1h-2.6M668.3 195.5h2.6M1122.4 195.5h-2.6M668.3 201.1h5.5M1122.4 201.1h-5.5M668.3 223.6h5.5M1122.4 223.6h-5.5M668.3 246.1h5.5M1122.4 246.1h-5.5" stroke="#333" stroke-width="1" fill="none"/>
<text x="665.1" y="204.9" font-size="10.5" text-anchor="end" fill="#000" >200</text>
<text x="665.1" y="227.4" font-size="10.5" text-anchor="end" fill="#000" >0</text>
<text x="665.1" y="249.9" font-size="10.5" text-anchor="end" fill="#000" >-200</text>
<path d="M668.3 275.3h2.8M1122.4 275.3h-2.8M668.3 289.2h2.8M1122.4 289.2h-2.8M668.3 305.3h2.8M1122.4 305.3h-2.8M668.3 324.5h2.8M1122.4 324.5h-2.8" stroke="#333" stroke-width="1" fill="none"/>
<path d="M668.3 406.5h2.6M1122.4 406.5h-2.6M668.3 402h2.6M1122.4 402h-2.6M668.3 397.5h2.6M1122.4 397.5h-2.6M668.3 392.9h2.6M1122.4 392.9h-2.6M668.3 388.4h2.6M1122.4 388.4h-2.6M668.3 383.8h2.6M1122.4 383.8h-2.6M668.3 379.3h2.6M1122.4 379.3h-2.6M668.3 374.8h2.6M1122.4 374.8h-2.6M668.3 370.2h2.6M1122.4 370.2h-2.6M668.3 365.7h2.6M1122.4 365.7h-2.6M668.3 361.1h2.6M1122.4 361.1h-2.6M668.3 356.6h2.6M1122.4 356.6h-2.6M668.3 352.1h2.6M1122.4 352.1h-2.6M668.3 347.5h2.6M1122.4 347.5h-2.6M668.3 343h2.6M1122.4 343h-2.6M668.3 338.4h2.6M1122.4 338.4h-2.6M668.3 356.6h5.5M1122.4 356.6h-5.5M668.3 379.3h5.5M1122.4 379.3h-5.5M668.3 402h5.5M1122.4 402h-5.5" stroke="#333" stroke-width="1" fill="none"/>
<text x="665.1" y="360.4" font-size="10.5" text-anchor="end" fill="#000" >10</text>
<text x="665.1" y="383.1" font-size="10.5" text-anchor="end" fill="#000" >0</text>
<text x="665.1" y="405.8" font-size="10.5" text-anchor="end" fill="#000" >-10</text>
<path d="M668.3 482.5h2.6M1122.4 482.5h-2.6M668.3 477.6h2.6M1122.4 477.6h-2.6M668.3 472.7h2.6M1122.4 472.7h-2.6M668.3 467.8h2.6M1122.4 467.8h-2.6M668.3 462.9h2.6M1122.4 462.9h-2.6M668.3 458h2.6M1122.4 458h-2.6M668.3 453.1h2.6M1122.4 453.1h-2.6M668.3 448.2h2.6M1122.4 448.2h-2.6M668.3 443.3h2.6M1122.4 443.3h-2.6M668.3 438.4h2.6M1122.4 438.4h-2.6M668.3 433.5h2.6M1122.4 433.5h-2.6M668.3 428.6h2.6M1122.4 428.6h-2.6M668.3 423.7h2.6M1122.4 423.7h-2.6M668.3 418.8h2.6M1122.4 418.8h-2.6M668.3 413.9h2.6M1122.4 413.9h-2.6M668.3 423.7h5.5M1122.4 423.7h-5.5M668.3 448.2h5.5M1122.4 448.2h-5.5M668.3 472.7h5.5M1122.4 472.7h-5.5" stroke="#333" stroke-width="1" fill="none"/>
<text x="1125.6" y="427.5" font-size="10.5" text-anchor="start" fill="#000" >10</text>
<text x="1125.6" y="452" font-size="10.5" text-anchor="start" fill="#000" >0</text>
<text x="1125.6" y="476.5" font-size="10.5" text-anchor="start" fill="#000" >-10</text>
<path d="M668.3 555.7h2.6M1122.4 555.7h-2.6M668.3 552.7h2.6M1122.4 552.7h-2.6M668.3 549.6h2.6M1122.4 549.6h-2.6M668.3 546.6h2.6M1122.4 546.6h-2.6M668.3 543.5h2.6M1122.4 543.5h-2.6M668.3 540.4h2.6M1122.4 540.4h-2.6M668.3 537.4h2.6M1122.4 537.4h-2.6M668.3 534.3h2.6M1122.4 534.3h-2.6M668.3 531.3h2.6M1122.4 531.3h-2.6M668.3 528.2h2.6M1122.4 528.2h-2.6M668.3 525.1h2.6M1122.4 525.1h-2.6M668.3 522.1h2.6M1122.4 522.1h-2.6M668.3 519h2.6M1122.4 519h-2.6M668.3 516h2.6M1122.4 516h-2.6M668.3 512.9h2.6M1122.4 512.9h-2.6M668.3 509.8h2.6M1122.4 509.8h-2.6M668.3 506.8h2.6M1122.4 506.8h-2.6M668.3 503.7h2.6M1122.4 503.7h-2.6M668.3 500.7h2.6M1122.4 500.7h-2.6M668.3 497.6h2.6M1122.4 497.6h-2.6M668.3 494.5h2.6M1122.4 494.5h-2.6M668.3 491.5h2.6M1122.4 491.5h-2.6M668.3 488.4h2.6M1122.4 488.4h-2.6M668.3 485.4h2.6M1122.4 485.4h-2.6M668.3 497.6h5.5M1122.4 497.6h-5.5M668.3 512.9h5.5M1122.4 512.9h-5.5M668.3 528.2h5.5M1122.4 528.2h-5.5M668.3 543.5h5.5M1122.4 543.5h-5.5" stroke="#333" stroke-width="1" fill="none"/>
<text x="665.1" y="501.4" font-size="10.5" text-anchor="end" fill="#000" >4</text>
<text x="665.1" y="516.7" font-size="10.5" text-anchor="end" fill="#000" >3</text>
<text x="665.1" y="532" font-size="10.5" text-anchor="end" fill="#000" >2</text>
<text x="665.1" y="547.3" font-size="10.5" text-anchor="end" fill="#000" >1</text>
<path d="M668.3 629.9h2.6M1122.4 629.9h-2.6M668.3 624.9h2.6M1122.4 624.9h-2.6M668.3 620h2.6M1122.4 620h-2.6M668.3 615h2.6M1122.4 615h-2.6M668.3 610.1h2.6M1122.4 610.1h-2.6M668.3 605.1h2.6M1122.4 605.1h-2.6M668.3 600.2h2.6M1122.4 600.2h-2.6M668.3 595.2h2.6M1122.4 595.2h-2.6M668.3 590.3h2.6M1122.4 590.3h-2.6M668.3 585.3h2.6M1122.4 585.3h-2.6M668.3 580.4h2.6M1122.4 580.4h-2.6M668.3 575.4h2.6M1122.4 575.4h-2.6M668.3 570.5h2.6M1122.4 570.5h-2.6M668.3 565.5h2.6M1122.4 565.5h-2.6M668.3 560.6h2.6M1122.4 560.6h-2.6M668.3 570.5h5.5M1122.4 570.5h-5.5M668.3 590.3h5.5M1122.4 590.3h-5.5M668.3 610.1h5.5M1122.4 610.1h-5.5M668.3 629.9h5.5M1122.4 629.9h-5.5" stroke="#333" stroke-width="1" fill="none"/>
<text x="1125.6" y="574.3" font-size="10.5" text-anchor="start" fill="#000" >2</text>
<text x="1125.6" y="594.1" font-size="10.5" text-anchor="start" fill="#000" >0</text>
<text x="1125.6" y="613.9" font-size="10.5" text-anchor="start" fill="#000" >-2</text>
<text x="1125.6" y="633.7" font-size="10.5" text-anchor="start" fill="#000" >-4</text>
<path d="M668.3 702.8h2.6M1122.4 702.8h-2.6M668.3 699h2.6M1122.4 699h-2.6M668.3 695.2h2.6M1122.4 695.2h-2.6M668.3 691.4h2.6M1122.4 691.4h-2.6M668.3 687.6h2.6M1122.4 687.6h-2.6M668.3 683.8h2.6M1122.4 683.8h-2.6M668.3 680h2.6M1122.4 680h-2.6M668.3 676.2h2.6M1122.4 676.2h-2.6M668.3 672.4h2.6M1122.4 672.4h-2.6M668.3 668.6h2.6M1122.4 668.6h-2.6M668.3 664.8h2.6M1122.4 664.8h-2.6M668.3 661h2.6M1122.4 661h-2.6M668.3 657.2h2.6M1122.4 657.2h-2.6M668.3 653.4h2.6M1122.4 653.4h-2.6M668.3 649.6h2.6M1122.4 649.6h-2.6M668.3 645.8h2.6M1122.4 645.8h-2.6M668.3 642h2.6M1122.4 642h-2.6M668.3 638.2h2.6M1122.4 638.2h-2.6M668.3 634.4h2.6M1122.4 634.4h-2.6M668.3 634.4h5.5M1122.4 634.4h-5.5M668.3 653.4h5.5M1122.4 653.4h-5.5M668.3 672.4h5.5M1122.4 672.4h-5.5M668.3 691.4h5.5M1122.4 691.4h-5.5" stroke="#333" stroke-width="1" fill="none"/>
<text x="665.1" y="638.2" font-size="10.5" text-anchor="end" fill="#000" >15</text>
<text x="665.1" y="657.2" font-size="10.5" text-anchor="end" fill="#000" >10</text>
<text x="665.1" y="676.2" font-size="10.5" text-anchor="end" fill="#000" >5</text>
<text x="665.1" y="695.2" font-size="10.5" text-anchor="end" fill="#000" >0</text>
<text transform="translate(46.3,101) rotate(-90)" font-size="11.5" text-anchor="middle" fill="#000" xml:space="preserve">B<tspan font-size="8.5" dy="3.4">L</tspan><tspan dy="-3.4">,|B| [nT]</tspan></text>
<text transform="translate(43.3,211) rotate(-90)" font-size="11.5" text-anchor="middle" fill="#000" xml:space="preserve">B<tspan font-size="8.5" dy="3.4">LMN</tspan><tspan dy="-3.4"> [nT]</tspan></text>
<text transform="translate(558.3,279) rotate(-90)" font-size="11.5" text-anchor="middle" fill="#000" xml:space="preserve">Energy (eV)</text>
<text transform="translate(43.3,347) rotate(-90)" font-size="11.5" text-anchor="middle" fill="#000" xml:space="preserve">| V<tspan font-size="8.5" dy="3.4">i</tspan><tspan dy="-3.4"> | [km/s]</tspan></text>
<text transform="translate(562.5,416) rotate(-90)" font-size="11.5" text-anchor="middle" fill="#000" xml:space="preserve">V<tspan font-size="8.5" dy="3.4">i LMN</tspan><tspan dy="-3.4"> [km/s]</tspan></text>
<text transform="translate(46.3,484) rotate(-90)" font-size="11.5" text-anchor="middle" fill="#000" xml:space="preserve">N [cm<tspan font-size="8.5" dy="-4.4">-3</tspan><tspan dy="4.4">]</tspan></text>
<text transform="translate(559.3,552) rotate(-90)" font-size="11.5" text-anchor="middle" fill="#000" xml:space="preserve">N<tspan font-size="8.5" dy="3.4">i</tspan><tspan dy="-3.4"> [cm</tspan><tspan font-size="8.5" dy="-4.4">-3</tspan><tspan dy="4.4">]</tspan></text>
<text transform="translate(38.8,620.5) rotate(-90)" font-size="11.5" text-anchor="middle" fill="#000" xml:space="preserve">T<tspan font-size="8.5" dy="3.4">i</tspan><tspan dy="-3.4"> [eV]</tspan></text>
<text transform="translate(562.5,688.5) rotate(-90)" font-size="11.5" text-anchor="middle" fill="#000" xml:space="preserve">P [nPa]</text>
<text transform="translate(640.2,78.5) rotate(-90)" font-size="11.5" text-anchor="middle" fill="#000" xml:space="preserve">B<tspan font-size="8.5" dy="3.4">LMN</tspan><tspan dy="-3.4"> [nT]</tspan></text>
<text transform="translate(1155.3,152) rotate(-90)" font-size="11.5" text-anchor="middle" fill="#000" xml:space="preserve">Energy (eV)</text>
<text transform="translate(638.2,227.5) rotate(-90)" font-size="11.5" text-anchor="middle" fill="#000" xml:space="preserve">V<tspan font-size="8.5" dy="3.4">e LMN</tspan><tspan dy="-3.4"> [km/s]</tspan></text>
<text transform="translate(1160.3,301) rotate(-90)" font-size="11.5" text-anchor="middle" fill="#000" xml:space="preserve">T<tspan font-size="8.5" dy="3.4">e</tspan><tspan dy="-3.4"> [eV]</tspan></text>
<text transform="translate(643.2,374) rotate(-90)" font-size="11.5" text-anchor="middle" fill="#000" xml:space="preserve">E<tspan font-size="8.5" dy="3.4">LMN</tspan><tspan dy="-3.4">  [mV m</tspan><tspan font-size="8.5" dy="-4.4">-1</tspan><tspan dy="4.4">]</tspan></text>
<text transform="translate(1155.3,448) rotate(-90)" font-size="11.5" text-anchor="middle" fill="#000" xml:space="preserve">E<tspan font-size="8.5" dy="3.4">M</tspan><tspan dy="-3.4"> [mW m</tspan><tspan font-size="8.5" dy="-4.4">-2</tspan><tspan dy="4.4">]</tspan></text>
<text transform="translate(646.2,522) rotate(-90)" font-size="11.5" text-anchor="middle" fill="#000" xml:space="preserve">|J| [µA m<tspan font-size="8.5" dy="-4.4">-2</tspan><tspan dy="4.4">]</tspan></text>
<text transform="translate(1160.3,595) rotate(-90)" font-size="11.5" text-anchor="middle" fill="#000" xml:space="preserve">J [µA m<tspan font-size="8.5" dy="-4.4">-2</tspan><tspan dy="4.4">]</tspan></text>
<text transform="translate(643.2,669) rotate(-90)" font-size="11.5" text-anchor="middle" fill="#000" xml:space="preserve">J*E' [nW m<tspan font-size="8.5" dy="-4.4">-3</tspan><tspan dy="4.4">]</tspan></text>
<text x="90.4" y="740.2" font-size="11" text-anchor="middle" fill="#000" >05:31:30</text>
<text x="687.5" y="723.6" font-size="11" text-anchor="middle" fill="#000" >05:31:30</text>
<text x="187.8" y="740.2" font-size="11" text-anchor="middle" fill="#000" >05:32:00</text>
<text x="784.9" y="723.6" font-size="11" text-anchor="middle" fill="#000" >05:32:00</text>
<text x="285.3" y="740.2" font-size="11" text-anchor="middle" fill="#000" >05:32:30</text>
<text x="882.4" y="723.6" font-size="11" text-anchor="middle" fill="#000" >05:32:30</text>
<text x="382.7" y="740.2" font-size="11" text-anchor="middle" fill="#000" >05:33:00</text>
<text x="979.8" y="723.6" font-size="11" text-anchor="middle" fill="#000" >05:33:00</text>
<text x="480.2" y="740.2" font-size="11" text-anchor="middle" fill="#000" >05:33:30</text>
<text x="1077.3" y="723.6" font-size="11" text-anchor="middle" fill="#000" >05:33:30</text>
<text x="53.5" y="761.2" font-size="11" text-anchor="middle" fill="#000" >X</text>
<text x="650.5" y="746.2" font-size="11" text-anchor="middle" fill="#000" >X</text>
<text x="89.9" y="761.2" font-size="11" text-anchor="middle" fill="#000" >9.83</text>
<text x="687" y="746.2" font-size="11" text-anchor="middle" fill="#000" >9.83</text>
<text x="187.3" y="761.2" font-size="11" text-anchor="middle" fill="#000" >9.84</text>
<text x="784.4" y="746.2" font-size="11" text-anchor="middle" fill="#000" >9.84</text>
<text x="284.8" y="761.2" font-size="11" text-anchor="middle" fill="#000" >9.85</text>
<text x="881.9" y="746.2" font-size="11" text-anchor="middle" fill="#000" >9.85</text>
<text x="382.2" y="761.2" font-size="11" text-anchor="middle" fill="#000" >9.85</text>
<text x="979.3" y="746.2" font-size="11" text-anchor="middle" fill="#000" >9.85</text>
<text x="479.7" y="761.2" font-size="11" text-anchor="middle" fill="#000" >9.86</text>
<text x="1076.8" y="746.2" font-size="11" text-anchor="middle" fill="#000" >9.86</text>
<text x="545.5" y="761.2" font-size="11" text-anchor="middle" fill="#000" >Re</text>
<text x="1142.7" y="746.2" font-size="11" text-anchor="middle" fill="#000" >Re</text>
<text x="53.5" y="779" font-size="11" text-anchor="middle" fill="#000" >Y</text>
<text x="650.5" y="763.7" font-size="11" text-anchor="middle" fill="#000" >Y</text>
<text x="89.9" y="779" font-size="11" text-anchor="middle" fill="#000" >0.77</text>
<text x="687" y="763.7" font-size="11" text-anchor="middle" fill="#000" >0.77</text>
<text x="187.3" y="779" font-size="11" text-anchor="middle" fill="#000" >0.776</text>
<text x="784.4" y="763.7" font-size="11" text-anchor="middle" fill="#000" >0.776</text>
<text x="284.8" y="779" font-size="11" text-anchor="middle" fill="#000" >0.782</text>
<text x="881.9" y="763.7" font-size="11" text-anchor="middle" fill="#000" >0.782</text>
<text x="382.2" y="779" font-size="11" text-anchor="middle" fill="#000" >0.787</text>
<text x="979.3" y="763.7" font-size="11" text-anchor="middle" fill="#000" >0.787</text>
<text x="479.7" y="779" font-size="11" text-anchor="middle" fill="#000" >0.793</text>
<text x="1076.8" y="763.7" font-size="11" text-anchor="middle" fill="#000" >0.793</text>
<text x="545.5" y="779" font-size="11" text-anchor="middle" fill="#000" >Re</text>
<text x="1142.7" y="763.7" font-size="11" text-anchor="middle" fill="#000" >Re</text>
<text x="53.5" y="796.8" font-size="11" text-anchor="middle" fill="#000" >Z</text>
<text x="650.5" y="781.2" font-size="11" text-anchor="middle" fill="#000" >Z</text>
<text x="89.9" y="796.8" font-size="11" text-anchor="middle" fill="#000" >-0.391</text>
<text x="687" y="781.2" font-size="11" text-anchor="middle" fill="#000" >-0.391</text>
<text x="187.3" y="796.8" font-size="11" text-anchor="middle" fill="#000" >-0.39</text>
<text x="784.4" y="781.2" font-size="11" text-anchor="middle" fill="#000" >-0.39</text>
<text x="284.8" y="796.8" font-size="11" text-anchor="middle" fill="#000" >-0.388</text>
<text x="881.9" y="781.2" font-size="11" text-anchor="middle" fill="#000" >-0.388</text>
<text x="382.2" y="796.8" font-size="11" text-anchor="middle" fill="#000" >-0.387</text>
<text x="979.3" y="781.2" font-size="11" text-anchor="middle" fill="#000" >-0.387</text>
<text x="479.7" y="796.8" font-size="11" text-anchor="middle" fill="#000" >-0.385</text>
<text x="1076.8" y="781.2" font-size="11" text-anchor="middle" fill="#000" >-0.385</text>
<text x="545.5" y="796.8" font-size="11" text-anchor="middle" fill="#000" >Re</text>
<text x="1142.7" y="781.2" font-size="11" text-anchor="middle" fill="#000" >Re</text>
<text x="591.2" y="837.4" font-size="12" text-anchor="end" fill="#000" >paschmann 22-Nov-2018 09:35</text>
<text x="1188.2" y="837.4" font-size="12" text-anchor="end" fill="#000" >paschmann 22-Nov-2018 09:35</text>
</svg>
<pre>:
 Event ID         : 20161208_053124
 FlagStr          : msh,udef,mon,gf,mult,compl,keep
 GSEpos [Re]      : [ 9.82, 0.76, -0.39 ]
                  :
 LMN coords       :
    L             : [ -0.442, -0.882,  0.164 ]
    M             : [ -0.322,  0.327,  0.889 ]
    N             : [  0.837, -0.340,  0.428 ]
                  :
  Times           : (as indicated by red, green lines in plots)
    t_0           : 05:32:32  (red dotted line)
    t_MVAB1       : 05:32:23  (leftmost green line)
    t_MVAB2       : 05:32:40  (rightmost green line)
                  :
|Bmin|, |Vmax|    :
    Bmin          : 4.68 [nT]  at 05:32:01
    Vmax_tht      : 227.35 [km/s]  at 05:32:35
    Vmax_tburst   : 258.94 [km/s]  at 05:33:37
                  :
 Normals          :
    N MVAB        : [  0.815, -0.527, -0.241 ]   (L2/L1 = 5.07)
    N MVAB0       : [  0.842, -0.507,  0.182 ]   (L3/L2 = 19.21)
    N MFR         : [  0.855, -0.519, -0.001 ]   (L2/L1 = 3.52)
                  :
 Durations [s]    : (between red, resp green lines)
    T_CS          : 8.10
    T_MFR/HT      : 16.20
                  :
 Velocity [km/s]  : (based on FPI ion data)
    VnMFR         : -144.6
    VHT.Nmvab     : 153.0  (HTcc = 0.960)
    VHT.Nmvab0    : 142.0
                  :
 CS thickness [km]: (D=T_CS * Vs from above)
    D1=TCS*Vnmfr  : 1,171
    D2=TCS*VHTn   : 1,240
    D3=TCS*VHTn0  : 1,150
                  :
 Currents [uA/m2] :
    Jave_CS       : 0.468
    Jmax_THT      : 2.786  at 05:32:32
    Jmax_brst     : 4.777  at 05:31:51
                  :
 HPCA mom [1/cm3] :   Min   -  Max    (  Ave   )  within full brst int
    H+            :  38.846 - 50.660  ( 45.740 )
    He+           :   0.003 -  0.050  (  0.003 )
    He++          :   1.218 -  3.633  (  1.861 )
    O+            :   0.010 -  0.127  (  0.015 )
                  :
 SEH date         : 2019-11-29 10:13:34
                  :</pre>
</body></html>
